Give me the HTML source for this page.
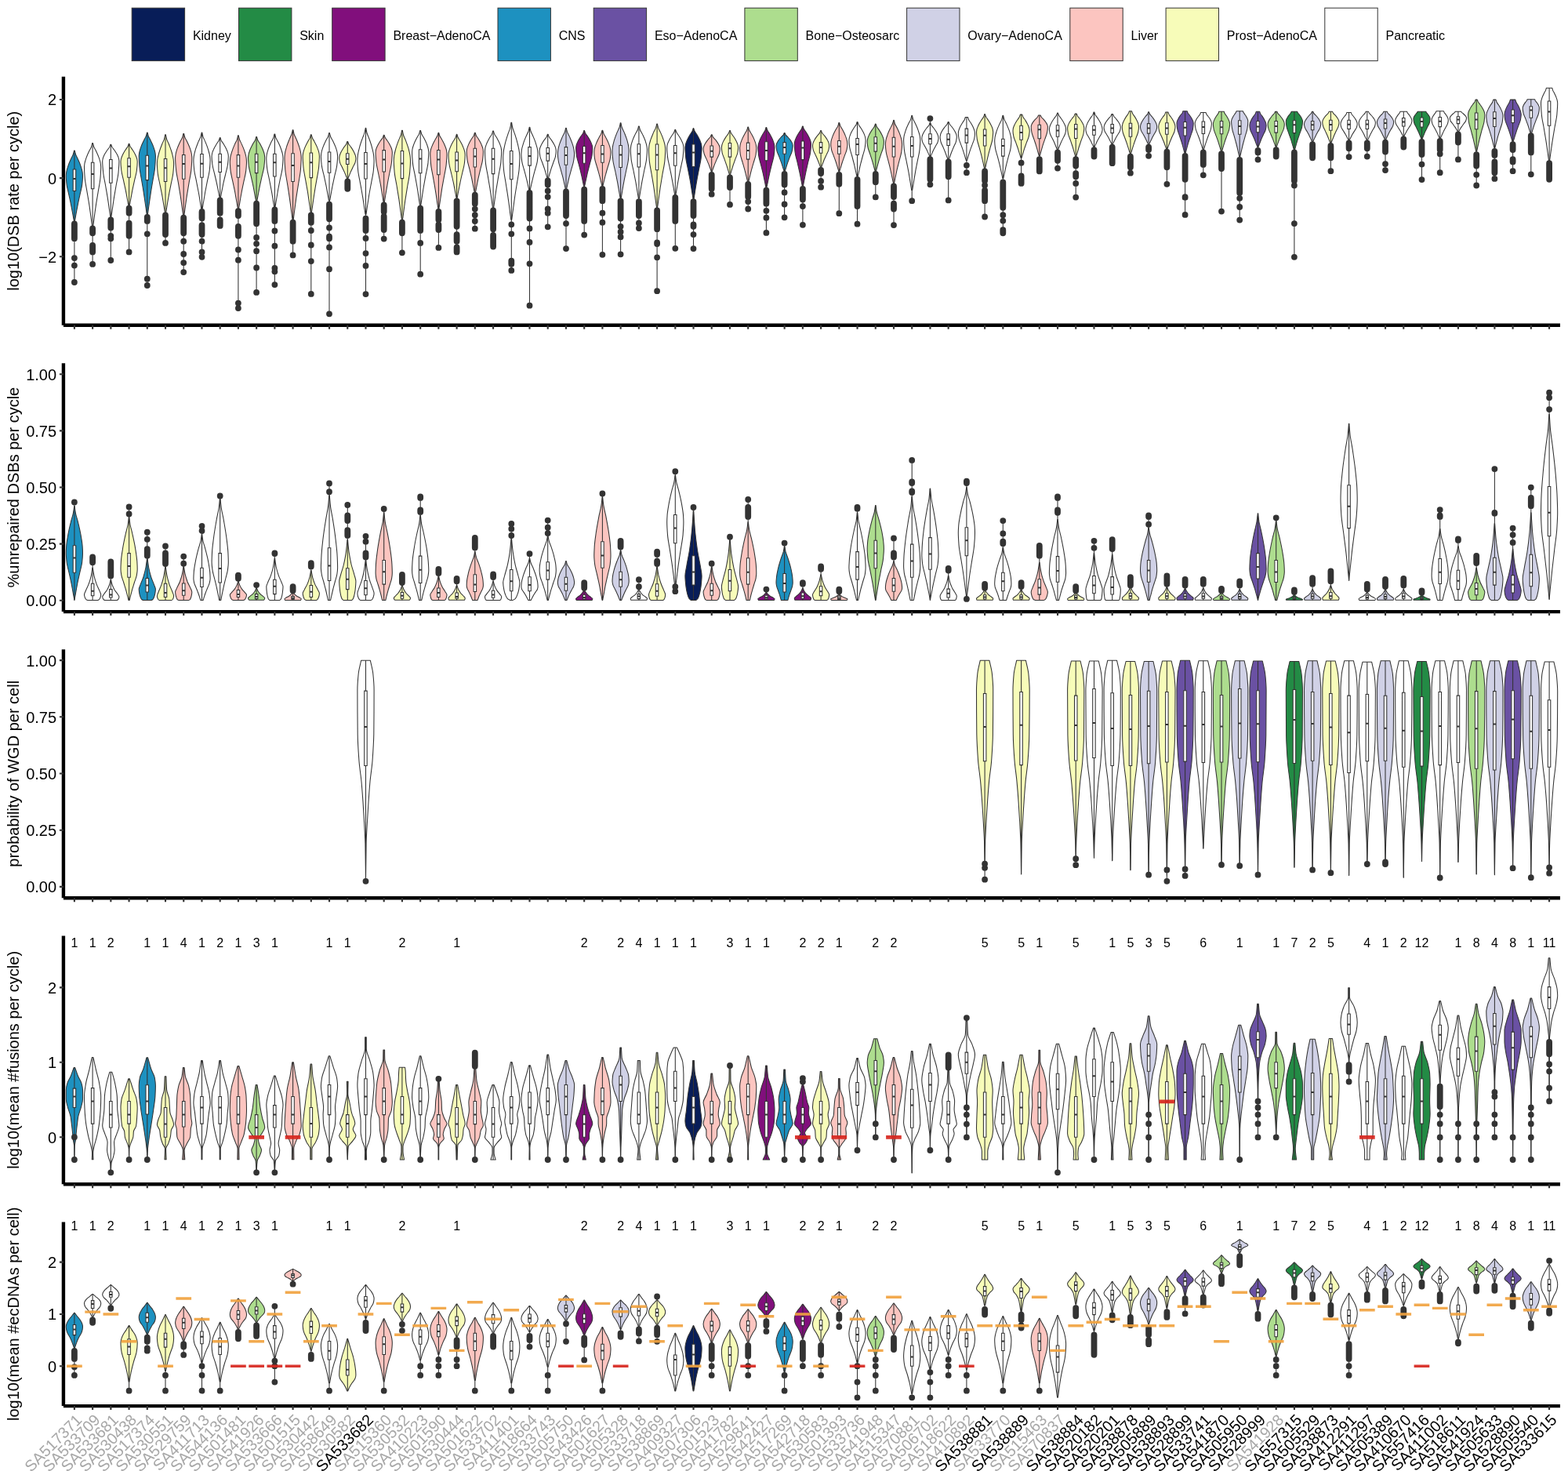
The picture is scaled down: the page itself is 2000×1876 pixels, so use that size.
<!DOCTYPE html>
<html lang="en"><head><meta charset="utf-8"><title>Violin plots</title>
<style>html,body{margin:0;padding:0;background:#fff}svg{display:block}</style></head>
<body>
<svg width="2000" height="1876" viewBox="0 0 2000 1876" font-family="'Liberation Sans', Arial, Helvetica, sans-serif">
<rect width="2000" height="1876" fill="#fff"/>
<g stroke="#333" stroke-width="1">
<rect x="168.2" y="10.2" width="67.4" height="67.4" fill="#081d58"/>
<rect x="304.5" y="10.2" width="67.4" height="67.4" fill="#238b45"/>
<rect x="423.7" y="10.2" width="67.4" height="67.4" fill="#810f7c"/>
<rect x="635" y="10.2" width="67.4" height="67.4" fill="#1d91c0"/>
<rect x="757.2" y="10.2" width="67.4" height="67.4" fill="#6a51a3"/>
<rect x="949.9" y="10.2" width="67.4" height="67.4" fill="#addd8e"/>
<rect x="1156.6" y="10.2" width="67.4" height="67.4" fill="#d0d1e6"/>
<rect x="1364.8" y="10.2" width="67.4" height="67.4" fill="#fcc5c0"/>
<rect x="1487.1" y="10.2" width="67.4" height="67.4" fill="#f7fcb9"/>
<rect x="1689.8" y="10.2" width="67.4" height="67.4" fill="#ffffff"/>
</g>
<g font-size="16.0" fill="#000">
<text x="245.9" y="50.6">Kidney</text>
<text x="382.2" y="50.6">Skin</text>
<text x="501.4" y="50.6">Breast−AdenoCA</text>
<text x="712.7" y="50.6">CNS</text>
<text x="834.9" y="50.6">Eso−AdenoCA</text>
<text x="1027.6" y="50.6">Bone−Osteosarc</text>
<text x="1234.3" y="50.6">Ovary−AdenoCA</text>
<text x="1442.5" y="50.6">Liver</text>
<text x="1564.8" y="50.6">Prost−AdenoCA</text>
<text x="1767.5" y="50.6">Pancreatic</text>
</g>
<g stroke="#333" stroke-width="1.05" stroke-linejoin="round">
<path fill="#1d91c0" d="M95.2 191.9C95.6 193.5 95.9 195.2 96.5 196.8C97.1 198.8 98.5 200.7 99.3 202.7C100.7 205.7 102.1 208.8 103 211.8C103.9 214.4 104.8 217 105.1 219.6C105.3 221.2 105.5 222.9 105.5 224.5C105.5 228.1 105.1 231.8 104.7 235.4C104.2 239.8 102.8 244.2 101.9 248.6C100.9 253 99.9 257.4 99.1 261.9C98.2 266.3 97.4 270.7 96.6 275.1C96.2 277.4 95.8 279.7 95.4 282L94.4 282C94 279.7 93.6 277.4 93.2 275.1C92.4 270.7 91.6 266.3 90.7 261.9C89.9 257.4 88.9 253 87.9 248.6C87 244.2 85.6 239.8 85.1 235.4C84.7 231.8 84.3 228.1 84.3 224.5C84.3 222.9 84.5 221.2 84.7 219.6C85 217 85.9 214.4 86.8 211.8C87.7 208.8 89.1 205.7 90.5 202.7C91.3 200.7 92.7 198.8 93.3 196.8C93.9 195.2 94.2 193.5 94.6 191.9Z"/>
<path fill="#ffffff" d="M118.4 182.5C118.9 184 119.1 185.6 119.7 187.1C120.3 189 121.7 190.8 122.6 192.7C123.9 195.5 125.3 198.4 126.3 201.3C127.1 203.8 128 206.3 128.3 208.7C128.5 210.3 128.7 211.8 128.7 213.4C128.7 218.1 128.3 222.9 127.9 227.7C127.4 233.5 126 239.3 125.1 245.1C124.2 250.8 123.1 256.6 122.3 262.4C121.4 268.2 120.6 274 119.9 279.8C119.5 282.8 119.1 285.8 118.7 288.8L117.6 288.8C117.2 285.8 116.8 282.8 116.4 279.8C115.6 274 114.8 268.2 114 262.4C113.1 256.6 112.1 250.8 111.1 245.1C110.2 239.3 108.8 233.5 108.3 227.7C107.9 222.9 107.5 218.1 107.5 213.4C107.5 211.8 107.7 210.3 107.9 208.7C108.3 206.3 109.2 203.8 110 201.3C111 198.4 112.3 195.5 113.7 192.7C114.6 190.8 115.9 189 116.6 187.1C117.1 185.6 117.4 184 117.8 182.5Z"/>
<path fill="#ffffff" d="M141.7 184.2C142.1 185.3 142.4 186.3 142.9 187.4C143.5 188.7 144.9 190 145.8 191.3C147.1 193.3 148.5 195.3 149.5 197.3C150.3 199 151.2 200.7 151.5 202.4C151.7 203.5 151.9 204.6 151.9 205.6C151.9 210.1 151.5 214.7 151.1 219.2C150.7 224.6 149.3 230.1 148.3 235.5C147.4 241 146.4 246.4 145.5 251.9C144.6 257.4 143.9 262.8 143.1 268.3C142.7 271.1 142.3 274 141.9 276.8L140.8 276.8C140.4 274 140 271.1 139.6 268.3C138.8 262.8 138.1 257.4 137.2 251.9C136.3 246.4 135.3 241 134.4 235.5C133.4 230.1 132 224.6 131.6 219.2C131.2 214.7 130.7 210.1 130.7 205.6C130.7 204.6 131 203.5 131.2 202.4C131.5 200.7 132.4 199 133.2 197.3C134.2 195.3 135.6 193.3 136.9 191.3C137.8 190 139.2 188.7 139.8 187.4C140.3 186.3 140.6 185.3 141 184.2Z"/>
<path fill="#f7fcb9" d="M164.9 183.3C165.3 184.5 165.6 185.7 166.1 186.8C166.8 188.2 168.1 189.6 169 191C170.4 193.1 171.7 195.3 172.7 197.5C173.5 199.3 174.4 201.2 174.8 203C175 204.2 175.2 205.3 175.2 206.5C175.2 210.1 174.8 213.7 174.4 217.2C173.9 221.6 172.5 225.9 171.5 230.3C170.6 234.6 169.6 238.9 168.7 243.3C167.9 247.6 167.1 252 166.3 256.3C165.9 258.6 165.5 260.8 165.1 263.1L164 263.1C163.6 260.8 163.2 258.6 162.8 256.3C162 252 161.3 247.6 160.4 243.3C159.5 238.9 158.5 234.6 157.6 230.3C156.7 225.9 155.3 221.6 154.8 217.2C154.4 213.7 154 210.1 154 206.5C154 205.3 154.2 204.2 154.4 203C154.7 201.2 155.6 199.3 156.4 197.5C157.4 195.3 158.8 193.1 160.1 191C161 189.6 162.4 188.2 163 186.8C163.6 185.7 163.8 184.5 164.3 183.3Z"/>
<path fill="#1d91c0" d="M188.1 169.1C188.5 170.6 188.8 172.2 189.3 173.7C190 175.5 191.4 177.3 192.2 179.2C193.6 182 195 184.9 195.9 187.7C196.8 190.2 197.7 192.6 198 195.1C198.2 196.6 198.4 198.1 198.4 199.6C198.4 204.4 198 209.1 197.6 213.8C197.1 219.5 195.7 225.2 194.8 231C193.8 236.7 192.8 242.4 192 248.1C191.1 253.9 190.3 259.6 189.5 265.3C189.1 268.3 188.7 271.3 188.3 274.2L187.3 274.2C186.9 271.3 186.5 268.3 186.1 265.3C185.3 259.6 184.5 253.9 183.6 248.1C182.8 242.4 181.8 236.7 180.8 231C179.9 225.2 178.5 219.5 178 213.8C177.6 209.1 177.2 204.4 177.2 199.6C177.2 198.1 177.4 196.6 177.6 195.1C177.9 192.6 178.8 190.2 179.7 187.7C180.6 184.9 182 182 183.4 179.2C184.2 177.3 185.6 175.5 186.2 173.7C186.8 172.2 187.1 170.6 187.5 169.1Z"/>
<path fill="#f7fcb9" d="M211.3 171.7C211.8 173.5 212 175.4 212.6 177.3C213.2 179.5 214.6 181.8 215.5 184C216.8 187.5 218.2 191 219.2 194.5C220 197.5 220.9 200.5 221.2 203.5C221.4 205.3 221.6 207.2 221.6 209.1C221.6 213 221.2 217 220.8 221C220.3 225.8 218.9 230.6 218 235.4C217.1 240.2 216 245 215.2 249.8C214.3 254.6 213.5 259.4 212.8 264.2C212.3 266.7 212 269.2 211.6 271.7L210.5 271.7C210.1 269.2 209.7 266.7 209.3 264.2C208.5 259.4 207.7 254.6 206.9 249.8C206 245 205 240.2 204 235.4C203.1 230.6 201.7 225.8 201.2 221C200.8 217 200.4 213 200.4 209.1C200.4 207.2 200.6 205.3 200.8 203.5C201.2 200.5 202.1 197.5 202.9 194.5C203.9 191 205.2 187.5 206.6 184C207.5 181.8 208.8 179.5 209.5 177.3C210 175.4 210.3 173.5 210.7 171.7Z"/>
<path fill="#fcc5c0" d="M234.6 170.5C235 172 235.3 173.6 235.8 175.1C236.4 177 237.8 178.8 238.7 180.7C240 183.5 241.4 186.4 242.4 189.3C243.2 191.8 244.1 194.2 244.4 196.7C244.6 198.3 244.8 199.8 244.8 201.3C244.8 206 244.4 210.7 244 215.4C243.6 221 242.2 226.7 241.2 232.3C240.3 238 239.3 243.6 238.4 249.3C237.5 254.9 236.8 260.6 236 266.3C235.6 269.2 235.2 272.2 234.8 275.1L233.7 275.1C233.3 272.2 232.9 269.2 232.5 266.3C231.7 260.6 231 254.9 230.1 249.3C229.2 243.6 228.2 238 227.3 232.3C226.3 226.7 224.9 221 224.5 215.4C224.1 210.7 223.6 206 223.6 201.3C223.6 199.8 223.9 198.3 224.1 196.7C224.4 194.2 225.3 191.8 226.1 189.3C227.1 186.4 228.5 183.5 229.8 180.7C230.7 178.8 232 177 232.7 175.1C233.2 173.6 233.5 172 233.9 170.5Z"/>
<path fill="#ffffff" d="M257.8 169.1C258.2 170.9 258.5 172.7 259 174.5C259.7 176.6 261 178.7 261.9 180.9C263.3 184.2 264.6 187.5 265.6 190.9C266.4 193.7 267.3 196.6 267.7 199.4C267.9 201.2 268.1 203 268.1 204.8C268.1 208.7 267.7 212.7 267.3 216.7C266.8 221.5 265.4 226.3 264.4 231.1C263.5 235.9 262.5 240.7 261.6 245.5C260.8 250.3 260 255.1 259.2 259.9C258.8 262.4 258.4 264.9 258 267.4L256.9 267.4C256.5 264.9 256.1 262.4 255.7 259.9C254.9 255.1 254.2 250.3 253.3 245.5C252.4 240.7 251.4 235.9 250.5 231.1C249.6 226.3 248.2 221.5 247.7 216.7C247.3 212.7 246.9 208.7 246.9 204.8C246.9 203 247.1 201.2 247.3 199.4C247.6 196.6 248.5 193.7 249.3 190.9C250.3 187.5 251.7 184.2 253 180.9C253.9 178.7 255.3 176.6 255.9 174.5C256.5 172.7 256.7 170.9 257.2 169.1Z"/>
<path fill="#ffffff" d="M281 175.6C281.4 176.8 281.7 178 282.2 179.2C282.9 180.7 284.2 182.1 285.1 183.5C286.5 185.8 287.9 188 288.8 190.3C289.7 192.2 290.6 194.1 290.9 196C291.1 197.2 291.3 198.4 291.3 199.6C291.3 203 290.9 206.4 290.5 209.7C290 213.8 288.6 217.9 287.7 222C286.7 226 285.7 230.1 284.8 234.2C284 238.3 283.2 242.3 282.4 246.4C282 248.6 281.6 250.7 281.2 252.8L280.2 252.8C279.8 250.7 279.4 248.6 279 246.4C278.2 242.3 277.4 238.3 276.5 234.2C275.7 230.1 274.7 226 273.7 222C272.8 217.9 271.4 213.8 270.9 209.7C270.5 206.4 270.1 203 270.1 199.6C270.1 198.4 270.3 197.2 270.5 196C270.8 194.1 271.7 192.2 272.6 190.3C273.5 188 274.9 185.8 276.3 183.5C277.1 182.1 278.5 180.7 279.1 179.2C279.7 178 280 176.8 280.4 175.6Z"/>
<path fill="#fcc5c0" d="M304.2 172.7C304.6 174.4 304.9 176.1 305.5 177.8C306.1 179.8 307.5 181.8 308.3 183.9C309.7 187 311.1 190.2 312.1 193.3C312.9 196 313.8 198.7 314.1 201.4C314.3 203.1 314.5 204.8 314.5 206.5C314.5 210.3 314.1 214.1 313.7 217.9C313.2 222.5 311.8 227.1 310.9 231.7C310 236.3 308.9 240.9 308.1 245.5C307.2 250.1 306.4 254.7 305.7 259.3C305.2 261.7 304.9 264.1 304.4 266.5L303.4 266.5C303 264.1 302.6 261.7 302.2 259.3C301.4 254.7 300.6 250.1 299.8 245.5C298.9 240.9 297.9 236.3 296.9 231.7C296 227.1 294.6 222.5 294.1 217.9C293.7 214.1 293.3 210.3 293.3 206.5C293.3 204.8 293.5 203.1 293.7 201.4C294 198.7 295 196 295.8 193.3C296.8 190.2 298.1 187 299.5 183.9C300.4 181.8 301.7 179.8 302.4 177.8C302.9 176.1 303.2 174.4 303.6 172.7Z"/>
<path fill="#addd8e" d="M327.5 174.4C327.9 175.8 328.2 177.1 328.7 178.5C329.3 180.1 330.7 181.7 331.6 183.3C332.9 185.8 334.3 188.3 335.3 190.8C336.1 193 337 195.2 337.3 197.3C337.5 198.7 337.7 200 337.7 201.3C337.7 204.9 337.3 208.4 336.9 211.9C336.5 216.2 335.1 220.5 334.1 224.8C333.2 229 332.2 233.3 331.3 237.6C330.4 241.9 329.7 246.1 328.9 250.4C328.5 252.6 328.1 254.9 327.7 257.1L326.6 257.1C326.2 254.9 325.8 252.6 325.4 250.4C324.6 246.1 323.9 241.9 323 237.6C322.1 233.3 321.1 229 320.2 224.8C319.2 220.5 317.8 216.2 317.3 211.9C317 208.4 316.5 204.9 316.5 201.3C316.5 200 316.8 198.7 317 197.3C317.3 195.2 318.2 193 319 190.8C320 188.3 321.4 185.8 322.7 183.3C323.6 181.7 324.9 180.1 325.6 178.5C326.1 177.1 326.4 175.8 326.8 174.4Z"/>
<path fill="#ffffff" d="M350.7 171C351.1 172.5 351.4 174.1 351.9 175.7C352.6 177.5 353.9 179.4 354.8 181.3C356.2 184.2 357.5 187.1 358.5 190C359.3 192.5 360.2 195 360.6 197.5C360.8 199.1 361 200.6 361 202.2C361 206.2 360.6 210.1 360.2 214.1C359.7 218.9 358.3 223.7 357.3 228.5C356.4 233.3 355.4 238.1 354.5 242.9C353.7 247.7 352.9 252.5 352.1 257.3C351.7 259.8 351.3 262.3 350.9 264.8L349.8 264.8C349.4 262.3 349 259.8 348.6 257.3C347.8 252.5 347.1 247.7 346.2 242.9C345.3 238.1 344.3 233.3 343.4 228.5C342.5 223.7 341 218.9 340.6 214.1C340.2 210.1 339.8 206.2 339.8 202.2C339.8 200.6 340 199.1 340.2 197.5C340.5 195 341.4 192.5 342.2 190C343.2 187.1 344.6 184.2 345.9 181.3C346.8 179.4 348.2 177.5 348.8 175.7C349.4 174.1 349.6 172.5 350 171Z"/>
<path fill="#fcc5c0" d="M373.9 165.7C374.3 167.5 374.6 169.2 375.1 171C375.8 173.2 377.1 175.3 378 177.4C379.4 180.8 380.8 184.1 381.7 187.4C382.5 190.3 383.5 193.1 383.8 196C384 197.8 384.2 199.6 384.2 201.3C384.2 206.4 383.8 211.4 383.4 216.5C382.9 222.6 381.5 228.7 380.6 234.8C379.6 241 378.6 247.1 377.7 253.2C376.9 259.3 376.1 265.4 375.3 271.5C374.9 274.7 374.5 277.9 374.1 281.1L373.1 281.1C372.7 277.9 372.3 274.7 371.9 271.5C371.1 265.4 370.3 259.3 369.4 253.2C368.6 247.1 367.6 241 366.6 234.8C365.7 228.7 364.3 222.6 363.8 216.5C363.4 211.4 363 206.4 363 201.3C363 199.6 363.2 197.8 363.4 196C363.7 193.1 364.6 190.3 365.5 187.4C366.4 184.1 367.8 180.8 369.2 177.4C370 175.3 371.4 173.2 372 171C372.6 169.2 372.9 167.5 373.3 165.7Z"/>
<path fill="#f7fcb9" d="M397.1 171.7C397.5 173.1 397.8 174.5 398.4 175.9C399 177.5 400.4 179.2 401.2 180.9C402.6 183.5 404 186.1 404.9 188.7C405.8 191 406.7 193.2 407 195.4C407.2 196.8 407.4 198.2 407.4 199.6C407.4 204.2 407 208.8 406.6 213.3C406.1 218.8 404.7 224.4 403.8 229.9C402.8 235.4 401.8 240.9 401 246.5C400.1 252 399.3 257.5 398.6 263C398.1 265.9 397.7 268.8 397.3 271.7L396.3 271.7C395.9 268.8 395.5 265.9 395.1 263C394.3 257.5 393.5 252 392.7 246.5C391.8 240.9 390.8 235.4 389.8 229.9C388.9 224.4 387.5 218.8 387 213.3C386.6 208.8 386.2 204.2 386.2 199.6C386.2 198.2 386.4 196.8 386.6 195.4C386.9 193.2 387.9 191 388.7 188.7C389.6 186.1 391 183.5 392.4 180.9C393.3 179.2 394.6 177.5 395.3 175.9C395.8 174.5 396.1 173.1 396.5 171.7Z"/>
<path fill="#ffffff" d="M420.4 169.6C420.8 171.1 421.1 172.6 421.6 174.1C422.2 175.9 423.6 177.7 424.5 179.5C425.8 182.3 427.2 185.1 428.2 187.9C429 190.3 429.9 192.7 430.2 195.1C430.4 196.6 430.6 198.1 430.6 199.6C430.6 203.2 430.2 206.8 429.8 210.4C429.4 214.7 428 219.1 427 223.4C426.1 227.7 425.1 232.1 424.2 236.4C423.3 240.8 422.6 245.1 421.8 249.4C421.4 251.7 421 254 420.6 256.2L419.5 256.2C419.1 254 418.7 251.7 418.3 249.4C417.5 245.1 416.8 240.8 415.9 236.4C415 232.1 414 227.7 413.1 223.4C412.1 219.1 410.7 214.7 410.2 210.4C409.9 206.8 409.4 203.2 409.4 199.6C409.4 198.1 409.7 196.6 409.9 195.1C410.2 192.7 411.1 190.3 411.9 187.9C412.9 185.1 414.2 182.3 415.6 179.5C416.5 177.7 417.8 175.9 418.5 174.1C419 172.6 419.3 171.1 419.7 169.6Z"/>
<path fill="#f7fcb9" d="M443.6 180.4C444 181.5 444.3 182.6 444.8 183.7C445.5 185 446.8 186.3 447.7 187.6C449.1 189.6 450.4 191.7 451.4 193.7C452.2 195.5 453.1 197.2 453.5 198.9C453.7 200 453.9 201.1 453.9 202.2C453.9 203.8 453.5 205.5 453.1 207.1C452.6 209.1 451.2 211 450.2 213C449.3 215 448.3 217 447.4 218.9C446.6 220.9 445.8 222.9 445 224.8C444.6 225.9 444.2 226.9 443.8 227.9L442.7 227.9C442.3 226.9 441.9 225.9 441.5 224.8C440.7 222.9 440 220.9 439.1 218.9C438.2 217 437.2 215 436.3 213C435.3 211 433.9 209.1 433.5 207.1C433.1 205.5 432.7 203.8 432.7 202.2C432.7 201.1 432.9 200 433.1 198.9C433.4 197.2 434.3 195.5 435.1 193.7C436.1 191.7 437.5 189.6 438.8 187.6C439.7 186.3 441.1 185 441.7 183.7C442.2 182.6 442.5 181.5 442.9 180.4Z"/>
<path fill="#ffffff" d="M466.8 163.3C467.2 165.3 467.5 167.4 468 169.5C468.7 172 470 174.5 470.9 177C472.3 180.8 473.7 184.7 474.6 188.6C475.4 191.9 476.4 195.2 476.7 198.6C476.9 200.6 477.1 202.7 477.1 204.8C477.1 209.1 476.7 213.5 476.3 217.8C475.8 223.1 474.4 228.3 473.5 233.6C472.5 238.9 471.5 244.1 470.6 249.4C469.8 254.6 469 259.9 468.2 265.2C467.8 267.9 467.4 270.6 467 273.4L466 273.4C465.6 270.6 465.2 267.9 464.7 265.2C464 259.9 463.2 254.6 462.3 249.4C461.5 244.1 460.5 238.9 459.5 233.6C458.6 228.3 457.2 223.1 456.7 217.8C456.3 213.5 455.9 209.1 455.9 204.8C455.9 202.7 456.1 200.6 456.3 198.6C456.6 195.2 457.5 191.9 458.4 188.6C459.3 184.7 460.7 180.8 462.1 177C462.9 174.5 464.3 172 464.9 169.5C465.5 167.4 465.8 165.3 466.2 163.3Z"/>
<path fill="#fcc5c0" d="M490 172.2C490.4 173.3 490.7 174.4 491.3 175.5C491.9 176.9 493.3 178.2 494.1 179.5C495.5 181.6 496.9 183.7 497.8 185.8C498.7 187.6 499.6 189.4 499.9 191.1C500.1 192.3 500.3 193.4 500.3 194.5C500.3 198.6 499.9 202.6 499.5 206.7C499 211.6 497.6 216.6 496.7 221.5C495.7 226.4 494.7 231.4 493.9 236.3C493 241.2 492.2 246.2 491.4 251.1C491 253.7 490.6 256.2 490.2 258.8L489.2 258.8C488.8 256.2 488.4 253.7 488 251.1C487.2 246.2 486.4 241.2 485.6 236.3C484.7 231.4 483.7 226.4 482.7 221.5C481.8 216.6 480.4 211.6 479.9 206.7C479.5 202.6 479.1 198.6 479.1 194.5C479.1 193.4 479.3 192.3 479.5 191.1C479.8 189.4 480.8 187.6 481.6 185.8C482.5 183.7 483.9 181.6 485.3 179.5C486.2 178.2 487.5 176.9 488.2 175.5C488.7 174.4 489 173.3 489.4 172.2Z"/>
<path fill="#f7fcb9" d="M513.3 166.2C513.7 168.1 513.9 170 514.5 172C515.1 174.3 516.5 176.6 517.4 178.9C518.7 182.5 520.1 186.1 521.1 189.7C521.9 192.8 522.8 195.9 523.1 199C523.3 200.9 523.5 202.8 523.5 204.8C523.5 209.6 523.1 214.3 522.7 219.1C522.3 224.9 520.9 230.7 519.9 236.5C519 242.3 518 248 517.1 253.8C516.2 259.6 515.5 265.4 514.7 271.2C514.3 274.2 513.9 277.2 513.5 280.2L512.4 280.2C512 277.2 511.6 274.2 511.2 271.2C510.4 265.4 509.6 259.6 508.8 253.8C507.9 248 506.9 242.3 506 236.5C505 230.7 503.6 224.9 503.1 219.1C502.7 214.3 502.3 209.6 502.3 204.8C502.3 202.8 502.5 200.9 502.7 199C503.1 195.9 504 192.8 504.8 189.7C505.8 186.1 507.1 182.5 508.5 178.9C509.4 176.6 510.7 174.3 511.4 172C511.9 170 512.2 168.1 512.6 166.2Z"/>
<path fill="#ffffff" d="M536.5 166.5C536.9 167.9 537.2 169.3 537.7 170.7C538.4 172.4 539.7 174.1 540.6 175.8C542 178.4 543.3 181 544.3 183.6C545.1 185.8 546 188.1 546.3 190.3C546.5 191.7 546.8 193.1 546.8 194.5C546.8 198.8 546.3 203.1 546 207.4C545.5 212.6 544.1 217.7 543.1 222.9C542.2 228.1 541.2 233.3 540.3 238.5C539.4 243.7 538.7 248.9 537.9 254.1C537.5 256.8 537.1 259.5 536.7 262.2L535.6 262.2C535.2 259.5 534.8 256.8 534.4 254.1C533.6 248.9 532.9 243.7 532 238.5C531.1 233.3 530.1 228.1 529.2 222.9C528.2 217.7 526.8 212.6 526.4 207.4C526 203.1 525.6 198.8 525.6 194.5C525.6 193.1 525.8 191.7 526 190.3C526.3 188.1 527.2 185.8 528 183.6C529 181 530.4 178.4 531.7 175.8C532.6 174.1 534 172.4 534.6 170.7C535.1 169.3 535.4 167.9 535.8 166.5Z"/>
<path fill="#fcc5c0" d="M559.7 169.3C560.1 170.6 560.4 172 560.9 173.3C561.6 174.9 562.9 176.5 563.8 178.2C565.2 180.7 566.6 183.2 567.5 185.7C568.3 187.9 569.3 190 569.6 192.2C569.8 193.5 570 194.9 570 196.2C570 200.7 569.6 205.1 569.2 209.6C568.7 215 567.3 220.3 566.4 225.7C565.4 231.1 564.4 236.5 563.5 241.9C562.7 247.3 561.9 252.7 561.1 258.1C560.7 260.9 560.3 263.7 559.9 266.5L558.9 266.5C558.5 263.7 558.1 260.9 557.6 258.1C556.9 252.7 556.1 247.3 555.2 241.9C554.4 236.5 553.3 231.1 552.4 225.7C551.5 220.3 550.1 215 549.6 209.6C549.2 205.1 548.8 200.7 548.8 196.2C548.8 194.9 549 193.5 549.2 192.2C549.5 190 550.4 187.9 551.3 185.7C552.2 183.2 553.6 180.7 555 178.2C555.8 176.5 557.2 174.9 557.8 173.3C558.4 172 558.7 170.6 559.1 169.3Z"/>
<path fill="#f7fcb9" d="M582.9 171.3C583.3 172.7 583.6 174 584.2 175.3C584.8 176.9 586.2 178.5 587 180.1C588.4 182.6 589.8 185.1 590.7 187.5C591.6 189.7 592.5 191.8 592.8 193.9C593 195.3 593.2 196.6 593.2 197.9C593.2 201.4 592.8 204.9 592.4 208.3C591.9 212.6 590.5 216.8 589.6 221C588.6 225.2 587.6 229.4 586.8 233.6C585.9 237.8 585.1 242 584.3 246.2C583.9 248.4 583.5 250.6 583.1 252.8L582.1 252.8C581.7 250.6 581.3 248.4 580.9 246.2C580.1 242 579.3 237.8 578.5 233.6C577.6 229.4 576.6 225.2 575.6 221C574.7 216.8 573.3 212.6 572.8 208.3C572.4 204.9 572 201.4 572 197.9C572 196.6 572.2 195.3 572.4 193.9C572.7 191.8 573.6 189.7 574.5 187.5C575.4 185.1 576.8 182.6 578.2 180.1C579.1 178.5 580.4 176.9 581.1 175.3C581.6 174 581.9 172.7 582.3 171.3Z"/>
<path fill="#fcc5c0" d="M606.2 169.3C606.6 170.5 606.8 171.7 607.4 172.9C608 174.4 609.4 175.8 610.3 177.3C611.6 179.6 613 181.9 614 184.1C614.8 186.1 615.7 188 616 190C616.2 191.2 616.4 192.4 616.4 193.6C616.4 196.9 616 200.3 615.6 203.6C615.2 207.6 613.7 211.6 612.8 215.6C611.9 219.6 610.9 223.6 610 227.6C609.1 231.6 608.4 235.7 607.6 239.7C607.2 241.8 606.8 243.9 606.4 245.9L605.3 245.9C604.9 243.9 604.5 241.8 604.1 239.7C603.3 235.7 602.5 231.6 601.7 227.6C600.8 223.6 599.8 219.6 598.9 215.6C597.9 211.6 596.5 207.6 596 203.6C595.6 200.3 595.2 196.9 595.2 193.6C595.2 192.4 595.4 191.2 595.6 190C596 188 596.9 186.1 597.7 184.1C598.7 181.9 600 179.6 601.4 177.3C602.3 175.8 603.6 174.4 604.3 172.9C604.8 171.7 605.1 170.5 605.5 169.3Z"/>
<path fill="#ffffff" d="M629.4 167C629.8 168.3 630.1 169.6 630.6 170.9C631.3 172.4 632.6 174 633.5 175.5C634.8 177.9 636.2 180.3 637.2 182.7C638 184.8 638.9 186.9 639.2 188.9C639.4 190.2 639.7 191.5 639.7 192.8C639.7 197.4 639.2 202 638.9 206.6C638.4 212.2 637 217.8 636 223.4C635.1 229 634.1 234.6 633.2 240.2C632.3 245.7 631.6 251.3 630.8 256.9C630.4 259.8 630 262.8 629.6 265.7L628.5 265.7C628.1 262.8 627.7 259.8 627.3 256.9C626.5 251.3 625.8 245.7 624.9 240.2C624 234.6 623 229 622.1 223.4C621.1 217.8 619.7 212.2 619.3 206.6C618.9 202 618.5 197.4 618.5 192.8C618.5 191.5 618.7 190.2 618.9 188.9C619.2 186.9 620.1 184.8 620.9 182.7C621.9 180.3 623.3 177.9 624.6 175.5C625.5 174 626.9 172.4 627.5 170.9C628 169.6 628.3 168.3 628.7 167Z"/>
<path fill="#ffffff" d="M652.6 156.2C653 158.5 653.3 160.7 653.8 163C654.5 165.7 655.8 168.4 656.7 171.1C658.1 175.3 659.4 179.5 660.4 183.8C661.2 187.4 662.1 191 662.5 194.6C662.7 196.8 662.9 199.1 662.9 201.3C662.9 206.3 662.5 211.3 662.1 216.3C661.6 222.4 660.2 228.4 659.3 234.5C658.3 240.5 657.3 246.6 656.4 252.6C655.6 258.7 654.8 264.7 654 270.8C653.6 273.9 653.2 277.1 652.8 280.2L651.8 280.2C651.3 277.1 651 273.9 650.5 270.8C649.8 264.7 649 258.7 648.1 252.6C647.3 246.6 646.2 240.5 645.3 234.5C644.4 228.4 643 222.4 642.5 216.3C642.1 211.3 641.7 206.3 641.7 201.3C641.7 199.1 641.9 196.8 642.1 194.6C642.4 191 643.3 187.4 644.1 183.8C645.1 179.5 646.5 175.3 647.9 171.1C648.7 168.4 650.1 165.7 650.7 163C651.3 160.7 651.6 158.5 652 156.2Z"/>
<path fill="#ffffff" d="M675.8 162.2C676.2 164 676.5 165.7 677.1 167.5C677.7 169.6 679.1 171.6 679.9 173.7C681.3 177 682.7 180.2 683.6 183.5C684.5 186.3 685.4 189 685.7 191.8C685.9 193.6 686.1 195.3 686.1 197.1C686.1 200 685.7 202.9 685.3 205.9C684.8 209.4 683.4 213 682.5 216.5C681.5 220.1 680.5 223.6 679.7 227.2C678.8 230.7 678 234.3 677.2 237.8C676.8 239.7 676.4 241.5 676 243.4L675 243.4C674.6 241.5 674.2 239.7 673.8 237.8C673 234.3 672.2 230.7 671.3 227.2C670.5 223.6 669.5 220.1 668.5 216.5C667.6 213 666.2 209.4 665.7 205.9C665.3 202.9 664.9 200 664.9 197.1C664.9 195.3 665.1 193.6 665.3 191.8C665.6 189 666.5 186.3 667.4 183.5C668.3 180.2 669.7 177 671.1 173.7C671.9 171.6 673.3 169.6 674 167.5C674.5 165.7 674.8 164 675.2 162.2Z"/>
<path fill="#ffffff" d="M699 171.3C699.5 172.4 699.7 173.5 700.3 174.5C700.9 175.8 702.3 177.1 703.2 178.4C704.5 180.4 705.9 182.4 706.9 184.4C707.7 186.1 708.6 187.8 708.9 189.6C709.1 190.6 709.3 191.7 709.3 192.8C709.3 195 708.9 197.2 708.5 199.5C708 202.1 706.6 204.8 705.7 207.5C704.8 210.2 703.8 212.9 702.9 215.6C702 218.3 701.3 221 700.5 223.7C700.1 225.1 699.7 226.5 699.3 227.9L698.2 227.9C697.8 226.5 697.4 225.1 697 223.7C696.2 221 695.4 218.3 694.6 215.6C693.7 212.9 692.7 210.2 691.8 207.5C690.8 204.8 689.4 202.1 688.9 199.5C688.5 197.2 688.1 195 688.1 192.8C688.1 191.7 688.3 190.6 688.5 189.6C688.9 187.8 689.8 186.1 690.6 184.4C691.6 182.4 692.9 180.4 694.3 178.4C695.2 177.1 696.5 175.8 697.2 174.5C697.7 173.5 698 172.4 698.4 171.3Z"/>
<path fill="#d0d1e6" d="M722.3 163.3C722.7 164.9 723 166.6 723.5 168.2C724.2 170.2 725.5 172.2 726.4 174.1C727.7 177.2 729.1 180.3 730.1 183.4C730.9 186 731.8 188.6 732.1 191.3C732.3 192.9 732.6 194.6 732.6 196.2C732.6 199.1 732.1 202 731.7 204.8C731.3 208.3 729.9 211.8 728.9 215.3C728 218.8 727 222.3 726.1 225.7C725.2 229.2 724.5 232.7 723.7 236.2C723.3 238 722.9 239.8 722.5 241.7L721.4 241.7C721 239.8 720.6 238 720.2 236.2C719.4 232.7 718.7 229.2 717.8 225.7C716.9 222.3 715.9 218.8 715 215.3C714 211.8 712.6 208.3 712.2 204.8C711.8 202 711.4 199.1 711.4 196.2C711.4 194.6 711.6 192.9 711.8 191.3C712.1 188.6 713 186 713.8 183.4C714.8 180.3 716.2 177.2 717.5 174.1C718.4 172.2 719.8 170.2 720.4 168.2C720.9 166.6 721.2 164.9 721.6 163.3Z"/>
<path fill="#810f7c" d="M745.5 166.5C745.9 167.7 746.2 168.8 746.7 169.9C747.4 171.3 748.7 172.7 749.6 174.1C751 176.2 752.3 178.3 753.3 180.4C754.1 182.3 755 184.1 755.4 185.9C755.6 187.1 755.8 188.2 755.8 189.3C755.8 192.4 755.4 195.4 755 198.5C754.5 202.1 753.1 205.8 752.2 209.5C751.2 213.2 750.2 216.9 749.3 220.6C748.5 224.2 747.7 227.9 746.9 231.6C746.5 233.5 746.1 235.4 745.7 237.4L744.6 237.4C744.2 235.4 743.8 233.5 743.4 231.6C742.7 227.9 741.9 224.2 741 220.6C740.2 216.9 739.1 213.2 738.2 209.5C737.3 205.8 735.9 202.1 735.4 198.5C735 195.4 734.6 192.4 734.6 189.3C734.6 188.2 734.8 187.1 735 185.9C735.3 184.1 736.2 182.3 737 180.4C738 178.3 739.4 176.2 740.7 174.1C741.6 172.7 743 171.3 743.6 169.9C744.2 168.8 744.4 167.7 744.9 166.5Z"/>
<path fill="#fcc5c0" d="M768.7 166.2C769.1 167.6 769.4 169 770 170.4C770.6 172.1 772 173.8 772.8 175.5C774.2 178.2 775.6 180.8 776.5 183.4C777.4 185.7 778.3 188 778.6 190.2C778.8 191.7 779 193.1 779 194.5C779 197.2 778.6 199.9 778.2 202.6C777.7 205.9 776.3 209.2 775.4 212.5C774.4 215.8 773.4 219.1 772.6 222.4C771.7 225.6 770.9 228.9 770.1 232.2C769.7 233.9 769.3 235.7 768.9 237.4L767.9 237.4C767.5 235.7 767.1 233.9 766.7 232.2C765.9 228.9 765.1 225.6 764.2 222.4C763.4 219.1 762.4 215.8 761.4 212.5C760.5 209.2 759.1 205.9 758.6 202.6C758.2 199.9 757.8 197.2 757.8 194.5C757.8 193.1 758 191.7 758.2 190.2C758.5 188 759.4 185.7 760.3 183.4C761.2 180.8 762.6 178.2 764 175.5C764.8 173.8 766.2 172.1 766.8 170.4C767.4 169 767.7 167.6 768.1 166.2Z"/>
<path fill="#d0d1e6" d="M791.9 156.7C792.4 158.6 792.6 160.4 793.2 162.2C793.8 164.3 795.2 166.5 796.1 168.6C797.4 172 798.8 175.4 799.8 178.7C800.6 181.6 801.5 184.5 801.8 187.4C802 189.2 802.2 191 802.2 192.8C802.2 196.6 801.8 200.4 801.4 204.2C800.9 208.8 799.5 213.4 798.6 218C797.7 222.6 796.6 227.2 795.8 231.8C794.9 236.4 794.2 241 793.4 245.6C793 248 792.6 250.4 792.2 252.8L791.1 252.8C790.7 250.4 790.3 248 789.9 245.6C789.1 241 788.3 236.4 787.5 231.8C786.6 227.2 785.6 222.6 784.7 218C783.7 213.4 782.3 208.8 781.8 204.2C781.4 200.4 781 196.6 781 192.8C781 191 781.2 189.2 781.4 187.4C781.8 184.5 782.7 181.6 783.5 178.7C784.5 175.4 785.8 172 787.2 168.6C788.1 166.5 789.4 164.3 790.1 162.2C790.6 160.4 790.9 158.6 791.3 156.7Z"/>
<path fill="#ffffff" d="M815.2 161C815.6 162.5 815.9 164 816.4 165.5C817 167.3 818.4 169.1 819.3 170.9C820.6 173.7 822 176.5 823 179.3C823.8 181.7 824.7 184.2 825 186.6C825.2 188.1 825.5 189.6 825.5 191.1C825.5 195 825 198.9 824.6 202.8C824.2 207.5 822.8 212.3 821.8 217C820.9 221.7 819.9 226.5 819 231.2C818.1 235.9 817.4 240.7 816.6 245.4C816.2 247.9 815.8 250.3 815.4 252.8L814.3 252.8C813.9 250.3 813.5 247.9 813.1 245.4C812.3 240.7 811.6 235.9 810.7 231.2C809.8 226.5 808.8 221.7 807.9 217C806.9 212.3 805.5 207.5 805.1 202.8C804.7 198.9 804.3 195 804.3 191.1C804.3 189.6 804.5 188.1 804.7 186.6C805 184.2 805.9 181.7 806.7 179.3C807.7 176.5 809.1 173.7 810.4 170.9C811.3 169.1 812.7 167.3 813.3 165.5C813.8 164 814.1 162.5 814.5 161Z"/>
<path fill="#f7fcb9" d="M838.4 158C838.8 159.6 839.1 161.3 839.6 162.9C840.3 164.9 841.6 166.9 842.5 168.9C843.9 172 845.2 175.1 846.2 178.1C847 180.8 847.9 183.4 848.3 186.1C848.5 187.7 848.7 189.4 848.7 191.1C848.7 195.7 848.3 200.4 847.9 205.1C847.4 210.7 846 216.4 845 222C844.1 227.7 843.1 233.3 842.2 239C841.4 244.7 840.6 250.3 839.8 256C839.4 258.9 839 261.9 838.6 264.8L837.5 264.8C837.1 261.9 836.7 258.9 836.3 256C835.5 250.3 834.8 244.7 833.9 239C833.1 233.3 832 227.7 831.1 222C830.2 216.4 828.8 210.7 828.3 205.1C827.9 200.4 827.5 195.7 827.5 191.1C827.5 189.4 827.7 187.7 827.9 186.1C828.2 183.4 829.1 180.8 829.9 178.1C830.9 175.1 832.3 172 833.6 168.9C834.5 166.9 835.9 164.9 836.5 162.9C837.1 161.3 837.3 159.6 837.8 158Z"/>
<path fill="#ffffff" d="M861.6 165.3C862 166.5 862.3 167.6 862.9 168.8C863.5 170.2 864.9 171.6 865.7 173C867.1 175.1 868.5 177.3 869.4 179.5C870.3 181.3 871.2 183.2 871.5 185C871.7 186.2 871.9 187.3 871.9 188.5C871.9 192.3 871.5 196.2 871.1 200.1C870.6 204.7 869.2 209.4 868.3 214.1C867.3 218.7 866.3 223.4 865.5 228.1C864.6 232.7 863.8 237.4 863 242.1C862.6 244.5 862.2 246.9 861.8 249.4L860.8 249.4C860.4 246.9 860 244.5 859.6 242.1C858.8 237.4 858 232.7 857.1 228.1C856.3 223.4 855.3 218.7 854.3 214.1C853.4 209.4 852 204.7 851.5 200.1C851.1 196.2 850.7 192.3 850.7 188.5C850.7 187.3 850.9 186.2 851.1 185C851.4 183.2 852.3 181.3 853.2 179.5C854.1 177.3 855.5 175.1 856.9 173C857.7 171.6 859.1 170.2 859.7 168.8C860.3 167.6 860.6 166.5 861 165.3Z"/>
<path fill="#081d58" d="M884.8 163.6C885.3 164.9 885.5 166.1 886.1 167.3C886.7 168.8 888.1 170.3 889 171.8C890.3 174.1 891.7 176.5 892.7 178.8C893.5 180.8 894.4 182.8 894.7 184.8C894.9 186 895.1 187.2 895.1 188.5C895.1 192.6 894.7 196.7 894.3 200.9C893.8 205.9 892.4 210.9 891.5 215.9C890.6 220.9 889.5 225.9 888.7 230.8C887.8 235.8 887 240.8 886.3 245.8C885.9 248.4 885.5 251.1 885.1 253.7L884 253.7C883.6 251.1 883.2 248.4 882.8 245.8C882 240.8 881.2 235.8 880.4 230.8C879.5 225.9 878.5 220.9 877.5 215.9C876.6 210.9 875.2 205.9 874.7 200.9C874.3 196.7 873.9 192.6 873.9 188.5C873.9 187.2 874.1 186 874.3 184.8C874.7 182.8 875.6 180.8 876.4 178.8C877.4 176.5 878.7 174.1 880.1 171.8C881 170.3 882.3 168.8 883 167.3C883.5 166.1 883.8 164.9 884.2 163.6Z"/>
<path fill="#fcc5c0" d="M908.1 171.7C908.5 172.6 908.8 173.5 909.3 174.5C909.9 175.6 911.3 176.7 912.2 177.8C913.5 179.5 914.9 181.2 915.9 183C916.7 184.5 917.6 185.9 917.9 187.4C918.1 188.3 918.3 189.3 918.3 190.2C918.3 192 917.9 193.8 917.5 195.6C917.1 197.7 915.7 199.9 914.7 202.1C913.8 204.3 912.8 206.4 911.9 208.6C911 210.8 910.3 212.9 909.5 215.1C909.1 216.2 908.7 217.4 908.3 218.5L907.2 218.5C906.8 217.4 906.4 216.2 906 215.1C905.2 212.9 904.5 210.8 903.6 208.6C902.7 206.4 901.7 204.3 900.8 202.1C899.8 199.9 898.4 197.7 898 195.6C897.6 193.8 897.1 192 897.1 190.2C897.1 189.3 897.4 188.3 897.6 187.4C897.9 185.9 898.8 184.5 899.6 183C900.6 181.2 902 179.5 903.3 177.8C904.2 176.7 905.5 175.6 906.2 174.5C906.7 173.5 907 172.6 907.4 171.7Z"/>
<path fill="#f7fcb9" d="M931.3 166.5C931.7 167.6 932 168.7 932.5 169.8C933.2 171.1 934.5 172.5 935.4 173.8C936.8 175.8 938.1 177.9 939.1 179.9C939.9 181.7 940.8 183.4 941.2 185.2C941.4 186.3 941.6 187.4 941.6 188.5C941.6 190.7 941.2 192.8 940.8 195C940.3 197.6 938.9 200.3 937.9 202.9C937 205.5 936 208.2 935.1 210.8C934.3 213.4 933.5 216 932.7 218.7C932.3 220 931.9 221.4 931.5 222.8L930.4 222.8C930 221.4 929.6 220 929.2 218.7C928.4 216 927.7 213.4 926.8 210.8C925.9 208.2 924.9 205.5 924 202.9C923.1 200.3 921.7 197.6 921.2 195C920.8 192.8 920.4 190.7 920.4 188.5C920.4 187.4 920.6 186.3 920.8 185.2C921.1 183.4 922 181.7 922.8 179.9C923.8 177.9 925.2 175.8 926.5 173.8C927.4 172.5 928.8 171.1 929.4 169.8C930 168.7 930.2 167.6 930.7 166.5Z"/>
<path fill="#fcc5c0" d="M954.5 161.9C954.9 163.3 955.2 164.6 955.7 166C956.4 167.7 957.8 169.3 958.6 171C960 173.5 961.4 176.1 962.3 178.6C963.2 180.8 964.1 183 964.4 185.2C964.6 186.6 964.8 188 964.8 189.3C964.8 192.1 964.4 194.8 964 197.5C963.5 200.8 962.1 204.1 961.2 207.3C960.2 210.6 959.2 213.9 958.4 217.2C957.5 220.5 956.7 223.8 955.9 227.1C955.5 228.8 955.1 230.5 954.7 232.2L953.7 232.2C953.3 230.5 952.9 228.8 952.5 227.1C951.7 223.8 950.9 220.5 950 217.2C949.2 213.9 948.2 210.6 947.2 207.3C946.3 204.1 944.9 200.8 944.4 197.5C944 194.8 943.6 192.1 943.6 189.3C943.6 188 943.8 186.6 944 185.2C944.3 183 945.2 180.8 946.1 178.6C947 176.1 948.4 173.5 949.8 171C950.6 169.3 952 167.7 952.6 166C953.2 164.6 953.5 163.3 953.9 161.9Z"/>
<path fill="#810f7c" d="M977.7 162.4C978.1 163.7 978.4 165 979 166.3C979.6 167.9 981 169.4 981.9 171C983.2 173.4 984.6 175.9 985.6 178.3C986.4 180.4 987.3 182.5 987.6 184.6C987.8 185.9 988 187.2 988 188.5C988 191.7 987.6 194.9 987.2 198.1C986.7 202 985.3 205.9 984.4 209.7C983.5 213.6 982.4 217.5 981.6 221.4C980.7 225.3 979.9 229.1 979.2 233C978.7 235 978.4 237.1 977.9 239.1L976.9 239.1C976.5 237.1 976.1 235 975.7 233C974.9 229.1 974.1 225.3 973.3 221.4C972.4 217.5 971.4 213.6 970.4 209.7C969.5 205.9 968.1 202 967.6 198.1C967.2 194.9 966.8 191.7 966.8 188.5C966.8 187.2 967 185.9 967.2 184.6C967.6 182.5 968.5 180.4 969.3 178.3C970.3 175.9 971.6 173.4 973 171C973.9 169.4 975.2 167.9 975.9 166.3C976.4 165 976.7 163.7 977.1 162.4Z"/>
<path fill="#1d91c0" d="M1001 169.6C1001.4 170.4 1001.7 171.2 1002.2 172.1C1002.8 173 1004.2 174 1005.1 175C1006.4 176.5 1007.8 178 1008.8 179.6C1009.6 180.9 1010.5 182.2 1010.8 183.5C1011 184.3 1011.2 185.1 1011.2 185.9C1011.2 188 1010.8 190 1010.4 192.1C1010 194.6 1008.6 197.1 1007.6 199.6C1006.7 202.1 1005.7 204.6 1004.8 207.1C1003.9 209.6 1003.2 212.1 1002.4 214.6C1002 215.9 1001.6 217.2 1001.2 218.5L1000.1 218.5C999.7 217.2 999.3 215.9 998.9 214.6C998.1 212.1 997.4 209.6 996.5 207.1C995.6 204.6 994.6 202.1 993.7 199.6C992.7 197.1 991.3 194.6 990.8 192.1C990.5 190 990 188 990 185.9C990 185.1 990.3 184.3 990.5 183.5C990.8 182.2 991.7 180.9 992.5 179.6C993.5 178 994.9 176.5 996.2 175C997.1 174 998.4 173 999.1 172.1C999.6 171.2 999.9 170.4 1000.3 169.6Z"/>
<path fill="#810f7c" d="M1024.2 161C1024.6 162.2 1024.9 163.4 1025.4 164.5C1026.1 165.9 1027.4 167.3 1028.3 168.7C1029.7 170.8 1031 173 1032 175.2C1032.8 177 1033.7 178.9 1034.1 180.7C1034.3 181.9 1034.5 183 1034.5 184.2C1034.5 187.6 1034.1 190.9 1033.7 194.3C1033.2 198.4 1031.8 202.4 1030.8 206.5C1029.9 210.6 1028.9 214.7 1028 218.8C1027.2 222.8 1026.4 226.9 1025.6 231C1025.2 233.1 1024.8 235.2 1024.4 237.4L1023.3 237.4C1022.9 235.2 1022.5 233.1 1022.1 231C1021.3 226.9 1020.6 222.8 1019.7 218.8C1018.8 214.7 1017.8 210.6 1016.9 206.5C1016 202.4 1014.5 198.4 1014.1 194.3C1013.7 190.9 1013.3 187.6 1013.3 184.2C1013.3 183 1013.5 181.9 1013.7 180.7C1014 178.9 1014.9 177 1015.7 175.2C1016.7 173 1018.1 170.8 1019.4 168.7C1020.3 167.3 1021.7 165.9 1022.3 164.5C1022.9 163.4 1023.1 162.2 1023.5 161Z"/>
<path fill="#f7fcb9" d="M1047.4 166.5C1047.8 167.5 1048.1 168.5 1048.6 169.4C1049.3 170.6 1050.6 171.8 1051.5 172.9C1052.9 174.7 1054.3 176.5 1055.2 178.3C1056.1 179.9 1057 181.5 1057.3 183C1057.5 184 1057.7 184.9 1057.7 185.9C1057.7 187.6 1057.3 189.4 1056.9 191.1C1056.4 193.2 1055 195.3 1054.1 197.4C1053.1 199.5 1052.1 201.6 1051.2 203.7C1050.4 205.9 1049.6 208 1048.8 210.1C1048.4 211.2 1048 212.3 1047.6 213.4L1046.6 213.4C1046.2 212.3 1045.8 211.2 1045.4 210.1C1044.6 208 1043.8 205.9 1042.9 203.7C1042.1 201.6 1041.1 199.5 1040.1 197.4C1039.2 195.3 1037.8 193.2 1037.3 191.1C1036.9 189.4 1036.5 187.6 1036.5 185.9C1036.5 184.9 1036.7 184 1036.9 183C1037.2 181.5 1038.1 179.9 1039 178.3C1039.9 176.5 1041.3 174.7 1042.7 172.9C1043.5 171.8 1044.9 170.6 1045.5 169.4C1046.1 168.5 1046.4 167.5 1046.8 166.5Z"/>
<path fill="#fcc5c0" d="M1070.6 156.4C1071 157.8 1071.3 159.2 1071.9 160.6C1072.5 162.2 1073.9 163.9 1074.7 165.6C1076.1 168.2 1077.5 170.8 1078.4 173.4C1079.3 175.6 1080.2 177.8 1080.5 180C1080.7 181.4 1080.9 182.8 1080.9 184.2C1080.9 186.4 1080.5 188.5 1080.1 190.7C1079.6 193.3 1078.2 196 1077.3 198.6C1076.4 201.2 1075.3 203.9 1074.5 206.5C1073.6 209.1 1072.8 211.8 1072.1 214.4C1071.6 215.8 1071.2 217.1 1070.8 218.5L1069.8 218.5C1069.4 217.1 1069 215.8 1068.6 214.4C1067.8 211.8 1067 209.1 1066.2 206.5C1065.3 203.9 1064.3 201.2 1063.3 198.6C1062.4 196 1061 193.3 1060.5 190.7C1060.1 188.5 1059.7 186.4 1059.7 184.2C1059.7 182.8 1059.9 181.4 1060.1 180C1060.4 177.8 1061.4 175.6 1062.2 173.4C1063.1 170.8 1064.5 168.2 1065.9 165.6C1066.8 163.9 1068.1 162.2 1068.8 160.6C1069.3 159.2 1069.6 157.8 1070 156.4Z"/>
<path fill="#ffffff" d="M1093.9 155.4C1094.3 156.6 1094.6 157.7 1095.1 158.9C1095.7 160.3 1097.1 161.8 1098 163.2C1099.3 165.4 1100.7 167.6 1101.7 169.8C1102.5 171.7 1103.4 173.6 1103.7 175.5C1103.9 176.7 1104.1 177.9 1104.1 179C1104.1 182 1103.7 184.9 1103.3 187.8C1102.9 191.4 1101.5 194.9 1100.5 198.5C1099.6 202 1098.6 205.6 1097.7 209.2C1096.8 212.7 1096.1 216.3 1095.3 219.8C1094.9 221.7 1094.5 223.5 1094.1 225.4L1093 225.4C1092.6 223.5 1092.2 221.7 1091.8 219.8C1091 216.3 1090.3 212.7 1089.4 209.2C1088.5 205.6 1087.5 202 1086.6 198.5C1085.6 194.9 1084.2 191.4 1083.7 187.8C1083.4 184.9 1082.9 182 1082.9 179C1082.9 177.9 1083.2 176.7 1083.4 175.5C1083.7 173.6 1084.6 171.7 1085.4 169.8C1086.4 167.6 1087.7 165.4 1089.1 163.2C1090 161.8 1091.3 160.3 1092 158.9C1092.5 157.7 1092.8 156.6 1093.2 155.4Z"/>
<path fill="#addd8e" d="M1117.1 158.1C1117.5 159.3 1117.8 160.4 1118.3 161.5C1119 162.9 1120.3 164.2 1121.2 165.6C1122.6 167.7 1123.9 169.8 1124.9 171.9C1125.7 173.7 1126.6 175.6 1127 177.4C1127.2 178.5 1127.4 179.6 1127.4 180.8C1127.4 183.2 1127 185.5 1126.6 187.9C1126.1 190.8 1124.7 193.7 1123.7 196.6C1122.8 199.5 1121.8 202.4 1120.9 205.3C1120.1 208.2 1119.3 211.1 1118.5 214C1118.1 215.5 1117.7 217 1117.3 218.5L1116.2 218.5C1115.8 217 1115.4 215.5 1115 214C1114.2 211.1 1113.5 208.2 1112.6 205.3C1111.7 202.4 1110.7 199.5 1109.8 196.6C1108.9 193.7 1107.4 190.8 1107 187.9C1106.6 185.5 1106.2 183.2 1106.2 180.8C1106.2 179.6 1106.4 178.5 1106.6 177.4C1106.9 175.6 1107.8 173.7 1108.6 171.9C1109.6 169.8 1111 167.7 1112.3 165.6C1113.2 164.2 1114.6 162.9 1115.2 161.5C1115.8 160.4 1116 159.3 1116.4 158.1Z"/>
<path fill="#fcc5c0" d="M1140.3 153.3C1140.7 154.9 1141 156.4 1141.5 158C1142.2 159.8 1143.5 161.7 1144.4 163.5C1145.8 166.4 1147.2 169.3 1148.1 172.2C1148.9 174.6 1149.9 177.1 1150.2 179.6C1150.4 181.1 1150.6 182.7 1150.6 184.2C1150.6 187.3 1150.2 190.5 1149.8 193.6C1149.3 197.5 1147.9 201.3 1147 205.1C1146 208.9 1145 212.7 1144.1 216.5C1143.3 220.3 1142.5 224.2 1141.7 228C1141.3 230 1140.9 231.9 1140.5 233.9L1139.5 233.9C1139.1 231.9 1138.7 230 1138.3 228C1137.5 224.2 1136.7 220.3 1135.8 216.5C1135 212.7 1134 208.9 1133 205.1C1132.1 201.3 1130.7 197.5 1130.2 193.6C1129.8 190.5 1129.4 187.3 1129.4 184.2C1129.4 182.7 1129.6 181.1 1129.8 179.6C1130.1 177.1 1131 174.6 1131.9 172.2C1132.8 169.3 1134.2 166.4 1135.6 163.5C1136.4 161.7 1137.8 159.8 1138.4 158C1139 156.4 1139.3 154.9 1139.7 153.3Z"/>
<path fill="#ffffff" d="M1163.5 147.3C1163.9 148.9 1164.2 150.5 1164.8 152.1C1165.4 154 1166.8 155.9 1167.6 157.8C1169 160.7 1170.4 163.7 1171.3 166.7C1172.2 169.2 1173.1 171.7 1173.4 174.3C1173.6 175.9 1173.8 177.5 1173.8 179C1173.8 183.1 1173.4 187.1 1173 191.1C1172.5 196 1171.1 200.8 1170.2 205.7C1169.2 210.6 1168.2 215.4 1167.4 220.3C1166.5 225.2 1165.7 230 1165 234.9C1164.5 237.4 1164.1 240 1163.7 242.5L1162.7 242.5C1162.3 240 1161.9 237.4 1161.5 234.9C1160.7 230 1159.9 225.2 1159.1 220.3C1158.2 215.4 1157.2 210.6 1156.2 205.7C1155.3 200.8 1153.9 196 1153.4 191.1C1153 187.1 1152.6 183.1 1152.6 179C1152.6 177.5 1152.8 175.9 1153 174.3C1153.3 171.7 1154.3 169.2 1155.1 166.7C1156 163.7 1157.4 160.7 1158.8 157.8C1159.7 155.9 1161 154 1161.7 152.1C1162.2 150.5 1162.5 148.9 1162.9 147.3Z"/>
<path fill="#ffffff" d="M1186.8 156.7C1187.2 157.7 1187.5 158.7 1188 159.7C1188.6 160.9 1190 162.1 1190.9 163.3C1192.2 165.1 1193.6 166.9 1194.6 168.8C1195.4 170.4 1196.3 171.9 1196.6 173.5C1196.8 174.5 1197 175.5 1197 176.5C1197 177.9 1196.6 179.4 1196.2 180.9C1195.8 182.7 1194.4 184.4 1193.4 186.2C1192.5 188 1191.5 189.8 1190.6 191.5C1189.7 193.3 1189 195.1 1188.2 196.9C1187.8 197.8 1187.4 198.7 1187 199.6L1185.9 199.6C1185.5 198.7 1185.1 197.8 1184.7 196.9C1183.9 195.1 1183.1 193.3 1182.3 191.5C1181.4 189.8 1180.4 188 1179.5 186.2C1178.5 184.4 1177.1 182.7 1176.6 180.9C1176.3 179.4 1175.8 177.9 1175.8 176.5C1175.8 175.5 1176 174.5 1176.2 173.5C1176.6 171.9 1177.5 170.4 1178.3 168.8C1179.3 166.9 1180.6 165.1 1182 163.3C1182.9 162.1 1184.2 160.9 1184.9 159.7C1185.4 158.7 1185.7 157.7 1186.1 156.7Z"/>
<path fill="#ffffff" d="M1210 155.4C1210.4 156.3 1210.7 157.3 1211.2 158.3C1211.9 159.4 1213.2 160.6 1214.1 161.8C1215.5 163.6 1216.8 165.4 1217.8 167.2C1218.6 168.8 1219.5 170.3 1219.9 171.9C1220.1 172.8 1220.3 173.8 1220.3 174.8C1220.3 176.6 1219.8 178.5 1219.5 180.3C1219 182.5 1217.6 184.8 1216.6 187C1215.7 189.2 1214.7 191.5 1213.8 193.7C1212.9 195.9 1212.2 198.2 1211.4 200.4C1211 201.6 1210.6 202.8 1210.2 203.9L1209.1 203.9C1208.7 202.8 1208.3 201.6 1207.9 200.4C1207.1 198.2 1206.4 195.9 1205.5 193.7C1204.6 191.5 1203.6 189.2 1202.7 187C1201.7 184.8 1200.3 182.5 1199.9 180.3C1199.5 178.5 1199.1 176.6 1199.1 174.8C1199.1 173.8 1199.3 172.8 1199.5 171.9C1199.8 170.3 1200.7 168.8 1201.5 167.2C1202.5 165.4 1203.9 163.6 1205.2 161.8C1206.1 160.6 1207.5 159.4 1208.1 158.3C1208.6 157.3 1208.9 156.3 1209.3 155.4Z"/>
<path fill="#ffffff" d="M1234.5 149.5C1234.8 150.6 1235.1 151.6 1235.6 152.7C1236.1 153.9 1237.3 155.2 1238.1 156.5C1239.3 158.4 1240.5 160.4 1241.3 162.3C1242 164 1242.8 165.7 1243.1 167.3C1243.3 168.4 1243.5 169.4 1243.5 170.5C1243.5 172.6 1243.1 174.8 1242.7 177C1242.2 179.6 1240.8 182.2 1239.9 184.9C1238.9 187.5 1237.9 190.1 1237 192.8C1236.2 195.4 1235.4 198 1234.6 200.7C1234.2 202 1233.8 203.4 1233.4 204.8L1232.4 204.8C1232 203.4 1231.6 202 1231.1 200.7C1230.4 198 1229.6 195.4 1228.7 192.8C1227.9 190.1 1226.9 187.5 1225.9 184.9C1225 182.2 1223.6 179.6 1223.1 177C1222.7 174.8 1222.3 172.6 1222.3 170.5C1222.3 169.4 1222.5 168.4 1222.6 167.3C1222.9 165.7 1223.7 164 1224.4 162.3C1225.3 160.4 1226.5 158.4 1227.7 156.5C1228.5 155.2 1229.6 153.9 1230.2 152.7C1230.7 151.6 1230.9 150.6 1231.3 149.5Z"/>
<path fill="#f7fcb9" d="M1256.4 145.6C1256.8 146.8 1257.1 147.9 1257.7 149.1C1258.3 150.5 1259.7 151.9 1260.5 153.2C1261.9 155.4 1263.3 157.6 1264.2 159.7C1265.1 161.6 1266 163.4 1266.3 165.3C1266.5 166.4 1266.7 167.6 1266.7 168.8C1266.7 171.7 1266.3 174.6 1265.9 177.6C1265.4 181.1 1264 184.7 1263.1 188.2C1262.1 191.8 1261.1 195.3 1260.3 198.9C1259.4 202.4 1258.6 206 1257.8 209.5C1257.4 211.4 1257 213.2 1256.6 215.1L1255.6 215.1C1255.2 213.2 1254.8 211.4 1254.4 209.5C1253.6 206 1252.8 202.4 1252 198.9C1251.1 195.3 1250.1 191.8 1249.1 188.2C1248.2 184.7 1246.8 181.1 1246.3 177.6C1245.9 174.6 1245.5 171.7 1245.5 168.8C1245.5 167.6 1245.7 166.4 1245.9 165.3C1246.2 163.4 1247.2 161.6 1248 159.7C1248.9 157.6 1250.3 155.4 1251.7 153.2C1252.6 151.9 1253.9 150.5 1254.6 149.1C1255.1 147.9 1255.4 146.8 1255.8 145.6Z"/>
<path fill="#ffffff" d="M1279.7 147.3C1280.1 148.9 1280.3 150.6 1280.9 152.2C1281.5 154.2 1282.9 156.1 1283.8 158.1C1285.1 161.1 1286.5 164.2 1287.5 167.2C1288.3 169.8 1289.2 172.4 1289.5 175C1289.7 176.6 1289.9 178.3 1289.9 179.9C1289.9 182.9 1289.5 185.9 1289.1 188.9C1288.7 192.5 1287.2 196.1 1286.3 199.7C1285.4 203.3 1284.4 206.9 1283.5 210.6C1282.6 214.2 1281.9 217.8 1281.1 221.4C1280.7 223.3 1280.3 225.2 1279.9 227.1L1278.8 227.1C1278.4 225.2 1278 223.3 1277.6 221.4C1276.8 217.8 1276 214.2 1275.2 210.6C1274.3 206.9 1273.3 203.3 1272.4 199.7C1271.4 196.1 1270 192.5 1269.5 188.9C1269.1 185.9 1268.7 182.9 1268.7 179.9C1268.7 178.3 1268.9 176.6 1269.1 175C1269.5 172.4 1270.4 169.8 1271.2 167.2C1272.2 164.2 1273.5 161.1 1274.9 158.1C1275.8 156.1 1277.1 154.2 1277.8 152.2C1278.3 150.6 1278.6 148.9 1279 147.3Z"/>
<path fill="#f7fcb9" d="M1303.8 146.1C1304.2 147.2 1304.5 148.2 1304.9 149.3C1305.5 150.5 1306.8 151.8 1307.6 153C1308.8 155 1310 156.9 1310.9 158.9C1311.7 160.6 1312.5 162.2 1312.8 163.9C1313 164.9 1313.2 166 1313.2 167C1313.2 169.2 1312.7 171.4 1312.4 173.6C1311.9 176.2 1310.5 178.8 1309.5 181.4C1308.6 184.1 1307.6 186.7 1306.7 189.3C1305.8 192 1305.1 194.6 1304.3 197.2C1303.9 198.6 1303.5 200 1303.1 201.3L1302 201.3C1301.6 200 1301.2 198.6 1300.8 197.2C1300 194.6 1299.3 192 1298.4 189.3C1297.5 186.7 1296.5 184.1 1295.6 181.4C1294.6 178.8 1293.2 176.2 1292.8 173.6C1292.4 171.4 1292 169.2 1292 167C1292 166 1292.2 164.9 1292.3 163.9C1292.6 162.2 1293.4 160.6 1294.2 158.9C1295.1 156.9 1296.3 155 1297.6 153C1298.3 151.8 1299.6 150.5 1300.2 149.3C1300.7 148.2 1300.9 147.2 1301.3 146.1Z"/>
<path fill="#fcc5c0" d="M1327.1 147C1327.4 147.7 1327.7 148.5 1328.2 149.2C1328.8 150.1 1330 151 1330.8 151.9C1332 153.3 1333.3 154.7 1334.1 156.1C1334.9 157.3 1335.7 158.5 1336 159.7C1336.2 160.4 1336.4 161.1 1336.4 161.9C1336.4 164.2 1336 166.6 1335.6 168.9C1335.1 171.7 1333.7 174.6 1332.8 177.4C1331.8 180.2 1330.8 183 1329.9 185.9C1329.1 188.7 1328.3 191.5 1327.5 194.3C1327.1 195.8 1326.7 197.3 1326.3 198.8L1325.3 198.8C1324.8 197.3 1324.5 195.8 1324 194.3C1323.3 191.5 1322.5 188.7 1321.6 185.9C1320.8 183 1319.7 180.2 1318.8 177.4C1317.9 174.6 1316.5 171.7 1316 168.9C1315.6 166.6 1315.2 164.2 1315.2 161.9C1315.2 161.1 1315.4 160.4 1315.6 159.7C1315.8 158.5 1316.7 157.3 1317.4 156.1C1318.3 154.7 1319.5 153.3 1320.8 151.9C1321.6 151 1322.8 150.1 1323.4 149.2C1323.9 148.5 1324.1 147.7 1324.5 147Z"/>
<path fill="#ffffff" d="M1349.3 143.9C1349.7 145 1350 146 1350.6 147.1C1351.2 148.4 1352.6 149.7 1353.4 151C1354.8 153 1356.2 155 1357.1 157C1358 158.7 1358.9 160.4 1359.2 162.1C1359.4 163.2 1359.6 164.3 1359.6 165.3C1359.6 167 1359.2 168.6 1358.8 170.2C1358.3 172.2 1356.9 174.2 1356 176.1C1355 178.1 1354 180.1 1353.2 182C1352.3 184 1351.5 186 1350.7 188C1350.3 189 1349.9 190 1349.5 191.1L1348.5 191.1C1348.1 190 1347.7 189 1347.3 188C1346.5 186 1345.7 184 1344.9 182C1344 180.1 1343 178.1 1342 176.1C1341.1 174.2 1339.7 172.2 1339.2 170.2C1338.8 168.6 1338.4 167 1338.4 165.3C1338.4 164.3 1338.6 163.2 1338.8 162.1C1339.1 160.4 1340 158.7 1340.9 157C1341.8 155 1343.2 153 1344.6 151C1345.5 149.7 1346.8 148.4 1347.5 147.1C1348 146 1348.3 145 1348.7 143.9Z"/>
<path fill="#f7fcb9" d="M1373.3 145.1C1373.7 146 1373.9 146.9 1374.4 147.9C1375 149 1376.3 150.1 1377.1 151.2C1378.4 152.9 1379.6 154.7 1380.5 156.4C1381.3 157.9 1382.2 159.3 1382.4 160.8C1382.6 161.8 1382.8 162.7 1382.8 163.6C1382.8 165.9 1382.4 168.2 1382 170.5C1381.5 173.2 1380.1 176 1379.2 178.7C1378.3 181.5 1377.3 184.3 1376.4 187C1375.5 189.8 1374.8 192.5 1374 195.3C1373.6 196.7 1373.2 198.2 1372.8 199.6L1371.7 199.6C1371.3 198.2 1370.9 196.7 1370.5 195.3C1369.7 192.5 1368.9 189.8 1368.1 187C1367.2 184.3 1366.2 181.5 1365.3 178.7C1364.3 176 1362.9 173.2 1362.4 170.5C1362 168.2 1361.6 165.9 1361.6 163.6C1361.6 162.7 1361.8 161.8 1362 160.8C1362.3 159.3 1363.2 157.9 1363.9 156.4C1364.8 154.7 1366.1 152.9 1367.4 151.2C1368.2 150.1 1369.4 149 1370 147.9C1370.5 146.9 1370.8 146 1371.2 145.1Z"/>
<path fill="#ffffff" d="M1395.8 143C1396.2 144.1 1396.5 145.3 1397 146.4C1397.7 147.7 1399 149 1399.9 150.4C1401.2 152.5 1402.6 154.5 1403.6 156.6C1404.4 158.4 1405.3 160.2 1405.6 162C1405.8 163.1 1406.1 164.2 1406.1 165.3C1406.1 166.7 1405.6 168.2 1405.2 169.6C1404.8 171.3 1403.4 173 1402.4 174.7C1401.5 176.4 1400.5 178.1 1399.6 179.8C1398.7 181.5 1398 183.2 1397.2 184.9C1396.8 185.8 1396.4 186.7 1396 187.6L1394.9 187.6C1394.5 186.7 1394.1 185.8 1393.7 184.9C1392.9 183.2 1392.2 181.5 1391.3 179.8C1390.4 178.1 1389.4 176.4 1388.5 174.7C1387.5 173 1386.1 171.3 1385.7 169.6C1385.3 168.2 1384.9 166.7 1384.9 165.3C1384.9 164.2 1385.1 163.1 1385.3 162C1385.6 160.2 1386.5 158.4 1387.3 156.6C1388.3 154.5 1389.7 152.5 1391 150.4C1391.9 149 1393.3 147.7 1393.9 146.4C1394.4 145.3 1394.7 144.1 1395.1 143Z"/>
<path fill="#ffffff" d="M1419.5 145.6C1419.9 146.5 1420.2 147.3 1420.7 148.2C1421.3 149.2 1422.6 150.2 1423.4 151.3C1424.7 152.9 1426 154.5 1426.9 156.1C1427.7 157.4 1428.6 158.8 1428.9 160.2C1429.1 161 1429.3 161.9 1429.3 162.8C1429.3 164.1 1428.9 165.5 1428.5 166.8C1428 168.5 1426.6 170.1 1425.7 171.8C1424.7 173.4 1423.7 175 1422.8 176.7C1422 178.3 1421.2 180 1420.4 181.6C1420 182.5 1419.6 183.3 1419.2 184.2L1418.1 184.2C1417.7 183.3 1417.4 182.5 1416.9 181.6C1416.2 180 1415.4 178.3 1414.5 176.7C1413.7 175 1412.6 173.4 1411.7 171.8C1410.8 170.1 1409.4 168.5 1408.9 166.8C1408.5 165.5 1408.1 164.1 1408.1 162.8C1408.1 161.9 1408.3 161 1408.5 160.2C1408.8 158.8 1409.6 157.4 1410.4 156.1C1411.3 154.5 1412.6 152.9 1413.9 151.3C1414.8 150.2 1416 149.2 1416.7 148.2C1417.2 147.3 1417.4 146.5 1417.8 145.6Z"/>
<path fill="#f7fcb9" d="M1443.5 141.8C1443.9 142.8 1444.1 143.8 1444.6 144.8C1445.1 146 1446.3 147.2 1447.1 148.4C1448.3 150.3 1449.5 152.2 1450.3 154.1C1451.1 155.7 1451.9 157.3 1452.1 158.9C1452.3 159.9 1452.5 160.9 1452.5 161.9C1452.5 164.1 1452.1 166.2 1451.7 168.4C1451.2 171 1449.8 173.7 1448.9 176.3C1447.9 178.9 1446.9 181.6 1446.1 184.2C1445.2 186.8 1444.4 189.5 1443.6 192.1C1443.2 193.5 1442.8 194.8 1442.4 196.2L1441.4 196.2C1441 194.8 1440.6 193.5 1440.2 192.1C1439.4 189.5 1438.6 186.8 1437.7 184.2C1436.9 181.6 1435.9 178.9 1434.9 176.3C1434 173.7 1432.6 171 1432.1 168.4C1431.7 166.2 1431.3 164.1 1431.3 161.9C1431.3 160.9 1431.5 159.9 1431.7 158.9C1431.9 157.3 1432.7 155.7 1433.5 154.1C1434.3 152.2 1435.5 150.3 1436.7 148.4C1437.5 147.2 1438.7 146 1439.2 144.8C1439.7 143.8 1440 142.8 1440.3 141.8Z"/>
<path fill="#d0d1e6" d="M1465.4 142.7C1465.9 143.6 1466.1 144.6 1466.7 145.6C1467.3 146.7 1468.7 147.9 1469.6 149C1470.9 150.8 1472.3 152.6 1473.3 154.4C1474.1 155.9 1475 157.5 1475.3 159C1475.5 160 1475.7 160.9 1475.7 161.9C1475.7 163.3 1475.3 164.7 1474.9 166.1C1474.4 167.8 1473 169.6 1472.1 171.3C1471.2 173 1470.2 174.7 1469.3 176.4C1468.4 178.1 1467.7 179.8 1466.9 181.5C1466.5 182.4 1466.1 183.3 1465.7 184.2L1464.6 184.2C1464.2 183.3 1463.8 182.4 1463.4 181.5C1462.6 179.8 1461.8 178.1 1461 176.4C1460.1 174.7 1459.1 173 1458.2 171.3C1457.2 169.6 1455.8 167.8 1455.3 166.1C1454.9 164.7 1454.5 163.3 1454.5 161.9C1454.5 160.9 1454.7 160 1454.9 159C1455.3 157.5 1456.2 155.9 1457 154.4C1458 152.6 1459.3 150.8 1460.7 149C1461.6 147.9 1462.9 146.7 1463.6 145.6C1464.1 144.6 1464.4 143.6 1464.8 142.7Z"/>
<path fill="#f7fcb9" d="M1489.9 143C1490.3 144 1490.6 144.9 1491 145.9C1491.6 147 1492.8 148.1 1493.5 149.3C1494.7 151 1495.9 152.8 1496.8 154.5C1497.5 156 1498.3 157.6 1498.6 159.1C1498.8 160 1499 161 1499 161.9C1499 163.7 1498.5 165.5 1498.1 167.3C1497.7 169.4 1496.3 171.6 1495.3 173.8C1494.4 176 1493.4 178.1 1492.5 180.3C1491.6 182.5 1490.9 184.6 1490.1 186.8C1489.7 187.9 1489.3 189.1 1488.9 190.2L1487.8 190.2C1487.4 189.1 1487 187.9 1486.6 186.8C1485.8 184.6 1485.1 182.5 1484.2 180.3C1483.3 178.1 1482.3 176 1481.4 173.8C1480.4 171.6 1479 169.4 1478.6 167.3C1478.2 165.5 1477.8 163.7 1477.8 161.9C1477.8 161 1477.9 160 1478.1 159.1C1478.4 157.6 1479.2 156 1479.9 154.5C1480.8 152.8 1482 151 1483.2 149.3C1483.9 148.1 1485.1 147 1485.7 145.9C1486.2 144.9 1486.4 144 1486.8 143Z"/>
<path fill="#6a51a3" d="M1514.2 141.8C1514.5 142.6 1514.8 143.4 1515.2 144.2C1515.7 145.1 1516.7 146.1 1517.4 147C1518.5 148.5 1519.5 150 1520.3 151.5C1520.9 152.7 1521.6 154 1521.9 155.2C1522 156 1522.2 156.8 1522.2 157.6C1522.2 160 1521.8 162.4 1521.4 164.8C1520.9 167.7 1519.5 170.6 1518.6 173.5C1517.6 176.3 1516.6 179.2 1515.7 182.1C1514.9 185 1514.1 187.9 1513.3 190.8C1512.9 192.3 1512.5 193.8 1512.1 195.3L1511 195.3C1510.6 193.8 1510.2 192.3 1509.8 190.8C1509.1 187.9 1508.3 185 1507.4 182.1C1506.6 179.2 1505.5 176.3 1504.6 173.5C1503.7 170.6 1502.3 167.7 1501.8 164.8C1501.4 162.4 1501 160 1501 157.6C1501 156.8 1501.1 156 1501.3 155.2C1501.5 154 1502.2 152.7 1502.9 151.5C1503.6 150 1504.7 148.5 1505.7 147C1506.4 146.1 1507.5 145.1 1508 144.2C1508.4 143.4 1508.6 142.6 1508.9 141.8Z"/>
<path fill="#ffffff" d="M1538 143.5C1538.3 144.2 1538.5 144.9 1538.9 145.7C1539.3 146.5 1540.3 147.3 1540.9 148.2C1541.9 149.5 1542.9 150.8 1543.6 152.1C1544.2 153.2 1544.9 154.4 1545.1 155.5C1545.2 156.2 1545.4 156.9 1545.4 157.6C1545.4 159.7 1545 161.8 1544.6 164C1544.1 166.5 1542.7 169.1 1541.8 171.7C1540.8 174.2 1539.8 176.8 1539 179.3C1538.1 181.9 1537.3 184.5 1536.5 187C1536.1 188.4 1535.7 189.7 1535.3 191.1L1534.3 191.1C1533.9 189.7 1533.5 188.4 1533.1 187C1532.3 184.5 1531.5 181.9 1530.6 179.3C1529.8 176.8 1528.8 174.2 1527.8 171.7C1526.9 169.1 1525.5 166.5 1525 164C1524.6 161.8 1524.2 159.7 1524.2 157.6C1524.2 156.9 1524.4 156.2 1524.5 155.5C1524.7 154.4 1525.4 153.2 1526 152.1C1526.7 150.8 1527.7 149.5 1528.7 148.2C1529.3 147.3 1530.3 146.5 1530.7 145.7C1531.1 144.9 1531.3 144.2 1531.6 143.5Z"/>
<path fill="#addd8e" d="M1561.2 142.2C1561.5 143 1561.7 143.8 1562.1 144.6C1562.6 145.6 1563.5 146.6 1564.2 147.5C1565.2 149.1 1566.1 150.6 1566.8 152.1C1567.4 153.4 1568.1 154.7 1568.3 156C1568.5 156.8 1568.6 157.7 1568.6 158.5C1568.6 160.6 1568.2 162.8 1567.8 165C1567.3 167.6 1565.9 170.2 1565 172.9C1564.1 175.5 1563 178.1 1562.2 180.8C1561.3 183.4 1560.5 186 1559.8 188.7C1559.4 190 1559 191.4 1558.6 192.8L1557.5 192.8C1557.1 191.4 1556.7 190 1556.3 188.7C1555.5 186 1554.7 183.4 1553.9 180.8C1553 178.1 1552 175.5 1551 172.9C1550.1 170.2 1548.7 167.6 1548.2 165C1547.8 162.8 1547.4 160.6 1547.4 158.5C1547.4 157.7 1547.6 156.8 1547.7 156C1548 154.7 1548.6 153.4 1549.2 152.1C1549.9 150.6 1550.9 149.1 1551.9 147.5C1552.5 146.6 1553.5 145.6 1554 144.6C1554.3 143.8 1554.5 143 1554.8 142.2Z"/>
<path fill="#d0d1e6" d="M1585.5 141.8C1585.7 142.5 1585.9 143.1 1586.3 143.8C1586.7 144.6 1587.5 145.4 1588 146.2C1588.9 147.4 1589.7 148.7 1590.3 149.9C1590.8 150.9 1591.4 152 1591.6 153.1C1591.7 153.7 1591.8 154.4 1591.8 155C1591.8 157.9 1591.4 160.7 1591 163.5C1590.6 166.9 1589.2 170.3 1588.2 173.8C1587.3 177.2 1586.3 180.6 1585.4 184C1584.5 187.4 1583.8 190.9 1583 194.3C1582.6 196.1 1582.2 197.8 1581.8 199.6L1580.7 199.6C1580.3 197.8 1579.9 196.1 1579.5 194.3C1578.7 190.9 1578 187.4 1577.1 184C1576.2 180.6 1575.2 177.2 1574.3 173.8C1573.3 170.3 1571.9 166.9 1571.5 163.5C1571.1 160.7 1570.6 157.9 1570.6 155C1570.6 154.4 1570.8 153.7 1570.9 153.1C1571.1 152 1571.7 150.9 1572.2 149.9C1572.8 148.7 1573.6 147.4 1574.5 146.2C1575 145.4 1575.8 144.6 1576.2 143.8C1576.6 143.1 1576.8 142.5 1577 141.8Z"/>
<path fill="#6a51a3" d="M1606.6 142.2C1606.9 143.1 1607.2 144 1607.6 144.9C1608.1 146 1609.3 147 1610 148.1C1611.1 149.8 1612.2 151.5 1613 153.2C1613.7 154.6 1614.5 156 1614.7 157.5C1614.9 158.4 1615.1 159.3 1615.1 160.2C1615.1 161.9 1614.7 163.7 1614.3 165.4C1613.8 167.5 1612.4 169.6 1611.4 171.7C1610.5 173.8 1609.5 175.9 1608.6 178C1607.8 180.1 1607 182.2 1606.2 184.3C1605.8 185.4 1605.4 186.5 1605 187.6L1603.9 187.6C1603.5 186.5 1603.1 185.4 1602.7 184.3C1601.9 182.2 1601.2 180.1 1600.3 178C1599.5 175.9 1598.4 173.8 1597.5 171.7C1596.6 169.6 1595.2 167.5 1594.7 165.4C1594.3 163.7 1593.9 161.9 1593.9 160.2C1593.9 159.3 1594 158.4 1594.2 157.5C1594.5 156 1595.2 154.6 1595.9 153.2C1596.7 151.5 1597.8 149.8 1599 148.1C1599.7 147 1600.8 146 1601.3 144.9C1601.8 144 1602 143.1 1602.4 142.2Z"/>
<path fill="#addd8e" d="M1628.8 142.2C1629.1 143 1629.4 143.8 1629.9 144.6C1630.5 145.6 1631.8 146.6 1632.6 147.5C1633.8 149.1 1635.1 150.6 1636 152.1C1636.8 153.4 1637.6 154.7 1637.9 156C1638.1 156.8 1638.3 157.7 1638.3 158.5C1638.3 160.3 1637.9 162.2 1637.5 164C1637 166.2 1635.6 168.5 1634.7 170.7C1633.7 172.9 1632.7 175.2 1631.9 177.4C1631 179.7 1630.2 181.9 1629.4 184.1C1629 185.3 1628.6 186.5 1628.2 187.6L1627.2 187.6C1626.8 186.5 1626.4 185.3 1626 184.1C1625.2 181.9 1624.4 179.7 1623.5 177.4C1622.7 175.2 1621.7 172.9 1620.7 170.7C1619.8 168.5 1618.4 166.2 1617.9 164C1617.5 162.2 1617.1 160.3 1617.1 158.5C1617.1 157.7 1617.3 156.8 1617.5 156C1617.8 154.7 1618.6 153.4 1619.4 152.1C1620.3 150.6 1621.6 149.1 1622.8 147.5C1623.6 146.6 1624.9 145.6 1625.5 144.6C1626 143.8 1626.3 143 1626.6 142.2Z"/>
<path fill="#238b45" d="M1654.6 142.2C1654.9 142.8 1655.1 143.5 1655.5 144.1C1655.9 144.9 1656.8 145.6 1657.4 146.4C1658.3 147.6 1659.2 148.8 1659.9 150C1660.4 151 1661 152.1 1661.2 153.1C1661.4 153.7 1661.5 154.4 1661.5 155C1661.5 157.3 1661.1 159.6 1660.7 161.9C1660.2 164.6 1658.8 167.4 1657.9 170.2C1657 172.9 1655.9 175.7 1655.1 178.4C1654.2 181.2 1653.4 184 1652.7 186.7C1652.2 188.2 1651.9 189.6 1651.5 191.1L1650.4 191.1C1650 189.6 1649.6 188.2 1649.2 186.7C1648.4 184 1647.6 181.2 1646.8 178.4C1645.9 175.7 1644.9 172.9 1643.9 170.2C1643 167.4 1641.6 164.6 1641.1 161.9C1640.7 159.6 1640.3 157.3 1640.3 155C1640.3 154.4 1640.5 153.7 1640.6 153.1C1640.8 152.1 1641.4 151 1642 150C1642.6 148.8 1643.5 147.6 1644.5 146.4C1645 145.6 1646 144.9 1646.4 144.1C1646.7 143.5 1646.9 142.8 1647.2 142.2Z"/>
<path fill="#d0d1e6" d="M1674.7 142.2C1675.1 143 1675.4 143.8 1675.9 144.6C1676.5 145.6 1677.8 146.6 1678.7 147.5C1680 149.1 1681.4 150.6 1682.3 152.1C1683.1 153.4 1684 154.7 1684.3 156C1684.5 156.8 1684.7 157.7 1684.7 158.5C1684.7 159.9 1684.3 161.3 1683.9 162.7C1683.5 164.4 1682.1 166.1 1681.1 167.8C1680.2 169.5 1679.2 171.2 1678.3 173C1677.4 174.7 1676.7 176.4 1675.9 178.1C1675.5 179 1675.1 179.9 1674.7 180.8L1673.6 180.8C1673.2 179.9 1672.8 179 1672.4 178.1C1671.6 176.4 1670.9 174.7 1670 173C1669.1 171.2 1668.1 169.5 1667.2 167.8C1666.2 166.1 1664.8 164.4 1664.4 162.7C1664 161.3 1663.5 159.9 1663.5 158.5C1663.5 157.7 1663.8 156.8 1663.9 156C1664.3 154.7 1665.2 153.4 1666 152.1C1666.9 150.6 1668.3 149.1 1669.6 147.5C1670.4 146.6 1671.8 145.6 1672.4 144.6C1672.9 143.8 1673.2 143 1673.6 142.2Z"/>
<path fill="#f7fcb9" d="M1699.5 142.2C1699.8 142.9 1700.1 143.5 1700.5 144.2C1701 145.1 1702.2 145.9 1702.9 146.7C1704 148 1705.1 149.3 1705.9 150.5C1706.6 151.6 1707.4 152.7 1707.6 153.8C1707.8 154.5 1708 155.2 1708 155.9C1708 157.6 1707.6 159.3 1707.2 160.9C1706.7 163 1705.3 165 1704.3 167.1C1703.4 169.1 1702.4 171.1 1701.5 173.2C1700.7 175.2 1699.9 177.2 1699.1 179.3C1698.7 180.4 1698.3 181.4 1697.9 182.5L1696.8 182.5C1696.4 181.4 1696 180.4 1695.6 179.3C1694.8 177.2 1694.1 175.2 1693.2 173.2C1692.3 171.1 1691.3 169.1 1690.4 167.1C1689.5 165 1688.1 163 1687.6 160.9C1687.2 159.3 1686.8 157.6 1686.8 155.9C1686.8 155.2 1686.9 154.5 1687.1 153.8C1687.4 152.7 1688.1 151.6 1688.8 150.5C1689.6 149.3 1690.7 148 1691.9 146.7C1692.6 145.9 1693.7 145.1 1694.2 144.2C1694.7 143.5 1694.9 142.9 1695.2 142.2Z"/>
<path fill="#ffffff" d="M1723.2 143.5C1723.6 144.3 1723.8 145 1724.2 145.8C1724.7 146.7 1725.7 147.6 1726.4 148.5C1727.5 149.9 1728.5 151.3 1729.3 152.6C1729.9 153.8 1730.6 155 1730.9 156.2C1731 157 1731.2 157.7 1731.2 158.5C1731.2 159.8 1730.8 161.1 1730.4 162.4C1729.9 164 1728.5 165.5 1727.6 167.1C1726.6 168.7 1725.6 170.3 1724.7 171.8C1723.9 173.4 1723.1 175 1722.3 176.6C1721.9 177.4 1721.5 178.2 1721.1 179L1720.1 179C1719.7 178.2 1719.3 177.4 1718.9 176.6C1718.1 175 1717.3 173.4 1716.4 171.8C1715.6 170.3 1714.6 168.7 1713.6 167.1C1712.7 165.5 1711.3 164 1710.8 162.4C1710.4 161.1 1710 159.8 1710 158.5C1710 157.7 1710.2 157 1710.3 156.2C1710.6 155 1711.3 153.8 1711.9 152.6C1712.6 151.3 1713.7 149.9 1714.8 148.5C1715.4 147.6 1716.5 146.7 1717 145.8C1717.4 145 1717.6 144.3 1717.9 143.5Z"/>
<path fill="#ffffff" d="M1745.4 142.2C1745.8 142.9 1746 143.6 1746.5 144.4C1747.1 145.2 1748.2 146.1 1749 147C1750.2 148.3 1751.4 149.7 1752.3 151.1C1753 152.2 1753.8 153.4 1754.1 154.6C1754.2 155.3 1754.4 156 1754.4 156.7C1754.4 158.2 1754 159.6 1753.6 161C1753.1 162.7 1751.7 164.4 1750.8 166.1C1749.9 167.8 1748.8 169.5 1748 171.2C1747.1 173 1746.3 174.7 1745.6 176.4C1745.1 177.3 1744.8 178.2 1744.3 179L1743.3 179C1742.9 178.2 1742.5 177.3 1742.1 176.4C1741.3 174.7 1740.5 173 1739.7 171.2C1738.8 169.5 1737.8 167.8 1736.8 166.1C1735.9 164.4 1734.5 162.7 1734 161C1733.6 159.6 1733.2 158.2 1733.2 156.7C1733.2 156 1733.4 155.3 1733.6 154.6C1733.9 153.4 1734.7 152.2 1735.4 151.1C1736.2 149.7 1737.4 148.3 1738.6 147C1739.4 146.1 1740.6 145.2 1741.1 144.4C1741.6 143.6 1741.9 142.9 1742.2 142.2Z"/>
<path fill="#d0d1e6" d="M1769.2 142.2C1769.5 142.9 1769.7 143.5 1770.2 144.2C1770.7 145.1 1771.8 145.9 1772.6 146.7C1773.7 148 1774.8 149.3 1775.6 150.5C1776.3 151.6 1777 152.7 1777.3 153.8C1777.5 154.5 1777.6 155.2 1777.6 155.9C1777.6 157.3 1777.2 158.7 1776.8 160.1C1776.4 161.8 1775 163.5 1774 165.3C1773.1 167 1772.1 168.7 1771.2 170.4C1770.3 172.1 1769.6 173.8 1768.8 175.5C1768.4 176.4 1768 177.3 1767.6 178.2L1766.5 178.2C1766.1 177.3 1765.7 176.4 1765.3 175.5C1764.5 173.8 1763.8 172.1 1762.9 170.4C1762 168.7 1761 167 1760.1 165.3C1759.1 163.5 1757.7 161.8 1757.2 160.1C1756.9 158.7 1756.4 157.3 1756.4 155.9C1756.4 155.2 1756.6 154.5 1756.8 153.8C1757 152.7 1757.8 151.6 1758.5 150.5C1759.3 149.3 1760.4 148 1761.5 146.7C1762.3 145.9 1763.4 145.1 1763.9 144.2C1764.3 143.5 1764.6 142.9 1764.9 142.2Z"/>
<path fill="#ffffff" d="M1794.5 142.2C1794.8 142.8 1794.9 143.4 1795.3 144C1795.7 144.7 1796.5 145.4 1797.1 146.1C1797.9 147.3 1798.7 148.4 1799.3 149.5C1799.9 150.5 1800.4 151.4 1800.6 152.4C1800.7 153 1800.9 153.6 1800.9 154.2C1800.9 155.4 1800.5 156.7 1800.1 157.9C1799.6 159.4 1798.2 160.9 1797.2 162.5C1796.3 164 1795.3 165.5 1794.4 167C1793.6 168.5 1792.8 170 1792 171.5C1791.6 172.3 1791.2 173.1 1790.8 173.9L1789.7 173.9C1789.3 173.1 1788.9 172.3 1788.5 171.5C1787.7 170 1787 168.5 1786.1 167C1785.2 165.5 1784.2 164 1783.3 162.5C1782.4 160.9 1780.9 159.4 1780.5 157.9C1780.1 156.7 1779.7 155.4 1779.7 154.2C1779.7 153.6 1779.8 153 1779.9 152.4C1780.1 151.4 1780.7 150.5 1781.2 149.5C1781.8 148.4 1782.6 147.3 1783.5 146.1C1784 145.4 1784.9 144.7 1785.3 144C1785.6 143.4 1785.8 142.8 1786 142.2Z"/>
<path fill="#238b45" d="M1818.8 142.2C1819 142.6 1819.1 143.1 1819.4 143.6C1819.8 144.2 1820.5 144.7 1820.9 145.3C1821.6 146.2 1822.3 147 1822.8 147.9C1823.2 148.7 1823.7 149.4 1823.9 150.2C1824 150.7 1824.1 151.1 1824.1 151.6C1824.1 153.2 1823.7 154.9 1823.3 156.5C1822.8 158.5 1821.4 160.4 1820.5 162.4C1819.5 164.4 1818.5 166.4 1817.6 168.3C1816.8 170.3 1816 172.3 1815.2 174.2C1814.8 175.3 1814.4 176.3 1814 177.3L1813 177.3C1812.6 176.3 1812.2 175.3 1811.8 174.2C1811 172.3 1810.2 170.3 1809.3 168.3C1808.5 166.4 1807.5 164.4 1806.5 162.4C1805.6 160.4 1804.2 158.5 1803.7 156.5C1803.3 154.9 1802.9 153.2 1802.9 151.6C1802.9 151.1 1803 150.7 1803.1 150.2C1803.3 149.4 1803.7 148.7 1804.2 147.9C1804.7 147 1805.4 146.2 1806.1 145.3C1806.5 144.7 1807.2 144.2 1807.6 143.6C1807.8 143.1 1808 142.6 1808.2 142.2Z"/>
<path fill="#ffffff" d="M1841.5 141.8C1841.7 142.4 1841.9 143 1842.2 143.6C1842.6 144.2 1843.3 144.9 1843.8 145.6C1844.6 146.7 1845.4 147.8 1845.9 148.8C1846.4 149.8 1846.9 150.7 1847.1 151.6C1847.2 152.2 1847.3 152.7 1847.3 153.3C1847.3 154.8 1846.9 156.3 1846.5 157.7C1846 159.5 1844.6 161.3 1843.7 163C1842.7 164.8 1841.7 166.6 1840.9 168.4C1840 170.1 1839.2 171.9 1838.5 173.7C1838 174.6 1837.6 175.5 1837.2 176.5L1836.2 176.5C1835.8 175.5 1835.4 174.6 1835 173.7C1834.2 171.9 1833.4 170.1 1832.6 168.4C1831.7 166.6 1830.7 164.8 1829.7 163C1828.8 161.3 1827.4 159.5 1826.9 157.7C1826.5 156.3 1826.1 154.8 1826.1 153.3C1826.1 152.7 1826.2 152.2 1826.3 151.6C1826.5 150.7 1827 149.8 1827.5 148.8C1828.1 147.8 1828.8 146.7 1829.6 145.6C1830.1 144.9 1830.9 144.2 1831.2 143.6C1831.6 143 1831.7 142.4 1831.9 141.8Z"/>
<path fill="#ffffff" d="M1863.6 142.2C1863.9 142.6 1864.1 143 1864.5 143.5C1864.9 144 1865.8 144.5 1866.4 145C1867.3 145.8 1868.2 146.6 1868.9 147.4C1869.4 148.1 1870 148.8 1870.3 149.5C1870.4 149.9 1870.5 150.3 1870.5 150.7C1870.5 151.8 1870.1 152.9 1869.7 154C1869.3 155.3 1867.9 156.6 1866.9 158C1866 159.3 1865 160.6 1864.1 161.9C1863.2 163.2 1862.5 164.5 1861.7 165.8C1861.3 166.5 1860.9 167.2 1860.5 167.9L1859.4 167.9C1859 167.2 1858.6 166.5 1858.2 165.8C1857.4 164.5 1856.7 163.2 1855.8 161.9C1854.9 160.6 1853.9 159.3 1853 158C1852 156.6 1850.6 155.3 1850.1 154C1849.8 152.9 1849.3 151.8 1849.3 150.7C1849.3 150.3 1849.5 149.9 1849.6 149.5C1849.8 148.8 1850.4 148.1 1851 147.4C1851.6 146.6 1852.6 145.8 1853.5 145C1854.1 144.5 1855 144 1855.4 143.5C1855.8 143 1856 142.6 1856.2 142.2Z"/>
<path fill="#addd8e" d="M1884.2 127.1C1884.6 128 1884.9 129 1885.4 130C1886 131.1 1887.2 132.3 1888 133.5C1889.3 135.3 1890.6 137.1 1891.5 138.9C1892.2 140.4 1893.1 142 1893.4 143.6C1893.6 144.5 1893.8 145.5 1893.8 146.5C1893.8 149.4 1893.4 152.3 1893 155.3C1892.5 158.8 1891.1 162.4 1890.1 165.9C1889.2 169.5 1888.2 173 1887.3 176.6C1886.5 180.1 1885.7 183.7 1884.9 187.2C1884.5 189.1 1884.1 190.9 1883.7 192.8L1882.6 192.8C1882.2 190.9 1881.8 189.1 1881.4 187.2C1880.6 183.7 1879.9 180.1 1879 176.6C1878.1 173 1877.1 169.5 1876.2 165.9C1875.2 162.4 1873.8 158.8 1873.4 155.3C1873 152.3 1872.6 149.4 1872.6 146.5C1872.6 145.5 1872.8 144.5 1872.9 143.6C1873.2 142 1874.1 140.4 1874.9 138.9C1875.7 137.1 1877 135.3 1878.3 133.5C1879.1 132.3 1880.4 131.1 1881 130C1881.5 129 1881.7 128 1882.1 127.1Z"/>
<path fill="#d0d1e6" d="M1908 127.1C1908.3 128.1 1908.6 129.2 1909.1 130.2C1909.6 131.5 1910.8 132.8 1911.6 134C1912.8 136 1914 138 1914.8 139.9C1915.6 141.6 1916.3 143.3 1916.6 145C1916.8 146.1 1917 147.1 1917 148.2C1917 150.7 1916.6 153.3 1916.2 155.8C1915.7 158.9 1914.3 162 1913.4 165.1C1912.4 168.2 1911.4 171.3 1910.5 174.4C1909.7 177.5 1908.9 180.6 1908.1 183.6C1907.7 185.3 1907.3 186.9 1906.9 188.5L1905.9 188.5C1905.5 186.9 1905.1 185.3 1904.6 183.6C1903.9 180.6 1903.1 177.5 1902.2 174.4C1901.4 171.3 1900.4 168.2 1899.4 165.1C1898.5 162 1897.1 158.9 1896.6 155.8C1896.2 153.3 1895.8 150.7 1895.8 148.2C1895.8 147.1 1896 146.1 1896.1 145C1896.4 143.3 1897.2 141.6 1898 139.9C1898.8 138 1900 136 1901.2 134C1902 132.8 1903.2 131.5 1903.7 130.2C1904.2 129.2 1904.4 128.1 1904.8 127.1Z"/>
<path fill="#6a51a3" d="M1932.8 127.1C1933.1 128 1933.3 129 1933.7 130C1934.1 131.1 1935.1 132.3 1935.8 133.5C1936.7 135.3 1937.7 137.1 1938.4 138.9C1939 140.4 1939.7 142 1939.9 143.6C1940.1 144.5 1940.2 145.5 1940.2 146.5C1940.2 148.6 1939.8 150.8 1939.4 153C1938.9 155.6 1937.5 158.2 1936.6 160.9C1935.6 163.5 1934.6 166.1 1933.8 168.8C1932.9 171.4 1932.1 174 1931.4 176.6C1930.9 178 1930.5 179.4 1930.1 180.8L1929.1 180.8C1928.7 179.4 1928.3 178 1927.9 176.6C1927.1 174 1926.3 171.4 1925.5 168.8C1924.6 166.1 1923.6 163.5 1922.6 160.9C1921.7 158.2 1920.3 155.6 1919.8 153C1919.4 150.8 1919 148.6 1919 146.5C1919 145.5 1919.2 144.5 1919.3 143.6C1919.5 142 1920.2 140.4 1920.8 138.9C1921.5 137.1 1922.5 135.3 1923.5 133.5C1924.1 132.3 1925.1 131.1 1925.5 130C1925.9 129 1926.1 128 1926.4 127.1Z"/>
<path fill="#d0d1e6" d="M1957.6 126.7C1957.8 127.3 1958 127.8 1958.3 128.4C1958.7 129.1 1959.4 129.7 1959.9 130.4C1960.7 131.5 1961.5 132.5 1962 133.5C1962.5 134.4 1963 135.3 1963.2 136.2C1963.3 136.8 1963.4 137.3 1963.4 137.9C1963.4 139.9 1963 142 1962.6 144.1C1962.2 146.6 1960.8 149.1 1959.8 151.6C1958.9 154.1 1957.9 156.6 1957 159.1C1956.1 161.6 1955.4 164.1 1954.6 166.6C1954.2 167.9 1953.8 169.2 1953.4 170.5L1952.3 170.5C1951.9 169.2 1951.5 167.9 1951.1 166.6C1950.3 164.1 1949.5 161.6 1948.7 159.1C1947.8 156.6 1946.8 154.1 1945.9 151.6C1944.9 149.1 1943.5 146.6 1943 144.1C1942.6 142 1942.2 139.9 1942.2 137.9C1942.2 137.3 1942.4 136.8 1942.5 136.2C1942.7 135.3 1943.2 134.4 1943.6 133.5C1944.2 132.5 1945 131.5 1945.7 130.4C1946.2 129.7 1947 129.1 1947.4 128.4C1947.7 127.8 1947.8 127.3 1948.1 126.7Z"/>
<path fill="#ffffff" d="M1979.8 112.2C1980 113.1 1980.2 114.1 1980.6 115.1C1981 116.3 1981.9 117.5 1982.5 118.7C1983.4 120.5 1984.4 122.3 1985 124.2C1985.6 125.8 1986.2 127.3 1986.4 128.9C1986.5 129.9 1986.7 130.9 1986.7 131.9C1986.7 136.5 1986.2 141.1 1985.9 145.7C1985.4 151.3 1984 156.9 1983 162.5C1982.1 168.1 1981.1 173.7 1980.2 179.3C1979.3 184.9 1978.6 190.4 1977.8 196C1977.4 198.9 1977 201.9 1976.6 204.8L1975.5 204.8C1975.1 201.9 1974.7 198.9 1974.3 196C1973.5 190.4 1972.8 184.9 1971.9 179.3C1971 173.7 1970 168.1 1969.1 162.5C1968.1 156.9 1966.7 151.3 1966.3 145.7C1965.9 141.1 1965.5 136.5 1965.5 131.9C1965.5 130.9 1965.6 129.9 1965.7 128.9C1966 127.3 1966.6 125.8 1967.1 124.2C1967.8 122.3 1968.7 120.5 1969.6 118.7C1970.2 117.5 1971.1 116.3 1971.5 115.1C1971.9 114.1 1972.1 113.1 1972.4 112.2Z"/>
<path fill="#1d91c0" d="M95.1 645.2C95.5 648.3 95.8 651.3 96.4 654.3C97 657.9 98.4 661.5 99.3 665.1C100.6 670.7 102 676.3 103 681.9C103.8 686.7 104.8 691.5 105.1 696.3C105.3 699.3 105.5 702.3 105.5 705.3C105.5 709.1 105.1 712.9 104.7 716.7C104.2 721.3 102.7 726 101.7 730.6C100.7 735.2 99.6 739.8 98.7 744.4C97.8 749 97 753.6 96.2 758.3C95.7 760.7 95.3 763.1 94.9 765.5C94.5 763.1 94.1 760.7 93.6 758.3C92.8 753.6 92 749 91.1 744.4C90.2 739.8 89.1 735.2 88.1 730.6C87.1 726 85.6 721.3 85.1 716.7C84.7 712.9 84.3 709.1 84.3 705.3C84.3 702.3 84.5 699.3 84.7 696.3C85 691.5 86 686.7 86.8 681.9C87.8 676.3 89.2 670.7 90.5 665.1C91.4 661.5 92.8 657.9 93.4 654.3C94 651.3 94.3 648.3 94.7 645.2Z"/>
<path fill="#ffffff" d="M118.3 724.2C118.9 727.6 119.3 731 120 734.4C120.7 737.9 121.8 741.3 123 744.7C124 747.6 125.7 750.5 126.9 753.3C127.5 755 128.7 756.7 128.7 758.5C128.7 759.5 128.4 760.6 128.1 761.6C127.9 762.3 127.5 763 127.1 763.7C126.8 764.2 126.5 764.6 125.9 765C125.6 765.2 125 765.3 124.5 765.5L111.8 765.5C111.3 765.3 110.6 765.2 110.4 765C109.7 764.6 109.5 764.2 109.2 763.7C108.7 763 108.4 762.3 108.2 761.6C107.9 760.6 107.5 759.5 107.5 758.5C107.5 756.7 108.7 755 109.4 753.3C110.5 750.5 112.2 747.6 113.2 744.7C114.5 741.3 115.5 737.9 116.3 734.4C117 731 117.4 727.6 117.9 724.2Z"/>
<path fill="#ffffff" d="M141.6 739.6C142.1 741.7 142.5 743.9 143.2 746C143.9 748.2 145 750.3 146.2 752.5C147.3 754.2 148.9 756 150.1 757.8C150.8 758.9 151.9 760 151.9 761C151.9 761.7 151.7 762.4 151.5 763C151.3 763.5 151 763.9 150.7 764.4C150.5 764.6 150.3 764.9 149.8 765.2C149.6 765.3 149.1 765.4 148.8 765.5L133.9 765.5C133.6 765.4 133.1 765.3 132.9 765.2C132.4 764.9 132.2 764.6 132 764.4C131.7 763.9 131.4 763.5 131.2 763C131 762.4 130.7 761.7 130.7 761C130.7 760 131.9 758.9 132.6 757.8C133.8 756 135.4 754.2 136.5 752.5C137.7 750.3 138.8 748.2 139.5 746C140.2 743.9 140.6 741.7 141.1 739.6Z"/>
<path fill="#f7fcb9" d="M164.8 659C165.2 662.3 165.5 665.7 166 669C166.7 673 168.1 677 168.9 681C170.3 687.3 171.7 693.5 172.7 699.8C173.5 705.1 174.4 710.5 174.8 715.8C175 719.2 175.2 722.5 175.2 725.9C175.2 728.4 174.8 730.9 174.4 733.4C173.9 736.4 172.5 739.5 171.5 742.5C170.6 745.5 169.6 748.6 168.7 751.6C167.9 754.7 167.1 757.7 166.3 760.7C165.9 762.3 165.5 763.9 165.1 765.5L164 765.5C163.6 763.9 163.2 762.3 162.8 760.7C162 757.7 161.3 754.7 160.4 751.6C159.5 748.6 158.5 745.5 157.6 742.5C156.7 739.5 155.3 736.4 154.8 733.4C154.4 730.9 154 728.4 154 725.9C154 722.5 154.2 719.2 154.4 715.8C154.7 710.5 155.6 705.1 156.5 699.8C157.4 693.5 158.8 687.3 160.2 681C161.1 677 162.5 673 163.1 669C163.7 665.7 163.9 662.3 164.4 659Z"/>
<path fill="#1d91c0" d="M188 712.1C188.6 716.1 189 720 189.7 724C190.4 727.9 191.5 731.9 192.7 735.8C193.7 739.1 195.4 742.4 196.5 745.7C197.2 747.7 198.4 749.6 198.4 751.6C198.4 753.7 198 755.8 197.6 757.8C197.3 759.2 196.9 760.6 196.3 762C196 762.8 195.6 763.7 194.9 764.5C194.5 764.8 193.7 765.2 193.1 765.5L182.5 765.5C181.9 765.2 181.1 764.8 180.7 764.5C179.9 763.7 179.6 762.8 179.3 762C178.7 760.6 178.3 759.2 178 757.8C177.6 755.8 177.2 753.7 177.2 751.6C177.2 749.6 178.4 747.7 179.1 745.7C180.2 742.4 181.9 739.1 182.9 735.8C184.1 731.9 185.2 727.9 185.9 724C186.6 720 187 716.1 187.6 712.1Z"/>
<path fill="#f7fcb9" d="M211.2 722.4C211.8 726.2 212.2 730 212.9 733.8C213.6 737.5 214.7 741.3 215.9 745.1C216.9 748.2 218.6 751.4 219.8 754.5C220.4 756.4 221.6 758.3 221.6 760.2C221.6 761 221.4 761.8 221.1 762.6C221 763.1 220.7 763.6 220.4 764.2C220.2 764.5 220 764.8 219.5 765.1C219.3 765.2 218.8 765.4 218.4 765.5L203.6 765.5C203.3 765.4 202.7 765.2 202.5 765.1C202.1 764.8 201.9 764.5 201.7 764.2C201.3 763.6 201.1 763.1 200.9 762.6C200.7 761.8 200.4 761 200.4 760.2C200.4 758.3 201.6 756.4 202.3 754.5C203.4 751.4 205.1 748.2 206.1 745.1C207.4 741.3 208.4 737.5 209.1 733.8C209.9 730 210.3 726.2 210.8 722.4Z"/>
<path fill="#fcc5c0" d="M234.5 722.4C235 725.7 235.4 729 236.1 732.2C236.8 735.5 237.9 738.7 239.1 742C240.2 744.7 241.8 747.4 243 750.1C243.7 751.8 244.8 753.4 244.8 755C244.8 756.6 244.5 758.2 244.2 759.7C244 760.8 243.6 761.8 243.2 762.9C242.9 763.5 242.6 764.1 242 764.8C241.8 765 241.1 765.2 240.6 765.5L227.9 765.5C227.4 765.2 226.7 765 226.5 764.8C225.8 764.1 225.6 763.5 225.3 762.9C224.8 761.8 224.5 760.8 224.3 759.7C224 758.2 223.6 756.6 223.6 755C223.6 753.4 224.8 751.8 225.5 750.1C226.7 747.4 228.3 744.7 229.4 742C230.6 738.7 231.7 735.5 232.4 732.2C233.1 729 233.5 725.7 234 722.4Z"/>
<path fill="#ffffff" d="M257.7 681.3C258.1 684.1 258.4 686.9 258.9 689.8C259.6 693.2 261 696.6 261.8 699.9C263.2 705.2 264.6 710.5 265.6 715.8C266.4 720.3 267.3 724.9 267.7 729.4C267.9 732.2 268.1 735 268.1 737.9C268.1 739.6 267.7 741.4 267.3 743.1C266.9 745.2 265.7 747.4 264.8 749.5C264 751.6 263.1 753.7 262.3 755.8C261.5 757.9 260.8 760.1 260.1 762.2C259.8 763.3 259.4 764.4 259.1 765.5L255.9 765.5C255.5 764.4 255.2 763.3 254.8 762.2C254.1 760.1 253.4 757.9 252.6 755.8C251.9 753.7 251 751.6 250.1 749.5C249.3 747.4 248 745.2 247.6 743.1C247.2 741.4 246.9 739.6 246.9 737.9C246.9 735 247.1 732.2 247.3 729.4C247.6 724.9 248.5 720.3 249.4 715.8C250.3 710.5 251.7 705.2 253.1 699.9C254 696.6 255.4 693.2 256 689.8C256.6 686.9 256.8 684.1 257.3 681.3Z"/>
<path fill="#ffffff" d="M280.9 635C281.3 639.1 281.6 643.2 282.2 647.3C282.8 652.2 284.2 657.2 285.1 662.1C286.4 669.8 287.8 677.5 288.8 685.2C289.6 691.8 290.6 698.4 290.9 704.9C291.1 709.1 291.3 713.2 291.3 717.3C291.3 720.3 290.9 723.4 290.5 726.4C290.1 730.1 288.7 733.8 287.9 737.5C287 741.2 286 744.9 285.2 748.6C284.4 752.3 283.6 756 282.9 759.7C282.5 761.6 282.1 763.6 281.8 765.5L279.6 765.5C279.3 763.6 278.9 761.6 278.5 759.7C277.7 756 277 752.3 276.2 748.6C275.4 744.9 274.4 741.2 273.5 737.5C272.6 733.8 271.3 730.1 270.9 726.4C270.5 723.4 270.1 720.3 270.1 717.3C270.1 713.2 270.3 709.1 270.5 704.9C270.8 698.4 271.8 691.8 272.6 685.2C273.6 677.5 275 669.8 276.3 662.1C277.2 657.2 278.6 652.2 279.2 647.3C279.8 643.2 280.1 639.1 280.5 635Z"/>
<path fill="#fcc5c0" d="M304.1 741.3C304.7 743 305.1 744.7 305.8 746.4C306.5 748.2 307.6 749.9 308.8 751.6C309.8 753 311.5 754.5 312.6 755.9C313.3 756.7 314.5 757.6 314.5 758.5C314.5 759.5 314.2 760.6 313.9 761.6C313.7 762.3 313.3 763 312.9 763.7C312.6 764.2 312.3 764.6 311.7 765C311.4 765.2 310.7 765.3 310.3 765.5L297.6 765.5C297.1 765.3 296.4 765.2 296.2 765C295.5 764.6 295.3 764.2 295 763.7C294.5 763 294.2 762.3 294 761.6C293.6 760.6 293.3 759.5 293.3 758.5C293.3 757.6 294.5 756.7 295.2 755.9C296.3 754.5 298 753 299 751.6C300.3 749.9 301.3 748.2 302 746.4C302.8 744.7 303.2 743 303.7 741.3Z"/>
<path fill="#addd8e" d="M327.4 749.9C327.9 751.2 328.3 752.5 329 753.7C329.7 755 330.8 756.3 332 757.6C333 758.7 334.7 759.7 335.9 760.8C336.6 761.5 337.7 762.1 337.7 762.7C337.7 763.2 337.6 763.6 337.4 764C337.3 764.3 337.1 764.5 336.9 764.8C336.8 765 336.5 765.1 336.3 765.3L318 765.3C317.8 765.1 317.5 765 317.4 764.8C317.1 764.5 317 764.3 316.9 764C316.7 763.6 316.5 763.2 316.5 762.7C316.5 762.1 317.7 761.5 318.4 760.8C319.5 759.7 321.2 758.7 322.3 757.6C323.5 756.3 324.6 755 325.3 753.7C326 752.5 326.4 751.2 326.9 749.9Z"/>
<path fill="#ffffff" d="M350.6 712.1C351.1 715.7 351.5 719.3 352.2 723C353 726.6 354 730.2 355.3 733.8C356.3 736.8 358 739.8 359.1 742.8C359.8 744.6 361 746.4 361 748.2C361 750.8 360.6 753.4 360.3 756C360.1 757.7 359.8 759.4 359.3 761.2C359 762.2 358.8 763.2 358.1 764.3C357.9 764.7 357.2 765.1 356.7 765.5L344 765.5C343.5 765.1 342.9 764.7 342.6 764.3C342 763.2 341.7 762.2 341.4 761.2C341 759.4 340.6 757.7 340.4 756C340.1 753.4 339.8 750.8 339.8 748.2C339.8 746.4 341 744.6 341.6 742.8C342.8 739.8 344.5 736.8 345.5 733.8C346.7 730.2 347.8 726.6 348.5 723C349.2 719.3 349.6 715.7 350.2 712.1Z"/>
<path fill="#fcc5c0" d="M373.8 755C374.4 755.9 374.8 756.7 375.5 757.6C376.2 758.5 377.3 759.3 378.5 760.2C379.5 760.9 381.2 761.6 382.3 762.3C383 762.7 384.2 763.2 384.2 763.6C384.2 763.9 384.1 764.2 384 764.5C384 764.6 383.9 764.8 383.8 765C383.7 765.1 383.6 765.2 383.5 765.4L363.7 765.4C363.6 765.2 363.5 765.1 363.4 765C363.3 764.8 363.2 764.6 363.2 764.5C363.1 764.2 363 763.9 363 763.6C363 763.2 364.2 762.7 364.9 762.3C366 761.6 367.7 760.9 368.7 760.2C369.9 759.3 371 758.5 371.7 757.6C372.4 756.7 372.8 755.9 373.4 755Z"/>
<path fill="#f7fcb9" d="M397 727.6C397.6 730.5 398 733.4 398.7 736.3C399.4 739.2 400.5 742.2 401.7 745.1C402.7 747.5 404.4 749.9 405.5 752.4C406.2 753.8 407.4 755.3 407.4 756.7C407.4 758.1 407.1 759.4 406.8 760.7C406.6 761.6 406.2 762.4 405.7 763.3C405.5 763.8 405.2 764.4 404.6 764.9C404.3 765.1 403.6 765.3 403.2 765.5L390.5 765.5C390 765.3 389.3 765.1 389.1 764.9C388.4 764.4 388.2 763.8 387.9 763.3C387.4 762.4 387.1 761.6 386.9 760.7C386.5 759.4 386.2 758.1 386.2 756.7C386.2 755.3 387.4 753.8 388.1 752.4C389.2 749.9 390.9 747.5 391.9 745.1C393.2 742.2 394.2 739.2 394.9 736.3C395.7 733.4 396 730.5 396.6 727.6Z"/>
<path fill="#ffffff" d="M420.3 631.5C420.7 636.2 421 640.8 421.5 645.4C422.1 651 423.5 656.5 424.4 662.1C425.8 670.7 427.2 679.4 428.1 688C429 695.4 429.9 702.8 430.2 710.3C430.4 714.9 430.6 719.5 430.6 724.2C430.6 726.8 430.3 729.4 429.9 732C429.5 735.2 428.2 738.3 427.4 741.5C426.6 744.7 425.6 747.9 424.9 751C424.1 754.2 423.4 757.4 422.7 760.5C422.3 762.2 422 763.8 421.6 765.5L418.4 765.5C418.1 763.8 417.7 762.2 417.4 760.5C416.7 757.4 416 754.2 415.2 751C414.4 747.9 413.5 744.7 412.7 741.5C411.8 738.3 410.6 735.2 410.2 732C409.8 729.4 409.4 726.8 409.4 724.2C409.4 719.5 409.7 714.9 409.9 710.3C410.2 702.8 411.1 695.4 411.9 688C412.9 679.4 414.3 670.7 415.7 662.1C416.6 656.5 417.9 651 418.6 645.4C419.1 640.8 419.4 636.2 419.8 631.5Z"/>
<path fill="#f7fcb9" d="M443.5 688.1C444 693.4 444.4 698.8 445.1 704.1C445.9 709.4 446.9 714.7 448.1 720C449.2 724.5 450.9 728.9 452 733.3C452.7 736 453.9 738.6 453.9 741.3C453.9 744.9 453.5 748.6 453.1 752.2C452.8 754.6 452.4 757 451.8 759.4C451.4 760.9 451.1 762.3 450.3 763.8C450 764.4 449.1 764.9 448.6 765.5L438 765.5C437.4 764.9 436.5 764.4 436.2 763.8C435.4 762.3 435.1 760.9 434.7 759.4C434.2 757 433.7 754.6 433.5 752.2C433.1 748.6 432.7 744.9 432.7 741.3C432.7 738.6 433.9 736 434.5 733.3C435.7 728.9 437.4 724.5 438.4 720C439.6 714.7 440.7 709.4 441.4 704.1C442.1 698.8 442.5 693.4 443.1 688.1Z"/>
<path fill="#ffffff" d="M466.7 713.9C467.3 718.1 467.6 722.4 468.4 726.7C469.1 731 470.2 735.3 471.4 739.6C472.4 743.2 474.1 746.7 475.2 750.3C475.9 752.5 477.1 754.6 477.1 756.7C477.1 758.1 476.8 759.4 476.4 760.7C476.2 761.6 475.9 762.4 475.4 763.3C475.1 763.8 474.9 764.4 474.3 764.9C474 765.1 473.3 765.3 472.8 765.5L460.1 765.5C459.7 765.3 459 765.1 458.7 764.9C458.1 764.4 457.8 763.8 457.6 763.3C457.1 762.4 456.7 761.6 456.5 760.7C456.2 759.4 455.9 758.1 455.9 756.7C455.9 754.6 457.1 752.5 457.8 750.3C458.9 746.7 460.6 743.2 461.6 739.6C462.8 735.3 463.9 731 464.6 726.7C465.3 722.4 465.7 718.1 466.3 713.9Z"/>
<path fill="#fcc5c0" d="M489.9 653.8C490.3 657.7 490.6 661.5 491.2 665.4C491.8 670 493.2 674.7 494.1 679.3C495.5 686.5 496.8 693.7 497.8 700.9C498.7 707.1 499.6 713.3 499.9 719.4C500.1 723.3 500.3 727.2 500.3 731C500.3 733.2 500 735.4 499.6 737.6C499.2 740.2 498.1 742.8 497.3 745.5C496.5 748.1 495.6 750.8 494.9 753.4C494.2 756.1 493.5 758.7 492.8 761.4C492.5 762.7 492.2 764.1 491.8 765.5L487.6 765.5C487.3 764.1 486.9 762.7 486.6 761.4C485.9 758.7 485.3 756.1 484.5 753.4C483.8 750.8 483 748.1 482.2 745.5C481.4 742.8 480.2 740.2 479.8 737.6C479.5 735.4 479.1 733.2 479.1 731C479.1 727.2 479.3 723.3 479.5 719.4C479.8 713.3 480.8 707.1 481.6 700.9C482.6 693.7 484 686.5 485.3 679.3C486.2 674.7 487.6 670 488.3 665.4C488.8 661.5 489.1 657.7 489.5 653.8Z"/>
<path fill="#f7fcb9" d="M513.1 746.4C513.7 748.1 514.1 749.7 514.8 751.3C515.5 753 516.6 754.6 517.8 756.2C518.8 757.6 520.5 758.9 521.7 760.3C522.3 761.1 523.5 761.9 523.5 762.7C523.5 763.2 523.4 763.6 523.2 764C523.1 764.3 522.9 764.5 522.7 764.8C522.6 765 522.3 765.1 522.1 765.3L503.8 765.3C503.6 765.1 503.3 765 503.2 764.8C502.9 764.5 502.8 764.3 502.7 764C502.5 763.6 502.3 763.2 502.3 762.7C502.3 761.9 503.5 761.1 504.2 760.3C505.3 758.9 507 757.6 508 756.2C509.3 754.6 510.3 753 511.1 751.3C511.8 749.7 512.2 748.1 512.7 746.4Z"/>
<path fill="#ffffff" d="M536.4 657.3C536.8 660.8 537.1 664.3 537.6 667.8C538.3 672 539.6 676.2 540.5 680.5C541.9 687 543.3 693.6 544.3 700.2C545.1 705.8 546 711.4 546.3 717C546.5 720.5 546.8 724.1 546.8 727.6C546.8 730 546.4 732.4 546 734.8C545.6 737.7 544.4 740.6 543.5 743.5C542.7 746.4 541.8 749.3 541 752.2C540.2 755.1 539.5 758 538.8 760.9C538.5 762.5 538.1 764 537.7 765.5L534.6 765.5C534.2 764 533.9 762.5 533.5 760.9C532.8 758 532.1 755.1 531.3 752.2C530.5 749.3 529.6 746.4 528.8 743.5C528 740.6 526.7 737.7 526.3 734.8C525.9 732.4 525.6 730 525.6 727.6C525.6 724.1 525.8 720.5 526 717C526.3 711.4 527.2 705.8 528.1 700.2C529 693.6 530.4 687 531.8 680.5C532.7 676.2 534 672 534.7 667.8C535.2 664.3 535.5 660.8 535.9 657.3Z"/>
<path fill="#fcc5c0" d="M559.6 734.4C560.2 736.8 560.5 739.2 561.3 741.6C562 744 563 746.4 564.3 748.9C565.3 750.9 567 752.9 568.1 754.9C568.8 756.1 570 757.3 570 758.5C570 759.5 569.7 760.6 569.5 761.6C569.3 762.3 569.1 763 568.7 763.7C568.5 764.2 568.3 764.6 567.9 765C567.7 765.2 567.2 765.3 566.8 765.5L552 765.5C551.6 765.3 551.1 765.2 550.9 765C550.4 764.6 550.2 764.2 550 763.7C549.7 763 549.4 762.3 549.3 761.6C549 760.6 548.8 759.5 548.8 758.5C548.8 757.3 550 756.1 550.7 754.9C551.8 752.9 553.5 750.9 554.5 748.9C555.7 746.4 556.8 744 557.5 741.6C558.2 739.2 558.6 736.8 559.2 734.4Z"/>
<path fill="#f7fcb9" d="M582.8 746.4C583.4 748.1 583.8 749.7 584.5 751.3C585.2 753 586.3 754.6 587.5 756.2C588.5 757.6 590.2 758.9 591.3 760.3C592 761.1 593.2 761.9 593.2 762.7C593.2 763.2 593.1 763.6 593 764C593 764.3 592.9 764.5 592.8 764.8C592.7 765 592.6 765.1 592.5 765.3L572.7 765.3C572.6 765.1 572.5 765 572.4 764.8C572.3 764.5 572.2 764.3 572.2 764C572.1 763.6 572 763.2 572 762.7C572 761.9 573.2 761.1 573.9 760.3C575 758.9 576.7 757.6 577.7 756.2C578.9 754.6 580 753 580.7 751.3C581.4 749.7 581.8 748.1 582.4 746.4Z"/>
<path fill="#fcc5c0" d="M606 703.6C606.5 705.7 606.7 707.9 607.3 710C607.9 712.6 609.3 715.1 610.2 717.7C611.6 721.7 613 725.7 613.9 729.7C614.8 733.2 615.7 736.6 616 740C616.2 742.2 616.4 744.3 616.4 746.4C616.4 747.7 616.1 748.9 615.8 750.1C615.5 751.5 614.5 753 613.8 754.4C613.1 755.9 612.3 757.4 611.7 758.8C611 760.3 610.5 761.7 609.9 763.2C609.6 764 609.3 764.7 609 765.5L602.7 765.5C602.4 764.7 602.1 764 601.8 763.2C601.2 761.7 600.6 760.3 600 758.8C599.3 757.4 598.6 755.9 597.9 754.4C597.2 753 596.2 751.5 595.8 750.1C595.5 748.9 595.2 747.7 595.2 746.4C595.2 744.3 595.4 742.2 595.6 740C596 736.6 596.9 733.2 597.7 729.7C598.7 725.7 600.1 721.7 601.5 717.7C602.3 715.1 603.7 712.6 604.4 710C604.9 707.9 605.2 705.7 605.6 703.6Z"/>
<path fill="#ffffff" d="M629.3 741.3C629.8 743.3 630.2 745.2 630.9 747.2C631.6 749.2 632.7 751.2 633.9 753.1C635 754.8 636.6 756.4 637.8 758.1C638.5 759.1 639.7 760 639.7 761C639.7 761.7 639.5 762.4 639.3 763C639.2 763.5 639.1 763.9 638.8 764.4C638.7 764.6 638.6 764.9 638.2 765.2C638.1 765.3 637.8 765.4 637.5 765.5L620.6 765.5C620.3 765.4 620 765.3 619.9 765.2C619.6 764.9 619.4 764.6 619.3 764.4C619.1 763.9 618.9 763.5 618.8 763C618.6 762.4 618.5 761.7 618.5 761C618.5 760 619.6 759.1 620.3 758.1C621.5 756.4 623.2 754.8 624.2 753.1C625.4 751.2 626.5 749.2 627.2 747.2C627.9 745.2 628.3 743.3 628.8 741.3Z"/>
<path fill="#ffffff" d="M652.5 686.4C653 692.1 653.4 697.7 654.2 703.4C654.9 709.1 655.9 714.7 657.2 720.4C658.2 725.1 659.9 729.8 661 734.5C661.7 737.4 662.9 740.2 662.9 743C662.9 746.4 662.2 749.8 661.5 753.1C661.1 755.4 660.3 757.6 659.3 759.9C658.8 761.2 658.2 762.6 656.9 763.9C656.3 764.4 654.9 765 653.9 765.5L650.7 765.5C649.7 765 648.2 764.4 647.7 763.9C646.4 762.6 645.8 761.2 645.2 759.9C644.2 757.6 643.5 755.4 643 753.1C642.4 749.8 641.7 746.4 641.7 743C641.7 740.2 642.9 737.4 643.6 734.5C644.7 729.8 646.4 725.1 647.4 720.4C648.6 714.7 649.7 709.1 650.4 703.4C651.1 697.7 651.5 692.1 652.1 686.4Z"/>
<path fill="#ffffff" d="M675.7 712.1C676.1 713.9 676.4 715.7 677 717.5C677.6 719.7 679 721.9 679.9 724C681.2 727.4 682.6 730.8 683.6 734.1C684.4 737 685.4 739.9 685.7 742.8C685.9 744.6 686.1 746.4 686.1 748.2C686.1 749.3 685.7 750.4 685.4 751.5C685 752.8 683.7 754.1 682.9 755.4C682 756.8 681.1 758.1 680.3 759.4C679.6 760.8 678.9 762.1 678.2 763.4C677.8 764.1 677.5 764.8 677.1 765.5L673.9 765.5C673.6 764.8 673.2 764.1 672.8 763.4C672.1 762.1 671.4 760.8 670.7 759.4C669.9 758.1 669 756.8 668.1 755.4C667.3 754.1 666.1 752.8 665.6 751.5C665.3 750.4 664.9 749.3 664.9 748.2C664.9 746.4 665.1 744.6 665.3 742.8C665.6 739.9 666.6 737 667.4 734.1C668.4 730.8 669.8 727.4 671.1 724C672 721.9 673.4 719.7 674 717.5C674.6 715.7 674.9 713.9 675.3 712.1Z"/>
<path fill="#ffffff" d="M698.9 683C699.4 685.2 699.6 687.4 700.2 689.7C700.8 692.3 702.2 695 703.1 697.7C704.5 701.9 705.9 706 706.8 710.2C707.7 713.8 708.6 717.3 708.9 720.9C709.1 723.1 709.3 725.4 709.3 727.6C709.3 730 708.9 732.4 708.5 734.8C708 737.7 706.6 740.6 705.7 743.5C704.8 746.4 703.8 749.3 702.9 752.2C702 755.1 701.3 758 700.5 760.9C700.1 762.5 699.7 764 699.3 765.5L698.2 765.5C697.8 764 697.4 762.5 697 760.9C696.2 758 695.4 755.1 694.6 752.2C693.7 749.3 692.7 746.4 691.8 743.5C690.8 740.6 689.4 737.7 688.9 734.8C688.5 732.4 688.1 730 688.1 727.6C688.1 725.4 688.3 723.1 688.5 720.9C688.9 717.3 689.8 713.8 690.6 710.2C691.6 706 693 701.9 694.4 697.7C695.2 695 696.6 692.3 697.3 689.7C697.8 687.4 698.1 685.2 698.5 683Z"/>
<path fill="#d0d1e6" d="M722.2 715.6C722.6 716.9 722.9 718.3 723.4 719.7C724.1 721.3 725.4 723 726.3 724.6C727.7 727.2 729.1 729.8 730.1 732.3C730.9 734.5 731.8 736.7 732.1 738.9C732.3 740.3 732.6 741.6 732.6 743C732.6 744.4 732.2 745.9 731.8 747.3C731.3 749 730 750.7 729.1 752.5C728.2 754.2 727.3 755.9 726.4 757.6C725.6 759.3 724.9 761.1 724.2 762.8C723.8 763.7 723.4 764.6 723 765.5L720.9 765.5C720.5 764.6 720.1 763.7 719.7 762.8C719 761.1 718.3 759.3 717.5 757.6C716.6 755.9 715.7 754.2 714.8 752.5C713.9 750.7 712.6 749 712.1 747.3C711.7 745.9 711.4 744.4 711.4 743C711.4 741.6 711.6 740.3 711.8 738.9C712.1 736.7 713 734.5 713.8 732.3C714.8 729.8 716.2 727.2 717.6 724.6C718.5 723 719.8 721.3 720.5 719.7C721 718.3 721.3 716.9 721.7 715.6Z"/>
<path fill="#810f7c" d="M745.4 751.6C745.9 752.8 746.3 754 747.1 755.2C747.8 756.4 748.8 757.6 750.1 758.8C751.1 759.8 752.8 760.8 753.9 761.8C754.6 762.4 755.8 763 755.8 763.6C755.8 763.9 755.7 764.2 755.6 764.5C755.6 764.6 755.5 764.8 755.4 765C755.3 765.1 755.2 765.2 755.1 765.4L735.3 765.4C735.2 765.2 735.1 765.1 735 765C734.9 764.8 734.8 764.6 734.7 764.5C734.7 764.2 734.6 763.9 734.6 763.6C734.6 763 735.8 762.4 736.4 761.8C737.6 760.8 739.3 759.8 740.3 758.8C741.5 757.6 742.6 756.4 743.3 755.2C744 754 744.4 752.8 745 751.6Z"/>
<path fill="#fcc5c0" d="M768.6 633.2C769 637 769.3 640.8 769.9 644.6C770.5 649.1 771.9 653.6 772.8 658.1C774.1 665.2 775.5 672.2 776.5 679.3C777.3 685.3 778.3 691.4 778.6 697.4C778.8 701.2 779 704.9 779 708.7C779 712.3 778.6 715.9 778.2 719.5C777.7 723.9 776.3 728.2 775.3 732.6C774.3 736.9 773.3 741.3 772.4 745.6C771.5 750 770.8 754.3 770 758.7C769.5 760.9 769.1 763.2 768.7 765.5L768.1 765.5C767.7 763.2 767.3 760.9 766.8 758.7C766 754.3 765.3 750 764.4 745.6C763.5 741.3 762.5 736.9 761.5 732.6C760.5 728.2 759.1 723.9 758.6 719.5C758.2 715.9 757.8 712.3 757.8 708.7C757.8 704.9 758 701.2 758.2 697.4C758.5 691.4 759.5 685.3 760.3 679.3C761.3 672.2 762.7 665.2 764 658.1C764.9 653.6 766.3 649.1 766.9 644.6C767.5 640.8 767.8 637 768.2 633.2Z"/>
<path fill="#d0d1e6" d="M791.8 701.9C792.3 703.8 792.5 705.8 793.1 707.8C793.7 710.1 795.1 712.5 796 714.9C797.4 718.6 798.8 722.2 799.7 725.9C800.6 729.1 801.5 732.2 801.8 735.4C802 737.4 802.2 739.3 802.2 741.3C802.2 742.8 801.8 744.4 801.5 745.9C801 747.8 799.7 749.6 798.8 751.5C797.9 753.3 796.9 755.2 796.1 757C795.3 758.9 794.6 760.7 793.8 762.6C793.4 763.6 793.1 764.5 792.7 765.5L790.6 765.5C790.2 764.5 789.8 763.6 789.4 762.6C788.7 760.7 788 758.9 787.1 757C786.3 755.2 785.4 753.3 784.5 751.5C783.6 749.6 782.2 747.8 781.8 745.9C781.4 744.4 781 742.8 781 741.3C781 739.3 781.2 737.4 781.4 735.4C781.8 732.2 782.7 729.1 783.5 725.9C784.5 722.2 785.9 718.6 787.3 714.9C788.1 712.5 789.5 710.1 790.2 707.8C790.7 705.8 791 703.8 791.4 701.9Z"/>
<path fill="#ffffff" d="M815.1 751.6C815.6 752.8 816 753.9 816.7 755.1C817.4 756.3 818.5 757.4 819.7 758.6C820.8 759.6 822.4 760.5 823.6 761.5C824.3 762.1 825.5 762.7 825.5 763.3C825.5 763.6 825.4 763.9 825.3 764.3C825.2 764.5 825.1 764.7 825 764.9C825 765.1 824.8 765.2 824.7 765.3L805 765.3C804.9 765.2 804.7 765.1 804.7 764.9C804.6 764.7 804.5 764.5 804.4 764.3C804.3 763.9 804.3 763.6 804.3 763.3C804.3 762.7 805.4 762.1 806.1 761.5C807.3 760.5 808.9 759.6 810 758.6C811.2 757.4 812.3 756.3 813 755.1C813.7 753.9 814.1 752.8 814.6 751.6Z"/>
<path fill="#f7fcb9" d="M838.3 722.4C838.8 726 839.2 729.6 839.9 733.2C840.7 736.8 841.7 740.4 843 744C844 747 845.7 750.1 846.8 753.1C847.5 754.9 848.7 756.7 848.7 758.5C848.7 759.5 848.4 760.6 848.2 761.6C848 762.3 847.8 763 847.4 763.7C847.2 764.2 847 764.6 846.5 765C846.4 765.2 845.8 765.3 845.5 765.5L830.7 765.5C830.3 765.3 829.8 765.2 829.6 765C829.1 764.6 828.9 764.2 828.7 763.7C828.4 763 828.1 762.3 828 761.6C827.7 760.6 827.5 759.5 827.5 758.5C827.5 756.7 828.7 754.9 829.3 753.1C830.5 750.1 832.2 747 833.2 744C834.4 740.4 835.5 736.8 836.2 733.2C836.9 729.6 837.3 726 837.9 722.4Z"/>
<path fill="#ffffff" d="M861.5 605.8C861.9 608.8 862.2 611.8 862.8 614.8C863.4 618.4 864.8 622 865.7 625.6C867 631.2 868.4 636.8 869.4 642.4C870.2 647.2 871.2 652 871.5 656.8C871.7 659.8 871.9 662.8 871.9 665.8C871.9 671.3 871.5 676.7 871.1 682.1C870.5 688.7 869.1 695.3 868.1 701.9C867.1 708.4 866 715 865.1 721.6C864.2 728.2 863.4 734.7 862.6 741.3C862.1 744.7 861.7 748.2 861.3 751.6C860.9 748.2 860.5 744.7 860 741.3C859.2 734.7 858.4 728.2 857.5 721.6C856.6 715 855.5 708.4 854.5 701.9C853.5 695.3 852 688.7 851.5 682.1C851.1 676.7 850.7 671.3 850.7 665.8C850.7 662.8 850.9 659.8 851.1 656.8C851.4 652 852.4 647.2 853.2 642.4C854.2 636.8 855.6 631.2 856.9 625.6C857.8 622 859.2 618.4 859.8 614.8C860.4 611.8 860.7 608.8 861.1 605.8Z"/>
<path fill="#081d58" d="M884.7 650.4C885.3 658.8 885.7 667.2 886.4 675.6C887.1 684 888.2 692.4 889.4 700.8C890.4 707.8 892.1 714.8 893.3 721.8C893.9 726 895.1 730.2 895.1 734.4C895.1 739.1 894.5 743.8 894 748.4C893.6 751.5 893 754.6 892.2 757.7C891.7 759.6 891.3 761.5 890.2 763.3C889.7 764 888.5 764.8 887.7 765.5L881.3 765.5C880.5 764.8 879.3 764 878.9 763.3C877.8 761.5 877.3 759.6 876.8 757.7C876 754.6 875.4 751.5 875 748.4C874.5 743.8 873.9 739.1 873.9 734.4C873.9 730.2 875.1 726 875.8 721.8C876.9 714.8 878.6 707.8 879.6 700.8C880.9 692.4 881.9 684 882.6 675.6C883.4 667.2 883.8 658.8 884.3 650.4Z"/>
<path fill="#fcc5c0" d="M908 722.4C908.5 725.7 908.9 729 909.6 732.2C910.3 735.5 911.4 738.7 912.6 742C913.7 744.7 915.3 747.4 916.5 750.1C917.2 751.8 918.3 753.4 918.3 755C918.3 756.6 918 758.2 917.7 759.7C917.5 760.8 917.1 761.8 916.7 762.9C916.4 763.5 916.1 764.1 915.5 764.8C915.3 765 914.6 765.2 914.1 765.5L901.4 765.5C900.9 765.2 900.2 765 900 764.8C899.3 764.1 899.1 763.5 898.8 762.9C898.4 761.8 898 760.8 897.8 759.7C897.5 758.2 897.1 756.6 897.1 755C897.1 753.4 898.3 751.8 899 750.1C900.2 747.4 901.8 744.7 902.9 742C904.1 738.7 905.2 735.5 905.9 732.2C906.6 729 907 725.7 907.5 722.4Z"/>
<path fill="#f7fcb9" d="M931.2 688.1C931.7 694.1 932.1 700.1 932.8 706.1C933.6 712.1 934.6 718.1 935.9 724.2C936.9 729.2 938.6 734.2 939.7 739.2C940.4 742.2 941.6 745.2 941.6 748.2C941.6 750.8 941.2 753.4 940.8 756C940.5 757.7 940.1 759.4 939.5 761.2C939.1 762.2 938.8 763.2 938 764.3C937.7 764.7 936.9 765.1 936.3 765.5L925.7 765.5C925.1 765.1 924.2 764.7 923.9 764.3C923.1 763.2 922.8 762.2 922.5 761.2C921.9 759.4 921.4 757.7 921.2 756C920.8 753.4 920.4 750.8 920.4 748.2C920.4 745.2 921.6 742.2 922.2 739.2C923.4 734.2 925.1 729.2 926.1 724.2C927.3 718.1 928.4 712.1 929.1 706.1C929.8 700.1 930.2 694.1 930.8 688.1Z"/>
<path fill="#fcc5c0" d="M954.4 665.8C954.8 669.1 955.1 672.3 955.7 675.6C956.3 679.5 957.7 683.4 958.6 687.3C959.9 693.4 961.3 699.5 962.3 705.6C963.1 710.8 964.1 716 964.4 721.2C964.6 724.5 964.8 727.8 964.8 731C964.8 733.2 964.4 735.4 964.1 737.6C963.7 740.2 962.5 742.8 961.7 745.5C961 748.1 960.1 750.8 959.4 753.4C958.6 756.1 958 758.7 957.3 761.4C957 762.7 956.7 764.1 956.3 765.5L952.1 765.5C951.7 764.1 951.4 762.7 951.1 761.4C950.4 758.7 949.8 756.1 949 753.4C948.3 750.8 947.4 748.1 946.6 745.5C945.9 742.8 944.7 740.2 944.3 737.6C943.9 735.4 943.6 733.2 943.6 731C943.6 727.8 943.8 724.5 944 721.2C944.3 716 945.3 710.8 946.1 705.6C947.1 699.5 948.5 693.4 949.8 687.3C950.7 683.4 952.1 679.5 952.7 675.6C953.3 672.3 953.6 669.1 954 665.8Z"/>
<path fill="#810f7c" d="M977.6 755C978.2 755.9 978.6 756.7 979.3 757.6C980 758.5 981.1 759.3 982.3 760.2C983.3 760.9 985 761.6 986.1 762.3C986.8 762.7 988 763.2 988 763.6C988 763.9 987.9 764.2 987.9 764.5C987.8 764.6 987.7 764.8 987.6 765C987.5 765.1 987.4 765.2 987.3 765.4L967.5 765.4C967.4 765.2 967.3 765.1 967.2 765C967.1 764.8 967 764.6 967 764.5C966.9 764.2 966.8 763.9 966.8 763.6C966.8 763.2 968 762.7 968.7 762.3C969.8 761.6 971.5 760.9 972.5 760.2C973.8 759.3 974.8 758.5 975.5 757.6C976.3 756.7 976.7 755.9 977.2 755Z"/>
<path fill="#1d91c0" d="M1000.9 696.7C1001.3 699 1001.6 701.3 1002.1 703.7C1002.8 706.4 1004.1 709.2 1005 712C1006.4 716.3 1007.8 720.6 1008.8 725C1009.6 728.7 1010.5 732.4 1010.8 736.1C1011 738.4 1011.2 740.7 1011.2 743C1011.2 744.4 1011 745.9 1010.7 747.3C1010.4 749 1009.5 750.7 1009 752.5C1008.4 754.2 1007.7 755.9 1007.2 757.6C1006.6 759.3 1006.1 761.1 1005.6 762.8C1005.4 763.7 1005.1 764.6 1004.9 765.5L996.4 765.5C996.1 764.6 995.9 763.7 995.6 762.8C995.1 761.1 994.7 759.3 994.1 757.6C993.6 755.9 992.9 754.2 992.3 752.5C991.7 750.7 990.9 749 990.6 747.3C990.3 745.9 990 744.4 990 743C990 740.7 990.3 738.4 990.5 736.1C990.8 732.4 991.7 728.7 992.5 725C993.5 720.6 994.9 716.3 996.3 712C997.2 709.2 998.5 706.4 999.2 703.7C999.7 701.3 1000 699 1000.4 696.7Z"/>
<path fill="#810f7c" d="M1024.1 749.9C1024.6 751.2 1025 752.5 1025.7 753.7C1026.5 755 1027.5 756.3 1028.8 757.6C1029.8 758.7 1031.5 759.7 1032.6 760.8C1033.3 761.5 1034.5 762.1 1034.5 762.7C1034.5 763.2 1034.4 763.6 1034.3 764C1034.3 764.3 1034.2 764.5 1034.1 764.8C1034 765 1033.9 765.1 1033.8 765.3L1014 765.3C1013.9 765.1 1013.8 765 1013.7 764.8C1013.6 764.5 1013.5 764.3 1013.4 764C1013.4 763.6 1013.3 763.2 1013.3 762.7C1013.3 762.1 1014.5 761.5 1015.1 760.8C1016.3 759.7 1018 758.7 1019 757.6C1020.2 756.3 1021.3 755 1022 753.7C1022.7 752.5 1023.1 751.2 1023.7 749.9Z"/>
<path fill="#f7fcb9" d="M1047.3 732.7C1047.9 735.3 1048.3 737.9 1049 740.4C1049.7 743 1050.8 745.6 1052 748.2C1053 750.3 1054.7 752.5 1055.8 754.6C1056.5 755.9 1057.7 757.2 1057.7 758.5C1057.7 759.5 1057.4 760.6 1057.2 761.6C1057.1 762.3 1056.8 763 1056.4 763.7C1056.2 764.2 1056 764.6 1055.6 765C1055.4 765.2 1054.9 765.3 1054.5 765.5L1039.7 765.5C1039.3 765.3 1038.8 765.2 1038.6 765C1038.1 764.6 1037.9 764.2 1037.7 763.7C1037.4 763 1037.1 762.3 1037 761.6C1036.7 760.6 1036.5 759.5 1036.5 758.5C1036.5 757.2 1037.7 755.9 1038.4 754.6C1039.5 752.5 1041.2 750.3 1042.2 748.2C1043.4 745.6 1044.5 743 1045.2 740.4C1045.9 737.9 1046.3 735.3 1046.9 732.7Z"/>
<path fill="#fcc5c0" d="M1070.5 757.6C1071.1 758.2 1071.5 758.9 1072.2 759.5C1072.9 760.1 1074 760.8 1075.2 761.4C1076.2 761.9 1077.9 762.5 1079 763C1079.7 763.3 1080.9 763.6 1080.9 763.9C1080.9 764.2 1080.8 764.4 1080.8 764.6C1080.7 764.8 1080.6 764.9 1080.5 765.1C1080.4 765.2 1080.1 765.4 1079.9 765.5L1060.8 765.5C1060.6 765.4 1060.2 765.2 1060.1 765.1C1060 764.9 1059.9 764.8 1059.9 764.6C1059.8 764.4 1059.7 764.2 1059.7 763.9C1059.7 763.6 1060.9 763.3 1061.6 763C1062.7 762.5 1064.4 761.9 1065.4 761.4C1066.7 760.8 1067.7 760.1 1068.4 759.5C1069.2 758.9 1069.6 758.2 1070.1 757.6Z"/>
<path fill="#ffffff" d="M1093.8 653.8C1094.2 657.3 1094.5 660.9 1095 664.4C1095.7 668.6 1097 672.8 1097.9 677C1099.3 683.6 1100.7 690.2 1101.6 696.7C1102.5 702.3 1103.4 708 1103.7 713.6C1103.9 717.1 1104.1 720.6 1104.1 724.2C1104.1 726.8 1103.7 729.4 1103.4 732C1102.9 735.2 1101.6 738.3 1100.7 741.5C1099.8 744.7 1098.9 747.9 1098 751C1097.2 754.2 1096.5 757.4 1095.7 760.5C1095.4 762.2 1095 763.8 1094.6 765.5L1092.5 765.5C1092.1 763.8 1091.7 762.2 1091.3 760.5C1090.6 757.4 1089.9 754.2 1089 751C1088.2 747.9 1087.3 744.7 1086.4 741.5C1085.5 738.3 1084.2 735.2 1083.7 732C1083.3 729.4 1082.9 726.8 1082.9 724.2C1082.9 720.6 1083.2 717.1 1083.4 713.6C1083.7 708 1084.6 702.3 1085.4 696.7C1086.4 690.2 1087.8 683.6 1089.2 677C1090.1 672.8 1091.4 668.6 1092.1 664.4C1092.6 660.9 1092.9 657.3 1093.3 653.8Z"/>
<path fill="#addd8e" d="M1117 644.4C1117.4 647.2 1117.7 650 1118.2 652.8C1118.9 656.1 1120.2 659.4 1121.1 662.8C1122.5 668 1123.9 673.2 1124.9 678.4C1125.7 682.9 1126.6 687.3 1126.9 691.8C1127.2 694.6 1127.4 697.3 1127.4 700.1C1127.4 704.3 1126.9 708.4 1126.5 712.6C1126 717.6 1124.6 722.6 1123.6 727.6C1122.7 732.6 1121.6 737.6 1120.7 742.6C1119.8 747.6 1119 752.6 1118.2 757.6C1117.8 760.3 1117.4 762.9 1117 765.5L1116.6 765.5C1116.1 762.9 1115.7 760.3 1115.3 757.6C1114.5 752.6 1113.7 747.6 1112.8 742.6C1111.9 737.6 1110.9 732.6 1109.9 727.6C1108.9 722.6 1107.5 717.6 1107 712.6C1106.6 708.4 1106.2 704.3 1106.2 700.1C1106.2 697.3 1106.4 694.6 1106.6 691.8C1106.9 687.3 1107.8 682.9 1108.7 678.4C1109.6 673.2 1111 668 1112.4 662.8C1113.3 659.4 1114.7 656.1 1115.3 652.8C1115.8 650 1116.1 647.2 1116.6 644.4Z"/>
<path fill="#fcc5c0" d="M1140.2 715.6C1140.6 717.3 1140.9 719 1141.4 720.7C1142.1 722.8 1143.5 724.8 1144.4 726.9C1145.7 730.1 1147.1 733.3 1148.1 736.5C1148.9 739.2 1149.9 742 1150.2 744.7C1150.4 746.4 1150.6 748.2 1150.6 749.9C1150.6 750.9 1150.3 751.9 1150 752.8C1149.6 754 1148.6 755.2 1147.9 756.4C1147.2 757.6 1146.5 758.8 1145.8 760C1145.2 761.2 1144.6 762.4 1144.1 763.6C1143.8 764.2 1143.5 764.9 1143.2 765.5L1136.8 765.5C1136.5 764.9 1136.2 764.2 1135.9 763.6C1135.3 762.4 1134.8 761.2 1134.1 760C1133.5 758.8 1132.8 757.6 1132.1 756.4C1131.4 755.2 1130.3 754 1130 752.8C1129.7 751.9 1129.4 750.9 1129.4 749.9C1129.4 748.2 1129.6 746.4 1129.8 744.7C1130.1 742 1131 739.2 1131.9 736.5C1132.9 733.3 1134.2 730.1 1135.6 726.9C1136.5 724.8 1137.9 722.8 1138.5 720.7C1139.1 719 1139.4 717.3 1139.8 715.6Z"/>
<path fill="#ffffff" d="M1163.4 633.2C1163.8 637.7 1164.1 642.2 1164.7 646.6C1165.3 652 1166.7 657.3 1167.6 662.7C1169 671 1170.3 679.3 1171.3 687.7C1172.2 694.8 1173.1 701.9 1173.4 709.1C1173.6 713.5 1173.8 718 1173.8 722.4C1173.8 725.2 1173.5 727.9 1173.1 730.6C1172.7 733.9 1171.6 737.2 1170.8 740.5C1170 743.8 1169.1 747.1 1168.4 750.4C1167.7 753.7 1167 757 1166.4 760.3C1166 762 1165.7 763.8 1165.3 765.5L1161.1 765.5C1160.8 763.8 1160.4 762 1160.1 760.3C1159.4 757 1158.8 753.7 1158 750.4C1157.3 747.1 1156.5 743.8 1155.7 740.5C1154.9 737.2 1153.7 733.9 1153.3 730.6C1153 727.9 1152.6 725.2 1152.6 722.4C1152.6 718 1152.8 713.5 1153 709.1C1153.4 701.9 1154.3 694.8 1155.1 687.7C1156.1 679.3 1157.5 671 1158.8 662.7C1159.7 657.3 1161.1 652 1161.8 646.6C1162.3 642.2 1162.6 637.7 1163 633.2Z"/>
<path fill="#ffffff" d="M1186.6 623C1187.1 627.2 1187.4 631.5 1187.9 635.8C1188.5 641 1189.9 646.1 1190.8 651.3C1192.2 659.3 1193.6 667.3 1194.5 675.3C1195.4 682.1 1196.3 689 1196.6 695.8C1196.8 700.1 1197 704.4 1197 708.7C1197 712.3 1196.6 715.9 1196.2 719.5C1195.7 723.9 1194.2 728.2 1193.2 732.6C1192.2 736.9 1191.2 741.3 1190.3 745.6C1189.3 750 1188.5 754.3 1187.7 758.7C1187.3 760.9 1186.9 763.2 1186.4 765.5C1186 763.2 1185.6 760.9 1185.2 758.7C1184.3 754.3 1183.5 750 1182.6 745.6C1181.7 741.3 1180.6 736.9 1179.7 732.6C1178.7 728.2 1177.2 723.9 1176.7 719.5C1176.3 715.9 1175.8 712.3 1175.8 708.7C1175.8 704.4 1176.1 700.1 1176.3 695.8C1176.6 689 1177.5 682.1 1178.3 675.3C1179.3 667.3 1180.7 659.3 1182.1 651.3C1183 646.1 1184.3 641 1185 635.8C1185.5 631.5 1185.8 627.2 1186.2 623Z"/>
<path fill="#ffffff" d="M1209.9 734.4C1210.4 737 1210.8 739.6 1211.5 742.2C1212.2 744.7 1213.3 747.3 1214.5 749.9C1215.6 752 1217.3 754.2 1218.4 756.3C1219.1 757.6 1220.3 758.9 1220.3 760.2C1220.3 761 1220.1 761.8 1219.9 762.6C1219.8 763.1 1219.7 763.6 1219.4 764.2C1219.3 764.5 1219.2 764.8 1218.8 765.1C1218.7 765.2 1218.4 765.4 1218.1 765.5L1201.2 765.5C1200.9 765.4 1200.6 765.2 1200.5 765.1C1200.2 764.8 1200 764.5 1199.9 764.2C1199.7 763.6 1199.5 763.1 1199.4 762.6C1199.2 761.8 1199.1 761 1199.1 760.2C1199.1 758.9 1200.2 757.6 1200.9 756.3C1202.1 754.2 1203.8 752 1204.8 749.9C1206 747.3 1207.1 744.7 1207.8 742.2C1208.5 739.6 1208.9 737 1209.4 734.4Z"/>
<path fill="#ffffff" d="M1233.1 621.2C1233.5 624.2 1233.8 627.1 1234.3 630C1235 633.5 1236.4 637 1237.3 640.5C1238.6 645.9 1240 651.4 1241 656.8C1241.8 661.5 1242.7 666.1 1243.1 670.8C1243.3 673.7 1243.5 676.6 1243.5 679.6C1243.5 684.9 1243.1 690.2 1242.6 695.5C1242.1 702 1240.7 708.4 1239.7 714.9C1238.7 721.3 1237.6 727.7 1236.7 734.2C1235.8 740.6 1235 747.1 1234.2 753.5C1233.7 756.9 1233.3 760.2 1232.9 763.6C1232.5 760.2 1232 756.9 1231.6 753.5C1230.8 747.1 1230 740.6 1229.1 734.2C1228.2 727.7 1227.1 721.3 1226.1 714.9C1225.1 708.4 1223.6 702 1223.1 695.5C1222.7 690.2 1222.3 684.9 1222.3 679.6C1222.3 676.6 1222.5 673.7 1222.7 670.8C1223 666.1 1223.9 661.5 1224.8 656.8C1225.8 651.4 1227.1 645.9 1228.5 640.5C1229.4 637 1230.8 633.5 1231.4 630C1232 627.1 1232.3 624.2 1232.7 621.2Z"/>
<path fill="#f7fcb9" d="M1256.3 751.6C1256.9 752.8 1257.3 753.9 1258 755.1C1258.7 756.3 1259.8 757.4 1261 758.6C1262 759.6 1263.7 760.5 1264.8 761.5C1265.5 762.1 1266.7 762.7 1266.7 763.3C1266.7 763.6 1266.6 763.9 1266.6 764.3C1266.5 764.5 1266.4 764.7 1266.3 764.9C1266.2 765.1 1266.1 765.2 1266 765.3L1246.2 765.3C1246.1 765.2 1246 765.1 1245.9 764.9C1245.8 764.7 1245.7 764.5 1245.7 764.3C1245.6 763.9 1245.5 763.6 1245.5 763.3C1245.5 762.7 1246.7 762.1 1247.4 761.5C1248.5 760.5 1250.2 759.6 1251.2 758.6C1252.4 757.4 1253.5 756.3 1254.2 755.1C1254.9 753.9 1255.3 752.8 1255.9 751.6Z"/>
<path fill="#ffffff" d="M1279.5 698.4C1280 700.7 1280.2 703.1 1280.8 705.4C1281.4 708.1 1282.8 710.9 1283.7 713.7C1285.1 718 1286.5 722.3 1287.4 726.7C1288.3 730.4 1289.2 734.1 1289.5 737.8C1289.7 740.1 1289.9 742.4 1289.9 744.7C1289.9 746 1289.7 747.4 1289.4 748.7C1289.1 750.3 1288.2 751.9 1287.6 753.5C1287.1 755 1286.4 756.6 1285.9 758.2C1285.3 759.8 1284.8 761.4 1284.3 763C1284.1 763.8 1283.8 764.7 1283.6 765.5L1275.1 765.5C1274.8 764.7 1274.6 763.8 1274.3 763C1273.8 761.4 1273.4 759.8 1272.8 758.2C1272.3 756.6 1271.6 755 1271 753.5C1270.4 751.9 1269.5 750.3 1269.2 748.7C1269 747.4 1268.7 746 1268.7 744.7C1268.7 742.4 1268.9 740.1 1269.1 737.8C1269.5 734.1 1270.4 730.4 1271.2 726.7C1272.2 722.3 1273.6 718 1275 713.7C1275.9 710.9 1277.2 708.1 1277.9 705.4C1278.4 703.1 1278.7 700.7 1279.1 698.4Z"/>
<path fill="#f7fcb9" d="M1302.8 751.6C1303.3 752.8 1303.7 753.9 1304.4 755.1C1305.1 756.3 1306.2 757.4 1307.4 758.6C1308.5 759.6 1310.2 760.5 1311.3 761.5C1312 762.1 1313.2 762.7 1313.2 763.3C1313.2 763.6 1313.1 763.9 1313 764.3C1312.9 764.5 1312.9 764.7 1312.7 764.9C1312.7 765.1 1312.5 765.2 1312.4 765.3L1292.7 765.3C1292.6 765.2 1292.4 765.1 1292.4 764.9C1292.3 764.7 1292.2 764.5 1292.1 764.3C1292 763.9 1292 763.6 1292 763.3C1292 762.7 1293.1 762.1 1293.8 761.5C1295 760.5 1296.7 759.6 1297.7 758.6C1298.9 757.4 1300 756.3 1300.7 755.1C1301.4 753.9 1301.8 752.8 1302.3 751.6Z"/>
<path fill="#fcc5c0" d="M1326 717.3C1326.5 721.1 1326.9 724.8 1327.7 728.6C1328.4 732.4 1329.4 736.2 1330.7 739.9C1331.7 743.1 1333.4 746.2 1334.5 749.4C1335.2 751.3 1336.4 753.1 1336.4 755C1336.4 756.6 1336 758.2 1335.6 759.7C1335.3 760.8 1334.9 761.8 1334.3 762.9C1334 763.5 1333.6 764.1 1332.8 764.8C1332.5 765 1331.7 765.2 1331.1 765.5L1320.5 765.5C1319.9 765.2 1319 765 1318.7 764.8C1317.9 764.1 1317.6 763.5 1317.3 762.9C1316.7 761.8 1316.2 760.8 1316 759.7C1315.6 758.2 1315.2 756.6 1315.2 755C1315.2 753.1 1316.4 751.3 1317.1 749.4C1318.2 746.2 1319.9 743.1 1320.9 739.9C1322.1 736.2 1323.2 732.4 1323.9 728.6C1324.6 724.8 1325 721.1 1325.6 717.3Z"/>
<path fill="#ffffff" d="M1349.2 662.4C1349.6 665.8 1349.9 669.3 1350.5 672.7C1351.1 676.8 1352.5 680.9 1353.4 685C1354.7 691.4 1356.1 697.9 1357.1 704.3C1357.9 709.7 1358.9 715.2 1359.2 720.7C1359.4 724.2 1359.6 727.6 1359.6 731C1359.6 733.2 1359.2 735.4 1358.9 737.6C1358.5 740.2 1357.2 742.8 1356.4 745.5C1355.5 748.1 1354.6 750.8 1353.8 753.4C1353.1 756.1 1352.4 758.7 1351.7 761.4C1351.3 762.7 1351 764.1 1350.6 765.5L1347.4 765.5C1347.1 764.1 1346.7 762.7 1346.3 761.4C1345.6 758.7 1344.9 756.1 1344.2 753.4C1343.4 750.8 1342.5 748.1 1341.7 745.5C1340.8 742.8 1339.6 740.2 1339.1 737.6C1338.8 735.4 1338.4 733.2 1338.4 731C1338.4 727.6 1338.6 724.2 1338.8 720.7C1339.1 715.2 1340.1 709.7 1340.9 704.3C1341.9 697.9 1343.3 691.4 1344.6 685C1345.5 680.9 1346.9 676.8 1347.5 672.7C1348.1 669.3 1348.4 665.8 1348.8 662.4Z"/>
<path fill="#f7fcb9" d="M1372.4 755C1373 755.9 1373.4 756.7 1374.1 757.6C1374.8 758.5 1375.9 759.3 1377.1 760.2C1378.1 760.9 1379.8 761.6 1381 762.3C1381.6 762.7 1382.8 763.2 1382.8 763.6C1382.8 763.9 1382.7 764.2 1382.7 764.5C1382.6 764.6 1382.5 764.8 1382.4 765C1382.3 765.1 1382.2 765.2 1382.1 765.4L1362.3 765.4C1362.2 765.2 1362.1 765.1 1362 765C1361.9 764.8 1361.8 764.6 1361.8 764.5C1361.7 764.2 1361.6 763.9 1361.6 763.6C1361.6 763.2 1362.8 762.7 1363.5 762.3C1364.6 761.6 1366.3 760.9 1367.3 760.2C1368.6 759.3 1369.6 758.5 1370.4 757.6C1371.1 756.7 1371.5 755.9 1372 755Z"/>
<path fill="#ffffff" d="M1395.7 705.3C1396.2 709.9 1396.6 714.5 1397.3 719.2C1398 723.8 1399.1 728.4 1400.3 733.1C1401.4 736.9 1403 740.8 1404.2 744.6C1404.9 747 1406.1 749.3 1406.1 751.6C1406.1 753.7 1405.9 755.8 1405.7 757.8C1405.6 759.2 1405.5 760.6 1405.2 762C1405.1 762.8 1405 763.7 1404.6 764.5C1404.5 764.8 1404.2 765.2 1403.9 765.5L1387 765.5C1386.7 765.2 1386.4 764.8 1386.3 764.5C1386 763.7 1385.8 762.8 1385.7 762C1385.5 760.6 1385.3 759.2 1385.2 757.8C1385 755.8 1384.9 753.7 1384.9 751.6C1384.9 749.3 1386 747 1386.7 744.6C1387.9 740.8 1389.5 736.9 1390.6 733.1C1391.8 728.4 1392.9 723.8 1393.6 719.2C1394.3 714.5 1394.7 709.9 1395.2 705.3Z"/>
<path fill="#ffffff" d="M1418.9 707C1419.4 711.5 1419.8 715.9 1420.6 720.4C1421.3 724.8 1422.3 729.3 1423.6 733.8C1424.6 737.5 1426.3 741.2 1427.4 744.9C1428.1 747.1 1429.3 749.4 1429.3 751.6C1429.3 753.7 1429.1 755.8 1429 757.8C1428.9 759.2 1428.7 760.6 1428.4 762C1428.3 762.8 1428.2 763.7 1427.9 764.5C1427.7 764.8 1427.4 765.2 1427.2 765.5L1410.2 765.5C1410 765.2 1409.6 764.8 1409.5 764.5C1409.2 763.7 1409 762.8 1408.9 762C1408.7 760.6 1408.5 759.2 1408.4 757.8C1408.2 755.8 1408.1 753.7 1408.1 751.6C1408.1 749.4 1409.3 747.1 1409.9 744.9C1411.1 741.2 1412.8 737.5 1413.8 733.8C1415 729.3 1416.1 724.8 1416.8 720.4C1417.5 715.9 1417.9 711.5 1418.5 707Z"/>
<path fill="#f7fcb9" d="M1442.1 748.2C1442.7 749.6 1443.1 751.1 1443.8 752.5C1444.5 754 1445.6 755.5 1446.8 756.9C1447.8 758.1 1449.5 759.3 1450.6 760.6C1451.3 761.3 1452.5 762 1452.5 762.7C1452.5 763.2 1452.4 763.6 1452.3 764C1452.3 764.3 1452.2 764.5 1452.1 764.8C1452 765 1451.9 765.1 1451.8 765.3L1432 765.3C1431.9 765.1 1431.8 765 1431.7 764.8C1431.6 764.5 1431.5 764.3 1431.5 764C1431.4 763.6 1431.3 763.2 1431.3 762.7C1431.3 762 1432.5 761.3 1433.2 760.6C1434.3 759.3 1436 758.1 1437 756.9C1438.2 755.5 1439.3 754 1440 752.5C1440.7 751.1 1441.1 749.6 1441.7 748.2Z"/>
<path fill="#d0d1e6" d="M1465.3 672.7C1465.8 675.4 1466 678.2 1466.6 680.9C1467.2 684.2 1468.6 687.5 1469.5 690.8C1470.9 695.9 1472.3 701.1 1473.2 706.2C1474.1 710.6 1475 715 1475.3 719.3C1475.5 722.1 1475.7 724.8 1475.7 727.6C1475.7 730 1475.3 732.4 1475 734.8C1474.5 737.7 1473.2 740.6 1472.3 743.5C1471.4 746.4 1470.4 749.3 1469.6 752.2C1468.8 755.1 1468.1 758 1467.3 760.9C1466.9 762.5 1466.6 764 1466.2 765.5L1464.1 765.5C1463.7 764 1463.3 762.5 1462.9 760.9C1462.2 758 1461.5 755.1 1460.6 752.2C1459.8 749.3 1458.9 746.4 1458 743.5C1457.1 740.6 1455.7 737.7 1455.3 734.8C1454.9 732.4 1454.5 730 1454.5 727.6C1454.5 724.8 1454.7 722.1 1454.9 719.3C1455.3 715 1456.2 710.6 1457 706.2C1458 701.1 1459.4 695.9 1460.8 690.8C1461.6 687.5 1463 684.2 1463.7 680.9C1464.2 678.2 1464.5 675.4 1464.9 672.7Z"/>
<path fill="#f7fcb9" d="M1488.6 748.2C1489.1 749.6 1489.5 751.1 1490.2 752.5C1490.9 754 1492 755.5 1493.2 756.9C1494.3 758.1 1495.9 759.3 1497.1 760.6C1497.8 761.3 1499 762 1499 762.7C1499 763.2 1498.9 763.6 1498.8 764C1498.7 764.3 1498.7 764.5 1498.5 764.8C1498.5 765 1498.3 765.1 1498.2 765.3L1478.5 765.3C1478.4 765.1 1478.2 765 1478.2 764.8C1478.1 764.5 1478 764.3 1477.9 764C1477.8 763.6 1477.8 763.2 1477.8 762.7C1477.8 762 1478.9 761.3 1479.6 760.6C1480.8 759.3 1482.4 758.1 1483.5 756.9C1484.7 755.5 1485.8 754 1486.5 752.5C1487.2 751.1 1487.6 749.6 1488.1 748.2Z"/>
<path fill="#6a51a3" d="M1511.8 749.9C1512.3 751.2 1512.7 752.5 1513.5 753.7C1514.2 755 1515.2 756.3 1516.5 757.6C1517.5 758.7 1519.2 759.7 1520.3 760.8C1521 761.5 1522.2 762.1 1522.2 762.7C1522.2 763.2 1522.1 763.6 1522 764C1522 764.3 1521.9 764.5 1521.8 764.8C1521.7 765 1521.6 765.1 1521.5 765.3L1501.7 765.3C1501.6 765.1 1501.5 765 1501.4 764.8C1501.3 764.5 1501.2 764.3 1501.1 764C1501.1 763.6 1501 763.2 1501 762.7C1501 762.1 1502.2 761.5 1502.8 760.8C1504 759.7 1505.7 758.7 1506.7 757.6C1507.9 756.3 1509 755 1509.7 753.7C1510.4 752.5 1510.8 751.2 1511.4 749.9Z"/>
<path fill="#ffffff" d="M1535 749.9C1535.6 751.2 1536 752.6 1536.7 753.9C1537.4 755.2 1538.5 756.6 1539.7 757.9C1540.7 759 1542.4 760.1 1543.5 761.3C1544.2 761.9 1545.4 762.6 1545.4 763.3C1545.4 763.6 1545.3 763.9 1545.2 764.3C1545.2 764.5 1545.1 764.7 1545 764.9C1544.9 765.1 1544.8 765.2 1544.7 765.3L1524.9 765.3C1524.8 765.2 1524.7 765.1 1524.6 764.9C1524.5 764.7 1524.4 764.5 1524.4 764.3C1524.3 763.9 1524.2 763.6 1524.2 763.3C1524.2 762.6 1525.4 761.9 1526.1 761.3C1527.2 760.1 1528.9 759 1529.9 757.9C1531.1 756.6 1532.2 755.2 1532.9 753.9C1533.6 752.6 1534 751.2 1534.6 749.9Z"/>
<path fill="#addd8e" d="M1558.2 755C1558.8 755.9 1559.2 756.8 1559.9 757.7C1560.6 758.6 1561.7 759.5 1562.9 760.4C1563.9 761.1 1565.6 761.9 1566.8 762.6C1567.4 763.1 1568.6 763.5 1568.6 763.9C1568.6 764.2 1568.5 764.4 1568.5 764.6C1568.4 764.8 1568.3 764.9 1568.2 765.1C1568.1 765.2 1567.8 765.4 1567.6 765.5L1548.5 765.5C1548.3 765.4 1547.9 765.2 1547.8 765.1C1547.7 764.9 1547.6 764.8 1547.6 764.6C1547.5 764.4 1547.4 764.2 1547.4 763.9C1547.4 763.5 1548.6 763.1 1549.3 762.6C1550.4 761.9 1552.1 761.1 1553.1 760.4C1554.4 759.5 1555.4 758.6 1556.2 757.7C1556.9 756.8 1557.3 755.9 1557.8 755Z"/>
<path fill="#d0d1e6" d="M1581.5 751.6C1582 752.8 1582.4 753.9 1583.1 755.1C1583.8 756.3 1584.9 757.4 1586.1 758.6C1587.2 759.6 1588.8 760.5 1590 761.5C1590.7 762.1 1591.8 762.7 1591.8 763.3C1591.8 763.6 1591.8 763.9 1591.7 764.3C1591.6 764.5 1591.5 764.7 1591.4 764.9C1591.4 765.1 1591.2 765.2 1591.1 765.3L1571.4 765.3C1571.3 765.2 1571.1 765.1 1571.1 764.9C1570.9 764.7 1570.9 764.5 1570.8 764.3C1570.7 763.9 1570.6 763.6 1570.6 763.3C1570.6 762.7 1571.8 762.1 1572.5 761.5C1573.7 760.5 1575.3 759.6 1576.4 758.6C1577.6 757.4 1578.7 756.3 1579.4 755.1C1580.1 753.9 1580.5 752.8 1581 751.6Z"/>
<path fill="#6a51a3" d="M1604.7 654.7C1605.1 658.2 1605.4 661.8 1605.9 665.4C1606.6 669.6 1608 673.9 1608.8 678.2C1610.2 684.8 1611.6 691.5 1612.6 698.1C1613.4 703.8 1614.3 709.5 1614.7 715.2C1614.9 718.7 1615.1 722.3 1615.1 725.9C1615.1 728.4 1614.6 730.9 1614.2 733.4C1613.7 736.4 1612.2 739.5 1611.3 742.5C1610.3 745.5 1609.2 748.6 1608.3 751.6C1607.4 754.7 1606.6 757.7 1605.7 760.7C1605.3 762.3 1604.9 763.9 1604.5 765.5C1604 763.9 1603.6 762.3 1603.2 760.7C1602.4 757.7 1601.6 754.7 1600.7 751.6C1599.7 748.6 1598.7 745.5 1597.7 742.5C1596.7 739.5 1595.2 736.4 1594.7 733.4C1594.3 730.9 1593.9 728.4 1593.9 725.9C1593.9 722.3 1594.1 718.7 1594.3 715.2C1594.6 709.5 1595.5 703.8 1596.4 698.1C1597.3 691.5 1598.7 684.8 1600.1 678.2C1601 673.9 1602.4 669.6 1603 665.4C1603.6 661.8 1603.8 658.2 1604.3 654.7Z"/>
<path fill="#addd8e" d="M1627.9 664.1C1628.3 667.4 1628.6 670.6 1629.2 673.9C1629.8 677.8 1631.2 681.7 1632.1 685.6C1633.4 691.7 1634.8 697.8 1635.8 703.9C1636.6 709.1 1637.6 714.3 1637.9 719.5C1638.1 722.8 1638.3 726 1638.3 729.3C1638.3 731.6 1637.9 733.9 1637.5 736.2C1637.1 738.9 1635.8 741.7 1634.9 744.5C1634 747.3 1633 750 1632.2 752.8C1631.4 755.6 1630.6 758.4 1629.9 761.1C1629.5 762.6 1629.1 764 1628.8 765.5L1626.6 765.5C1626.3 764 1625.9 762.6 1625.5 761.1C1624.7 758.4 1624 755.6 1623.2 752.8C1622.4 750 1621.4 747.3 1620.5 744.5C1619.6 741.7 1618.3 738.9 1617.9 736.2C1617.5 733.9 1617.1 731.6 1617.1 729.3C1617.1 726 1617.3 722.8 1617.5 719.5C1617.8 714.3 1618.8 709.1 1619.6 703.9C1620.6 697.8 1622 691.7 1623.3 685.6C1624.2 681.7 1625.6 677.8 1626.2 673.9C1626.8 670.6 1627.1 667.4 1627.5 664.1Z"/>
<path fill="#238b45" d="M1651.1 758.5C1651.7 759.1 1652.1 759.7 1652.8 760.3C1653.5 760.9 1654.6 761.5 1655.8 762.1C1656.8 762.6 1658.5 763.1 1659.7 763.6C1660.3 763.9 1661.5 764.2 1661.5 764.5C1661.5 764.6 1661.5 764.8 1661.4 764.9C1661.4 765 1661.3 765.1 1661.2 765.2L1640.7 765.2C1640.6 765.1 1640.5 765 1640.4 764.9C1640.4 764.8 1640.3 764.6 1640.3 764.5C1640.3 764.2 1641.5 763.9 1642.2 763.6C1643.3 763.1 1645 762.6 1646 762.1C1647.3 761.5 1648.3 760.9 1649 760.3C1649.8 759.7 1650.2 759.1 1650.7 758.5Z"/>
<path fill="#d0d1e6" d="M1674.4 751.6C1674.9 752.8 1675.3 753.9 1676 755.1C1676.7 756.3 1677.8 757.4 1679 758.6C1680.1 759.6 1681.7 760.5 1682.9 761.5C1683.6 762.1 1684.7 762.7 1684.7 763.3C1684.7 763.6 1684.7 763.9 1684.6 764.3C1684.5 764.5 1684.4 764.7 1684.3 764.9C1684.3 765.1 1684.1 765.2 1684 765.3L1664.3 765.3C1664.2 765.2 1664 765.1 1664 764.9C1663.8 764.7 1663.8 764.5 1663.7 764.3C1663.6 763.9 1663.5 763.6 1663.5 763.3C1663.5 762.7 1664.7 762.1 1665.4 761.5C1666.6 760.5 1668.2 759.6 1669.3 758.6C1670.5 757.4 1671.6 756.3 1672.3 755.1C1673 753.9 1673.4 752.8 1673.9 751.6Z"/>
<path fill="#f7fcb9" d="M1697.6 746.4C1698.1 748.1 1698.5 749.7 1699.2 751.3C1700 753 1701 754.6 1702.3 756.2C1703.3 757.6 1705 758.9 1706.1 760.3C1706.8 761.1 1708 761.9 1708 762.7C1708 763.2 1707.9 763.6 1707.8 764C1707.8 764.3 1707.7 764.5 1707.6 764.8C1707.5 765 1707.4 765.1 1707.3 765.3L1687.5 765.3C1687.4 765.1 1687.3 765 1687.2 764.8C1687.1 764.5 1687 764.3 1686.9 764C1686.9 763.6 1686.8 763.2 1686.8 762.7C1686.8 761.9 1688 761.1 1688.6 760.3C1689.8 758.9 1691.5 757.6 1692.5 756.2C1693.7 754.6 1694.8 753 1695.5 751.3C1696.2 749.7 1696.6 748.1 1697.2 746.4Z"/>
<path fill="#ffffff" d="M1720.8 540.3C1721.2 545.1 1721.5 549.9 1722.1 554.7C1722.7 560.5 1724.1 566.3 1725 572.1C1726.3 581.1 1727.7 590.1 1728.7 599.1C1729.5 606.8 1730.5 614.5 1730.8 622.2C1731 627 1731.2 631.9 1731.2 636.7C1731.2 643.2 1730.8 649.8 1730.3 656.4C1729.8 664.3 1728.4 672.3 1727.4 680.3C1726.4 688.2 1725.3 696.2 1724.4 704.1C1723.5 712.1 1722.7 720 1721.9 728C1721.4 732.1 1721 736.3 1720.6 740.4C1720.2 736.3 1719.8 732.1 1719.3 728C1718.5 720 1717.7 712.1 1716.8 704.1C1715.9 696.2 1714.8 688.2 1713.8 680.3C1712.8 672.3 1711.3 664.3 1710.8 656.4C1710.4 649.8 1710 643.2 1710 636.7C1710 631.9 1710.2 627 1710.4 622.2C1710.7 614.5 1711.7 606.8 1712.5 599.1C1713.5 590.1 1714.9 581.1 1716.2 572.1C1717.1 566.3 1718.5 560.5 1719.1 554.7C1719.7 549.9 1720 545.1 1720.4 540.3Z"/>
<path fill="#ffffff" d="M1744 755C1744.6 755.9 1745 756.7 1745.7 757.6C1746.4 758.5 1747.5 759.3 1748.7 760.2C1749.7 760.9 1751.4 761.6 1752.5 762.3C1753.2 762.7 1754.4 763.2 1754.4 763.6C1754.4 763.9 1754.3 764.2 1754.3 764.5C1754.2 764.6 1754.1 764.8 1754 765C1753.9 765.1 1753.8 765.2 1753.7 765.4L1733.9 765.4C1733.8 765.2 1733.7 765.1 1733.6 765C1733.5 764.8 1733.4 764.6 1733.4 764.5C1733.3 764.2 1733.2 763.9 1733.2 763.6C1733.2 763.2 1734.4 762.7 1735.1 762.3C1736.2 761.6 1737.9 760.9 1738.9 760.2C1740.2 759.3 1741.2 758.5 1741.9 757.6C1742.7 756.7 1743.1 755.9 1743.6 755Z"/>
<path fill="#d0d1e6" d="M1767.3 751.6C1767.8 752.8 1768.2 753.9 1768.9 755.1C1769.6 756.3 1770.7 757.4 1771.9 758.6C1772.9 759.6 1774.6 760.5 1775.8 761.5C1776.5 762.1 1777.6 762.7 1777.6 763.3C1777.6 763.6 1777.6 763.9 1777.5 764.3C1777.4 764.5 1777.3 764.7 1777.2 764.9C1777.2 765.1 1777 765.2 1776.9 765.3L1757.2 765.3C1757.1 765.2 1756.9 765.1 1756.9 764.9C1756.7 764.7 1756.7 764.5 1756.6 764.3C1756.5 763.9 1756.4 763.6 1756.4 763.3C1756.4 762.7 1757.6 762.1 1758.3 761.5C1759.4 760.5 1761.1 759.6 1762.2 758.6C1763.4 757.4 1764.5 756.3 1765.2 755.1C1765.9 753.9 1766.3 752.8 1766.8 751.6Z"/>
<path fill="#ffffff" d="M1790.5 751.6C1791 752.8 1791.4 753.9 1792.1 755.1C1792.9 756.3 1793.9 757.4 1795.2 758.6C1796.2 759.6 1797.9 760.5 1799 761.5C1799.7 762.1 1800.9 762.7 1800.9 763.3C1800.9 763.6 1800.8 763.9 1800.7 764.3C1800.7 764.5 1800.6 764.7 1800.5 764.9C1800.4 765.1 1800.3 765.2 1800.2 765.3L1780.4 765.3C1780.3 765.2 1780.2 765.1 1780.1 764.9C1780 764.7 1779.9 764.5 1779.8 764.3C1779.7 763.9 1779.7 763.6 1779.7 763.3C1779.7 762.7 1780.9 762.1 1781.5 761.5C1782.7 760.5 1784.4 759.6 1785.4 758.6C1786.6 757.4 1787.7 756.3 1788.4 755.1C1789.1 753.9 1789.5 752.8 1790.1 751.6Z"/>
<path fill="#238b45" d="M1813.7 758.5C1814.3 759.1 1814.7 759.7 1815.4 760.3C1816.1 760.9 1817.2 761.5 1818.4 762.1C1819.4 762.6 1821.1 763.1 1822.2 763.6C1822.9 763.9 1824.1 764.2 1824.1 764.5C1824.1 764.6 1824 764.8 1824 764.9C1823.9 765 1823.8 765.1 1823.8 765.2L1803.2 765.2C1803.2 765.1 1803.1 765 1803 764.9C1803 764.8 1802.9 764.6 1802.9 764.5C1802.9 764.2 1804.1 763.9 1804.8 763.6C1805.9 763.1 1807.6 762.6 1808.6 762.1C1809.8 761.5 1810.9 760.9 1811.6 760.3C1812.3 759.7 1812.7 759.1 1813.3 758.5Z"/>
<path fill="#ffffff" d="M1836.9 674.4C1837.3 677.4 1837.6 680.4 1838.2 683.4C1838.8 687 1840.2 690.6 1841.1 694.2C1842.5 699.8 1843.8 705.4 1844.8 711C1845.7 715.8 1846.6 720.6 1846.9 725.4C1847.1 728.4 1847.3 731.4 1847.3 734.4C1847.3 736.4 1847 738.4 1846.7 740.3C1846.4 742.7 1845.3 745.1 1844.6 747.5C1844 749.9 1843.2 752.2 1842.6 754.6C1841.9 757 1841.4 759.4 1840.8 761.8C1840.5 763 1840.2 764.2 1839.9 765.5L1833.5 765.5C1833.2 764.2 1832.9 763 1832.6 761.8C1832.1 759.4 1831.5 757 1830.9 754.6C1830.2 752.2 1829.5 749.9 1828.8 747.5C1828.1 745.1 1827.1 742.7 1826.7 740.3C1826.4 738.4 1826.1 736.4 1826.1 734.4C1826.1 731.4 1826.3 728.4 1826.5 725.4C1826.9 720.6 1827.8 715.8 1828.6 711C1829.6 705.4 1831 699.8 1832.3 694.2C1833.2 690.6 1834.6 687 1835.3 683.4C1835.8 680.4 1836.1 677.4 1836.5 674.4Z"/>
<path fill="#ffffff" d="M1860.2 696.7C1860.6 698.9 1860.9 701.2 1861.4 703.4C1862 706.1 1863.4 708.7 1864.3 711.4C1865.7 715.6 1867.1 719.7 1868 723.9C1868.9 727.5 1869.8 731 1870.1 734.6C1870.3 736.8 1870.5 739.1 1870.5 741.3C1870.5 742.8 1870.3 744.4 1870 745.9C1869.7 747.8 1868.8 749.6 1868.2 751.5C1867.7 753.3 1867 755.2 1866.5 757C1865.9 758.9 1865.4 760.7 1864.9 762.6C1864.7 763.6 1864.4 764.5 1864.2 765.5L1855.7 765.5C1855.4 764.5 1855.2 763.6 1854.9 762.6C1854.4 760.7 1854 758.9 1853.4 757C1852.9 755.2 1852.2 753.3 1851.6 751.5C1851 749.6 1850.1 747.8 1849.8 745.9C1849.6 744.4 1849.3 742.8 1849.3 741.3C1849.3 739.1 1849.6 736.8 1849.8 734.6C1850.1 731 1851 727.5 1851.8 723.9C1852.8 719.7 1854.2 715.6 1855.6 711.4C1856.5 708.7 1857.8 706.1 1858.5 703.4C1859 701.2 1859.3 698.9 1859.7 696.7Z"/>
<path fill="#addd8e" d="M1883.4 724.2C1883.9 727.2 1884.3 730.3 1885 733.4C1885.8 736.5 1886.8 739.6 1888.1 742.7C1889.1 745.2 1890.8 747.8 1891.9 750.4C1892.6 751.9 1893.8 753.5 1893.8 755C1893.8 756.6 1893.4 758.2 1893.1 759.7C1892.9 760.8 1892.6 761.8 1892.1 762.9C1891.8 763.5 1891.6 764.1 1890.9 764.8C1890.7 765 1890 765.2 1889.5 765.5L1876.8 765.5C1876.3 765.2 1875.6 765 1875.4 764.8C1874.8 764.1 1874.5 763.5 1874.2 762.9C1873.8 761.8 1873.4 760.8 1873.2 759.7C1872.9 758.2 1872.6 756.6 1872.6 755C1872.6 753.5 1873.8 751.9 1874.4 750.4C1875.6 747.8 1877.3 745.2 1878.3 742.7C1879.5 739.6 1880.6 736.5 1881.3 733.4C1882 730.3 1882.4 727.2 1883 724.2Z"/>
<path fill="#d0d1e6" d="M1906.6 667.5C1907.2 674.6 1907.5 681.6 1908.3 688.6C1909 695.7 1910.1 702.7 1911.3 709.7C1912.3 715.6 1914 721.5 1915.1 727.3C1915.8 730.8 1917 734.4 1917 737.9C1917 742 1916.5 746.2 1916 750.3C1915.7 753.1 1915.2 755.8 1914.5 758.6C1914.1 760.2 1913.7 761.9 1912.7 763.6C1912.4 764.2 1911.3 764.8 1910.6 765.5L1902.1 765.5C1901.4 764.8 1900.4 764.2 1900 763.6C1899.1 761.9 1898.7 760.2 1898.3 758.6C1897.6 755.8 1897.1 753.1 1896.7 750.3C1896.3 746.2 1895.8 742 1895.8 737.9C1895.8 734.4 1897 730.8 1897.7 727.3C1898.8 721.5 1900.5 715.6 1901.5 709.7C1902.7 702.7 1903.8 695.7 1904.5 688.6C1905.2 681.6 1905.6 674.6 1906.2 667.5Z"/>
<path fill="#6a51a3" d="M1929.8 700.1C1930.4 705.5 1930.8 710.8 1931.5 716.1C1932.2 721.4 1933.3 726.7 1934.5 732C1935.5 736.5 1937.2 740.9 1938.3 745.3C1939 748 1940.2 750.7 1940.2 753.3C1940.2 755.1 1939.8 757 1939.4 758.8C1939.2 760 1938.7 761.2 1938.1 762.4C1937.8 763.2 1937.5 763.9 1936.7 764.6C1936.4 764.9 1935.5 765.2 1934.9 765.5L1924.3 765.5C1923.7 765.2 1922.9 764.9 1922.6 764.6C1921.8 763.9 1921.4 763.2 1921.1 762.4C1920.5 761.2 1920.1 760 1919.8 758.8C1919.4 757 1919 755.1 1919 753.3C1919 750.7 1920.2 748 1920.9 745.3C1922 740.9 1923.7 736.5 1924.7 732C1925.9 726.7 1927 721.4 1927.7 716.1C1928.5 710.8 1928.8 705.5 1929.4 700.1Z"/>
<path fill="#d0d1e6" d="M1953 653.8C1953.6 662.2 1954 670.6 1954.7 679C1955.4 687.4 1956.5 695.8 1957.7 704.3C1958.7 711.3 1960.4 718.3 1961.6 725.3C1962.2 729.5 1963.4 733.7 1963.4 737.9C1963.4 742 1962.9 746.2 1962.5 750.3C1962.2 753.1 1961.6 755.8 1960.9 758.6C1960.5 760.2 1960.1 761.9 1959.2 763.6C1958.8 764.2 1957.8 764.8 1957.1 765.5L1948.6 765.5C1947.9 764.8 1946.9 764.2 1946.5 763.6C1945.5 761.9 1945.1 760.2 1944.7 758.6C1944 755.8 1943.5 753.1 1943.2 750.3C1942.7 746.2 1942.2 742 1942.2 737.9C1942.2 733.7 1943.4 729.5 1944.1 725.3C1945.2 718.3 1946.9 711.3 1947.9 704.3C1949.2 695.8 1950.2 687.4 1951 679C1951.7 670.6 1952.1 662.2 1952.6 653.8Z"/>
<path fill="#ffffff" d="M1976.3 528.6C1976.7 534.9 1977 541.1 1977.5 547.4C1978.2 554.9 1979.5 562.4 1980.4 569.9C1981.8 581.6 1983.2 593.3 1984.2 605C1985 615 1985.9 625 1986.2 635C1986.4 641.3 1986.7 647.6 1986.7 653.8C1986.7 660.8 1986.2 667.8 1985.8 674.8C1985.3 683.3 1983.8 691.8 1982.8 700.3C1981.9 708.8 1980.8 717.3 1979.9 725.7C1979 734.2 1978.2 742.7 1977.3 751.2C1976.9 755.6 1976.5 760 1976.1 764.5C1975.6 760 1975.2 755.6 1974.8 751.2C1974 742.7 1973.2 734.2 1972.2 725.7C1971.3 717.3 1970.3 708.8 1969.3 700.3C1968.3 691.8 1966.8 683.3 1966.3 674.8C1965.9 667.8 1965.5 660.8 1965.5 653.8C1965.5 647.6 1965.7 641.3 1965.9 635C1966.2 625 1967.1 615 1968 605C1968.9 593.3 1970.3 581.6 1971.7 569.9C1972.6 562.4 1973.9 554.9 1974.6 547.4C1975.1 541.1 1975.4 534.9 1975.8 528.6Z"/>
<path fill="#ffffff" d="M472.3 842.2C473.5 847.9 475.3 853.6 475.8 859.3C476.5 866.2 477.1 873 477.1 879.9C477.1 898.8 477 917.6 476.8 936.5C476.6 947.9 475.8 959.4 475 970.8C474.3 979.4 472.8 988.1 472 996.7C471.2 1005.5 470.6 1014.3 470 1023C469.4 1031.8 468.9 1040.6 468.4 1049.3C467.9 1058.1 467.3 1066.9 467.1 1075.7C466.8 1090.4 466.7 1105.2 466.5 1120C466.3 1105.2 466.2 1090.4 465.9 1075.7C465.6 1066.9 465.1 1058.1 464.6 1049.3C464.1 1040.6 463.6 1031.8 463 1023C462.4 1014.3 461.8 1005.5 461 996.7C460.2 988.1 458.6 979.4 458 970.8C457.2 959.4 456.3 947.9 456.2 936.5C456 917.6 455.9 898.8 455.9 879.9C455.9 873 456.5 866.2 457.2 859.3C457.7 853.6 459.5 847.9 460.7 842.2Z"/>
<path fill="#f7fcb9" d="M1261.9 842.2C1263.1 847.9 1264.9 853.6 1265.4 859.3C1266.1 866.2 1266.7 873 1266.7 879.9C1266.7 898.8 1266.6 917.6 1266.4 936.5C1266.3 947.9 1265.4 959.4 1264.6 970.8C1264 979.3 1262.4 987.9 1261.6 996.4C1260.8 1004.8 1260.2 1013.3 1259.6 1021.7C1259 1030.1 1258.5 1038.6 1258 1047C1257.5 1055.5 1257 1063.9 1256.7 1072.3C1256.5 1081.4 1256.3 1090.4 1256.1 1099.4C1255.9 1090.4 1255.8 1081.4 1255.5 1072.3C1255.2 1063.9 1254.7 1055.5 1254.2 1047C1253.7 1038.6 1253.2 1030.1 1252.6 1021.7C1252 1013.3 1251.4 1004.8 1250.6 996.4C1249.8 987.9 1248.3 979.3 1247.6 970.8C1246.8 959.4 1246 947.9 1245.8 936.5C1245.6 917.6 1245.5 898.8 1245.5 879.9C1245.5 873 1246.1 866.2 1246.8 859.3C1247.3 853.6 1249.1 847.9 1250.3 842.2Z"/>
<path fill="#f7fcb9" d="M1308.4 842.2C1309.6 847.9 1311.3 853.6 1311.9 859.3C1312.5 866.2 1313.2 873 1313.2 879.9C1313.2 898.8 1313 917.6 1312.8 936.5C1312.7 947.9 1311.9 959.4 1311 970.8C1310.4 979.4 1308.9 988 1308.1 996.6C1307.3 1005.3 1306.6 1014 1306.1 1022.7C1305.5 1031.4 1304.9 1040.1 1304.5 1048.8C1304 1057.4 1303.4 1066.1 1303.2 1074.8C1302.9 1088.2 1302.8 1101.5 1302.6 1114.9C1302.3 1101.5 1302.3 1088.2 1301.9 1074.8C1301.7 1066.1 1301.1 1057.4 1300.7 1048.8C1300.2 1040.1 1299.7 1031.4 1299.1 1022.7C1298.5 1014 1297.8 1005.3 1297 996.6C1296.3 988 1294.7 979.4 1294.1 970.8C1293.2 959.4 1292.4 947.9 1292.3 936.5C1292.1 917.6 1292 898.8 1292 879.9C1292 873 1292.6 866.2 1293.2 859.3C1293.8 853.6 1295.6 847.9 1296.7 842.2Z"/>
<path fill="#f7fcb9" d="M1378.1 843C1379.2 848.7 1381 854.4 1381.6 860.2C1382.2 867 1382.8 873.9 1382.8 880.7C1382.8 899.6 1382.7 918.5 1382.5 937.3C1382.4 948.8 1381.6 960.2 1380.7 971.7C1380.1 980.1 1378.6 988.6 1377.7 997.1C1376.9 1005.5 1376.3 1013.8 1375.7 1022.1C1375.1 1030.4 1374.6 1038.8 1374.1 1047.1C1373.7 1055.4 1373.2 1063.8 1372.9 1072.1C1372.6 1078.9 1372.4 1085.7 1372.2 1092.6C1372 1085.7 1371.9 1078.9 1371.6 1072.1C1371.3 1063.8 1370.8 1055.4 1370.3 1047.1C1369.9 1038.8 1369.3 1030.4 1368.7 1022.1C1368.1 1013.8 1367.5 1005.5 1366.7 997.1C1365.9 988.6 1364.4 980.1 1363.8 971.7C1362.9 960.2 1362.1 948.8 1361.9 937.3C1361.7 918.5 1361.6 899.6 1361.6 880.7C1361.6 873.9 1362.2 867 1362.9 860.2C1363.5 854.4 1365.2 848.7 1366.4 843Z"/>
<path fill="#ffffff" d="M1401.3 843C1402.5 848.7 1404.2 854.4 1404.8 860.2C1405.4 867 1406.1 873.9 1406.1 880.7C1406.1 899.6 1405.9 918.5 1405.7 937.3C1405.6 948.8 1404.8 960.2 1403.9 971.7C1403.3 980.2 1401.8 988.7 1401 997.2C1400.2 1005.5 1399.5 1013.9 1399 1022.2C1398.4 1030.6 1397.8 1038.9 1397.4 1047.3C1396.9 1055.6 1396.4 1064 1396.1 1072.4C1395.8 1079.7 1395.7 1087 1395.5 1094.3C1395.2 1087 1395.1 1079.7 1394.8 1072.4C1394.5 1064 1394 1055.6 1393.5 1047.3C1393.1 1038.9 1392.5 1030.6 1392 1022.2C1391.4 1013.9 1390.7 1005.5 1389.9 997.2C1389.1 988.7 1387.6 980.2 1387 971.7C1386.1 960.2 1385.3 948.8 1385.2 937.3C1385 918.5 1384.9 899.6 1384.9 880.7C1384.9 873.9 1385.5 867 1386.1 860.2C1386.7 854.4 1388.5 848.7 1389.6 843Z"/>
<path fill="#ffffff" d="M1424.5 842.2C1425.7 847.9 1427.5 853.6 1428 859.3C1428.7 866.2 1429.3 873 1429.3 879.9C1429.3 898.8 1429.2 917.6 1429 936.5C1428.8 947.9 1428 959.4 1427.2 970.8C1426.5 979.3 1425 987.8 1424.2 996.4C1423.4 1004.8 1422.8 1013.2 1422.2 1021.6C1421.6 1030 1421.1 1038.4 1420.6 1046.8C1420.1 1055.2 1419.6 1063.6 1419.3 1072.1C1419 1080.6 1418.9 1089.2 1418.7 1097.7C1418.5 1089.2 1418.3 1080.6 1418 1072.1C1417.8 1063.6 1417.2 1055.2 1416.8 1046.8C1416.3 1038.4 1415.8 1030 1415.2 1021.6C1414.6 1013.2 1414 1004.8 1413.2 996.4C1412.4 987.8 1410.8 979.3 1410.2 970.8C1409.4 959.4 1408.5 947.9 1408.4 936.5C1408.2 917.6 1408.1 898.8 1408.1 879.9C1408.1 873 1408.7 866.2 1409.4 859.3C1409.9 853.6 1411.7 847.9 1412.8 842.2Z"/>
<path fill="#f7fcb9" d="M1447.7 843.5C1448.9 849.2 1450.7 855 1451.2 860.7C1451.9 867.5 1452.5 874.4 1452.5 881.3C1452.5 900.1 1452.4 919 1452.2 937.9C1452.1 949.3 1451.2 960.7 1450.4 972.2C1449.8 980.8 1448.2 989.3 1447.4 997.9C1446.6 1006.5 1446 1015.1 1445.4 1023.7C1444.8 1032.3 1444.3 1040.9 1443.8 1049.6C1443.3 1058.2 1442.8 1066.8 1442.5 1075.4C1442.2 1086.8 1442.1 1098.3 1441.9 1109.7C1441.7 1098.3 1441.6 1086.8 1441.3 1075.4C1441 1066.8 1440.5 1058.2 1440 1049.6C1439.5 1040.9 1439 1032.3 1438.4 1023.7C1437.8 1015.1 1437.2 1006.5 1436.4 997.9C1435.6 989.3 1434.1 980.8 1433.4 972.2C1432.6 960.7 1431.7 949.3 1431.6 937.9C1431.4 919 1431.3 900.1 1431.3 881.3C1431.3 874.4 1431.9 867.5 1432.6 860.7C1433.1 855 1434.9 849.2 1436.1 843.5Z"/>
<path fill="#d0d1e6" d="M1471 843.5C1472.1 849.2 1473.9 855 1474.5 860.7C1475.1 867.5 1475.7 874.4 1475.7 881.3C1475.7 900.1 1475.6 919 1475.4 937.9C1475.3 949.3 1474.4 960.7 1473.6 972.2C1473 980.8 1471.4 989.4 1470.6 998C1469.8 1006.7 1469.2 1015.4 1468.6 1024.1C1468 1032.8 1467.5 1041.4 1467 1050.1C1466.6 1058.8 1466 1067.5 1465.8 1076.2C1465.4 1089.1 1465.3 1102 1465.1 1114.9C1464.9 1102 1464.8 1089.1 1464.5 1076.2C1464.3 1067.5 1463.7 1058.8 1463.2 1050.1C1462.7 1041.4 1462.2 1032.8 1461.6 1024.1C1461 1015.4 1460.4 1006.7 1459.6 998C1458.8 989.4 1457.3 980.8 1456.6 972.2C1455.8 960.7 1455 949.3 1454.8 937.9C1454.6 919 1454.5 900.1 1454.5 881.3C1454.5 874.4 1455.1 867.5 1455.8 860.7C1456.4 855 1458.1 849.2 1459.3 843.5Z"/>
<path fill="#f7fcb9" d="M1494.2 843C1495.3 848.7 1497.1 854.4 1497.7 860.2C1498.3 867 1499 873.9 1499 880.7C1499 899.6 1498.8 918.5 1498.6 937.3C1498.5 948.8 1497.7 960.2 1496.8 971.7C1496.2 980.3 1494.7 988.9 1493.9 997.5C1493.1 1006.2 1492.4 1015 1491.9 1023.7C1491.3 1032.4 1490.7 1041.1 1490.3 1049.8C1489.8 1058.5 1489.2 1067.2 1489 1076C1488.7 1089.5 1488.6 1103 1488.4 1116.6C1488.1 1103 1488 1089.5 1487.7 1076C1487.5 1067.2 1486.9 1058.5 1486.4 1049.8C1486 1041.1 1485.4 1032.4 1484.9 1023.7C1484.3 1015 1483.6 1006.2 1482.8 997.5C1482 988.9 1480.5 980.3 1479.9 971.7C1479 960.2 1478.2 948.8 1478.1 937.3C1477.9 918.5 1477.8 899.6 1477.8 880.7C1477.8 873.9 1478.4 867 1479 860.2C1479.6 854.4 1481.4 848.7 1482.5 843Z"/>
<path fill="#6a51a3" d="M1517.4 842.2C1518.6 847.9 1520.4 853.6 1520.9 859.3C1521.6 866.2 1522.2 873 1522.2 879.9C1522.2 898.8 1522.1 917.6 1521.9 936.5C1521.7 947.9 1520.9 959.4 1520.1 970.8C1519.4 979.4 1517.9 988 1517.1 996.6C1516.3 1005.3 1515.7 1013.9 1515.1 1022.6C1514.5 1031.2 1514 1039.9 1513.5 1048.6C1513 1057.2 1512.4 1065.9 1512.2 1074.5C1511.9 1087.4 1511.8 1100.3 1511.6 1113.2C1511.4 1100.3 1511.3 1087.4 1510.9 1074.5C1510.7 1065.9 1510.1 1057.2 1509.7 1048.6C1509.2 1039.9 1508.7 1031.2 1508.1 1022.6C1507.5 1013.9 1506.9 1005.3 1506.1 996.6C1505.3 988 1503.7 979.4 1503.1 970.8C1502.3 959.4 1501.4 947.9 1501.3 936.5C1501.1 917.6 1501 898.8 1501 879.9C1501 873 1501.6 866.2 1502.2 859.3C1502.8 853.6 1504.6 847.9 1505.7 842.2Z"/>
<path fill="#ffffff" d="M1540.6 842.7C1541.8 848.4 1543.6 854.1 1544.1 859.8C1544.8 866.7 1545.4 873.5 1545.4 880.4C1545.4 899.3 1545.3 918.1 1545.1 937C1545 948.4 1544.1 959.9 1543.3 971.3C1542.7 979.8 1541.1 988.2 1540.3 996.6C1539.5 1004.8 1538.9 1012.9 1538.3 1021.1C1537.7 1029.3 1537.2 1037.4 1536.7 1045.6C1536.2 1053.8 1535.9 1061.9 1535.4 1070.1C1535.2 1074.1 1535 1078.2 1534.8 1082.3C1534.6 1078.2 1534.4 1074.1 1534.2 1070.1C1533.7 1061.9 1533.4 1053.8 1532.9 1045.6C1532.4 1037.4 1531.9 1029.3 1531.3 1021.1C1530.7 1012.9 1530.1 1004.8 1529.3 996.6C1528.5 988.2 1526.9 979.8 1526.3 971.3C1525.5 959.9 1524.6 948.4 1524.5 937C1524.3 918.1 1524.2 899.3 1524.2 880.4C1524.2 873.5 1524.8 866.7 1525.5 859.8C1526 854.1 1527.8 848.4 1529 842.7Z"/>
<path fill="#addd8e" d="M1563.9 842.7C1565 848.4 1566.8 854.1 1567.4 859.8C1568 866.7 1568.6 873.5 1568.6 880.4C1568.6 899.3 1568.5 918.1 1568.3 937C1568.2 948.4 1567.3 959.9 1566.5 971.3C1565.9 979.9 1564.3 988.4 1563.5 996.9C1562.7 1005.4 1562.1 1013.9 1561.5 1022.3C1560.9 1030.8 1560.4 1039.3 1559.9 1047.7C1559.5 1056.2 1558.9 1064.7 1558.7 1073.1C1558.4 1082.5 1558.2 1091.8 1558 1101.2C1557.8 1091.8 1557.7 1082.5 1557.4 1073.1C1557.1 1064.7 1556.6 1056.2 1556.1 1047.7C1555.6 1039.3 1555.1 1030.8 1554.5 1022.3C1553.9 1013.9 1553.3 1005.4 1552.5 996.9C1551.7 988.4 1550.2 979.9 1549.5 971.3C1548.7 959.9 1547.9 948.4 1547.7 937C1547.5 918.1 1547.4 899.3 1547.4 880.4C1547.4 873.5 1548 866.7 1548.7 859.8C1549.2 854.1 1551 848.4 1552.2 842.7Z"/>
<path fill="#d0d1e6" d="M1587.1 842.7C1588.2 848.4 1590 854.1 1590.6 859.8C1591.2 866.7 1591.8 873.5 1591.8 880.4C1591.8 899.3 1591.7 918.1 1591.5 937C1591.4 948.4 1590.6 959.9 1589.7 971.3C1589.1 979.9 1587.6 988.4 1586.8 997C1586 1005.5 1585.3 1013.9 1584.7 1022.4C1584.2 1030.9 1583.6 1039.4 1583.2 1047.9C1582.7 1056.4 1582.1 1064.9 1581.9 1073.4C1581.6 1083.2 1581.5 1093 1581.2 1102.9C1581 1093 1580.9 1083.2 1580.6 1073.4C1580.4 1064.9 1579.8 1056.4 1579.3 1047.9C1578.9 1039.4 1578.3 1030.9 1577.8 1022.4C1577.2 1013.9 1576.5 1005.5 1575.7 997C1574.9 988.4 1573.4 979.9 1572.8 971.3C1571.9 959.9 1571.1 948.4 1571 937C1570.8 918.1 1570.6 899.3 1570.6 880.4C1570.6 873.5 1571.3 866.7 1571.9 859.8C1572.5 854.1 1574.3 848.4 1575.4 842.7Z"/>
<path fill="#6a51a3" d="M1610.3 843C1611.5 848.7 1613.2 854.4 1613.8 860.2C1614.5 867 1615.1 873.9 1615.1 880.7C1615.1 899.6 1615 918.5 1614.8 937.3C1614.6 948.8 1613.8 960.2 1613 971.7C1612.3 980.3 1610.8 988.9 1610 997.5C1609.2 1006.2 1608.6 1014.9 1608 1023.6C1607.4 1032.2 1606.9 1040.9 1606.4 1049.6C1605.9 1058.3 1605.3 1067 1605.1 1075.7C1604.8 1088.7 1604.7 1101.8 1604.5 1114.9C1604.3 1101.8 1604.2 1088.7 1603.8 1075.7C1603.6 1067 1603 1058.3 1602.6 1049.6C1602.1 1040.9 1601.6 1032.2 1601 1023.6C1600.4 1014.9 1599.8 1006.2 1599 997.5C1598.2 988.9 1596.6 980.3 1596 971.7C1595.2 960.2 1594.3 948.8 1594.2 937.3C1594 918.5 1593.9 899.6 1593.9 880.7C1593.9 873.9 1594.5 867 1595.1 860.2C1595.7 854.4 1597.5 848.7 1598.6 843Z"/>
<path fill="#238b45" d="M1656.8 843.5C1657.9 849.2 1659.7 855 1660.2 860.7C1660.9 867.5 1661.5 874.4 1661.5 881.3C1661.5 900.1 1661.4 919 1661.2 937.9C1661.1 949.3 1660.2 960.7 1659.4 972.2C1658.8 980.7 1657.2 989.3 1656.4 997.9C1655.6 1006.4 1655 1015 1654.4 1023.5C1653.8 1032.1 1653.3 1040.6 1652.8 1049.2C1652.4 1057.7 1651.8 1066.3 1651.6 1074.8C1651.3 1085.3 1651.1 1095.8 1650.9 1106.3C1650.7 1095.8 1650.6 1085.3 1650.3 1074.8C1650 1066.3 1649.5 1057.7 1649 1049.2C1648.5 1040.6 1648 1032.1 1647.4 1023.5C1646.8 1015 1646.2 1006.4 1645.4 997.9C1644.6 989.3 1643.1 980.7 1642.4 972.2C1641.6 960.7 1640.8 949.3 1640.6 937.9C1640.4 919 1640.3 900.1 1640.3 881.3C1640.3 874.4 1640.9 867.5 1641.6 860.7C1642.1 855 1643.9 849.2 1645.1 843.5Z"/>
<path fill="#d0d1e6" d="M1680 842.7C1681.1 848.4 1682.9 854.1 1683.5 859.8C1684.1 866.7 1684.7 873.5 1684.7 880.4C1684.7 899.3 1684.6 918.1 1684.4 937C1684.3 948.4 1683.5 959.9 1682.6 971.3C1682 979.9 1680.5 988.5 1679.7 997C1678.9 1005.6 1678.2 1014.2 1677.6 1022.8C1677.1 1031.3 1676.5 1039.9 1676.1 1048.5C1675.6 1057.1 1675 1065.7 1674.8 1074.2C1674.5 1085.5 1674.4 1096.8 1674.1 1108C1673.9 1096.8 1673.8 1085.5 1673.5 1074.2C1673.3 1065.7 1672.7 1057.1 1672.2 1048.5C1671.8 1039.9 1671.2 1031.3 1670.6 1022.8C1670.1 1014.2 1669.4 1005.6 1668.6 997C1667.8 988.5 1666.3 979.9 1665.7 971.3C1664.8 959.9 1664 948.4 1663.9 937C1663.7 918.1 1663.5 899.3 1663.5 880.4C1663.5 873.5 1664.2 866.7 1664.8 859.8C1665.4 854.1 1667.1 848.4 1668.3 842.7Z"/>
<path fill="#f7fcb9" d="M1703.2 843C1704.4 848.7 1706.1 854.4 1706.7 860.2C1707.4 867 1708 873.9 1708 880.7C1708 899.6 1707.9 918.5 1707.7 937.3C1707.5 948.8 1706.7 960.2 1705.8 971.7C1705.2 980.3 1703.7 988.8 1702.9 997.4C1702.1 1006.1 1701.5 1014.7 1700.9 1023.3C1700.3 1032 1699.7 1040.6 1699.3 1049.2C1698.8 1057.9 1698.2 1066.5 1698 1075.1C1697.7 1087.2 1697.6 1099.3 1697.4 1111.4C1697.2 1099.3 1697.1 1087.2 1696.7 1075.1C1696.5 1066.5 1695.9 1057.9 1695.5 1049.2C1695 1040.6 1694.5 1032 1693.9 1023.3C1693.3 1014.7 1692.7 1006.1 1691.9 997.4C1691.1 988.8 1689.5 980.3 1688.9 971.7C1688.1 960.2 1687.2 948.8 1687.1 937.3C1686.9 918.5 1686.8 899.6 1686.8 880.7C1686.8 873.9 1687.4 867 1688 860.2C1688.6 854.4 1690.4 848.7 1691.5 843Z"/>
<path fill="#ffffff" d="M1726.4 842.7C1727.6 848.4 1729.4 854.1 1729.9 859.8C1730.6 866.7 1731.2 873.5 1731.2 880.4C1731.2 899.3 1731.1 918.1 1730.9 937C1730.8 948.4 1729.9 959.9 1729.1 971.3C1728.4 979.9 1726.9 988.6 1726.1 997.2C1725.3 1005.9 1724.7 1014.6 1724.1 1023.3C1723.5 1032 1723 1040.8 1722.5 1049.5C1722 1058.2 1721.4 1066.9 1721.2 1075.6C1720.9 1089.3 1720.8 1102.9 1720.6 1116.6C1720.4 1102.9 1720.3 1089.3 1720 1075.6C1719.7 1066.9 1719.2 1058.2 1718.7 1049.5C1718.2 1040.8 1717.7 1032 1717.1 1023.3C1716.5 1014.6 1715.9 1005.9 1715.1 997.2C1714.3 988.6 1712.7 979.9 1712.1 971.3C1711.3 959.9 1710.4 948.4 1710.3 937C1710.1 918.1 1710 899.3 1710 880.4C1710 873.5 1710.6 866.7 1711.3 859.8C1711.8 854.1 1713.6 848.4 1714.8 842.7Z"/>
<path fill="#ffffff" d="M1749.6 844.2C1750.8 849.9 1752.6 855.6 1753.1 861.4C1753.8 868.2 1754.4 875.1 1754.4 881.9C1754.4 900.8 1754.3 919.7 1754.1 938.6C1754 950 1753.1 961.4 1752.3 972.9C1751.7 981.4 1750.1 989.9 1749.3 998.5C1748.5 1006.9 1747.9 1015.4 1747.3 1023.9C1746.7 1032.3 1746.2 1040.8 1745.7 1049.3C1745.3 1057.7 1744.7 1066.2 1744.5 1074.7C1744.2 1083.5 1744 1092.3 1743.8 1101.2C1743.6 1092.3 1743.5 1083.5 1743.2 1074.7C1742.9 1066.2 1742.4 1057.7 1741.9 1049.3C1741.4 1040.8 1740.9 1032.3 1740.3 1023.9C1739.7 1015.4 1739.1 1006.9 1738.3 998.5C1737.5 989.9 1736 981.4 1735.3 972.9C1734.5 961.4 1733.7 950 1733.5 938.6C1733.3 919.7 1733.2 900.8 1733.2 881.9C1733.2 875.1 1733.8 868.2 1734.5 861.4C1735 855.6 1736.8 849.9 1738 844.2Z"/>
<path fill="#d0d1e6" d="M1772.9 842.7C1774 848.4 1775.8 854.1 1776.4 859.8C1777 866.7 1777.6 873.5 1777.6 880.4C1777.6 899.3 1777.5 918.1 1777.3 937C1777.2 948.4 1776.4 959.9 1775.5 971.3C1774.9 979.8 1773.4 988.4 1772.6 996.9C1771.8 1005.3 1771.1 1013.8 1770.5 1022.2C1769.9 1030.7 1769.4 1039.1 1769 1047.5C1768.5 1056 1768 1064.4 1767.7 1072.8C1767.4 1081.7 1767.3 1090.6 1767 1099.4C1766.8 1090.6 1766.7 1081.7 1766.4 1072.8C1766.1 1064.4 1765.6 1056 1765.1 1047.5C1764.7 1039.1 1764.1 1030.7 1763.5 1022.2C1763 1013.8 1762.3 1005.3 1761.5 996.9C1760.7 988.4 1759.2 979.8 1758.6 971.3C1757.7 959.9 1756.9 948.4 1756.8 937C1756.6 918.1 1756.4 899.3 1756.4 880.4C1756.4 873.5 1757.1 866.7 1757.7 859.8C1758.3 854.1 1760 848.4 1761.2 842.7Z"/>
<path fill="#ffffff" d="M1796.1 842.7C1797.3 848.4 1799 854.1 1799.6 859.8C1800.3 866.7 1800.9 873.5 1800.9 880.4C1800.9 899.3 1800.8 918.1 1800.5 937C1800.4 948.4 1799.6 959.9 1798.7 971.3C1798.1 979.9 1796.6 988.6 1795.8 997.2C1795 1006 1794.4 1014.7 1793.8 1023.5C1793.2 1032.2 1792.6 1041 1792.2 1049.8C1791.7 1058.5 1791.1 1067.3 1790.9 1076C1790.6 1090.4 1790.5 1104.8 1790.3 1119.2C1790.1 1104.8 1790 1090.4 1789.6 1076C1789.4 1067.3 1788.8 1058.5 1788.4 1049.8C1787.9 1041 1787.4 1032.2 1786.8 1023.5C1786.2 1014.7 1785.6 1006 1784.8 997.2C1784 988.6 1782.4 979.9 1781.8 971.3C1780.9 959.9 1780.1 948.4 1780 937C1779.8 918.1 1779.7 899.3 1779.7 880.4C1779.7 873.5 1780.3 866.7 1780.9 859.8C1781.5 854.1 1783.3 848.4 1784.4 842.7Z"/>
<path fill="#238b45" d="M1819.3 843.5C1820.5 849.2 1822.3 855 1822.8 860.7C1823.5 867.5 1824.1 874.4 1824.1 881.3C1824.1 900.1 1824 919 1823.8 937.9C1823.6 949.3 1822.8 960.7 1822 972.2C1821.3 980.7 1819.8 989.2 1819 997.7C1818.2 1006.2 1817.6 1014.6 1817 1023C1816.4 1031.4 1815.9 1039.9 1815.4 1048.3C1814.9 1056.7 1814.4 1065.1 1814.1 1073.6C1813.8 1081.9 1813.7 1090.2 1813.5 1098.6C1813.3 1090.2 1813.1 1081.9 1812.9 1073.6C1812.6 1065.1 1812.1 1056.7 1811.6 1048.3C1811.1 1039.9 1810.6 1031.4 1810 1023C1809.4 1014.6 1808.8 1006.2 1808 997.7C1807.2 989.2 1805.6 980.7 1805 972.2C1804.2 960.7 1803.3 949.3 1803.2 937.9C1803 919 1802.9 900.1 1802.9 881.3C1802.9 874.4 1803.5 867.5 1804.2 860.7C1804.7 855 1806.5 849.2 1807.7 843.5Z"/>
<path fill="#ffffff" d="M1842.5 842.7C1843.7 848.4 1845.5 854.1 1846 859.8C1846.7 866.7 1847.3 873.5 1847.3 880.4C1847.3 899.3 1847.2 918.1 1847 937C1846.9 948.4 1846 959.9 1845.2 971.3C1844.6 979.9 1843 988.6 1842.2 997.2C1841.4 1005.9 1840.8 1014.7 1840.2 1023.4C1839.6 1032.2 1839.1 1040.9 1838.6 1049.7C1838.2 1058.4 1837.6 1067.1 1837.4 1075.9C1837 1090 1836.9 1104.2 1836.7 1118.3C1836.5 1104.2 1836.4 1090 1836.1 1075.9C1835.9 1067.1 1835.3 1058.4 1834.8 1049.7C1834.3 1040.9 1833.8 1032.2 1833.2 1023.4C1832.6 1014.7 1832 1005.9 1831.2 997.2C1830.4 988.6 1828.9 979.9 1828.2 971.3C1827.4 959.9 1826.6 948.4 1826.4 937C1826.2 918.1 1826.1 899.3 1826.1 880.4C1826.1 873.5 1826.7 866.7 1827.4 859.8C1827.9 854.1 1829.7 848.4 1830.9 842.7Z"/>
<path fill="#ffffff" d="M1865.8 842.7C1866.9 848.4 1868.7 854.1 1869.3 859.8C1869.9 866.7 1870.5 873.5 1870.5 880.4C1870.5 899.3 1870.4 918.1 1870.2 937C1870.1 948.4 1869.3 959.9 1868.4 971.3C1867.8 979.8 1866.3 988.4 1865.5 996.9C1864.7 1005.3 1864 1013.8 1863.4 1022.2C1862.8 1030.7 1862.3 1039.1 1861.8 1047.5C1861.4 1056 1860.8 1064.4 1860.6 1072.8C1860.3 1081.7 1860.2 1090.6 1859.9 1099.4C1859.7 1090.6 1859.6 1081.7 1859.3 1072.8C1859 1064.4 1858.5 1056 1858 1047.5C1857.6 1039.1 1857 1030.7 1856.4 1022.2C1855.8 1013.8 1855.2 1005.3 1854.4 996.9C1853.6 988.4 1852.1 979.8 1851.5 971.3C1850.6 959.9 1849.8 948.4 1849.7 937C1849.5 918.1 1849.3 899.3 1849.3 880.4C1849.3 873.5 1849.9 866.7 1850.6 859.8C1851.2 854.1 1852.9 848.4 1854.1 842.7Z"/>
<path fill="#addd8e" d="M1889 842.7C1890.2 848.4 1891.9 854.1 1892.5 859.8C1893.2 866.7 1893.8 873.5 1893.8 880.4C1893.8 899.3 1893.7 918.1 1893.4 937C1893.3 948.4 1892.5 959.9 1891.6 971.3C1891 979.9 1889.5 988.5 1888.7 997.2C1887.9 1005.8 1887.3 1014.5 1886.7 1023.2C1886.1 1031.9 1885.5 1040.6 1885.1 1049.3C1884.6 1058 1884 1066.6 1883.8 1075.3C1883.5 1088.5 1883.4 1101.7 1883.2 1114.9C1883 1101.7 1882.9 1088.5 1882.5 1075.3C1882.3 1066.6 1881.7 1058 1881.3 1049.3C1880.8 1040.6 1880.3 1031.9 1879.7 1023.2C1879.1 1014.5 1878.5 1005.8 1877.7 997.2C1876.9 988.5 1875.3 979.9 1874.7 971.3C1873.8 959.9 1873 948.4 1872.9 937C1872.7 918.1 1872.6 899.3 1872.6 880.4C1872.6 873.5 1873.2 866.7 1873.8 859.8C1874.4 854.1 1876.2 848.4 1877.3 842.7Z"/>
<path fill="#d0d1e6" d="M1912.2 842.7C1913.4 848.4 1915.2 854.1 1915.7 859.8C1916.4 866.7 1917 873.5 1917 880.4C1917 899.3 1916.9 918.1 1916.7 937C1916.5 948.4 1915.7 959.9 1914.9 971.3C1914.2 979.9 1912.7 988.5 1911.9 997.2C1911.1 1005.9 1910.5 1014.6 1909.9 1023.3C1909.3 1032 1908.8 1040.7 1908.3 1049.4C1907.8 1058.1 1907.2 1066.8 1907 1075.5C1906.7 1088.9 1906.6 1102.3 1906.4 1115.7C1906.2 1102.3 1906.1 1088.9 1905.8 1075.5C1905.5 1066.8 1905 1058.1 1904.5 1049.4C1904 1040.7 1903.5 1032 1902.9 1023.3C1902.3 1014.6 1901.7 1005.9 1900.9 997.2C1900.1 988.5 1898.5 979.9 1897.9 971.3C1897.1 959.9 1896.2 948.4 1896.1 937C1895.9 918.1 1895.8 899.3 1895.8 880.4C1895.8 873.5 1896.4 866.7 1897.1 859.8C1897.6 854.1 1899.4 848.4 1900.6 842.7Z"/>
<path fill="#6a51a3" d="M1935.4 842.7C1936.6 848.4 1938.4 854.1 1938.9 859.8C1939.6 866.7 1940.2 873.5 1940.2 880.4C1940.2 899.3 1940.1 918.1 1939.9 937C1939.8 948.4 1938.9 959.9 1938.1 971.3C1937.5 979.9 1935.9 988.4 1935.1 997C1934.3 1005.5 1933.7 1014 1933.1 1022.5C1932.5 1031.1 1932 1039.6 1931.5 1048.1C1931 1056.6 1930.5 1065.2 1930.2 1073.7C1929.9 1084 1929.8 1094.3 1929.6 1104.6C1929.4 1094.3 1929.3 1084 1929 1073.7C1928.7 1065.2 1928.2 1056.6 1927.7 1048.1C1927.2 1039.6 1926.7 1031.1 1926.1 1022.5C1925.5 1014 1924.9 1005.5 1924.1 997C1923.3 988.4 1921.8 979.9 1921.1 971.3C1920.3 959.9 1919.5 948.4 1919.3 937C1919.1 918.1 1919 899.3 1919 880.4C1919 873.5 1919.6 866.7 1920.3 859.8C1920.8 854.1 1922.6 848.4 1923.8 842.7Z"/>
<path fill="#d0d1e6" d="M1958.7 842.7C1959.8 848.4 1961.6 854.1 1962.2 859.8C1962.8 866.7 1963.4 873.5 1963.4 880.4C1963.4 899.3 1963.3 918.1 1963.1 937C1963 948.4 1962.2 959.9 1961.3 971.3C1960.7 979.9 1959.1 988.6 1958.3 997.2C1957.5 1005.9 1956.9 1014.6 1956.3 1023.3C1955.7 1032 1955.2 1040.8 1954.7 1049.5C1954.3 1058.2 1953.7 1066.9 1953.5 1075.6C1953.1 1089.3 1953 1102.9 1952.8 1116.6C1952.6 1102.9 1952.5 1089.3 1952.2 1075.6C1952 1066.9 1951.4 1058.2 1950.9 1049.5C1950.5 1040.8 1949.9 1032 1949.3 1023.3C1948.7 1014.6 1948.1 1005.9 1947.3 997.2C1946.5 988.6 1945 979.9 1944.4 971.3C1943.5 959.9 1942.7 948.4 1942.6 937C1942.3 918.1 1942.2 899.3 1942.2 880.4C1942.2 873.5 1942.8 866.7 1943.5 859.8C1944.1 854.1 1945.8 848.4 1947 842.7Z"/>
<path fill="#ffffff" d="M1981.9 843.9C1983.1 849.6 1984.8 855.3 1985.4 861C1986 867.9 1986.7 874.7 1986.7 881.6C1986.7 900.5 1986.5 919.3 1986.3 938.2C1986.2 949.6 1985.4 961.1 1984.5 972.5C1983.9 981.1 1982.4 989.6 1981.6 998.2C1980.8 1006.7 1980.2 1015.1 1979.6 1023.6C1979 1032.1 1978.4 1040.6 1978 1049.1C1977.5 1057.6 1977 1066.1 1976.7 1074.6C1976.4 1084 1976.3 1093.4 1976.1 1102.9C1975.8 1093.4 1975.7 1084 1975.4 1074.6C1975.2 1066.1 1974.6 1057.6 1974.2 1049.1C1973.7 1040.6 1973.2 1032.1 1972.6 1023.6C1972 1015.1 1971.3 1006.7 1970.5 998.2C1969.7 989.6 1968.2 981.1 1967.6 972.5C1966.7 961.1 1965.9 949.6 1965.8 938.2C1965.6 919.3 1965.5 900.5 1965.5 881.6C1965.5 874.7 1966.1 867.9 1966.7 861C1967.3 855.3 1969.1 849.6 1970.2 843.9Z"/>
<path fill="#1d91c0" d="M95.7 1361.6C97.1 1365.3 98.1 1369.1 99.7 1372.8C100.9 1375.6 103.1 1378.5 103.9 1381.3C104.7 1384.2 105.5 1387 105.5 1389.9C105.5 1393.9 105.5 1397.8 105.5 1401.8C105.5 1405.3 104.2 1408.7 103.4 1412.1C102.4 1416.1 100.4 1420.1 99.7 1424.1C99.2 1426.9 99 1429.8 98.6 1432.6C98.3 1435.5 97.8 1438.3 97.6 1441.2C97.1 1445.2 96.9 1449.1 96.5 1453.1C96.2 1456 95.3 1458.8 95.2 1461.7C95 1467.4 95 1473.1 94.9 1478.8C94.8 1473.1 94.8 1467.4 94.6 1461.7C94.5 1458.8 93.6 1456 93.3 1453.1C92.9 1449.1 92.7 1445.2 92.2 1441.2C92 1438.3 91.5 1435.5 91.2 1432.6C90.8 1429.8 90.6 1426.9 90.1 1424.1C89.4 1420.1 87.4 1416.1 86.4 1412.1C85.6 1408.7 84.3 1405.3 84.3 1401.8C84.3 1397.8 84.3 1393.9 84.3 1389.9C84.3 1387 85.1 1384.2 85.9 1381.3C86.7 1378.5 88.9 1375.6 90.1 1372.8C91.7 1369.1 92.7 1365.3 94.1 1361.6Z"/>
<path fill="#ffffff" d="M119 1348.5C120.1 1353.7 121.2 1359 122.4 1364.2C123.7 1369.9 125.7 1375.6 126.6 1381.3C127.5 1387 128.7 1392.7 128.7 1398.4C128.7 1404.1 128.5 1409.8 128.2 1415.5C127.9 1421.2 127.3 1426.9 126.6 1432.6C125.9 1438.3 124.7 1444 123.4 1449.7C122.4 1454.3 120.6 1458.8 119.7 1463.4C119.3 1465.7 118.7 1468 118.7 1470.2C118.7 1473.1 118.9 1475.9 119 1478.8L117.3 1478.8C117.4 1475.9 117.6 1473.1 117.6 1470.2C117.6 1468 117 1465.7 116.5 1463.4C115.7 1458.8 113.8 1454.3 112.8 1449.7C111.6 1444 110.4 1438.3 109.6 1432.6C108.9 1426.9 108.3 1421.2 108.1 1415.5C107.8 1409.8 107.5 1404.1 107.5 1398.4C107.5 1392.7 108.7 1387 109.6 1381.3C110.6 1375.6 112.6 1369.9 113.9 1364.2C115.1 1359 116.1 1353.7 117.3 1348.5Z"/>
<path fill="#ffffff" d="M142.9 1367.3C144.2 1372 145.7 1376.6 146.6 1381.3C147.8 1387 149 1392.7 149.3 1398.4C149.6 1404.1 149.5 1409.8 149.8 1415.5C150.1 1420.1 151 1424.6 151.4 1429.2C151.6 1431.5 151.9 1433.8 151.9 1436C151.9 1439.5 149.8 1442.9 148.8 1446.3C147.7 1449.7 145.6 1453.1 145.6 1456.6C145.6 1460 146.1 1463.4 146.1 1466.8C146.1 1469.7 145.2 1472.5 144.5 1475.4C143.9 1478.2 142.1 1481.1 141.9 1483.9C141.6 1487.9 141.5 1491.9 141.3 1495.9C141.2 1491.9 141.1 1487.9 140.8 1483.9C140.6 1481.1 138.8 1478.2 138.2 1475.4C137.5 1472.5 136.6 1469.7 136.6 1466.8C136.6 1463.4 137.1 1460 137.1 1456.6C137.1 1453.1 135 1449.7 133.9 1446.3C132.9 1442.9 130.7 1439.5 130.7 1436C130.7 1433.8 131.1 1431.5 131.3 1429.2C131.7 1424.6 132.6 1420.1 132.9 1415.5C133.2 1409.8 133.1 1404.1 133.4 1398.4C133.7 1392.7 134.9 1387 136 1381.3C137 1376.6 138.5 1372 139.8 1367.3Z"/>
<path fill="#f7fcb9" d="M165.4 1375.8C166.9 1380.5 168.3 1385.2 169.9 1389.9C171.2 1393.9 173.5 1397.8 174.1 1401.8C174.7 1405.3 175.2 1408.7 175.2 1412.1C175.2 1416.7 174.9 1421.2 174.6 1425.8C174.4 1429.2 174.2 1432.6 173.6 1436C173.2 1438.3 170.7 1440.6 170.4 1442.9C170.1 1445.2 170.2 1447.4 169.9 1449.7C169.5 1452.6 167.6 1455.4 166.7 1458.3C166 1460.6 165 1462.8 164.9 1465.1C164.7 1469.7 164.7 1474.2 164.6 1478.8C164.5 1474.2 164.5 1469.7 164.3 1465.1C164.1 1462.8 163.2 1460.6 162.5 1458.3C161.6 1455.4 159.6 1452.6 159.3 1449.7C159 1447.4 159 1445.2 158.7 1442.9C158.4 1440.6 156 1438.3 155.6 1436C155 1432.6 154.7 1429.2 154.5 1425.8C154.2 1421.2 154 1416.7 154 1412.1C154 1408.7 154.5 1405.3 155 1401.8C155.7 1397.8 157.9 1393.9 159.3 1389.9C160.8 1385.2 162.2 1380.5 163.7 1375.8Z"/>
<path fill="#1d91c0" d="M188.6 1348.8C190.1 1353.9 191.3 1359.1 193.1 1364.2C194.3 1367.6 196.8 1371 197.3 1374.5C197.9 1377.9 198.4 1381.3 198.4 1384.7C198.4 1389.3 198.1 1393.9 197.9 1398.4C197.5 1404.1 196.5 1409.8 195.7 1415.5C195 1421.2 194 1426.9 193.1 1432.6C192.2 1438.3 191.3 1444 190.4 1449.7C189.8 1454.3 189.1 1458.8 188.6 1463.4C188.4 1465.7 188.2 1468 188.1 1470.2C188 1473.1 187.9 1475.9 187.8 1478.8C187.7 1475.9 187.6 1473.1 187.5 1470.2C187.4 1468 187.2 1465.7 186.9 1463.4C186.5 1458.8 185.8 1454.3 185.1 1449.7C184.3 1444 183.4 1438.3 182.5 1432.6C181.6 1426.9 180.6 1421.2 179.8 1415.5C179.1 1409.8 178.1 1404.1 177.7 1398.4C177.5 1393.9 177.2 1389.3 177.2 1384.7C177.2 1381.3 177.7 1377.9 178.3 1374.5C178.8 1371 181.3 1367.6 182.5 1364.2C184.3 1359.1 185.5 1353.9 186.9 1348.8Z"/>
<path fill="#f7fcb9" d="M211.9 1372.8C212.1 1378.5 212.2 1384.2 212.6 1389.9C212.9 1393.9 215.4 1397.8 215.8 1401.8C216.1 1404.7 216.1 1407.5 216.3 1410.4C216.5 1413.2 216.5 1416.1 216.9 1418.9C217.2 1421.8 219.2 1424.6 220 1427.5C220.7 1429.8 221.6 1432 221.6 1434.3C221.6 1436.6 218.9 1438.9 218.4 1441.2C217.9 1444 217.9 1446.9 217.4 1449.7C216.9 1452.6 215.8 1455.4 214.7 1458.3C213.9 1460.6 211.6 1462.8 211.6 1465.1C211.6 1469.7 211.9 1474.2 212.1 1478.8L210 1478.8C210.1 1474.2 210.5 1469.7 210.5 1465.1C210.5 1462.8 208.2 1460.6 207.3 1458.3C206.2 1455.4 205.2 1452.6 204.7 1449.7C204.2 1446.9 204.2 1444 203.6 1441.2C203.1 1438.9 200.4 1436.6 200.4 1434.3C200.4 1432 201.4 1429.8 202 1427.5C202.8 1424.6 204.9 1421.8 205.2 1418.9C205.5 1416.1 205.5 1413.2 205.7 1410.4C205.9 1407.5 206 1404.7 206.3 1401.8C206.6 1397.8 209.1 1393.9 209.4 1389.9C209.9 1384.2 209.9 1378.5 210.2 1372.8Z"/>
<path fill="#fcc5c0" d="M235.1 1361.6C235.5 1365.3 235.7 1369.1 236.4 1372.8C237.1 1376.7 239.7 1380.7 240.6 1384.7C241.6 1389.3 242.5 1393.9 242.7 1398.4C243 1404.1 243 1409.8 243.3 1415.5C243.4 1418.9 243.5 1422.4 243.8 1425.8C244 1428.1 244.8 1430.3 244.8 1432.6C244.8 1434.9 243.5 1437.2 243.3 1439.5C243 1442.9 243.1 1446.3 242.7 1449.7C242.5 1452.6 239.7 1455.4 238.5 1458.3C237.2 1461.1 235.1 1464 235.1 1466.8C235.1 1470.8 235.6 1474.8 235.8 1478.8L232.7 1478.8C232.9 1474.8 233.4 1470.8 233.4 1466.8C233.4 1464 231.3 1461.1 230 1458.3C228.7 1455.4 226 1452.6 225.8 1449.7C225.4 1446.3 225.5 1442.9 225.2 1439.5C225 1437.2 223.6 1434.9 223.6 1432.6C223.6 1430.3 224.5 1428.1 224.7 1425.8C225 1422.4 225.1 1418.9 225.2 1415.5C225.5 1409.8 225.5 1404.1 225.8 1398.4C226 1393.9 226.9 1389.3 227.9 1384.7C228.8 1380.7 231.4 1376.7 232.1 1372.8C232.8 1369.1 233 1365.3 233.4 1361.6Z"/>
<path fill="#ffffff" d="M258.3 1352.6C259.1 1357.6 259.7 1362.6 260.6 1367.6C261.5 1372.2 262.8 1376.7 263.8 1381.3C264.9 1385.9 266.4 1390.4 267 1395C267.5 1399 268.1 1403 268.1 1407C268.1 1411 267 1414.9 266.5 1418.9C265.9 1423.5 265.4 1428.1 264.9 1432.6C264.4 1437.2 264 1441.7 263.3 1446.3C262.7 1449.7 261.6 1453.1 260.6 1456.6C259.8 1459.4 258 1462.3 258 1465.1C257.9 1469.7 257.9 1474.2 257.9 1478.8L257 1478.8C257 1474.2 257 1469.7 256.9 1465.1C256.9 1462.3 255.1 1459.4 254.3 1456.6C253.3 1453.1 252.2 1449.7 251.6 1446.3C250.9 1441.7 250.6 1437.2 250 1432.6C249.5 1428.1 249 1423.5 248.5 1418.9C248 1414.9 246.9 1411 246.9 1407C246.9 1403 247.4 1399 247.9 1395C248.5 1390.4 250 1385.9 251.1 1381.3C252.2 1376.7 253.4 1372.2 254.3 1367.6C255.2 1362.6 255.8 1357.6 256.6 1352.6Z"/>
<path fill="#ffffff" d="M281.5 1352.6C282.3 1357.6 282.9 1362.6 283.9 1367.6C284.8 1372.2 286.4 1376.7 287.6 1381.3C288.7 1385.9 290.4 1390.4 290.8 1395C291.1 1399 291.3 1403 291.3 1407C291.3 1411 290.6 1414.9 290.2 1418.9C289.9 1423.5 289.7 1428.1 289.2 1432.6C288.7 1437.2 287.5 1441.7 286.5 1446.3C285.8 1449.7 284.8 1453.1 283.9 1456.6C283.1 1459.4 281.2 1462.3 281.2 1465.1C281.2 1469.7 281.2 1474.2 281.2 1478.8L280.2 1478.8C280.2 1474.2 280.2 1469.7 280.2 1465.1C280.2 1462.3 278.3 1459.4 277.5 1456.6C276.5 1453.1 275.6 1449.7 274.9 1446.3C273.8 1441.7 272.7 1437.2 272.2 1432.6C271.7 1428.1 271.5 1423.5 271.2 1418.9C270.8 1414.9 270.1 1411 270.1 1407C270.1 1403 270.3 1399 270.6 1395C271 1390.4 272.7 1385.9 273.8 1381.3C274.9 1376.7 276.6 1372.2 277.5 1367.6C278.5 1362.6 279.1 1357.6 279.8 1352.6Z"/>
<path fill="#fcc5c0" d="M304.8 1359.4C306.1 1363.9 307.4 1368.3 308.7 1372.8C310 1377.3 311.6 1381.9 312.4 1386.4C313.1 1390.4 313.8 1394.4 314 1398.4C314.3 1404.1 314.5 1409.8 314.5 1415.5C314.5 1421.2 314 1426.9 313.5 1432.6C313 1437.2 312.3 1441.7 311.3 1446.3C310.6 1449.7 308.8 1453.1 307.6 1456.6C306.6 1459.4 304.8 1462.3 304.8 1465.1C304.8 1469.7 304.9 1474.2 305 1478.8L302.9 1478.8C302.9 1474.2 303.1 1469.7 303.1 1465.1C303.1 1462.3 301.2 1459.4 300.2 1456.6C299 1453.1 297.3 1449.7 296.5 1446.3C295.5 1441.7 294.8 1437.2 294.4 1432.6C293.9 1426.9 293.3 1421.2 293.3 1415.5C293.3 1409.8 293.6 1404.1 293.8 1398.4C294.1 1394.4 294.7 1390.4 295.4 1386.4C296.2 1381.9 297.9 1377.3 299.1 1372.8C300.4 1368.3 301.8 1363.9 303.1 1359.4Z"/>
<path fill="#addd8e" d="M328 1383.4C328.8 1388.4 329.7 1393.4 330.3 1398.4C330.9 1403 331.2 1407.5 331.9 1412.1C332.6 1416.7 333.5 1421.2 334.6 1425.8C335.5 1429.8 337.7 1433.8 337.7 1437.7C337.7 1440.6 335.1 1443.4 333.5 1446.3C332.2 1448.6 329.3 1450.9 329.3 1453.1C329.3 1455.4 330.2 1457.7 330.9 1460C331.5 1462.3 333.5 1464.5 333.5 1466.8C333.5 1469.1 332.2 1471.4 331.4 1473.7C330.5 1475.9 328.5 1478.2 328.2 1480.5C327.5 1485.6 327.5 1490.8 327.1 1495.9C326.8 1490.8 326.8 1485.6 326.1 1480.5C325.8 1478.2 323.8 1475.9 322.9 1473.7C322.1 1471.4 320.8 1469.1 320.8 1466.8C320.8 1464.5 322.8 1462.3 323.4 1460C324.1 1457.7 325 1455.4 325 1453.1C325 1450.9 322 1448.6 320.8 1446.3C319.2 1443.4 316.5 1440.6 316.5 1437.7C316.5 1433.8 318.8 1429.8 319.7 1425.8C320.7 1421.2 321.7 1416.7 322.4 1412.1C323 1407.5 323.4 1403 324 1398.4C324.6 1393.4 325.5 1388.4 326.3 1383.4Z"/>
<path fill="#ffffff" d="M351.2 1371.9C352.5 1376.2 353.8 1380.5 355.1 1384.7C356.5 1389.3 358.4 1393.9 359.4 1398.4C360.1 1401.8 361 1405.3 361 1408.7C361 1413.2 360.1 1417.8 359.9 1422.4C359.7 1426.9 359.7 1431.5 359.4 1436C359.1 1440.6 357.6 1445.2 356.7 1449.7C356.2 1452.6 355.1 1455.4 355.1 1458.3C355.1 1461.1 356.7 1464 356.7 1466.8C356.7 1469.1 356.2 1471.4 355.7 1473.7C355.1 1475.9 351.7 1478.2 351.4 1480.5C350.7 1485.6 350.7 1490.8 350.4 1495.9C350 1490.8 350 1485.6 349.3 1480.5C349 1478.2 345.6 1475.9 345.1 1473.7C344.5 1471.4 344 1469.1 344 1466.8C344 1464 345.6 1461.1 345.6 1458.3C345.6 1455.4 344.5 1452.6 344 1449.7C343.1 1445.2 341.7 1440.6 341.4 1436C341.1 1431.5 341.1 1426.9 340.8 1422.4C340.6 1417.8 339.8 1413.2 339.8 1408.7C339.8 1405.3 340.7 1401.8 341.4 1398.4C342.3 1393.9 344.2 1389.3 345.6 1384.7C346.9 1380.5 348.2 1376.2 349.5 1371.9Z"/>
<path fill="#fcc5c0" d="M374.4 1354.8C375.4 1360.8 376.2 1366.8 377.3 1372.8C378.3 1378.5 380.3 1384.2 381 1389.9C381.8 1395.6 382.2 1401.3 382.6 1407C383 1412.7 383.4 1418.4 383.7 1424.1C383.9 1428.1 384.2 1432 384.2 1436C384.2 1439.5 383.1 1442.9 382.1 1446.3C381.2 1449.1 378.9 1452 377.8 1454.9C376.5 1458.3 374.7 1461.7 374.7 1465.1C374.7 1469.7 374.8 1474.2 374.9 1478.8L372.3 1478.8C372.4 1474.2 372.5 1469.7 372.5 1465.1C372.5 1461.7 370.7 1458.3 369.4 1454.9C368.3 1452 366 1449.1 365.1 1446.3C364.1 1442.9 363 1439.5 363 1436C363 1432 363.3 1428.1 363.5 1424.1C363.8 1418.4 364.2 1412.7 364.6 1407C365 1401.3 365.4 1395.6 366.2 1389.9C366.9 1384.2 368.8 1378.5 369.9 1372.8C371 1366.8 371.8 1360.8 372.7 1354.8Z"/>
<path fill="#f7fcb9" d="M397.7 1357C398.1 1362.3 398.3 1367.5 398.9 1372.8C399.6 1378.5 401.3 1384.2 402.1 1389.9C403 1395.6 403.5 1401.3 404.2 1407C404.9 1412.7 405.8 1418.4 406.4 1424.1C406.8 1428.1 407.4 1432 407.4 1436C407.4 1439.5 406.9 1442.9 406.4 1446.3C405.8 1449.7 404.2 1453.1 402.6 1456.6C401.4 1459.4 397.9 1462.3 397.9 1465.1C397.9 1469.7 397.9 1474.2 397.9 1478.8L395.8 1478.8C395.8 1474.2 395.8 1469.7 395.8 1465.1C395.8 1462.3 392.2 1459.4 391 1456.6C389.5 1453.1 387.8 1449.7 387.3 1446.3C386.7 1442.9 386.2 1439.5 386.2 1436C386.2 1432 386.9 1428.1 387.3 1424.1C387.9 1418.4 388.7 1412.7 389.4 1407C390.1 1401.3 390.7 1395.6 391.5 1389.9C392.4 1384.2 394.1 1378.5 394.7 1372.8C395.3 1367.5 395.5 1362.3 396 1357Z"/>
<path fill="#ffffff" d="M420.9 1346.8C422.4 1351.6 423.8 1356.5 425.3 1361.3C426.7 1365.9 428.9 1370.4 429.6 1375C430.1 1378.4 430.6 1381.8 430.6 1385.3C430.6 1389.8 429.6 1394.4 429 1398.9C428.5 1403.5 427.5 1408.1 427.5 1412.6C427.5 1415.5 428 1418.3 428 1421.2C428 1425.2 427.8 1429.1 427.5 1433.1C427.1 1437.7 425.4 1442.3 424.3 1446.8C423.3 1450.8 421.8 1454.8 421.1 1458.8C420.8 1460.5 420.4 1462.2 420.4 1463.9C420.1 1468.9 420.1 1474 420 1479C419.9 1474 419.9 1468.9 419.7 1463.9C419.6 1462.2 419.3 1460.5 419 1458.8C418.3 1454.8 416.8 1450.8 415.8 1446.8C414.7 1442.3 413 1437.7 412.6 1433.1C412.3 1429.1 412.1 1425.2 412.1 1421.2C412.1 1418.3 412.6 1415.5 412.6 1412.6C412.6 1408.1 411.6 1403.5 411 1398.9C410.5 1394.4 409.4 1389.8 409.4 1385.3C409.4 1381.8 410 1378.4 410.5 1375C411.2 1370.4 413.3 1365.9 414.7 1361.3C416.2 1356.5 417.7 1351.6 419.2 1346.8Z"/>
<path fill="#f7fcb9" d="M444.1 1379.3C444 1384.7 443.8 1390.1 443.8 1395.5C443.8 1398.9 445.2 1402.4 445.9 1405.8C446.8 1410.3 447.4 1414.9 448.6 1419.5C449.4 1422.9 451.6 1426.3 452.3 1429.7C452.5 1430.9 452.8 1432 452.8 1433.1C452.8 1435.4 450.2 1437.7 450.2 1440C450.2 1442.8 453.9 1445.7 453.9 1448.5C453.9 1450.8 451.2 1453.1 449.6 1455.4C448.1 1457.7 444.6 1459.9 444.3 1462.2C443.6 1467.8 443.6 1473.4 443.3 1479C442.9 1473.4 442.9 1467.8 442.2 1462.2C441.9 1459.9 438.5 1457.7 436.9 1455.4C435.3 1453.1 432.7 1450.8 432.7 1448.5C432.7 1445.7 436.4 1442.8 436.4 1440C436.4 1437.7 433.7 1435.4 433.7 1433.1C433.7 1432 434 1430.9 434.3 1429.7C434.9 1426.3 437.1 1422.9 438 1419.5C439.1 1414.9 439.7 1410.3 440.6 1405.8C441.3 1402.4 442.7 1398.9 442.7 1395.5C442.7 1390.1 442.5 1384.7 442.4 1379.3Z"/>
<path fill="#ffffff" d="M467.3 1322.8C467.3 1327.7 467.3 1332.5 467.3 1337.4C467.3 1342.5 470.4 1347.6 471.8 1352.8C473.3 1358.5 475.4 1364.2 476 1369.9C476.6 1374.4 477.1 1379 477.1 1383.5C477.1 1388.7 476.4 1393.8 476 1398.9C475.6 1404.6 475 1410.3 474.4 1416C474 1420.6 472.8 1425.2 472.8 1429.7C472.8 1434.3 472.8 1438.8 472.8 1443.4C472.8 1447.4 471.7 1451.4 470.7 1455.4C470 1458.2 468.1 1461.1 467.8 1463.9C467.5 1465.6 467.3 1467.3 467.3 1469.1C467.3 1472.4 467.5 1475.7 467.5 1479L465.4 1479C465.5 1475.7 465.6 1472.4 465.6 1469.1C465.6 1467.3 465.4 1465.6 465.2 1463.9C464.9 1461.1 462.9 1458.2 462.2 1455.4C461.3 1451.4 460.1 1447.4 460.1 1443.4C460.1 1438.8 460.1 1434.3 460.1 1429.7C460.1 1425.2 459 1420.6 458.5 1416C457.9 1410.3 457.4 1404.6 456.9 1398.9C456.5 1393.8 455.9 1388.7 455.9 1383.5C455.9 1379 456.4 1374.4 456.9 1369.9C457.6 1364.2 459.7 1358.5 461.2 1352.8C462.6 1347.6 465.6 1342.5 465.6 1337.4C465.6 1332.5 465.6 1327.7 465.6 1322.8Z"/>
<path fill="#fcc5c0" d="M490.6 1339.1C490.6 1343.1 490.6 1347.1 490.8 1351C490.9 1355.6 493.8 1360.2 495 1364.7C496.5 1370.4 498.1 1376.1 498.7 1381.8C499.2 1386.4 499.5 1391 499.8 1395.5C500 1398.9 500.3 1402.4 500.3 1405.8C500.3 1409.2 499.8 1412.6 499.3 1416C498.7 1419.5 495.8 1422.9 495.5 1426.3C495.2 1430.9 495.3 1435.4 495 1440C494.8 1443.4 494.1 1446.8 493.4 1450.2C492.7 1453.7 490.8 1457.1 490.6 1460.5C490 1466.7 490 1472.8 489.7 1479C489.4 1472.8 489.4 1466.7 488.9 1460.5C488.6 1457.1 486.7 1453.7 486 1450.2C485.3 1446.8 484.6 1443.4 484.4 1440C484.1 1435.4 484.2 1430.9 483.9 1426.3C483.6 1422.9 480.7 1419.5 480.2 1416C479.6 1412.6 479.1 1409.2 479.1 1405.8C479.1 1402.4 479.4 1398.9 479.6 1395.5C479.9 1391 480.2 1386.4 480.7 1381.8C481.3 1376.1 482.9 1370.4 484.4 1364.7C485.6 1360.2 488.5 1355.6 488.7 1351C488.8 1347.1 488.8 1343.1 488.9 1339.1Z"/>
<path fill="#f7fcb9" d="M516.6 1361.3C516.8 1363 517.1 1364.7 517.2 1366.4C517.4 1370.4 517.4 1374.4 517.7 1378.4C518 1383 519 1387.5 519.8 1392.1C520.6 1396.7 522 1401.2 522.5 1405.8C523 1410.3 523.5 1414.9 523.5 1419.5C523.5 1424 523.3 1428.6 523 1433.1C522.8 1436.6 521.4 1440 520.4 1443.4C519.3 1446.8 517.8 1450.2 516.6 1453.7C515.7 1456.5 514 1459.4 514 1462.2C514 1464.5 514 1466.8 514 1469.1C514 1472.4 515.1 1475.7 515.6 1479L510.3 1479C510.8 1475.7 511.9 1472.4 511.9 1469.1C511.9 1466.8 511.9 1464.5 511.9 1462.2C511.9 1459.4 510.2 1456.5 509.2 1453.7C508.1 1450.2 506.5 1446.8 505.5 1443.4C504.5 1440 503.1 1436.6 502.9 1433.1C502.5 1428.6 502.3 1424 502.3 1419.5C502.3 1414.9 502.9 1410.3 503.4 1405.8C503.9 1401.2 505.3 1396.7 506 1392.1C506.8 1387.5 507.9 1383 508.2 1378.4C508.4 1374.4 508.4 1370.4 508.7 1366.4C508.8 1364.7 509 1363 509.2 1361.3Z"/>
<path fill="#ffffff" d="M537 1346.8C538.1 1351.6 539.2 1356.5 540.4 1361.3C541.5 1365.9 543.2 1370.4 544.1 1375C545 1379.6 545.9 1384.1 546.2 1388.7C546.5 1392.1 546.8 1395.5 546.8 1398.9C546.8 1403.5 545.8 1408.1 545.2 1412.6C544.5 1417.2 542.8 1421.7 542.5 1426.3C542.2 1430.3 542.3 1434.3 542 1438.3C541.7 1442.3 540.7 1446.3 539.9 1450.2C539.1 1453.7 537.6 1457.1 537.2 1460.5C536.6 1466.7 536.5 1472.8 536.2 1479C535.8 1472.8 535.7 1466.7 535.1 1460.5C534.8 1457.1 533.2 1453.7 532.4 1450.2C531.6 1446.3 530.6 1442.3 530.3 1438.3C530 1434.3 530.1 1430.3 529.8 1426.3C529.5 1421.7 527.8 1417.2 527.1 1412.6C526.5 1408.1 525.6 1403.5 525.6 1398.9C525.6 1395.5 525.8 1392.1 526.1 1388.7C526.4 1384.1 527.3 1379.6 528.2 1375C529.1 1370.4 530.8 1365.9 531.9 1361.3C533.1 1356.5 534.2 1351.6 535.3 1346.8Z"/>
<path fill="#fcc5c0" d="M560.2 1378.4C560.5 1382.4 560.6 1386.4 561 1390.4C561.4 1394.9 562.8 1399.5 563.1 1404.1C563.4 1408.1 563.3 1412 563.6 1416C563.9 1419.5 565.5 1422.9 566.8 1426.3C567.7 1428.6 570 1430.9 570 1433.1C570 1435.4 567.5 1437.7 566.8 1440C566.1 1442.3 565.2 1444.5 565.2 1446.8C565.2 1448.5 566.3 1450.2 566.3 1452C566.3 1454.2 561.8 1456.5 561 1458.8C560.3 1460.5 559.7 1462.2 559.7 1463.9C559.7 1468.9 559.7 1474 559.7 1479L559.1 1479C559.1 1474 559.1 1468.9 559.1 1463.9C559.1 1462.2 558.4 1460.5 557.8 1458.8C557 1456.5 552.5 1454.2 552.5 1452C552.5 1450.2 553.6 1448.5 553.6 1446.8C553.6 1444.5 552.7 1442.3 552 1440C551.3 1437.7 548.8 1435.4 548.8 1433.1C548.8 1430.9 551.1 1428.6 552 1426.3C553.3 1422.9 554.9 1419.5 555.1 1416C555.5 1412 555.4 1408.1 555.7 1404.1C556 1399.5 557.4 1394.9 557.8 1390.4C558.1 1386.4 558.3 1382.4 558.5 1378.4Z"/>
<path fill="#f7fcb9" d="M583.7 1383.5C584.4 1387.5 585.1 1391.5 585.8 1395.5C586.6 1400.1 587.6 1404.6 588.4 1409.2C589.2 1413.2 589.8 1417.2 590.6 1421.2C591.3 1425.2 593.2 1429.1 593.2 1433.1C593.2 1435.4 591.4 1437.7 591.1 1440C590.8 1442.3 590.8 1444.5 590.6 1446.8C590.3 1449.1 589.8 1451.4 589 1453.7C588.2 1455.9 584.1 1458.2 583.9 1460.5C583.3 1466.7 583.4 1472.8 583.1 1479L582.1 1479C581.8 1472.8 581.9 1466.7 581.3 1460.5C581.1 1458.2 577.1 1455.9 576.2 1453.7C575.4 1451.4 574.9 1449.1 574.7 1446.8C574.4 1444.5 574.4 1442.3 574.1 1440C573.8 1437.7 572 1435.4 572 1433.1C572 1429.1 573.9 1425.2 574.7 1421.2C575.4 1417.2 576 1413.2 576.8 1409.2C577.6 1404.6 578.6 1400.1 579.4 1395.5C580.2 1391.5 580.8 1387.5 581.5 1383.5Z"/>
<path fill="#fcc5c0" d="M606.7 1361.3C607.1 1367 607.3 1372.7 608 1378.4C608.5 1383 610.2 1387.5 611.1 1392.1C612.1 1396.7 613.8 1401.2 613.8 1405.8C613.8 1409.2 613.3 1412.6 613.3 1416C613.3 1419.5 614.3 1422.9 614.8 1426.3C615.3 1429.1 616.4 1432 616.4 1434.9C616.4 1437.1 613.9 1439.4 613.3 1441.7C612.5 1444.5 612.4 1447.4 611.7 1450.2C610.9 1453.1 609 1455.9 608 1458.8C607.3 1460.5 606.2 1462.2 606.2 1463.9C605.9 1468.9 605.9 1474 605.8 1479C605.7 1474 605.7 1468.9 605.5 1463.9C605.4 1462.2 604.4 1460.5 603.7 1458.8C602.6 1455.9 600.7 1453.1 600 1450.2C599.3 1447.4 599.2 1444.5 598.4 1441.7C597.8 1439.4 595.2 1437.1 595.2 1434.9C595.2 1432 596.3 1429.1 596.8 1426.3C597.4 1422.9 598.4 1419.5 598.4 1416C598.4 1412.6 597.9 1409.2 597.9 1405.8C597.9 1401.2 599.6 1396.7 600.5 1392.1C601.5 1387.5 603.2 1383 603.7 1378.4C604.4 1372.7 604.6 1367 605 1361.3Z"/>
<path fill="#ffffff" d="M630.1 1383.5C631.5 1387.5 633.2 1391.5 634.4 1395.5C635.4 1398.9 637 1402.4 637 1405.8C637 1409.2 636.5 1412.6 636.5 1416C636.5 1419.5 637.4 1422.9 638.1 1426.3C638.5 1428.6 639.7 1430.9 639.7 1433.1C639.7 1435.4 638.1 1437.7 638.1 1440C638.1 1441.7 638.4 1443.4 638.6 1445.1C638.8 1446.8 639.7 1448.5 639.7 1450.2C639.7 1452.5 635.9 1454.8 634.4 1457.1C632.8 1459.4 630.1 1461.6 630.1 1463.9C630.1 1466.2 630.1 1468.5 630.1 1470.8C630.1 1473.5 631.5 1476.2 632.2 1479L625.9 1479C626.6 1476.2 628 1473.5 628 1470.8C628 1468.5 628 1466.2 628 1463.9C628 1461.6 625.3 1459.4 623.8 1457.1C622.2 1454.8 618.5 1452.5 618.5 1450.2C618.5 1448.5 619.3 1446.8 619.5 1445.1C619.8 1443.4 620 1441.7 620 1440C620 1437.7 618.5 1435.4 618.5 1433.1C618.5 1430.9 619.6 1428.6 620 1426.3C620.7 1422.9 621.6 1419.5 621.6 1416C621.6 1412.6 621.1 1409.2 621.1 1405.8C621.1 1402.4 622.7 1398.9 623.8 1395.5C624.9 1391.5 626.6 1387.5 628 1383.5Z"/>
<path fill="#ffffff" d="M653.1 1354.5C654.3 1359.6 655.3 1364.7 656.5 1369.9C657.8 1375.6 659.8 1381.3 660.8 1387C661.7 1392.1 662.9 1397.2 662.9 1402.4C662.9 1405.8 662.3 1409.2 661.8 1412.6C661.4 1415.5 659.7 1418.3 659.7 1421.2C659.7 1424 660.8 1426.9 660.8 1429.7C660.8 1432 660.1 1434.3 659.7 1436.6C659.1 1440 658.5 1443.4 657.6 1446.8C656.7 1450.2 654.7 1453.7 653.9 1457.1C653.3 1459.4 652.6 1461.6 652.6 1463.9C652.6 1468.9 652.6 1474 652.6 1479L652 1479C652 1474 652 1468.9 652 1463.9C652 1461.6 651.2 1459.4 650.7 1457.1C649.9 1453.7 647.9 1450.2 647 1446.8C646.1 1443.4 645.5 1440 644.9 1436.6C644.5 1434.3 643.8 1432 643.8 1429.7C643.8 1426.9 644.9 1424 644.9 1421.2C644.9 1418.3 643.2 1415.5 642.7 1412.6C642.2 1409.2 641.7 1405.8 641.7 1402.4C641.7 1397.2 642.9 1392.1 643.8 1387C644.8 1381.3 646.7 1375.6 648 1369.9C649.2 1364.7 650.3 1359.6 651.4 1354.5Z"/>
<path fill="#ffffff" d="M676.4 1358.7C677.8 1364.2 679.3 1369.6 680.8 1375C682 1379.6 683.8 1384.1 684.5 1388.7C685.3 1393.2 686.1 1397.8 686.1 1402.4C686.1 1406.9 685.2 1411.5 684.5 1416C684 1419.5 682.7 1422.9 682.4 1426.3C682.1 1429.7 682.1 1433.1 681.9 1436.6C681.6 1440 681 1443.4 680.3 1446.8C679.5 1450.2 677.4 1453.7 676.8 1457.1C676.3 1459.4 675.8 1461.6 675.8 1463.9C675.8 1468.9 676 1474 676 1479L675 1479C675 1474 675.2 1468.9 675.2 1463.9C675.2 1461.6 674.7 1459.4 674.2 1457.1C673.6 1453.7 671.5 1450.2 670.7 1446.8C670 1443.4 669.4 1440 669.1 1436.6C668.9 1433.1 668.9 1429.7 668.6 1426.3C668.3 1422.9 667 1419.5 666.5 1416C665.8 1411.5 664.9 1406.9 664.9 1402.4C664.9 1397.8 665.8 1393.2 666.5 1388.7C667.2 1384.1 669 1379.6 670.2 1375C671.7 1369.6 673.2 1364.2 674.7 1358.7Z"/>
<path fill="#ffffff" d="M699.6 1345.1C700.4 1350.5 701 1355.9 701.9 1361.3C702.9 1367 704.5 1372.7 705.6 1378.4C706.6 1383 707.7 1387.5 708.3 1392.1C708.7 1395.5 709.3 1398.9 709.3 1402.4C709.3 1406.9 707.9 1411.5 707.2 1416C706.5 1420.6 705.8 1425.2 705.1 1429.7C704.4 1434.3 703.8 1438.8 703 1443.4C702.2 1447.4 700.6 1451.4 700 1455.4C699.6 1458.2 699.2 1461.1 699 1463.9C698.9 1468.9 698.8 1474 698.7 1479C698.6 1474 698.6 1468.9 698.4 1463.9C698.3 1461.1 697.9 1458.2 697.5 1455.4C696.9 1451.4 695.3 1447.4 694.5 1443.4C693.6 1438.8 693.1 1434.3 692.4 1429.7C691.7 1425.2 691 1420.6 690.2 1416C689.5 1411.5 688.1 1406.9 688.1 1402.4C688.1 1398.9 688.7 1395.5 689.2 1392.1C689.8 1387.5 690.9 1383 691.8 1378.4C693 1372.7 694.6 1367 695.5 1361.3C696.5 1355.9 697.1 1350.5 697.9 1345.1Z"/>
<path fill="#d0d1e6" d="M722.8 1352.4C723.9 1356.5 724.8 1360.6 726.2 1364.7C727.3 1368.1 729.4 1371.6 730.4 1375C731.3 1377.8 732.6 1380.7 732.6 1383.5C732.6 1387.5 732.3 1391.5 732 1395.5C731.7 1400.1 731 1404.6 730.4 1409.2C729.9 1413.8 729.4 1418.3 728.8 1422.9C728.3 1427.4 727.9 1432 727.3 1436.6C726.6 1441.1 726 1445.7 725.1 1450.2C724.5 1453.7 722.8 1457.1 722.6 1460.5C722.2 1466.7 722.2 1472.8 722 1479C721.7 1472.8 721.7 1466.7 721.3 1460.5C721.1 1457.1 719.4 1453.7 718.8 1450.2C717.9 1445.7 717.3 1441.1 716.7 1436.6C716 1432 715.6 1427.4 715.1 1422.9C714.5 1418.3 714 1413.8 713.5 1409.2C712.9 1404.6 712.2 1400.1 711.9 1395.5C711.6 1391.5 711.4 1387.5 711.4 1383.5C711.4 1380.7 712.6 1377.8 713.5 1375C714.5 1371.6 716.6 1368.1 717.7 1364.7C719.1 1360.6 720 1356.5 721.1 1352.4Z"/>
<path fill="#810f7c" d="M746 1383.5C746.3 1388.7 746.4 1393.8 746.8 1398.9C747.1 1403.5 748.3 1408.1 749.4 1412.6C750.2 1416 751.5 1419.5 752.6 1422.9C753.7 1426.3 755.8 1429.7 755.8 1433.1C755.8 1435.4 753.8 1437.7 753.1 1440C752.5 1442.3 751.5 1444.5 751.5 1446.8C751.5 1448.5 751.5 1450.2 751.5 1452C751.5 1454.2 748.2 1456.5 747.3 1458.8C746.6 1460.5 745.7 1462.2 745.7 1463.9C745.7 1466.2 745.7 1468.5 745.7 1470.8C745.7 1473.5 746.8 1476.2 747.3 1479L743.1 1479C743.6 1476.2 744.6 1473.5 744.6 1470.8C744.6 1468.5 744.6 1466.2 744.6 1463.9C744.6 1462.2 743.8 1460.5 743.1 1458.8C742.1 1456.5 738.8 1454.2 738.8 1452C738.8 1450.2 738.8 1448.5 738.8 1446.8C738.8 1444.5 737.9 1442.3 737.2 1440C736.6 1437.7 734.6 1435.4 734.6 1433.1C734.6 1429.7 736.7 1426.3 737.8 1422.9C738.8 1419.5 740.1 1416 740.9 1412.6C742 1408.1 743.2 1403.5 743.6 1398.9C744 1393.8 744.1 1388.7 744.3 1383.5Z"/>
<path fill="#fcc5c0" d="M769.2 1348.5C770.2 1352.8 771.1 1357 772.1 1361.3C773.5 1367 776 1372.7 776.9 1378.4C777.6 1383 778.2 1387.5 778.5 1392.1C778.7 1396.7 779 1401.2 779 1405.8C779 1409.2 777.7 1412.6 776.9 1416C776 1419.5 773.7 1422.9 773.7 1426.3C773.7 1428.6 773.7 1430.9 773.7 1433.1C773.7 1436.6 772.3 1440 771.6 1443.4C770.9 1446.8 770.1 1450.2 769.7 1453.7C769.2 1457.1 768.8 1460.5 768.7 1463.9C768.5 1468.9 768.5 1474 768.4 1479C768.3 1474 768.3 1468.9 768.1 1463.9C768 1460.5 767.6 1457.1 767.1 1453.7C766.7 1450.2 765.9 1446.8 765.2 1443.4C764.6 1440 763.1 1436.6 763.1 1433.1C763.1 1430.9 763.1 1428.6 763.1 1426.3C763.1 1422.9 760.8 1419.5 759.9 1416C759.1 1412.6 757.8 1409.2 757.8 1405.8C757.8 1401.2 758.1 1396.7 758.3 1392.1C758.6 1387.5 759.2 1383 759.9 1378.4C760.8 1372.7 763.3 1367 764.7 1361.3C765.7 1357 766.6 1352.8 767.6 1348.5Z"/>
<path fill="#d0d1e6" d="M792.5 1336C792.7 1340.4 792.8 1344.9 793.2 1349.3C793.6 1353.3 796.5 1357.3 798 1361.3C799.3 1364.7 801.3 1368.1 801.7 1371.6C802 1374.4 802.2 1377.3 802.2 1380.1C802.2 1383.5 801 1387 800.1 1390.4C799.1 1394.4 796.7 1398.4 795.9 1402.4C794.9 1406.9 794 1411.5 793.7 1416C793.5 1420.6 793.4 1425.2 793.2 1429.7C793 1435.4 792.9 1441.1 792.7 1446.8C792.5 1452.5 792.1 1458.2 791.9 1463.9C791.8 1468.9 791.7 1474 791.6 1479C791.5 1474 791.4 1468.9 791.3 1463.9C791.1 1458.2 790.8 1452.5 790.6 1446.8C790.4 1441.1 790.2 1435.4 790 1429.7C789.9 1425.2 789.8 1420.6 789.5 1416C789.2 1411.5 788.4 1406.9 787.4 1402.4C786.5 1398.4 784.2 1394.4 783.1 1390.4C782.3 1387 781 1383.5 781 1380.1C781 1377.3 781.3 1374.4 781.6 1371.6C781.9 1368.1 784 1364.7 785.3 1361.3C786.8 1357.3 789.6 1353.3 790 1349.3C790.5 1344.9 790.5 1340.4 790.8 1336Z"/>
<path fill="#ffffff" d="M816.4 1352.4C816.6 1357.1 816.7 1361.8 817 1366.4C817.2 1370.4 819.3 1374.4 820.2 1378.4C821.2 1383 822.3 1387.5 822.8 1392.1C823.3 1396.7 823.5 1401.2 823.9 1405.8C824.2 1410.3 824.6 1414.9 824.9 1419.5C825.1 1422.9 825.5 1426.3 825.5 1429.7C825.5 1433.1 824.6 1436.6 823.9 1440C823.1 1443.4 821.4 1446.8 820.2 1450.2C819.1 1453.1 817.7 1455.9 817 1458.8C816.4 1461.1 815.7 1463.4 815.7 1465.6C815.7 1470.1 816.5 1474.5 817 1479L812.7 1479C813.2 1474.5 814 1470.1 814 1465.6C814 1463.4 813.3 1461.1 812.7 1458.8C812 1455.9 810.6 1453.1 809.6 1450.2C808.3 1446.8 806.6 1443.4 805.8 1440C805.1 1436.6 804.3 1433.1 804.3 1429.7C804.3 1426.3 804.6 1422.9 804.8 1419.5C805.1 1414.9 805.5 1410.3 805.8 1405.8C806.2 1401.2 806.4 1396.7 806.9 1392.1C807.4 1387.5 808.5 1383 809.6 1378.4C810.4 1374.4 812.5 1370.4 812.7 1366.4C813 1361.8 813.1 1357.1 813.3 1352.4Z"/>
<path fill="#f7fcb9" d="M838.9 1342.2C839.3 1346.8 839.5 1351.5 840.2 1356.2C840.8 1360.7 843.2 1365.3 844.4 1369.9C845.6 1374.4 847.1 1379 847.6 1383.5C848.2 1388.7 848.7 1393.8 848.7 1398.9C848.7 1404.6 848.4 1410.3 848.1 1416C847.9 1420.6 847.2 1425.2 846.6 1429.7C845.9 1434.3 844.9 1438.8 843.9 1443.4C843 1447.4 841.7 1451.4 840.7 1455.4C840 1458.2 838.6 1461.1 838.6 1463.9C838.6 1468.9 839.3 1474 839.7 1479L836.5 1479C836.8 1474 837.5 1468.9 837.5 1463.9C837.5 1461.1 836.2 1458.2 835.4 1455.4C834.4 1451.4 833.1 1447.4 832.2 1443.4C831.2 1438.8 830.3 1434.3 829.6 1429.7C828.9 1425.2 828.2 1420.6 828 1416C827.7 1410.3 827.5 1404.6 827.5 1398.9C827.5 1393.8 828 1388.7 828.5 1383.5C829 1379 830.5 1374.4 831.7 1369.9C832.9 1365.3 835.3 1360.7 836 1356.2C836.6 1351.5 836.8 1346.8 837.2 1342.2Z"/>
<path fill="#ffffff" d="M863.4 1336C864.7 1338.7 866 1341.5 867.1 1344.2C868.5 1347.6 870.4 1351 870.8 1354.5C871.5 1359.6 871.9 1364.7 871.9 1369.9C871.9 1375.6 871.9 1381.3 871.9 1387C871.9 1392.1 871.7 1397.2 871.4 1402.4C871.1 1406.9 869.8 1411.5 868.7 1416C867.9 1419.5 866.1 1422.9 865.5 1426.3C864.8 1430.9 864.5 1435.4 863.9 1440C863.5 1444 862.9 1448 862.6 1452C862.2 1455.9 861.8 1459.9 861.6 1463.9C861.4 1468.9 861.4 1474 861.3 1479C861.2 1474 861.2 1468.9 861 1463.9C860.8 1459.9 860.4 1455.9 860 1452C859.7 1448 859.1 1444 858.6 1440C858.1 1435.4 857.8 1430.9 857.1 1426.3C856.5 1422.9 854.7 1419.5 853.9 1416C852.8 1411.5 851.5 1406.9 851.2 1402.4C850.9 1397.2 850.7 1392.1 850.7 1387C850.7 1381.3 850.7 1375.6 850.7 1369.9C850.7 1364.7 851.1 1359.6 851.8 1354.5C852.2 1351 854.1 1347.6 855.5 1344.2C856.6 1341.5 857.9 1338.7 859.2 1336Z"/>
<path fill="#081d58" d="M885.4 1352.4C885.6 1357.1 885.7 1361.8 886.1 1366.4C886.5 1371.6 888.4 1376.7 889.3 1381.8C890.3 1387.5 891.3 1393.2 891.9 1398.9C892.6 1404.6 892.9 1410.3 893.5 1416C894 1420.6 895.1 1425.2 895.1 1429.7C895.1 1432 894.6 1434.3 894.1 1436.6C893.4 1439.4 889.9 1442.3 888.8 1445.1C887.4 1448.5 886.3 1452 885.8 1455.4C885.3 1458.2 884.8 1461.1 884.8 1463.9C884.8 1468.9 885 1474 885.1 1479L884 1479C884.1 1474 884.2 1468.9 884.2 1463.9C884.2 1461.1 883.7 1458.2 883.3 1455.4C882.7 1452 881.6 1448.5 880.3 1445.1C879.1 1442.3 875.7 1439.4 875 1436.6C874.4 1434.3 873.9 1432 873.9 1429.7C873.9 1425.2 875 1420.6 875.5 1416C876.1 1410.3 876.4 1404.6 877.1 1398.9C877.8 1393.2 878.7 1387.5 879.8 1381.8C880.7 1376.7 882.5 1371.6 882.9 1366.4C883.3 1361.8 883.4 1357.1 883.7 1352.4Z"/>
<path fill="#fcc5c0" d="M908.6 1369C909 1373.3 909.2 1377.6 909.9 1381.8C910.5 1386.4 912.5 1391 914.1 1395.5C915.3 1398.9 918.3 1402.4 918.3 1405.8C918.3 1408.6 917.1 1411.5 916.8 1414.3C916.5 1416.6 916.2 1418.9 916.2 1421.2C916.2 1425.2 918.3 1429.1 918.3 1433.1C918.3 1436 914.6 1438.8 914.6 1441.7C914.6 1444 914.6 1446.3 914.6 1448.5C914.6 1451.4 910.9 1454.2 909.9 1457.1C909.1 1459.4 908.2 1461.6 908.1 1463.9C907.8 1468.9 907.9 1474 907.7 1479C907.6 1474 907.6 1468.9 907.4 1463.9C907.3 1461.6 906.4 1459.4 905.6 1457.1C904.6 1454.2 900.9 1451.4 900.9 1448.5C900.9 1446.3 900.9 1444 900.9 1441.7C900.9 1438.8 897.1 1436 897.1 1433.1C897.1 1429.1 899.3 1425.2 899.3 1421.2C899.3 1418.9 899 1416.6 898.7 1414.3C898.4 1411.5 897.1 1408.6 897.1 1405.8C897.1 1402.4 900.2 1398.9 901.4 1395.5C903 1391 904.9 1386.4 905.6 1381.8C906.3 1377.6 906.5 1373.3 906.9 1369Z"/>
<path fill="#f7fcb9" d="M931.8 1361.3C931.9 1367 931.9 1372.7 932 1378.4C932.1 1382.4 934.8 1386.4 935.7 1390.4C936.6 1394.4 937.9 1398.4 937.9 1402.4C937.9 1405.8 937.3 1409.2 937.3 1412.6C937.3 1416 938.7 1419.5 939.5 1422.9C940.2 1426.3 941.6 1429.7 941.6 1433.1C941.6 1436 938.3 1438.8 937.3 1441.7C936.4 1444.5 936 1447.4 935.2 1450.2C934.4 1453.1 933.2 1455.9 932.6 1458.8C932 1461.1 931.3 1463.4 931.3 1465.6C931.3 1470.1 932.8 1474.5 933.6 1479L928.3 1479C929.1 1474.5 930.7 1470.1 930.7 1465.6C930.7 1463.4 929.9 1461.1 929.4 1458.8C928.7 1455.9 927.5 1453.1 926.7 1450.2C925.9 1447.4 925.6 1444.5 924.6 1441.7C923.7 1438.8 920.4 1436 920.4 1433.1C920.4 1429.7 921.8 1426.3 922.5 1422.9C923.2 1419.5 924.6 1416 924.6 1412.6C924.6 1409.2 924.1 1405.8 924.1 1402.4C924.1 1398.4 925.3 1394.4 926.2 1390.4C927.1 1386.4 929.8 1382.4 929.9 1378.4C930.1 1372.7 930.1 1367 930.1 1361.3Z"/>
<path fill="#fcc5c0" d="M955 1346.8C956.2 1351.6 957.1 1356.5 958.4 1361.3C959.7 1365.9 962.2 1370.4 963.2 1375C963.9 1378.4 964.8 1381.8 964.8 1385.3C964.8 1389.8 964.5 1394.4 964.3 1398.9C964 1403.5 963.3 1408.1 962.7 1412.6C962 1417.2 960.9 1421.7 960 1426.3C959.1 1430.9 958.1 1435.4 957.4 1440C956.6 1444.5 956 1449.1 955.5 1453.7C955.1 1457.1 954.5 1460.5 954.5 1463.9C954.5 1468.9 954.7 1474 954.7 1479L953.7 1479C953.7 1474 953.9 1468.9 953.9 1463.9C953.9 1460.5 953.3 1457.1 952.9 1453.7C952.4 1449.1 951.8 1444.5 951 1440C950.3 1435.4 949.2 1430.9 948.4 1426.3C947.5 1421.7 946.4 1417.2 945.7 1412.6C945.1 1408.1 944.4 1403.5 944.1 1398.9C943.9 1394.4 943.6 1389.8 943.6 1385.3C943.6 1381.8 944.5 1378.4 945.2 1375C946.1 1370.4 948.7 1365.9 950 1361.3C951.3 1356.5 952.2 1351.6 953.3 1346.8Z"/>
<path fill="#810f7c" d="M978.3 1359.1C978.7 1363.8 978.9 1368.5 979.5 1373.3C980.2 1377.8 982.6 1382.4 983.8 1387C985.1 1392.1 986.4 1397.2 987 1402.4C987.5 1406.9 988 1411.5 988 1416C988 1420.6 987.8 1425.2 987.5 1429.7C987.2 1434.3 986 1438.8 984.8 1443.4C983.8 1447.4 981.8 1451.4 980.6 1455.4C979.8 1458.2 978.5 1461.1 978.5 1463.9C978.5 1466.2 978.5 1468.5 978.5 1470.8C978.5 1473.5 980.6 1476.2 981.7 1479L973.2 1479C974.2 1476.2 976.4 1473.5 976.4 1470.8C976.4 1468.5 976.4 1466.2 976.4 1463.9C976.4 1461.1 975.1 1458.2 974.2 1455.4C973.1 1451.4 971 1447.4 970 1443.4C968.9 1438.8 967.6 1434.3 967.3 1429.7C967.1 1425.2 966.8 1420.6 966.8 1416C966.8 1411.5 967.4 1406.9 967.9 1402.4C968.5 1397.2 969.8 1392.1 971.1 1387C972.2 1382.4 974.7 1377.8 975.3 1373.3C976 1368.5 976.1 1363.8 976.6 1359.1Z"/>
<path fill="#1d91c0" d="M1001.5 1363.9C1001.7 1368.7 1001.8 1373.6 1002.2 1378.4C1002.6 1382.4 1005 1386.4 1005.9 1390.4C1006.8 1394.4 1008.1 1398.4 1008.1 1402.4C1008.1 1405.8 1007.5 1409.2 1007.5 1412.6C1007.5 1416 1008.5 1419.5 1009.1 1422.9C1009.7 1426.3 1011.2 1429.7 1011.2 1433.1C1011.2 1436 1007.6 1438.8 1006.5 1441.7C1005.3 1444.5 1004.7 1447.4 1003.8 1450.2C1003 1453.1 1001.7 1455.9 1001.5 1458.8C1000.9 1465.5 1000.9 1472.2 1000.6 1479C1000.4 1472.2 1000.3 1465.5 999.8 1458.8C999.6 1455.9 998.3 1453.1 997.5 1450.2C996.6 1447.4 995.9 1444.5 994.8 1441.7C993.7 1438.8 990 1436 990 1433.1C990 1429.7 991.6 1426.3 992.2 1422.9C992.8 1419.5 993.8 1416 993.8 1412.6C993.8 1409.2 993.2 1405.8 993.2 1402.4C993.2 1398.4 994.4 1394.4 995.3 1390.4C996.2 1386.4 998.7 1382.4 999.1 1378.4C999.5 1373.6 999.5 1368.7 999.8 1363.9Z"/>
<path fill="#810f7c" d="M1024.7 1383.5C1025.7 1387.5 1026.7 1391.5 1027.6 1395.5C1028.3 1398.9 1028.8 1402.4 1029.7 1405.8C1030.3 1408.1 1031.8 1410.3 1031.8 1412.6C1031.8 1414.9 1031.3 1417.2 1031.3 1419.5C1031.3 1422.3 1032.8 1425.2 1033.4 1428C1033.8 1429.7 1034.5 1431.4 1034.5 1433.1C1034.5 1435.4 1030.6 1437.7 1029.2 1440C1028.1 1441.7 1026.5 1443.4 1026.5 1445.1C1026.5 1447.4 1030.2 1449.7 1030.2 1452C1030.2 1453.7 1029 1455.4 1028.1 1457.1C1027.2 1458.8 1024.5 1460.5 1024.4 1462.2C1024 1467.8 1024 1473.4 1023.9 1479C1023.7 1473.4 1023.7 1467.8 1023.3 1462.2C1023.2 1460.5 1020.5 1458.8 1019.6 1457.1C1018.7 1455.4 1017.5 1453.7 1017.5 1452C1017.5 1449.7 1021.2 1447.4 1021.2 1445.1C1021.2 1443.4 1019.6 1441.7 1018.6 1440C1017.2 1437.7 1013.3 1435.4 1013.3 1433.1C1013.3 1431.4 1013.9 1429.7 1014.3 1428C1015 1425.2 1016.4 1422.3 1016.4 1419.5C1016.4 1417.2 1015.9 1414.9 1015.9 1412.6C1015.9 1410.3 1017.5 1408.1 1018 1405.8C1018.9 1402.4 1019.4 1398.9 1020.2 1395.5C1021 1391.5 1022.1 1387.5 1023 1383.5Z"/>
<path fill="#f7fcb9" d="M1047.9 1366.4C1048.4 1370.4 1048.6 1374.4 1049.2 1378.4C1049.9 1383 1052.1 1387.5 1053.5 1392.1C1054.8 1396.7 1056.6 1401.2 1057.2 1405.8C1057.4 1408.1 1057.7 1410.3 1057.7 1412.6C1057.7 1415.5 1056.1 1418.3 1056.1 1421.2C1056.1 1425.2 1057.7 1429.1 1057.7 1433.1C1057.7 1436 1054.8 1438.8 1054.5 1441.7C1054.2 1444.5 1054.3 1447.4 1054 1450.2C1053.7 1453.1 1051.1 1455.9 1049.7 1458.8C1048.9 1460.5 1047.5 1462.2 1047.4 1463.9C1047.2 1468.9 1047.2 1474 1047.1 1479C1047 1474 1047 1468.9 1046.8 1463.9C1046.7 1462.2 1045.3 1460.5 1044.4 1458.8C1043.1 1455.9 1040.5 1453.1 1040.2 1450.2C1039.9 1447.4 1040 1444.5 1039.7 1441.7C1039.4 1438.8 1036.5 1436 1036.5 1433.1C1036.5 1429.1 1038.1 1425.2 1038.1 1421.2C1038.1 1418.3 1036.5 1415.5 1036.5 1412.6C1036.5 1410.3 1036.8 1408.1 1037 1405.8C1037.5 1401.2 1039.4 1396.7 1040.7 1392.1C1042.1 1387.5 1044.3 1383 1045 1378.4C1045.6 1374.4 1045.8 1370.4 1046.2 1366.4Z"/>
<path fill="#fcc5c0" d="M1071.2 1375.6C1071.2 1379.6 1071.2 1383.6 1071.4 1387.6C1071.5 1392.2 1074.9 1396.7 1075.6 1401.3C1076.1 1404.7 1076.4 1408.1 1076.7 1411.6C1076.9 1415 1076.9 1418.4 1077.2 1421.8C1077.5 1425.2 1080.9 1428.7 1080.9 1432.1C1080.9 1434.4 1078.8 1436.6 1078.8 1438.9C1078.8 1441.2 1079.3 1443.5 1079.3 1445.8C1079.3 1448 1078.8 1450.3 1078.3 1452.6C1077.7 1454.9 1074.8 1457.2 1073.5 1459.4C1072.5 1461.2 1070.8 1462.9 1070.8 1464.6C1070.8 1466.9 1070.8 1469.1 1070.8 1471.4C1070.8 1473.9 1071.9 1476.4 1072.4 1478.9L1068.2 1478.9C1068.7 1476.4 1069.8 1473.9 1069.8 1471.4C1069.8 1469.1 1069.8 1466.9 1069.8 1464.6C1069.8 1462.9 1068.1 1461.2 1067.1 1459.4C1065.8 1457.2 1062.9 1454.9 1062.4 1452.6C1061.8 1450.3 1061.3 1448 1061.3 1445.8C1061.3 1443.5 1061.8 1441.2 1061.8 1438.9C1061.8 1436.6 1059.7 1434.4 1059.7 1432.1C1059.7 1428.7 1063.1 1425.2 1063.4 1421.8C1063.7 1418.4 1063.7 1415 1064 1411.6C1064.2 1408.1 1064.5 1404.7 1065 1401.3C1065.7 1396.7 1069.1 1392.2 1069.3 1387.6C1069.4 1383.6 1069.4 1379.6 1069.5 1375.6Z"/>
<path fill="#ffffff" d="M1094.4 1349.5C1095.3 1353.6 1096 1357.8 1097.3 1362C1098.5 1366 1101.6 1369.9 1102.6 1373.9C1103.3 1377.4 1104.1 1380.8 1104.1 1384.2C1104.1 1388.2 1103.5 1392.2 1103.1 1396.2C1102.7 1400.2 1102.1 1404.1 1101.5 1408.1C1100.8 1412.7 1099.7 1417.3 1098.8 1421.8C1098 1426.4 1097 1430.9 1096.2 1435.5C1095.5 1439.5 1094.3 1443.5 1094.1 1447.5C1093.7 1453.7 1093.7 1460 1093.5 1466.3C1093.4 1460 1093.3 1453.7 1093 1447.5C1092.8 1443.5 1091.6 1439.5 1090.9 1435.5C1090 1430.9 1089.1 1426.4 1088.2 1421.8C1087.4 1417.3 1086.3 1412.7 1085.6 1408.1C1085 1404.1 1084.4 1400.2 1084 1396.2C1083.6 1392.2 1082.9 1388.2 1082.9 1384.2C1082.9 1380.8 1083.8 1377.4 1084.5 1373.9C1085.4 1369.9 1088.6 1366 1089.8 1362C1091.1 1357.8 1091.7 1353.6 1092.7 1349.5Z"/>
<path fill="#addd8e" d="M1118.9 1324.7C1119.9 1328.6 1120.8 1332.4 1122.1 1336.3C1123.2 1339.7 1125.7 1343.1 1126.3 1346.6C1126.8 1349.4 1127.4 1352.3 1127.4 1355.1C1127.4 1359.1 1126.4 1363.1 1125.8 1367.1C1125.1 1371.7 1124 1376.2 1123.1 1380.8C1122.2 1385.3 1121.3 1389.9 1120.5 1394.5C1119.7 1399 1118.9 1403.6 1118.4 1408.1C1117.8 1412.7 1117.2 1417.3 1117.1 1421.8C1116.9 1431.3 1116.9 1440.7 1116.8 1450.2C1116.7 1440.7 1116.7 1431.3 1116.4 1421.8C1116.3 1417.3 1115.7 1412.7 1115.2 1408.1C1114.6 1403.6 1113.8 1399 1113.1 1394.5C1112.3 1389.9 1111.3 1385.3 1110.4 1380.8C1109.5 1376.2 1108.5 1371.7 1107.8 1367.1C1107.1 1363.1 1106.2 1359.1 1106.2 1355.1C1106.2 1352.3 1106.7 1349.4 1107.2 1346.6C1107.9 1343.1 1110.3 1339.7 1111.5 1336.3C1112.7 1332.4 1113.6 1328.6 1114.6 1324.7Z"/>
<path fill="#fcc5c0" d="M1140.8 1348.6C1142 1353.1 1142.9 1357.5 1144.2 1362C1145.4 1366 1147.6 1369.9 1148.5 1373.9C1149.5 1378.5 1150.6 1383.1 1150.6 1387.6C1150.6 1392.2 1149.7 1396.7 1149 1401.3C1148.3 1405.9 1147 1410.4 1146.3 1415C1145.7 1419.5 1145.3 1424.1 1144.8 1428.7C1144.2 1433.2 1143.7 1437.8 1143.2 1442.3C1142.6 1446.9 1141.8 1451.5 1141.3 1456C1140.9 1458.9 1140.4 1461.7 1140.3 1464.6C1140.1 1469.4 1140.1 1474.2 1140 1478.9C1139.9 1474.2 1139.9 1469.4 1139.7 1464.6C1139.6 1461.7 1139.1 1458.9 1138.7 1456C1138.2 1451.5 1137.4 1446.9 1136.8 1442.3C1136.2 1437.8 1135.7 1433.2 1135.2 1428.7C1134.7 1424.1 1134.3 1419.5 1133.6 1415C1133 1410.4 1131.6 1405.9 1131 1401.3C1130.3 1396.7 1129.4 1392.2 1129.4 1387.6C1129.4 1383.1 1130.5 1378.5 1131.5 1373.9C1132.4 1369.9 1134.6 1366 1135.7 1362C1137.1 1357.5 1138 1353.1 1139.1 1348.6Z"/>
<path fill="#ffffff" d="M1164.1 1340.6C1164.5 1344.9 1164.8 1349.1 1165.3 1353.4C1166.1 1359.1 1167.7 1364.8 1168.5 1370.5C1169.4 1376.2 1170 1381.9 1170.6 1387.6C1171.2 1393.3 1171.8 1399 1172.2 1404.7C1172.6 1410.4 1173 1416.1 1173.3 1421.8C1173.5 1425.2 1173.8 1428.7 1173.8 1432.1C1173.8 1435.5 1172.7 1438.9 1171.7 1442.3C1170.7 1445.8 1168.2 1449.2 1166.9 1452.6C1165.8 1455.5 1164.3 1458.3 1164.1 1461.2C1163.7 1465.1 1163.6 1469.1 1163.5 1473.1C1163.4 1480.8 1163.3 1488.4 1163.2 1496C1163.1 1488.4 1163.1 1480.8 1162.9 1473.1C1162.8 1469.1 1162.7 1465.1 1162.4 1461.2C1162.1 1458.3 1160.6 1455.5 1159.5 1452.6C1158.2 1449.2 1155.7 1445.8 1154.7 1442.3C1153.8 1438.9 1152.6 1435.5 1152.6 1432.1C1152.6 1428.7 1153 1425.2 1153.1 1421.8C1153.5 1416.1 1153.8 1410.4 1154.2 1404.7C1154.6 1399 1155.2 1393.3 1155.8 1387.6C1156.4 1381.9 1157.1 1376.2 1157.9 1370.5C1158.8 1364.8 1160.4 1359.1 1161.1 1353.4C1161.6 1349.1 1161.9 1344.9 1162.4 1340.6Z"/>
<path fill="#ffffff" d="M1187.3 1331.2C1188.2 1335.7 1189.1 1340.3 1190.1 1344.9C1191.5 1350.6 1193.9 1356.3 1194.9 1362C1195.9 1367.1 1197 1372.2 1197 1377.4C1197 1381.9 1196.1 1386.5 1195.4 1391C1194.8 1395.6 1193.6 1400.2 1192.8 1404.7C1191.8 1410.4 1190.9 1416.1 1190.1 1421.8C1189.4 1427.5 1188.7 1433.2 1188 1438.9C1187.6 1442.3 1186.9 1445.8 1186.8 1449.2C1186.6 1454.9 1186.5 1460.6 1186.4 1466.3C1186.3 1460.6 1186.3 1454.9 1186.1 1449.2C1186 1445.8 1185.3 1442.3 1184.8 1438.9C1184.1 1433.2 1183.5 1427.5 1182.7 1421.8C1181.9 1416.1 1181.1 1410.4 1180.1 1404.7C1179.3 1400.2 1178.1 1395.6 1177.4 1391C1176.8 1386.5 1175.8 1381.9 1175.8 1377.4C1175.8 1372.2 1177 1367.1 1178 1362C1179 1356.3 1181.4 1350.6 1182.7 1344.9C1183.8 1340.3 1184.6 1335.7 1185.6 1331.2Z"/>
<path fill="#ffffff" d="M1210.5 1365.4C1210.8 1370.5 1210.8 1375.6 1211.3 1380.8C1211.6 1384.2 1214.1 1387.6 1215 1391C1216.1 1395.6 1217.6 1400.2 1217.6 1404.7C1217.6 1408.1 1217.1 1411.6 1217.1 1415C1217.1 1418.4 1218.1 1421.8 1218.7 1425.2C1219.2 1428.1 1220.3 1430.9 1220.3 1433.8C1220.3 1436.1 1216 1438.4 1216 1440.6C1216 1442.3 1217.1 1444.1 1217.1 1445.8C1217.1 1448 1215.8 1450.3 1215 1452.6C1213.9 1455.5 1211.7 1458.3 1210.9 1461.2C1210.5 1462.9 1210.1 1464.6 1210 1466.3C1209.8 1470.5 1209.8 1474.7 1209.7 1478.9C1209.6 1474.7 1209.6 1470.5 1209.3 1466.3C1209.3 1464.6 1208.8 1462.9 1208.4 1461.2C1207.7 1458.3 1205.4 1455.5 1204.4 1452.6C1203.5 1450.3 1202.2 1448 1202.2 1445.8C1202.2 1444.1 1203.3 1442.3 1203.3 1440.6C1203.3 1438.4 1199.1 1436.1 1199.1 1433.8C1199.1 1430.9 1200.2 1428.1 1200.7 1425.2C1201.2 1421.8 1202.2 1418.4 1202.2 1415C1202.2 1411.6 1201.7 1408.1 1201.7 1404.7C1201.7 1400.2 1203.2 1395.6 1204.4 1391C1205.2 1387.6 1207.8 1384.2 1208.1 1380.8C1208.5 1375.6 1208.6 1370.5 1208.8 1365.4Z"/>
<path fill="#ffffff" d="M1233.7 1302.1C1234 1307.8 1234 1313.5 1234.5 1319.2C1234.8 1323.8 1238.8 1328.3 1240.3 1332.9C1241.6 1336.9 1243.5 1340.9 1243.5 1344.9C1243.5 1348.9 1242.2 1352.8 1241.4 1356.8C1240.5 1361.4 1239.1 1366 1238.2 1370.5C1237.2 1375.1 1236.3 1379.6 1235.5 1384.2C1234.8 1388.8 1233.5 1393.3 1233.4 1397.9C1233 1415.3 1233.1 1432.8 1232.9 1450.2C1232.7 1432.8 1232.8 1415.3 1232.4 1397.9C1232.3 1393.3 1231 1388.8 1230.2 1384.2C1229.5 1379.6 1228.5 1375.1 1227.6 1370.5C1226.6 1366 1225.3 1361.4 1224.4 1356.8C1223.6 1352.8 1222.3 1348.9 1222.3 1344.9C1222.3 1340.9 1224.2 1336.9 1225.5 1332.9C1227 1328.3 1230.9 1323.8 1231.3 1319.2C1231.8 1313.5 1231.8 1307.8 1232 1302.1Z"/>
<path fill="#f7fcb9" d="M1257.7 1345.2C1258.6 1350.8 1259.2 1356.4 1260.4 1362C1261.4 1367.1 1263.8 1372.2 1264.6 1377.4C1265.3 1381.9 1266.2 1386.5 1266.2 1391C1266.2 1395.6 1265.7 1400.2 1265.7 1404.7C1265.7 1410.4 1266 1416.1 1266.2 1421.8C1266.4 1427.5 1266.7 1433.2 1266.7 1438.9C1266.7 1442.3 1266.2 1445.8 1265.7 1449.2C1265.1 1452.6 1262.9 1456 1261.9 1459.4C1261.1 1462.3 1259.8 1465.1 1259.8 1468C1259.8 1471.6 1259.8 1475.3 1259.8 1478.9L1252.4 1478.9C1252.4 1475.3 1252.4 1471.6 1252.4 1468C1252.4 1465.1 1251.1 1462.3 1250.3 1459.4C1249.3 1456 1247.1 1452.6 1246.6 1449.2C1246 1445.8 1245.5 1442.3 1245.5 1438.9C1245.5 1433.2 1245.9 1427.5 1246 1421.8C1246.2 1416.1 1246.6 1410.4 1246.6 1404.7C1246.6 1400.2 1246 1395.6 1246 1391C1246 1386.5 1246.9 1381.9 1247.6 1377.4C1248.5 1372.2 1250.8 1367.1 1251.9 1362C1253 1356.4 1253.6 1350.8 1254.5 1345.2Z"/>
<path fill="#ffffff" d="M1280.2 1354.3C1280.6 1359.7 1280.9 1365.1 1281.5 1370.5C1282 1376.2 1283.2 1381.9 1284.1 1387.6C1285 1393.3 1286 1399 1286.8 1404.7C1287.5 1410.4 1288.2 1416.1 1288.9 1421.8C1289.3 1425.2 1289.9 1428.7 1289.9 1432.1C1289.9 1434.9 1288.7 1437.8 1287.8 1440.6C1287 1443.5 1285.8 1446.3 1284.6 1449.2C1283.5 1452 1281.7 1454.9 1280.9 1457.7C1280.3 1460 1279.7 1462.3 1279.7 1464.6C1279.7 1469.4 1279.8 1474.2 1279.9 1478.9L1278.8 1478.9C1278.9 1474.2 1279 1469.4 1279 1464.6C1279 1462.3 1278.3 1460 1277.7 1457.7C1277 1454.9 1275.2 1452 1274 1449.2C1272.9 1446.3 1271.7 1443.5 1270.9 1440.6C1270 1437.8 1268.7 1434.9 1268.7 1432.1C1268.7 1428.7 1269.4 1425.2 1269.8 1421.8C1270.4 1416.1 1271.1 1410.4 1271.9 1404.7C1272.7 1399 1273.7 1393.3 1274.6 1387.6C1275.4 1381.9 1276.6 1376.2 1277.2 1370.5C1277.8 1365.1 1278.1 1359.7 1278.5 1354.3Z"/>
<path fill="#f7fcb9" d="M1304.1 1345.2C1305.2 1350.8 1306.1 1356.4 1307.3 1362C1308.4 1367.1 1310.1 1372.2 1311 1377.4C1311.9 1381.9 1313.2 1386.5 1313.2 1391C1313.2 1395.6 1312.1 1400.2 1312.1 1404.7C1312.1 1409.3 1312.6 1413.8 1312.6 1418.4C1312.6 1423 1312 1427.5 1311.6 1432.1C1311.1 1436.6 1310.7 1441.2 1310 1445.8C1309.4 1449.2 1308.1 1452.6 1307.3 1456C1306.7 1458.9 1305.7 1461.7 1305.7 1464.6C1305.7 1469.4 1306.4 1474.2 1306.8 1478.9L1298.3 1478.9C1298.7 1474.2 1299.4 1469.4 1299.4 1464.6C1299.4 1461.7 1298.4 1458.9 1297.8 1456C1297.1 1452.6 1295.7 1449.2 1295.1 1445.8C1294.4 1441.2 1294 1436.6 1293.5 1432.1C1293.1 1427.5 1292.5 1423 1292.5 1418.4C1292.5 1413.8 1293 1409.3 1293 1404.7C1293 1400.2 1292 1395.6 1292 1391C1292 1386.5 1293.2 1381.9 1294.1 1377.4C1295 1372.2 1296.7 1367.1 1297.8 1362C1299 1356.4 1299.9 1350.8 1301 1345.2Z"/>
<path fill="#fcc5c0" d="M1326.6 1339.2C1326.7 1343.9 1326.7 1348.7 1326.8 1353.4C1327 1358 1329.9 1362.5 1331.1 1367.1C1332.3 1371.7 1333.7 1376.2 1334.3 1380.8C1334.8 1385.3 1335.3 1389.9 1335.3 1394.5C1335.3 1399 1334.8 1403.6 1334.8 1408.1C1334.8 1412.7 1335.6 1417.3 1335.9 1421.8C1336.1 1425.2 1336.4 1428.7 1336.4 1432.1C1336.4 1435.5 1334.4 1438.9 1333.2 1442.3C1332 1445.8 1330 1449.2 1329 1452.6C1328 1456 1326.6 1459.4 1326.6 1462.9C1326.6 1468.2 1327.1 1473.6 1327.4 1478.9L1324.2 1478.9C1324.4 1473.6 1324.9 1468.2 1324.9 1462.9C1324.9 1459.4 1323.6 1456 1322.6 1452.6C1321.6 1449.2 1319.6 1445.8 1318.4 1442.3C1317.2 1438.9 1315.2 1435.5 1315.2 1432.1C1315.2 1428.7 1315.5 1425.2 1315.7 1421.8C1316 1417.3 1316.8 1412.7 1316.8 1408.1C1316.8 1403.6 1316.2 1399 1316.2 1394.5C1316.2 1389.9 1316.8 1385.3 1317.3 1380.8C1317.8 1376.2 1319.3 1371.7 1320.5 1367.1C1321.7 1362.5 1324.6 1358 1324.7 1353.4C1324.9 1348.7 1324.9 1343.9 1324.9 1339.2Z"/>
<path fill="#ffffff" d="M1350.6 1331.2C1351.8 1335.7 1353.1 1340.3 1354.3 1344.9C1355.8 1350.6 1357.9 1356.3 1358.5 1362C1359.1 1367.1 1359.6 1372.2 1359.6 1377.4C1359.6 1381.9 1359 1386.5 1358.5 1391C1358.1 1395.6 1357.5 1400.2 1357 1404.7C1356.3 1410.4 1355.6 1416.1 1354.8 1421.8C1354.1 1427.5 1353 1433.2 1352.2 1438.9C1351.4 1444.6 1350.4 1450.3 1350.1 1456C1349.7 1461.7 1349.4 1467.4 1349.3 1473.1C1349.2 1480.8 1349.1 1488.4 1349 1496C1348.9 1488.4 1348.9 1480.8 1348.7 1473.1C1348.6 1467.4 1348.3 1461.7 1347.9 1456C1347.6 1450.3 1346.6 1444.6 1345.8 1438.9C1345 1433.2 1344 1427.5 1343.2 1421.8C1342.4 1416.1 1341.7 1410.4 1341.1 1404.7C1340.5 1400.2 1339.9 1395.6 1339.5 1391C1339 1386.5 1338.4 1381.9 1338.4 1377.4C1338.4 1372.2 1338.9 1367.1 1339.5 1362C1340.1 1356.3 1342.2 1350.6 1343.7 1344.9C1344.9 1340.3 1346.2 1335.7 1347.4 1331.2Z"/>
<path fill="#f7fcb9" d="M1373.3 1346.9C1373.8 1351.9 1374.3 1356.9 1374.9 1362C1375.6 1367.7 1376.7 1373.4 1377.5 1379.1C1378.3 1384.8 1379 1390.5 1379.7 1396.2C1380.3 1401.9 1380.8 1407.6 1381.2 1413.3C1381.7 1419 1382 1424.7 1382.3 1430.4C1382.5 1435.5 1382.8 1440.6 1382.8 1445.8C1382.8 1449.2 1381 1452.6 1379.7 1456C1378.6 1458.9 1375.8 1461.7 1375.4 1464.6C1375.1 1466.9 1374.9 1469.1 1374.9 1471.4C1374.9 1473.9 1375.2 1476.4 1375.4 1478.9L1369.1 1478.9C1369.2 1476.4 1369.6 1473.9 1369.6 1471.4C1369.6 1469.1 1369.3 1466.9 1369.1 1464.6C1368.7 1461.7 1365.9 1458.9 1364.8 1456C1363.5 1452.6 1361.6 1449.2 1361.6 1445.8C1361.6 1440.6 1361.9 1435.5 1362.2 1430.4C1362.4 1424.7 1362.8 1419 1363.2 1413.3C1363.6 1407.6 1364.2 1401.9 1364.8 1396.2C1365.4 1390.5 1366.1 1384.8 1366.9 1379.1C1367.7 1373.4 1368.9 1367.7 1369.6 1362C1370.2 1356.9 1370.6 1351.9 1371.2 1346.9Z"/>
<path fill="#ffffff" d="M1396.3 1311C1397.8 1315.6 1399.4 1320.2 1400.8 1324.7C1402.1 1329.3 1403.7 1333.9 1404.5 1338.4C1405.2 1343 1406.1 1347.5 1406.1 1352.1C1406.1 1356.7 1406.1 1361.2 1406.1 1365.8C1406.1 1370.3 1405.1 1374.9 1404.5 1379.5C1403.8 1384 1402.6 1388.6 1401.8 1393.1C1401 1397.7 1400.1 1402.3 1399.7 1406.8C1399.2 1412.5 1399.1 1418.2 1398.6 1423.9C1398.2 1429.6 1397.5 1435.3 1397 1441C1396.7 1445.6 1396.1 1450.1 1396 1454.7C1395.7 1462.8 1395.6 1470.9 1395.5 1479C1395.3 1470.9 1395.2 1462.8 1394.9 1454.7C1394.8 1450.1 1394.2 1445.6 1393.9 1441C1393.4 1435.3 1392.7 1429.6 1392.3 1423.9C1391.9 1418.2 1391.7 1412.5 1391.2 1406.8C1390.8 1402.3 1389.9 1397.7 1389.1 1393.1C1388.3 1388.6 1387.1 1384 1386.4 1379.5C1385.8 1374.9 1384.9 1370.3 1384.9 1365.8C1384.9 1361.2 1384.9 1356.7 1384.9 1352.1C1384.9 1347.5 1385.7 1343 1386.4 1338.4C1387.2 1333.9 1388.8 1329.3 1390.2 1324.7C1391.5 1320.2 1393.1 1315.6 1394.6 1311Z"/>
<path fill="#ffffff" d="M1420.3 1316.5C1421.7 1321 1423.5 1325.4 1424.5 1329.9C1425.9 1335.6 1427 1341.3 1427.7 1347C1428.4 1352.7 1429.3 1358.4 1429.3 1364.1C1429.3 1369.8 1429 1375.5 1428.7 1381.2C1428.5 1386.9 1427.4 1392.6 1426.6 1398.3C1425.8 1404 1424.6 1409.7 1424 1415.4C1423.3 1421.1 1422.9 1426.8 1422.4 1432.5C1421.9 1438.2 1421.3 1443.9 1420.8 1449.6C1420.4 1454.1 1419.5 1458.7 1419.5 1463.3C1419.5 1468.5 1419.8 1473.8 1420 1479L1417.4 1479C1417.5 1473.8 1417.8 1468.5 1417.8 1463.3C1417.8 1458.7 1417 1454.1 1416.6 1449.6C1416 1443.9 1415.5 1438.2 1415 1432.5C1414.4 1426.8 1414 1421.1 1413.4 1415.4C1412.7 1409.7 1411.5 1404 1410.7 1398.3C1409.9 1392.6 1408.9 1386.9 1408.6 1381.2C1408.3 1375.5 1408.1 1369.8 1408.1 1364.1C1408.1 1358.4 1409 1352.7 1409.7 1347C1410.4 1341.3 1411.5 1335.6 1412.8 1329.9C1413.9 1325.4 1415.7 1321 1417.1 1316.5Z"/>
<path fill="#f7fcb9" d="M1442.8 1330.7C1443.2 1336.1 1443.4 1341.5 1444 1347C1444.6 1352.7 1446.1 1358.4 1447.2 1364.1C1448.3 1369.8 1450.1 1375.5 1450.9 1381.2C1451.6 1385.7 1452.5 1390.3 1452.5 1394.9C1452.5 1398.8 1451.8 1402.8 1451.4 1406.8C1451 1411.4 1450.1 1415.9 1449.9 1420.5C1449.6 1425.1 1449.6 1429.6 1449.3 1434.2C1449 1438.7 1448 1443.3 1447.2 1447.9C1446.5 1451.9 1445.2 1455.9 1444.6 1459.8C1444.1 1462.7 1443.5 1465.5 1443.5 1468.4C1443.5 1471.9 1443.8 1475.5 1444 1479L1439.8 1479C1440 1475.5 1440.3 1471.9 1440.3 1468.4C1440.3 1465.5 1439.7 1462.7 1439.3 1459.8C1438.6 1455.9 1437.3 1451.9 1436.6 1447.9C1435.8 1443.3 1434.8 1438.7 1434.5 1434.2C1434.2 1429.6 1434.2 1425.1 1434 1420.5C1433.7 1415.9 1432.8 1411.4 1432.4 1406.8C1432 1402.8 1431.3 1398.8 1431.3 1394.9C1431.3 1390.3 1432.2 1385.7 1432.9 1381.2C1433.7 1375.5 1435.5 1369.8 1436.6 1364.1C1437.7 1358.4 1439.2 1352.7 1439.8 1347C1440.4 1341.5 1440.6 1336.1 1441.1 1330.7Z"/>
<path fill="#d0d1e6" d="M1466 1295.7C1466.6 1300.2 1466.9 1304.8 1467.8 1309.3C1468.6 1313.3 1471.2 1317.3 1472.5 1321.3C1473.7 1324.7 1475.7 1328.1 1475.7 1331.6C1475.7 1335.6 1475.5 1339.6 1475.2 1343.5C1474.9 1347.5 1474.3 1351.5 1473.6 1355.5C1472.8 1360.1 1471.3 1364.6 1470.4 1369.2C1469.6 1373.8 1469 1378.3 1468.3 1382.9C1467.6 1387.4 1466.9 1392 1466.4 1396.6C1466 1400 1465.5 1403.4 1465.4 1406.8C1465.2 1430.9 1465.2 1454.9 1465.1 1479C1465 1454.9 1465.1 1430.9 1464.8 1406.8C1464.8 1403.4 1464.2 1400 1463.9 1396.6C1463.4 1392 1462.6 1387.4 1461.9 1382.9C1461.3 1378.3 1460.7 1373.8 1459.8 1369.2C1459 1364.6 1457.4 1360.1 1456.6 1355.5C1456 1351.5 1455.3 1347.5 1455.1 1343.5C1454.8 1339.6 1454.5 1335.6 1454.5 1331.6C1454.5 1328.1 1456.5 1324.7 1457.7 1321.3C1459.1 1317.3 1461.7 1313.3 1462.5 1309.3C1463.4 1304.8 1463.7 1300.2 1464.3 1295.7Z"/>
<path fill="#f7fcb9" d="M1489.2 1332.8C1490.2 1337.5 1491.1 1342.2 1492.1 1347C1493.3 1352.7 1494.7 1358.4 1495.8 1364.1C1496.8 1369.8 1498.1 1375.5 1498.4 1381.2C1498.7 1385.7 1499 1390.3 1499 1394.9C1499 1400 1498.4 1405.1 1497.9 1410.2C1497.5 1414.8 1496.5 1419.4 1495.8 1423.9C1495.1 1428.5 1494.4 1433 1493.7 1437.6C1492.9 1442.2 1492.2 1446.7 1491.5 1451.3C1491 1455.3 1489.9 1459.3 1489.9 1463.3C1489.9 1468.5 1490.3 1473.8 1490.5 1479L1486.2 1479C1486.4 1473.8 1486.8 1468.5 1486.8 1463.3C1486.8 1459.3 1485.7 1455.3 1485.2 1451.3C1484.5 1446.7 1483.8 1442.2 1483.1 1437.6C1482.3 1433 1481.6 1428.5 1480.9 1423.9C1480.2 1419.4 1479.3 1414.8 1478.8 1410.2C1478.3 1405.1 1477.8 1400 1477.8 1394.9C1477.8 1390.3 1478 1385.7 1478.3 1381.2C1478.6 1375.5 1479.9 1369.8 1480.9 1364.1C1482 1358.4 1483.5 1352.7 1484.6 1347C1485.6 1342.2 1486.6 1337.5 1487.5 1332.8Z"/>
<path fill="#6a51a3" d="M1512.4 1327.3C1513.6 1332.1 1514.5 1337 1515.8 1341.8C1517.1 1346.4 1519.6 1351 1520.6 1355.5C1521.3 1358.9 1522.2 1362.4 1522.2 1365.8C1522.2 1370.9 1522.2 1376 1522.2 1381.2C1522.2 1386.9 1521.9 1392.6 1521.6 1398.3C1521.4 1404 1520.7 1409.7 1520.1 1415.4C1519.5 1421.1 1518.6 1426.8 1517.9 1432.5C1517.2 1438.2 1516.7 1443.9 1515.8 1449.6C1515.1 1454.1 1513.2 1458.7 1513.2 1463.3C1513.2 1468.5 1513.2 1473.8 1513.2 1479L1510 1479C1510 1473.8 1510 1468.5 1510 1463.3C1510 1458.7 1508 1454.1 1507.3 1449.6C1506.5 1443.9 1505.9 1438.2 1505.2 1432.5C1504.5 1426.8 1503.7 1421.1 1503.1 1415.4C1502.5 1409.7 1501.8 1404 1501.5 1398.3C1501.2 1392.6 1501 1386.9 1501 1381.2C1501 1376 1501 1370.9 1501 1365.8C1501 1362.4 1501.8 1358.9 1502.6 1355.5C1503.5 1351 1506.1 1346.4 1507.3 1341.8C1508.7 1337 1509.6 1332.1 1510.7 1327.3Z"/>
<path fill="#ffffff" d="M1536.9 1331.2C1538 1334.8 1539.1 1338.3 1540.1 1341.8C1541.4 1346.4 1543.2 1351 1543.8 1355.5C1544.6 1361.2 1545.4 1366.9 1545.4 1372.6C1545.4 1378.3 1545.4 1384 1545.4 1389.7C1545.4 1395.4 1544.8 1401.1 1544.3 1406.8C1543.9 1412.5 1543.4 1418.2 1542.8 1423.9C1542.1 1429.6 1541 1435.3 1540.1 1441C1539.2 1446.7 1537.9 1452.4 1537.5 1458.1C1537.2 1461.6 1536.9 1465 1536.9 1468.4C1536.9 1471.9 1537.3 1475.5 1537.5 1479L1532.2 1479C1532.3 1475.5 1532.7 1471.9 1532.7 1468.4C1532.7 1465 1532.4 1461.6 1532.2 1458.1C1531.7 1452.4 1530.4 1446.7 1529.5 1441C1528.6 1435.3 1527.5 1429.6 1526.9 1423.9C1526.2 1418.2 1525.7 1412.5 1525.3 1406.8C1524.8 1401.1 1524.2 1395.4 1524.2 1389.7C1524.2 1384 1524.2 1378.3 1524.2 1372.6C1524.2 1366.9 1525 1361.2 1525.8 1355.5C1526.4 1351 1528.2 1346.4 1529.5 1341.8C1530.5 1338.3 1531.6 1334.8 1532.7 1331.2Z"/>
<path fill="#addd8e" d="M1559.6 1343.5C1560.5 1347.5 1561.3 1351.5 1562.3 1355.5C1563.6 1361.2 1565.6 1366.9 1566.5 1372.6C1567.4 1378.3 1568.6 1384 1568.6 1389.7C1568.6 1395.4 1568.4 1401.1 1568.1 1406.8C1567.8 1412.5 1567.2 1418.2 1566.5 1423.9C1565.8 1429.6 1564.4 1435.3 1563.3 1441C1562.5 1445.6 1561.2 1450.1 1560.7 1454.7C1560.2 1458.7 1559.6 1462.7 1559.6 1466.7C1559.6 1470.8 1560 1474.9 1560.1 1479L1555.9 1479C1556.1 1474.9 1556.4 1470.8 1556.4 1466.7C1556.4 1462.7 1555.9 1458.7 1555.4 1454.7C1554.8 1450.1 1553.6 1445.6 1552.7 1441C1551.6 1435.3 1550.3 1429.6 1549.5 1423.9C1548.8 1418.2 1548.2 1412.5 1548 1406.8C1547.7 1401.1 1547.4 1395.4 1547.4 1389.7C1547.4 1384 1548.6 1378.3 1549.5 1372.6C1550.5 1366.9 1552.5 1361.2 1553.8 1355.5C1554.7 1351.5 1555.6 1347.5 1556.4 1343.5Z"/>
<path fill="#d0d1e6" d="M1582.8 1307.3C1584.1 1312 1585.3 1316.6 1586.5 1321.3C1587.8 1325.9 1589.5 1330.4 1590.3 1335C1591 1339 1591.8 1343 1591.8 1347C1591.8 1351.5 1591.6 1356.1 1591.3 1360.6C1591 1365.8 1589.9 1370.9 1589.2 1376C1588.4 1381.7 1587.3 1387.4 1586.5 1393.1C1585.8 1398.8 1585.1 1404.5 1584.4 1410.2C1583.8 1415.9 1583 1421.6 1582.5 1427.3C1582.1 1431.9 1581.6 1436.5 1581.6 1441C1581.4 1453.7 1581.4 1466.3 1581.2 1479C1581.1 1466.3 1581.1 1453.7 1580.9 1441C1580.9 1436.5 1580.4 1431.9 1580 1427.3C1579.5 1421.6 1578.7 1415.9 1578.1 1410.2C1577.4 1404.5 1576.7 1398.8 1575.9 1393.1C1575.2 1387.4 1574.1 1381.7 1573.3 1376C1572.6 1370.9 1571.5 1365.8 1571.2 1360.6C1570.9 1356.1 1570.6 1351.5 1570.6 1347C1570.6 1343 1571.5 1339 1572.2 1335C1573 1330.4 1574.7 1325.9 1575.9 1321.3C1577.2 1316.6 1578.4 1312 1579.7 1307.3Z"/>
<path fill="#6a51a3" d="M1605.3 1280.3C1605.7 1284.8 1605.9 1289.4 1606.6 1293.9C1607.1 1297.4 1609.5 1300.8 1610.8 1304.2C1612.2 1307.6 1614.1 1311 1614.5 1314.5C1614.8 1316.7 1615.1 1319 1615.1 1321.3C1615.1 1324.7 1614.2 1328.1 1613.5 1331.6C1612.7 1335 1610.8 1338.4 1609.8 1341.8C1608.5 1346.4 1607.1 1351 1606.6 1355.5C1605.9 1361.2 1605.6 1366.9 1605.3 1372.6C1605.1 1378.3 1604.9 1384 1604.8 1389.7C1604.6 1409.9 1604.6 1430.1 1604.5 1450.3C1604.4 1430.1 1604.4 1409.9 1604.2 1389.7C1604.1 1384 1603.9 1378.3 1603.6 1372.6C1603.4 1366.9 1603 1361.2 1602.4 1355.5C1601.8 1351 1600.5 1346.4 1599.2 1341.8C1598.2 1338.4 1596.2 1335 1595.5 1331.6C1594.7 1328.1 1593.9 1324.7 1593.9 1321.3C1593.9 1319 1594.1 1316.7 1594.4 1314.5C1594.8 1311 1596.8 1307.6 1598.1 1304.2C1599.4 1300.8 1601.8 1297.4 1602.4 1293.9C1603.1 1289.4 1603.2 1284.8 1603.6 1280.3Z"/>
<path fill="#addd8e" d="M1628.5 1316.2C1628.6 1320.7 1628.6 1325.3 1628.8 1329.9C1628.9 1333.9 1632.6 1337.8 1634.1 1341.8C1635.3 1345.3 1636.7 1348.7 1637.2 1352.1C1637.8 1355.5 1638.3 1358.9 1638.3 1362.4C1638.3 1366.9 1637.4 1371.5 1636.7 1376C1636 1380.6 1634.9 1385.2 1634.1 1389.7C1633 1395.4 1631.7 1401.1 1630.9 1406.8C1630.1 1412.5 1629.4 1418.2 1629 1423.9C1628.5 1429.6 1628.3 1435.3 1628 1441C1627.9 1444.1 1627.8 1447.2 1627.7 1450.3C1627.6 1447.2 1627.5 1444.1 1627.4 1441C1627.1 1435.3 1626.8 1429.6 1626.4 1423.9C1626 1418.2 1625.3 1412.5 1624.5 1406.8C1623.7 1401.1 1622.4 1395.4 1621.3 1389.7C1620.5 1385.2 1619.3 1380.6 1618.7 1376C1618 1371.5 1617.1 1366.9 1617.1 1362.4C1617.1 1358.9 1617.6 1355.5 1618.2 1352.1C1618.7 1348.7 1620.1 1345.3 1621.3 1341.8C1622.8 1337.8 1626.5 1333.9 1626.6 1329.9C1626.8 1325.3 1626.8 1320.7 1626.8 1316.2Z"/>
<path fill="#238b45" d="M1651.8 1330.2C1652.2 1334.6 1652.4 1339.1 1653 1343.5C1653.6 1347.5 1655.2 1351.5 1656.2 1355.5C1657.4 1360.1 1659.2 1364.6 1659.9 1369.2C1660.7 1373.8 1661.5 1378.3 1661.5 1382.9C1661.5 1387.4 1661.5 1392 1661.5 1396.6C1661.5 1401.1 1660.6 1405.7 1659.9 1410.2C1659.3 1414.8 1658.1 1419.4 1657.3 1423.9C1656.5 1428.5 1655.8 1433 1655.2 1437.6C1654.6 1442.2 1654.1 1446.7 1653.6 1451.3C1653.1 1455.9 1652.2 1460.4 1652.2 1465C1652.2 1469.6 1653.1 1474.3 1653.6 1479L1648.3 1479C1648.7 1474.3 1649.6 1469.6 1649.6 1465C1649.6 1460.4 1648.8 1455.9 1648.3 1451.3C1647.8 1446.7 1647.3 1442.2 1646.7 1437.6C1646.1 1433 1645.3 1428.5 1644.6 1423.9C1643.8 1419.4 1642.6 1414.8 1641.9 1410.2C1641.2 1405.7 1640.3 1401.1 1640.3 1396.6C1640.3 1392 1640.3 1387.4 1640.3 1382.9C1640.3 1378.3 1641.2 1373.8 1641.9 1369.2C1642.7 1364.6 1644.4 1360.1 1645.6 1355.5C1646.7 1351.5 1648.2 1347.5 1648.8 1343.5C1649.4 1339.1 1649.6 1334.6 1650.1 1330.2Z"/>
<path fill="#d0d1e6" d="M1677.3 1325.3C1678.2 1329.6 1679.2 1333.9 1680 1338.1C1681 1343.8 1682 1349.5 1682.6 1355.2C1683.3 1360.9 1684 1366.6 1684.2 1372.3C1684.5 1378 1684.7 1383.7 1684.7 1389.4C1684.7 1395.1 1684.5 1400.9 1684.2 1406.6C1684 1412.3 1683.7 1418 1683.2 1423.7C1682.7 1429.4 1681.5 1435.1 1680.5 1440.8C1679.7 1445.3 1678.8 1449.9 1677.9 1454.4C1677.2 1457.9 1675.7 1461.3 1675.7 1464.7C1675.7 1469.4 1675.7 1474.2 1675.7 1478.9L1672.6 1478.9C1672.6 1474.2 1672.6 1469.4 1672.6 1464.7C1672.6 1461.3 1671.1 1457.9 1670.4 1454.4C1669.5 1449.9 1668.6 1445.3 1667.8 1440.8C1666.8 1435.1 1665.6 1429.4 1665.1 1423.7C1664.6 1418 1664.3 1412.3 1664.1 1406.6C1663.8 1400.9 1663.5 1395.1 1663.5 1389.4C1663.5 1383.7 1663.8 1378 1664.1 1372.3C1664.3 1366.6 1665 1360.9 1665.7 1355.2C1666.3 1349.5 1667.3 1343.8 1668.3 1338.1C1669.1 1333.9 1670.1 1329.6 1671 1325.3Z"/>
<path fill="#f7fcb9" d="M1699.5 1324.5C1700.2 1329 1700.8 1333.6 1701.6 1338.1C1702.6 1343.8 1703.8 1349.5 1704.8 1355.2C1705.8 1360.9 1707.1 1366.6 1707.4 1372.3C1707.7 1376.9 1708 1381.5 1708 1386C1708 1391.7 1707.7 1397.4 1707.4 1403.1C1707.2 1408.8 1706.7 1414.5 1706.4 1420.2C1706 1425.9 1705.9 1431.6 1705.3 1437.3C1704.9 1441.9 1703.7 1446.5 1702.7 1451C1701.8 1455 1700.1 1459 1699.5 1463C1699.1 1465.8 1698.6 1468.7 1698.6 1471.5C1698.6 1474 1699.2 1476.4 1699.5 1478.9L1695.2 1478.9C1695.5 1476.4 1696.1 1474 1696.1 1471.5C1696.1 1468.7 1695.7 1465.8 1695.2 1463C1694.7 1459 1693 1455 1692.1 1451C1691 1446.5 1689.9 1441.9 1689.4 1437.3C1688.9 1431.6 1688.7 1425.9 1688.4 1420.2C1688 1414.5 1687.5 1408.8 1687.3 1403.1C1687.1 1397.4 1686.8 1391.7 1686.8 1386C1686.8 1381.5 1687 1376.9 1687.3 1372.3C1687.6 1366.6 1689 1360.9 1689.9 1355.2C1690.9 1349.5 1692.2 1343.8 1693.1 1338.1C1693.9 1333.6 1694.5 1329 1695.2 1324.5Z"/>
<path fill="#ffffff" d="M1721.4 1259.8C1721.4 1263.7 1721.4 1267.6 1721.4 1271.4C1721.4 1275.4 1725.5 1279.4 1727 1283.4C1728.2 1286.8 1729.6 1290.3 1730.1 1293.7C1730.7 1297.1 1731.2 1300.5 1731.2 1303.9C1731.2 1307.4 1730.7 1310.8 1730.1 1314.2C1729.6 1317.6 1727.9 1321 1727 1324.5C1726 1327.9 1725.2 1331.3 1724.3 1334.7C1723.5 1338.1 1722.5 1341.6 1721.9 1345C1721.5 1347.3 1721 1349.5 1720.9 1351.8C1720.7 1360.9 1720.7 1370.1 1720.6 1379.2C1720.5 1370.1 1720.5 1360.9 1720.3 1351.8C1720.2 1349.5 1719.7 1347.3 1719.3 1345C1718.7 1341.6 1717.7 1338.1 1716.9 1334.7C1716 1331.3 1715.2 1327.9 1714.2 1324.5C1713.3 1321 1711.6 1317.6 1711.1 1314.2C1710.5 1310.8 1710 1307.4 1710 1303.9C1710 1300.5 1710.5 1297.1 1711.1 1293.7C1711.6 1290.3 1713 1286.8 1714.2 1283.4C1715.7 1279.4 1719.7 1275.4 1719.7 1271.4C1719.7 1267.6 1719.7 1263.7 1719.7 1259.8Z"/>
<path fill="#ffffff" d="M1745.4 1330.4C1746.3 1334.7 1747.1 1339 1748.1 1343.3C1749.3 1349 1751.4 1354.7 1752.3 1360.4C1753.2 1366.1 1754.4 1371.8 1754.4 1377.5C1754.4 1383.2 1753.8 1388.9 1753.4 1394.6C1752.9 1400.3 1752 1406 1751.8 1411.7C1751.5 1417.4 1751.2 1423.1 1751.2 1428.8C1751.2 1434.5 1751.2 1440.2 1751.2 1445.9C1751.2 1449.9 1749.3 1453.9 1748.6 1457.9C1748 1461.3 1747 1464.7 1747 1468.1C1747 1471.7 1747 1475.3 1747 1478.9L1740.6 1478.9C1740.6 1475.3 1740.6 1471.7 1740.6 1468.1C1740.6 1464.7 1739.7 1461.3 1739 1457.9C1738.3 1453.9 1736.4 1449.9 1736.4 1445.9C1736.4 1440.2 1736.4 1434.5 1736.4 1428.8C1736.4 1423.1 1736.1 1417.4 1735.9 1411.7C1735.6 1406 1734.7 1400.3 1734.3 1394.6C1733.9 1388.9 1733.2 1383.2 1733.2 1377.5C1733.2 1371.8 1734.4 1366.1 1735.3 1360.4C1736.3 1354.7 1738.3 1349 1739.6 1343.3C1740.5 1339 1741.3 1334.7 1742.2 1330.4Z"/>
<path fill="#d0d1e6" d="M1768.1 1321.4C1768.8 1325.8 1769.5 1330.3 1770.2 1334.7C1771.2 1340.4 1772.4 1346.1 1773.4 1351.8C1774.4 1357.5 1775.5 1363.2 1776.1 1368.9C1776.6 1374.6 1776.8 1380.3 1777.1 1386C1777.3 1390.6 1777.6 1395.1 1777.6 1399.7C1777.6 1405.4 1777.1 1411.1 1776.6 1416.8C1776.1 1422.5 1775.2 1428.2 1774.5 1433.9C1773.7 1439.6 1772.8 1445.3 1771.8 1451C1771 1455.6 1769.6 1460.1 1769.2 1464.7C1768.9 1467 1768.6 1469.3 1768.6 1471.5C1768.6 1474 1769 1476.4 1769.2 1478.9L1764.9 1478.9C1765.1 1476.4 1765.5 1474 1765.5 1471.5C1765.5 1469.3 1765.2 1467 1764.9 1464.7C1764.4 1460.1 1763.1 1455.6 1762.3 1451C1761.3 1445.3 1760.4 1439.6 1759.6 1433.9C1758.8 1428.2 1758 1422.5 1757.5 1416.8C1757 1411.1 1756.4 1405.4 1756.4 1399.7C1756.4 1395.1 1756.8 1390.6 1757 1386C1757.2 1380.3 1757.5 1374.6 1758 1368.9C1758.5 1363.2 1759.7 1357.5 1760.7 1351.8C1761.6 1346.1 1762.9 1340.4 1763.9 1334.7C1764.6 1330.3 1765.3 1325.8 1766 1321.4Z"/>
<path fill="#ffffff" d="M1792.4 1334.2C1793.4 1338.9 1794.5 1343.7 1795.6 1348.4C1796.8 1354.1 1798.5 1359.8 1799.3 1365.5C1800 1371.2 1800.9 1376.9 1800.9 1382.6C1800.9 1388.3 1800.6 1394 1800.3 1399.7C1800.1 1405.4 1799.3 1411.1 1798.7 1416.8C1798.2 1422.5 1797.7 1428.2 1797.2 1433.9C1796.6 1439.6 1796.3 1445.3 1795.6 1451C1795.1 1455 1794 1459 1793.4 1463C1793 1465.8 1792.4 1468.7 1792.4 1471.5C1792.4 1474 1792.7 1476.4 1792.9 1478.9L1787.6 1478.9C1787.8 1476.4 1788.1 1474 1788.1 1471.5C1788.1 1468.7 1787.5 1465.8 1787.1 1463C1786.5 1459 1785.5 1455 1785 1451C1784.3 1445.3 1783.9 1439.6 1783.4 1433.9C1782.8 1428.2 1782.3 1422.5 1781.8 1416.8C1781.3 1411.1 1780.5 1405.4 1780.2 1399.7C1779.9 1394 1779.7 1388.3 1779.7 1382.6C1779.7 1376.9 1780.5 1371.2 1781.3 1365.5C1782 1359.8 1783.7 1354.1 1785 1348.4C1786 1343.7 1787.1 1338.9 1788.1 1334.2Z"/>
<path fill="#238b45" d="M1814.6 1328.2C1815.1 1332.7 1815.4 1337.1 1816.1 1341.6C1816.9 1346.1 1819.8 1350.7 1820.9 1355.2C1822 1359.8 1823.3 1364.4 1823.6 1368.9C1823.9 1373.5 1824.1 1378 1824.1 1382.6C1824.1 1389.4 1823.6 1396.3 1823.6 1403.1C1823.6 1408.8 1824.1 1414.5 1824.1 1420.2C1824.1 1425.9 1823.2 1431.6 1822.5 1437.3C1821.9 1441.9 1820.8 1446.5 1819.9 1451C1819 1455 1817.6 1459 1817.2 1463C1816.9 1465.8 1816.7 1468.7 1816.7 1471.5C1816.7 1474 1816.7 1476.4 1816.7 1478.9L1810.3 1478.9C1810.3 1476.4 1810.3 1474 1810.3 1471.5C1810.3 1468.7 1810 1465.8 1809.8 1463C1809.4 1459 1808 1455 1807.1 1451C1806.2 1446.5 1805.1 1441.9 1804.5 1437.3C1803.8 1431.6 1802.9 1425.9 1802.9 1420.2C1802.9 1414.5 1803.4 1408.8 1803.4 1403.1C1803.4 1396.3 1802.9 1389.4 1802.9 1382.6C1802.9 1378 1803.1 1373.5 1803.4 1368.9C1803.7 1364.4 1804.9 1359.8 1806.1 1355.2C1807.2 1350.7 1810 1346.1 1810.8 1341.6C1811.6 1337.1 1811.9 1332.7 1812.4 1328.2Z"/>
<path fill="#ffffff" d="M1837.6 1276.6C1838.5 1280.6 1839.2 1284.6 1840.4 1288.5C1841.6 1292.5 1844.1 1296.5 1845.2 1300.5C1846.1 1303.9 1847.3 1307.4 1847.3 1310.8C1847.3 1314.2 1846.7 1317.6 1846.3 1321C1845.6 1325.6 1844.1 1330.2 1843.1 1334.7C1842 1339.3 1840.6 1343.8 1839.9 1348.4C1839.2 1353 1838.7 1357.5 1838.3 1362.1C1837.9 1367.2 1837.5 1372.3 1837.2 1377.5C1837.1 1380.3 1836.9 1383.2 1836.9 1386C1836.8 1417 1836.8 1447.9 1836.7 1478.9C1836.6 1447.9 1836.7 1417 1836.5 1386C1836.5 1383.2 1836.3 1380.3 1836.2 1377.5C1835.9 1372.3 1835.6 1367.2 1835.1 1362.1C1834.7 1357.5 1834.2 1353 1833.5 1348.4C1832.8 1343.8 1831.4 1339.3 1830.4 1334.7C1829.3 1330.2 1827.8 1325.6 1827.2 1321C1826.7 1317.6 1826.1 1314.2 1826.1 1310.8C1826.1 1307.4 1827.3 1303.9 1828.2 1300.5C1829.3 1296.5 1831.8 1292.5 1833 1288.5C1834.2 1284.6 1834.9 1280.6 1835.9 1276.6Z"/>
<path fill="#ffffff" d="M1860.8 1294.9C1861.6 1299.6 1862.2 1304.3 1863.1 1309.1C1864.1 1314.2 1865.6 1319.3 1866.8 1324.5C1867.9 1329 1869.6 1333.6 1870 1338.1C1870.3 1341 1870.5 1343.8 1870.5 1346.7C1870.5 1350.7 1869.2 1354.7 1868.4 1358.7C1867.5 1363.2 1866.2 1367.8 1865.2 1372.3C1864.3 1376.9 1863.2 1381.5 1862.6 1386C1861.9 1391.7 1861.3 1397.4 1861 1403.1C1860.7 1408.8 1860.3 1414.5 1860.3 1420.2C1860 1439.8 1860 1459.3 1859.9 1478.9C1859.8 1459.3 1859.8 1439.8 1859.6 1420.2C1859.6 1414.5 1859.2 1408.8 1858.9 1403.1C1858.5 1397.4 1858 1391.7 1857.3 1386C1856.7 1381.5 1855.6 1376.9 1854.6 1372.3C1853.7 1367.8 1852.4 1363.2 1851.5 1358.7C1850.7 1354.7 1849.3 1350.7 1849.3 1346.7C1849.3 1343.8 1849.6 1341 1849.9 1338.1C1850.3 1333.6 1852 1329 1853 1324.5C1854.3 1319.3 1855.8 1314.2 1856.8 1309.1C1857.7 1304.3 1858.3 1299.6 1859.1 1294.9Z"/>
<path fill="#addd8e" d="M1884 1280.3C1884.6 1284.2 1885 1288.1 1885.8 1292C1886.7 1296.5 1888.9 1301.1 1890.1 1305.6C1891.1 1309.6 1892.1 1313.6 1892.7 1317.6C1893.2 1321 1893.8 1324.5 1893.8 1327.9C1893.8 1332.4 1893.2 1337 1892.7 1341.6C1892.2 1346.1 1890.5 1350.7 1889.5 1355.2C1888.6 1359.8 1887.5 1364.4 1886.9 1368.9C1886.1 1374.6 1885.5 1380.3 1885.3 1386C1885 1391.7 1884.9 1397.4 1884.8 1403.1C1884.6 1408.8 1884.4 1414.5 1884.2 1420.2C1884 1425.9 1883.8 1431.6 1883.7 1437.3C1883.4 1451.2 1883.3 1465 1883.2 1478.9C1883 1465 1882.9 1451.2 1882.6 1437.3C1882.5 1431.6 1882.3 1425.9 1882.1 1420.2C1881.9 1414.5 1881.8 1408.8 1881.6 1403.1C1881.4 1397.4 1881.3 1391.7 1881 1386C1880.8 1380.3 1880.2 1374.6 1879.5 1368.9C1878.9 1364.4 1877.8 1359.8 1876.8 1355.2C1875.8 1350.7 1874.2 1346.1 1873.6 1341.6C1873.1 1337 1872.6 1332.4 1872.6 1327.9C1872.6 1324.5 1873.1 1321 1873.6 1317.6C1874.2 1313.6 1875.2 1309.6 1876.3 1305.6C1877.4 1301.1 1879.6 1296.5 1880.5 1292C1881.3 1288.1 1881.7 1284.2 1882.3 1280.3Z"/>
<path fill="#d0d1e6" d="M1907.2 1258.6C1908.2 1262.3 1908.9 1266 1910.1 1269.7C1911.2 1273.1 1913.9 1276.6 1914.9 1280C1915.8 1283.4 1917 1286.8 1917 1290.3C1917 1293.7 1916.7 1297.1 1916.5 1300.5C1916.1 1305.1 1914.7 1309.6 1913.8 1314.2C1912.9 1318.8 1911.9 1323.3 1911.2 1327.9C1910.3 1333.6 1909.6 1339.3 1909 1345C1908.4 1350.7 1907.8 1356.4 1907.4 1362.1C1907.1 1367.8 1906.8 1373.5 1906.7 1379.2C1906.5 1402.8 1906.5 1426.5 1906.4 1450.2C1906.3 1426.5 1906.3 1402.8 1906.1 1379.2C1906 1373.5 1905.7 1367.8 1905.3 1362.1C1905 1356.4 1904.3 1350.7 1903.7 1345C1903.1 1339.3 1902.5 1333.6 1901.6 1327.9C1900.9 1323.3 1899.9 1318.8 1899 1314.2C1898.1 1309.6 1896.7 1305.1 1896.3 1300.5C1896 1297.1 1895.8 1293.7 1895.8 1290.3C1895.8 1286.8 1896.9 1283.4 1897.9 1280C1898.9 1276.6 1901.5 1273.1 1902.7 1269.7C1903.9 1266 1904.6 1262.3 1905.5 1258.6Z"/>
<path fill="#6a51a3" d="M1930.5 1274.9C1931.4 1279.4 1932.2 1284 1933.3 1288.5C1934.5 1293.1 1936.4 1297.7 1937.6 1302.2C1938.6 1306.2 1940.2 1310.2 1940.2 1314.2C1940.2 1318.8 1940.2 1323.3 1940.2 1327.9C1940.2 1332.4 1939.3 1337 1938.6 1341.6C1938 1346.1 1936.8 1350.7 1936 1355.2C1935.2 1359.8 1934.5 1364.4 1933.9 1368.9C1933.1 1374.6 1932.2 1380.3 1931.7 1386C1931.3 1391.7 1930.9 1397.4 1930.7 1403.1C1930.4 1411.7 1930.3 1420.2 1930.1 1428.8C1929.9 1445.5 1929.8 1462.2 1929.6 1478.9C1929.4 1462.2 1929.3 1445.5 1929.1 1428.8C1929 1420.2 1928.8 1411.7 1928.6 1403.1C1928.4 1397.4 1928 1391.7 1927.5 1386C1927 1380.3 1926.2 1374.6 1925.4 1368.9C1924.7 1364.4 1924 1359.8 1923.3 1355.2C1922.5 1350.7 1921.3 1346.1 1920.6 1341.6C1919.9 1337 1919 1332.4 1919 1327.9C1919 1323.3 1919 1318.8 1919 1314.2C1919 1310.2 1920.6 1306.2 1921.7 1302.2C1922.8 1297.7 1924.8 1293.1 1925.9 1288.5C1927 1284 1927.8 1279.4 1928.8 1274.9Z"/>
<path fill="#d0d1e6" d="M1953.7 1273.1C1954.8 1277.7 1955.8 1282.3 1957.1 1286.8C1958.4 1291.4 1960.9 1296 1961.8 1300.5C1962.6 1303.9 1963.4 1307.4 1963.4 1310.8C1963.4 1314.2 1962.8 1317.6 1962.4 1321C1961.8 1325.6 1960.6 1330.2 1959.7 1334.7C1958.8 1339.3 1957.9 1343.8 1957.1 1348.4C1956.3 1353 1955.4 1357.5 1955 1362.1C1954.4 1367.8 1953.9 1373.5 1953.7 1379.2C1953.4 1387.2 1953.2 1395.1 1953.2 1403.1C1953 1428.4 1952.9 1453.6 1952.8 1478.9C1952.7 1453.6 1952.7 1428.4 1952.5 1403.1C1952.5 1395.1 1952.3 1387.2 1952 1379.2C1951.8 1373.5 1951.3 1367.8 1950.7 1362.1C1950.3 1357.5 1949.4 1353 1948.6 1348.4C1947.8 1343.8 1946.8 1339.3 1945.9 1334.7C1945.1 1330.2 1943.9 1325.6 1943.3 1321C1942.8 1317.6 1942.2 1314.2 1942.2 1310.8C1942.2 1307.4 1943.1 1303.9 1943.8 1300.5C1944.8 1296 1947.3 1291.4 1948.6 1286.8C1949.9 1282.3 1950.9 1277.7 1952 1273.1Z"/>
<path fill="#ffffff" d="M1976.9 1221.8C1977.3 1226.4 1977.5 1231 1978.2 1235.5C1978.8 1240.1 1981.6 1244.6 1983 1249.2C1984.1 1253.2 1985.7 1257.2 1986.1 1261.2C1986.4 1264 1986.7 1266.9 1986.7 1269.7C1986.7 1273.1 1985.8 1276.6 1985.1 1280C1984.3 1284 1982.4 1288 1981.4 1292C1980.3 1296 1979.3 1299.9 1978.7 1303.9C1978 1308.5 1977.6 1313.1 1977.1 1317.6C1976.8 1320.5 1976.4 1323.3 1976.4 1326.2C1976.1 1352.4 1976.2 1378.6 1976.1 1404.8C1976 1378.6 1976 1352.4 1975.7 1326.2C1975.7 1323.3 1975.3 1320.5 1975 1317.6C1974.6 1313.1 1974.1 1308.5 1973.4 1303.9C1972.8 1299.9 1971.8 1296 1970.8 1292C1969.7 1288 1967.9 1284 1967.1 1280C1966.3 1276.6 1965.5 1273.1 1965.5 1269.7C1965.5 1266.9 1965.7 1264 1966 1261.2C1966.4 1257.2 1968 1253.2 1969.2 1249.2C1970.5 1244.6 1973.3 1240.1 1973.9 1235.5C1974.6 1231 1974.8 1226.4 1975.2 1221.8Z"/>
<path fill="#1d91c0" d="M95.2 1674.3C96.3 1675.8 97.4 1677.3 98.5 1678.7C99.6 1680.2 101.1 1681.6 102 1683C102.9 1684.4 103.8 1685.8 104.4 1687.2C104.8 1688.2 105.1 1689.2 105.3 1690.2C105.4 1690.8 105.5 1691.4 105.5 1692C105.5 1693 105.3 1694.1 105.2 1695.2C105 1696.4 104.7 1697.6 104.3 1698.8C103.5 1701.1 101.7 1703.4 100.6 1705.6C99.5 1707.9 98.4 1710.2 97.6 1712.5C96.7 1714.8 96.1 1717 95.3 1719.3L94.5 1719.3C93.7 1717 93.1 1714.8 92.2 1712.5C91.4 1710.2 90.3 1707.9 89.2 1705.6C88.1 1703.4 86.3 1701.1 85.5 1698.8C85.1 1697.6 84.8 1696.4 84.6 1695.2C84.5 1694.1 84.3 1693 84.3 1692C84.3 1691.4 84.4 1690.8 84.5 1690.2C84.7 1689.2 85 1688.2 85.4 1687.2C86 1685.8 86.9 1684.4 87.8 1683C88.7 1681.6 90.2 1680.2 91.3 1678.7C92.4 1677.3 93.5 1675.8 94.6 1674.3Z"/>
<path fill="#ffffff" d="M118.4 1650.4C119.5 1651.4 120.6 1652.3 121.7 1653.3C122.8 1654.2 124.3 1655.2 125.2 1656.1C126.2 1657 127 1658 127.6 1658.9C128 1659.5 128.4 1660.2 128.5 1660.9C128.6 1661.2 128.7 1661.6 128.7 1662C128.7 1662.7 128.6 1663.5 128.4 1664.2C128.3 1665 127.9 1665.7 127.5 1666.5C126.7 1668 124.9 1669.5 123.8 1671C122.7 1672.5 121.6 1674 120.8 1675.5C119.9 1677 119.3 1678.5 118.5 1680L117.7 1680C117 1678.5 116.3 1677 115.5 1675.5C114.6 1674 113.5 1672.5 112.4 1671C111.3 1669.5 109.5 1668 108.7 1666.5C108.3 1665.7 108 1665 107.8 1664.2C107.7 1663.5 107.5 1662.7 107.5 1662C107.5 1661.6 107.6 1661.2 107.7 1660.9C107.9 1660.2 108.3 1659.5 108.7 1658.9C109.2 1658 110.1 1657 111 1656.1C112 1655.2 113.4 1654.2 114.5 1653.3C115.7 1652.3 116.7 1651.4 117.8 1650.4Z"/>
<path fill="#ffffff" d="M141.7 1638.6C142.8 1639.6 143.8 1640.6 145 1641.7C146.1 1642.7 147.5 1643.6 148.5 1644.6C149.4 1645.6 150.3 1646.6 150.8 1647.6C151.2 1648.3 151.6 1649 151.7 1649.7C151.8 1650.1 151.9 1650.5 151.9 1650.9C151.9 1651.5 151.8 1652 151.6 1652.5C151.5 1653.1 151.1 1653.7 150.7 1654.3C150 1655.5 148.2 1656.6 147.1 1657.7C146 1658.9 144.9 1660 144 1661.2C143.2 1662.3 142.5 1663.4 141.8 1664.6L140.9 1664.6C140.2 1663.4 139.5 1662.3 138.7 1661.2C137.8 1660 136.7 1658.9 135.6 1657.7C134.5 1656.6 132.7 1655.5 132 1654.3C131.6 1653.7 131.2 1653.1 131.1 1652.5C130.9 1652 130.7 1651.5 130.7 1650.9C130.7 1650.5 130.9 1650.1 131 1649.7C131.1 1649 131.5 1648.3 131.9 1647.6C132.4 1646.6 133.3 1645.6 134.2 1644.6C135.2 1643.6 136.6 1642.7 137.7 1641.7C138.9 1640.6 139.9 1639.6 141 1638.6Z"/>
<path fill="#f7fcb9" d="M164.9 1690.6C166 1692.4 167 1694.2 168.2 1696.1C169.3 1697.8 170.7 1699.6 171.7 1701.3C172.6 1703.1 173.5 1704.8 174 1706.6C174.4 1707.8 174.8 1709 175 1710.3C175.1 1711 175.2 1711.7 175.2 1712.5C175.2 1714.5 175 1716.4 174.9 1718.4C174.7 1720.6 174.3 1722.7 174 1724.9C173.2 1729 171.4 1733.1 170.3 1737.3C169.2 1741.4 168.1 1745.5 167.2 1749.7C166.4 1753.8 165.7 1757.9 165 1762.1L164.1 1762.1C163.4 1757.9 162.8 1753.8 161.9 1749.7C161 1745.5 160 1741.4 158.9 1737.3C157.7 1733.1 156 1729 155.2 1724.9C154.8 1722.7 154.4 1720.6 154.3 1718.4C154.1 1716.4 154 1714.5 154 1712.5C154 1711.7 154.1 1711 154.2 1710.3C154.3 1709 154.7 1707.8 155.1 1706.6C155.7 1704.8 156.5 1703.1 157.5 1701.3C158.4 1699.6 159.9 1697.8 161 1696.1C162.1 1694.2 163.2 1692.4 164.3 1690.6Z"/>
<path fill="#1d91c0" d="M188.1 1661.2C189.2 1662.7 190.3 1664.3 191.4 1665.9C192.5 1667.4 194 1668.9 194.9 1670.4C195.8 1671.9 196.7 1673.4 197.3 1674.9C197.7 1676 198 1677 198.2 1678.1C198.3 1678.7 198.4 1679.4 198.4 1680C198.4 1680.9 198.2 1681.8 198.1 1682.6C197.9 1683.6 197.6 1684.6 197.2 1685.5C196.4 1687.4 194.6 1689.2 193.5 1691.1C192.4 1693 191.3 1694.8 190.5 1696.7C189.6 1698.5 189 1700.4 188.2 1702.2L187.4 1702.2C186.6 1700.4 186 1698.5 185.1 1696.7C184.3 1694.8 183.2 1693 182.1 1691.1C181 1689.2 179.2 1687.4 178.4 1685.5C178 1684.6 177.7 1683.6 177.5 1682.6C177.4 1681.8 177.2 1680.9 177.2 1680C177.2 1679.4 177.3 1678.7 177.4 1678.1C177.6 1677 177.9 1676 178.3 1674.9C178.9 1673.4 179.8 1671.9 180.7 1670.4C181.6 1668.9 183.1 1667.4 184.2 1665.9C185.3 1664.3 186.4 1662.7 187.5 1661.2Z"/>
<path fill="#f7fcb9" d="M211.3 1676.6C212.4 1679 213.5 1681.4 214.6 1683.8C215.7 1686.2 217.2 1688.5 218.1 1690.8C219.1 1693.1 219.9 1695.5 220.5 1697.8C220.9 1699.4 221.3 1701.1 221.4 1702.7C221.5 1703.7 221.6 1704.7 221.6 1705.6C221.6 1707.3 221.5 1709.1 221.3 1710.8C221.2 1712.6 220.8 1714.5 220.4 1716.3C219.6 1719.9 217.8 1723.5 216.7 1727C215.6 1730.6 214.5 1734.1 213.7 1737.7C212.8 1741.3 212.2 1744.8 211.4 1748.4L210.6 1748.4C209.9 1744.8 209.2 1741.3 208.4 1737.7C207.5 1734.1 206.4 1730.6 205.3 1727C204.2 1723.5 202.4 1719.9 201.6 1716.3C201.2 1714.5 200.9 1712.6 200.7 1710.8C200.6 1709.1 200.4 1707.3 200.4 1705.6C200.4 1704.7 200.5 1703.7 200.6 1702.7C200.8 1701.1 201.2 1699.4 201.6 1697.8C202.1 1695.5 203 1693.1 203.9 1690.8C204.9 1688.5 206.3 1686.2 207.4 1683.8C208.6 1681.4 209.6 1679 210.7 1676.6Z"/>
<path fill="#fcc5c0" d="M234.6 1666.3C235.7 1668 236.7 1669.7 237.9 1671.4C239 1673.1 240.4 1674.7 241.3 1676.4C242.3 1678 243.2 1679.6 243.7 1681.3C244.1 1682.4 244.5 1683.6 244.6 1684.8C244.7 1685.5 244.8 1686.1 244.8 1686.8C244.8 1687.8 244.7 1688.7 244.5 1689.7C244.4 1690.7 244 1691.8 243.6 1692.8C242.9 1694.8 241.1 1696.8 240 1698.8C238.9 1700.8 237.8 1702.8 236.9 1704.8C236 1706.8 235.4 1708.8 234.7 1710.8L233.8 1710.8C233.1 1708.8 232.4 1706.8 231.6 1704.8C230.7 1702.8 229.6 1700.8 228.5 1698.8C227.4 1696.8 225.6 1694.8 224.9 1692.8C224.5 1691.8 224.1 1690.7 224 1689.7C223.8 1688.7 223.6 1687.8 223.6 1686.8C223.6 1686.1 223.8 1685.5 223.9 1684.8C224 1683.6 224.4 1682.4 224.8 1681.3C225.3 1679.6 226.2 1678 227.1 1676.4C228.1 1674.7 229.5 1673.1 230.6 1671.4C231.8 1669.7 232.8 1668 233.9 1666.3Z"/>
<path fill="#ffffff" d="M257.8 1680.8C258.9 1682.9 259.9 1685 261.1 1687C262.2 1689 263.6 1691 264.6 1693C265.5 1695 266.4 1697 266.9 1698.9C267.3 1700.3 267.7 1701.8 267.9 1703.2C268 1704 268.1 1704.8 268.1 1705.6C268.1 1706.9 267.9 1708.2 267.8 1709.5C267.6 1710.9 267.2 1712.4 266.8 1713.8C266.1 1716.5 264.3 1719.2 263.2 1721.9C262.1 1724.6 261 1727.3 260.1 1730C259.3 1732.7 258.6 1735.4 257.9 1738.1L257 1738.1C256.3 1735.4 255.7 1732.7 254.8 1730C253.9 1727.3 252.9 1724.6 251.8 1721.9C250.6 1719.2 248.9 1716.5 248.1 1713.8C247.7 1712.4 247.3 1710.9 247.2 1709.5C247 1708.2 246.9 1706.9 246.9 1705.6C246.9 1704.8 247 1704 247.1 1703.2C247.2 1701.8 247.6 1700.3 248 1698.9C248.6 1697 249.4 1695 250.4 1693C251.3 1691 252.8 1689 253.9 1687C255 1685 256.1 1682.9 257.2 1680.8Z"/>
<path fill="#ffffff" d="M281 1686.3C282.1 1688.8 283.1 1691.2 284.3 1693.7C285.4 1696.1 286.9 1698.4 287.8 1700.8C288.7 1703.2 289.6 1705.5 290.2 1707.9C290.6 1709.6 290.9 1711.3 291.1 1712.9C291.2 1713.9 291.3 1714.9 291.3 1715.9C291.3 1717.7 291.1 1719.6 291 1721.4C290.8 1723.4 290.5 1725.4 290.1 1727.4C289.3 1731.3 287.5 1735.1 286.4 1739C285.3 1742.8 284.2 1746.7 283.4 1750.5C282.5 1754.4 281.9 1758.2 281.1 1762.1L280.3 1762.1C279.5 1758.2 278.9 1754.4 278 1750.5C277.2 1746.7 276.1 1742.8 275 1739C273.9 1735.1 272.1 1731.3 271.3 1727.4C270.9 1725.4 270.6 1723.4 270.4 1721.4C270.3 1719.6 270.1 1717.7 270.1 1715.9C270.1 1714.9 270.2 1713.9 270.3 1712.9C270.5 1711.3 270.8 1709.6 271.2 1707.9C271.8 1705.5 272.6 1703.2 273.6 1700.8C274.5 1698.4 276 1696.1 277.1 1693.7C278.2 1691.2 279.3 1688.8 280.4 1686.3Z"/>
<path fill="#fcc5c0" d="M304.2 1656C305.3 1657.7 306.4 1659.5 307.5 1661.2C308.6 1662.8 310.1 1664.5 311 1666.1C312 1667.7 312.8 1669.4 313.4 1671C313.8 1672.2 314.1 1673.3 314.3 1674.5C314.4 1675.2 314.5 1675.9 314.5 1676.6C314.5 1677.3 314.4 1678.1 314.2 1678.8C314.1 1679.6 313.7 1680.4 313.3 1681.3C312.5 1682.8 310.7 1684.4 309.6 1686C308.5 1687.5 307.4 1689.1 306.6 1690.7C305.7 1692.2 305.1 1693.8 304.3 1695.4L303.5 1695.4C302.7 1693.8 302.1 1692.2 301.3 1690.7C300.4 1689.1 299.3 1687.5 298.2 1686C297.1 1684.4 295.3 1682.8 294.5 1681.3C294.1 1680.4 293.8 1679.6 293.6 1678.8C293.5 1678.1 293.3 1677.3 293.3 1676.6C293.3 1675.9 293.4 1675.2 293.5 1674.5C293.7 1673.3 294.1 1672.2 294.4 1671C295 1669.4 295.9 1667.7 296.8 1666.1C297.8 1664.5 299.2 1662.8 300.3 1661.2C301.5 1659.5 302.5 1657.7 303.6 1656Z"/>
<path fill="#addd8e" d="M327.5 1654.3C328.6 1655.8 329.6 1657.2 330.8 1658.6C331.9 1660 333.3 1661.3 334.2 1662.7C335.2 1664.1 336.1 1665.4 336.6 1666.8C337 1667.8 337.4 1668.8 337.5 1669.7C337.6 1670.3 337.7 1670.9 337.7 1671.4C337.7 1672 337.6 1672.7 337.4 1673.3C337.3 1673.9 336.9 1674.6 336.5 1675.3C335.8 1676.6 334 1677.8 332.9 1679.1C331.7 1680.4 330.7 1681.7 329.8 1683C328.9 1684.3 328.3 1685.5 327.6 1686.8L326.7 1686.8C326 1685.5 325.3 1684.3 324.5 1683C323.6 1681.7 322.5 1680.4 321.4 1679.1C320.3 1677.8 318.5 1676.6 317.8 1675.3C317.4 1674.6 317 1673.9 316.8 1673.3C316.7 1672.7 316.5 1672 316.5 1671.4C316.5 1670.9 316.7 1670.3 316.7 1669.7C316.9 1668.8 317.3 1667.8 317.7 1666.8C318.2 1665.4 319.1 1664.1 320 1662.7C321 1661.3 322.4 1660 323.5 1658.6C324.7 1657.2 325.7 1655.8 326.8 1654.3Z"/>
<path fill="#ffffff" d="M350.7 1676.6C351.8 1678.3 352.8 1680 354 1681.7C355.1 1683.3 356.5 1685 357.5 1686.6C358.4 1688.3 359.3 1689.9 359.8 1691.5C360.2 1692.7 360.6 1693.9 360.8 1695C360.9 1695.7 361 1696.4 361 1697.1C361 1698.5 360.8 1700 360.7 1701.4C360.5 1703 360.1 1704.5 359.7 1706.1C359 1709.1 357.2 1712 356.1 1715C355 1718 353.9 1721 353 1724C352.2 1727 351.5 1730 350.8 1733L349.9 1733C349.2 1730 348.6 1727 347.7 1724C346.8 1721 345.8 1718 344.7 1715C343.5 1712 341.8 1709.1 341 1706.1C340.6 1704.5 340.2 1703 340.1 1701.4C339.9 1700 339.8 1698.5 339.8 1697.1C339.8 1696.4 339.9 1695.7 340 1695C340.1 1693.9 340.5 1692.7 340.9 1691.5C341.4 1689.9 342.3 1688.3 343.3 1686.6C344.2 1685 345.7 1683.3 346.8 1681.7C347.9 1680 349 1678.3 350 1676.6Z"/>
<path fill="#fcc5c0" d="M373.9 1618.4C375 1619.1 376 1619.7 377.2 1620.3C378.3 1621 379.8 1621.6 380.7 1622.2C381.6 1622.8 382.5 1623.4 383.1 1624C383.5 1624.5 383.8 1624.9 384 1625.3C384.1 1625.6 384.2 1625.9 384.2 1626.1C384.2 1626.4 384 1626.7 383.9 1627C383.7 1627.4 383.4 1627.7 383 1628C382.2 1628.7 380.4 1629.3 379.3 1630C378.2 1630.6 377.1 1631.2 376.3 1631.9C375.4 1632.5 374.8 1633.2 374 1633.8L373.2 1633.8C372.4 1633.2 371.8 1632.5 370.9 1631.9C370.1 1631.2 369 1630.6 367.9 1630C366.8 1629.3 365 1628.7 364.2 1628C363.8 1627.7 363.5 1627.4 363.3 1627C363.1 1626.7 363 1626.4 363 1626.1C363 1625.9 363.1 1625.6 363.2 1625.3C363.4 1624.9 363.7 1624.5 364.1 1624C364.7 1623.4 365.5 1622.8 366.5 1622.2C367.4 1621.6 368.9 1621 370 1620.3C371.1 1619.7 372.2 1619.1 373.3 1618.4Z"/>
<path fill="#f7fcb9" d="M397.1 1668.5C398.2 1670.3 399.3 1672.1 400.4 1674C401.5 1675.7 403 1677.4 403.9 1679.2C404.9 1680.9 405.7 1682.6 406.3 1684.4C406.7 1685.6 407 1686.8 407.2 1688.1C407.3 1688.8 407.4 1689.5 407.4 1690.2C407.4 1691.5 407.3 1692.8 407.1 1694.1C406.9 1695.6 406.6 1697 406.2 1698.4C405.4 1701.1 403.6 1703.8 402.5 1706.5C401.4 1709.2 400.3 1711.9 399.5 1714.6C398.6 1717.3 398 1720 397.2 1722.7L396.4 1722.7C395.6 1720 395 1717.3 394.2 1714.6C393.3 1711.9 392.2 1709.2 391.1 1706.5C390 1703.8 388.2 1701.1 387.4 1698.4C387 1697 386.7 1695.6 386.5 1694.1C386.4 1692.8 386.2 1691.5 386.2 1690.2C386.2 1689.5 386.3 1688.8 386.4 1688.1C386.6 1686.8 387 1685.6 387.3 1684.4C387.9 1682.6 388.8 1680.9 389.7 1679.2C390.7 1677.4 392.1 1675.7 393.2 1674C394.4 1672.1 395.4 1670.3 396.5 1668.5Z"/>
<path fill="#ffffff" d="M420.4 1688.5C421.5 1690.8 422.5 1693.1 423.6 1695.4C424.8 1697.6 426.2 1699.8 427.1 1701.9C428.1 1704.1 429 1706.3 429.5 1708.5C429.9 1710.1 430.3 1711.6 430.4 1713.2C430.5 1714.1 430.6 1715 430.6 1715.9C430.6 1717.8 430.5 1719.7 430.3 1721.6C430.2 1723.7 429.8 1725.8 429.4 1727.9C428.7 1731.9 426.9 1735.9 425.8 1739.8C424.6 1743.8 423.6 1747.8 422.7 1751.8C421.8 1755.8 421.2 1759.8 420.5 1763.8L419.6 1763.8C418.9 1759.8 418.2 1755.8 417.4 1751.8C416.5 1747.8 415.4 1743.8 414.3 1739.8C413.2 1735.9 411.4 1731.9 410.7 1727.9C410.3 1725.8 409.9 1723.7 409.7 1721.6C409.6 1719.7 409.4 1717.8 409.4 1715.9C409.4 1715 409.5 1714.1 409.6 1713.2C409.8 1711.6 410.2 1710.1 410.6 1708.5C411.1 1706.3 412 1704.1 412.9 1701.9C413.9 1699.8 415.3 1697.6 416.4 1695.4C417.6 1693.1 418.6 1690.8 419.7 1688.5Z"/>
<path fill="#f7fcb9" d="M443.6 1707.3C444.7 1711.2 445.7 1715 446.9 1718.9C448 1722.6 449.4 1726.3 450.4 1730C451.3 1733.7 452.2 1737.4 452.7 1741.1C453.1 1743.7 453.5 1746.3 453.7 1748.9C453.8 1750.4 453.9 1752 453.9 1753.5C453.9 1754.3 453.7 1755.2 453.6 1756C453.4 1756.9 453 1757.8 452.6 1758.7C451.9 1760.4 450.1 1762.1 449 1763.8C447.9 1765.5 446.8 1767.2 445.9 1768.9C445.1 1770.6 444.4 1772.3 443.7 1774L442.8 1774C442.1 1772.3 441.5 1770.6 440.6 1768.9C439.7 1767.2 438.7 1765.5 437.5 1763.8C436.4 1762.1 434.6 1760.4 433.9 1758.7C433.5 1757.8 433.1 1756.9 433 1756C432.8 1755.2 432.7 1754.3 432.7 1753.5C432.7 1752 432.8 1750.4 432.9 1748.9C433 1746.3 433.4 1743.7 433.8 1741.1C434.3 1737.4 435.2 1733.7 436.2 1730C437.1 1726.3 438.5 1722.6 439.7 1718.9C440.8 1715 441.8 1711.2 442.9 1707.3Z"/>
<path fill="#ffffff" d="M466.8 1638.6C467.9 1640 468.9 1641.5 470.1 1643C471.2 1644.3 472.7 1645.7 473.6 1647.1C474.5 1648.5 475.4 1649.9 476 1651.3C476.3 1652.3 476.7 1653.3 476.9 1654.3C477 1654.9 477.1 1655.5 477.1 1656C477.1 1657.1 476.9 1658.1 476.8 1659.1C476.6 1660.2 476.3 1661.3 475.9 1662.5C475.1 1664.6 473.3 1666.7 472.2 1668.9C471.1 1671 470 1673.1 469.1 1675.3C468.3 1677.4 467.7 1679.6 466.9 1681.7L466.1 1681.7C465.3 1679.6 464.7 1677.4 463.8 1675.3C463 1673.1 461.9 1671 460.8 1668.9C459.7 1666.7 457.9 1664.6 457.1 1662.5C456.7 1661.3 456.4 1660.2 456.2 1659.1C456 1658.1 455.9 1657.1 455.9 1656C455.9 1655.5 456 1654.9 456.1 1654.3C456.3 1653.3 456.6 1652.3 457 1651.3C457.6 1649.9 458.4 1648.5 459.4 1647.1C460.3 1645.7 461.8 1644.3 462.9 1643C464 1641.5 465.1 1640 466.2 1638.6Z"/>
<path fill="#fcc5c0" d="M490 1681.7C491.1 1684.3 492.2 1686.8 493.3 1689.4C494.4 1691.9 495.9 1694.3 496.8 1696.8C497.8 1699.2 498.6 1701.7 499.2 1704.2C499.6 1705.9 499.9 1707.7 500.1 1709.4C500.2 1710.4 500.3 1711.5 500.3 1712.5C500.3 1714.5 500.2 1716.4 500 1718.4C499.8 1720.6 499.5 1722.7 499.1 1724.9C498.3 1729 496.5 1733.1 495.4 1737.3C494.3 1741.4 493.2 1745.5 492.4 1749.7C491.5 1753.8 490.9 1757.9 490.1 1762.1L489.3 1762.1C488.5 1757.9 487.9 1753.8 487 1749.7C486.2 1745.5 485.1 1741.4 484 1737.3C482.9 1733.1 481.1 1729 480.3 1724.9C479.9 1722.7 479.6 1720.6 479.4 1718.4C479.3 1716.4 479.1 1714.5 479.1 1712.5C479.1 1711.5 479.2 1710.4 479.3 1709.4C479.5 1707.7 479.9 1705.9 480.2 1704.2C480.8 1701.7 481.7 1699.2 482.6 1696.8C483.5 1694.3 485 1691.9 486.1 1689.4C487.3 1686.8 488.3 1684.3 489.4 1681.7Z"/>
<path fill="#f7fcb9" d="M513.3 1649.2C514.4 1650.6 515.4 1652 516.5 1653.5C517.7 1654.8 519.1 1656.2 520 1657.6C521 1658.9 521.9 1660.3 522.4 1661.7C522.8 1662.7 523.2 1663.6 523.3 1664.6C523.4 1665.2 523.5 1665.7 523.5 1666.3C523.5 1667.1 523.4 1667.8 523.2 1668.6C523.1 1669.4 522.7 1670.2 522.3 1671C521.5 1672.6 519.8 1674.1 518.7 1675.7C517.5 1677.3 516.5 1678.8 515.6 1680.4C514.7 1682 514.1 1683.5 513.4 1685.1L512.5 1685.1C511.8 1683.5 511.1 1682 510.3 1680.4C509.4 1678.8 508.3 1677.3 507.2 1675.7C506.1 1674.1 504.3 1672.6 503.6 1671C503.2 1670.2 502.8 1669.4 502.6 1668.6C502.5 1667.8 502.3 1667.1 502.3 1666.3C502.3 1665.7 502.4 1665.2 502.5 1664.6C502.7 1663.6 503.1 1662.7 503.5 1661.7C504 1660.3 504.9 1658.9 505.8 1657.6C506.8 1656.2 508.2 1654.8 509.3 1653.5C510.5 1652 511.5 1650.6 512.6 1649.2Z"/>
<path fill="#ffffff" d="M536.5 1674.3C537.6 1676.7 538.6 1679 539.8 1681.3C540.9 1683.5 542.3 1685.8 543.3 1688C544.2 1690.2 545.1 1692.5 545.6 1694.7C546 1696.3 546.4 1697.8 546.6 1699.4C546.6 1700.4 546.8 1701.3 546.8 1702.2C546.8 1703.5 546.6 1704.8 546.5 1706.1C546.3 1707.5 545.9 1708.9 545.5 1710.3C544.8 1713 543 1715.8 541.9 1718.5C540.8 1721.2 539.7 1723.9 538.8 1726.6C538 1729.3 537.3 1732 536.6 1734.7L535.7 1734.7C535 1732 534.4 1729.3 533.5 1726.6C532.6 1723.9 531.6 1721.2 530.4 1718.5C529.3 1715.8 527.5 1713 526.8 1710.3C526.4 1708.9 526 1707.5 525.9 1706.1C525.7 1704.8 525.6 1703.5 525.6 1702.2C525.6 1701.3 525.7 1700.4 525.8 1699.4C525.9 1697.8 526.3 1696.3 526.7 1694.7C527.2 1692.5 528.1 1690.2 529.1 1688C530 1685.8 531.4 1683.5 532.6 1681.3C533.7 1679 534.7 1676.7 535.8 1674.3Z"/>
<path fill="#fcc5c0" d="M559.7 1672.6C560.8 1674.5 561.8 1676.4 563 1678.3C564.1 1680.1 565.5 1682 566.5 1683.8C567.4 1685.6 568.3 1687.4 568.9 1689.2C569.2 1690.5 569.6 1691.8 569.8 1693.1C569.9 1693.9 570 1694.6 570 1695.4C570 1696.7 569.8 1698 569.7 1699.3C569.5 1700.7 569.2 1702.1 568.8 1703.5C568 1706.2 566.2 1708.9 565.1 1711.6C564 1714.3 562.9 1717 562 1719.7C561.2 1722.5 560.6 1725.2 559.8 1727.9L559 1727.9C558.2 1725.2 557.6 1722.5 556.7 1719.7C555.9 1717 554.8 1714.3 553.7 1711.6C552.6 1708.9 550.8 1706.2 550 1703.5C549.6 1702.1 549.3 1700.7 549.1 1699.3C548.9 1698 548.8 1696.7 548.8 1695.4C548.8 1694.6 548.9 1693.9 549 1693.1C549.2 1691.8 549.5 1690.5 549.9 1689.2C550.5 1687.4 551.3 1685.6 552.3 1683.8C553.2 1682 554.7 1680.1 555.8 1678.3C556.9 1676.4 558 1674.5 559.1 1672.6Z"/>
<path fill="#f7fcb9" d="M582.9 1662.9C584 1664.6 585.1 1666.3 586.2 1668C587.3 1669.7 588.8 1671.3 589.7 1672.9C590.7 1674.6 591.5 1676.2 592.1 1677.9C592.5 1679 592.8 1680.2 593 1681.3C593.1 1682 593.2 1682.7 593.2 1683.4C593.2 1684.3 593.1 1685.2 592.9 1686.1C592.7 1687 592.4 1688 592 1689C591.2 1690.8 589.4 1692.7 588.3 1694.5C587.2 1696.4 586.1 1698.2 585.3 1700.1C584.4 1701.9 583.8 1703.8 583 1705.6L582.2 1705.6C581.4 1703.8 580.8 1701.9 579.9 1700.1C579.1 1698.2 578 1696.4 576.9 1694.5C575.8 1692.7 574 1690.8 573.2 1689C572.8 1688 572.5 1687 572.3 1686.1C572.2 1685.2 572 1684.3 572 1683.4C572 1682.7 572.1 1682 572.2 1681.3C572.4 1680.2 572.7 1679 573.1 1677.9C573.7 1676.2 574.6 1674.6 575.5 1672.9C576.4 1671.3 577.9 1669.7 579 1668C580.2 1666.3 581.2 1664.6 582.3 1662.9Z"/>
<path fill="#fcc5c0" d="M606.2 1680.3C607.2 1682.4 608.3 1684.5 609.4 1686.7C610.5 1688.7 612 1690.7 612.9 1692.7C613.9 1694.8 614.7 1696.8 615.3 1698.8C615.7 1700.2 616.1 1701.7 616.2 1703.1C616.3 1703.9 616.4 1704.8 616.4 1705.6C616.4 1707.8 616.3 1710 616.1 1712.2C616 1714.6 615.6 1716.9 615.2 1719.3C614.4 1723.9 612.7 1728.4 611.5 1733C610.4 1737.6 609.4 1742.1 608.5 1746.7C607.6 1751.2 607 1755.8 606.3 1760.4L605.4 1760.4C604.7 1755.8 604 1751.2 603.2 1746.7C602.3 1742.1 601.2 1737.6 600.1 1733C599 1728.4 597.2 1723.9 596.5 1719.3C596.1 1716.9 595.7 1714.6 595.5 1712.2C595.4 1710 595.2 1707.8 595.2 1705.6C595.2 1704.8 595.3 1703.9 595.4 1703.1C595.6 1701.7 596 1700.2 596.4 1698.8C596.9 1696.8 597.8 1694.8 598.7 1692.7C599.7 1690.7 601.1 1688.7 602.2 1686.7C603.4 1684.5 604.4 1682.4 605.5 1680.3Z"/>
<path fill="#ffffff" d="M629.4 1661.2C630.5 1662.9 631.5 1664.6 632.7 1666.3C633.8 1667.9 635.2 1669.6 636.2 1671.2C637.1 1672.9 638 1674.5 638.5 1676.2C638.9 1677.3 639.3 1678.5 639.5 1679.6C639.5 1680.3 639.7 1681 639.7 1681.7C639.7 1682.4 639.5 1683.2 639.4 1683.9C639.2 1684.8 638.8 1685.6 638.4 1686.4C637.7 1688 635.9 1689.5 634.8 1691.1C633.7 1692.7 632.6 1694.2 631.7 1695.8C630.9 1697.4 630.2 1698.9 629.5 1700.5L628.6 1700.5C627.9 1698.9 627.3 1697.4 626.4 1695.8C625.5 1694.2 624.5 1692.7 623.3 1691.1C622.2 1689.5 620.4 1688 619.7 1686.4C619.3 1685.6 618.9 1684.8 618.8 1683.9C618.6 1683.2 618.5 1682.4 618.5 1681.7C618.5 1681 618.6 1680.3 618.7 1679.6C618.8 1678.5 619.2 1677.3 619.6 1676.2C620.1 1674.5 621 1672.9 622 1671.2C622.9 1669.6 624.3 1667.9 625.4 1666.3C626.6 1664.6 627.6 1662.9 628.7 1661.2Z"/>
<path fill="#ffffff" d="M652.6 1680.3C653.7 1683.4 654.7 1686.5 655.9 1689.6C657 1692.6 658.4 1695.6 659.4 1698.6C660.3 1701.6 661.2 1704.6 661.7 1707.5C662.1 1709.7 662.5 1711.8 662.7 1713.9C662.8 1715.1 662.9 1716.4 662.9 1717.6C662.9 1719.5 662.7 1721.3 662.6 1723.1C662.4 1725.1 662.1 1727.2 661.7 1729.2C660.9 1733 659.1 1736.8 658 1740.7C656.9 1744.5 655.8 1748.4 654.9 1752.2C654.1 1756.1 653.5 1759.9 652.7 1763.8L651.9 1763.8C651.1 1759.9 650.5 1756.1 649.6 1752.2C648.8 1748.4 647.7 1744.5 646.6 1740.7C645.5 1736.8 643.7 1733 642.9 1729.2C642.5 1727.2 642.1 1725.1 642 1723.1C641.8 1721.3 641.7 1719.5 641.7 1717.6C641.7 1716.4 641.8 1715.1 641.9 1713.9C642 1711.8 642.4 1709.7 642.8 1707.5C643.4 1704.6 644.2 1701.6 645.2 1698.6C646.1 1695.6 647.6 1692.6 648.7 1689.6C649.8 1686.5 650.9 1683.4 652 1680.3Z"/>
<path fill="#ffffff" d="M675.8 1665.4C676.9 1666.8 678 1668.2 679.1 1669.5C680.2 1670.8 681.7 1672.1 682.6 1673.4C683.5 1674.7 684.4 1676 685 1677.3C685.4 1678.2 685.7 1679.1 685.9 1680.1C686 1680.6 686.1 1681.1 686.1 1681.7C686.1 1682.4 685.9 1683.1 685.8 1683.7C685.6 1684.5 685.3 1685.2 684.9 1686C684.1 1687.4 682.3 1688.8 681.2 1690.2C680.1 1691.7 679 1693.1 678.2 1694.5C677.3 1695.9 676.7 1697.4 675.9 1698.8L675.1 1698.8C674.3 1697.4 673.7 1695.9 672.8 1694.5C672 1693.1 670.9 1691.7 669.8 1690.2C668.7 1688.8 666.9 1687.4 666.1 1686C665.7 1685.2 665.4 1684.5 665.2 1683.7C665.1 1683.1 664.9 1682.4 664.9 1681.7C664.9 1681.1 665 1680.6 665.1 1680.1C665.3 1679.1 665.6 1678.2 666 1677.3C666.6 1676 667.5 1674.7 668.4 1673.4C669.3 1672.1 670.8 1670.8 671.9 1669.5C673 1668.2 674.1 1666.8 675.2 1665.4Z"/>
<path fill="#ffffff" d="M699 1682.5C700.1 1684.6 701.2 1686.7 702.3 1688.7C703.4 1690.7 704.9 1692.7 705.8 1694.7C706.8 1696.7 707.6 1698.7 708.2 1700.6C708.6 1702.1 709 1703.5 709.1 1704.9C709.2 1705.7 709.3 1706.5 709.3 1707.3C709.3 1708.8 709.2 1710.2 709 1711.7C708.9 1713.2 708.5 1714.8 708.1 1716.3C707.3 1719.3 705.6 1722.3 704.4 1725.3C703.3 1728.3 702.3 1731.3 701.4 1734.3C700.5 1737.3 699.9 1740.3 699.2 1743.3L698.3 1743.3C697.6 1740.3 696.9 1737.3 696.1 1734.3C695.2 1731.3 694.1 1728.3 693 1725.3C691.9 1722.3 690.1 1719.3 689.4 1716.3C689 1714.8 688.6 1713.2 688.4 1711.7C688.3 1710.2 688.1 1708.8 688.1 1707.3C688.1 1706.5 688.2 1705.7 688.3 1704.9C688.5 1703.5 688.9 1702.1 689.3 1700.6C689.8 1698.7 690.7 1696.7 691.6 1694.7C692.6 1692.7 694 1690.7 695.1 1688.7C696.3 1686.7 697.3 1684.6 698.4 1682.5Z"/>
<path fill="#d0d1e6" d="M722.3 1652.1C723.4 1653.4 724.4 1654.8 725.6 1656.1C726.7 1657.4 728.1 1658.6 729.1 1659.9C730 1661.2 730.9 1662.4 731.4 1663.7C731.8 1664.6 732.2 1665.5 732.3 1666.4C732.4 1666.9 732.6 1667.5 732.6 1668C732.6 1668.7 732.4 1669.4 732.2 1670.1C732.1 1670.8 731.7 1671.5 731.3 1672.3C730.6 1673.7 728.8 1675.1 727.7 1676.6C726.6 1678 725.5 1679.4 724.6 1680.8C723.8 1682.3 723.1 1683.7 722.4 1685.1L721.5 1685.1C720.8 1683.7 720.2 1682.3 719.3 1680.8C718.4 1679.4 717.3 1678 716.2 1676.6C715.1 1675.1 713.3 1673.7 712.6 1672.3C712.2 1671.5 711.8 1670.8 711.7 1670.1C711.5 1669.4 711.4 1668.7 711.4 1668C711.4 1667.5 711.5 1666.9 711.6 1666.4C711.7 1665.5 712.1 1664.6 712.5 1663.7C713 1662.4 713.9 1661.2 714.8 1659.9C715.8 1658.6 717.2 1657.4 718.3 1656.1C719.5 1654.8 720.5 1653.4 721.6 1652.1Z"/>
<path fill="#810f7c" d="M745.5 1658.1C746.6 1660 747.6 1661.9 748.8 1663.8C749.9 1665.6 751.3 1667.4 752.3 1669.2C753.2 1671.1 754.1 1672.9 754.6 1674.7C755 1676 755.4 1677.3 755.6 1678.6C755.7 1679.3 755.8 1680.1 755.8 1680.8C755.8 1681.7 755.6 1682.6 755.5 1683.5C755.3 1684.5 755 1685.4 754.6 1686.4C753.8 1688.2 752 1690.1 750.9 1692C749.8 1693.8 748.7 1695.7 747.8 1697.5C747 1699.4 746.3 1701.2 745.6 1703.1L744.8 1703.1C744 1701.2 743.4 1699.4 742.5 1697.5C741.7 1695.7 740.6 1693.8 739.5 1692C738.4 1690.1 736.6 1688.2 735.8 1686.4C735.4 1685.4 735 1684.5 734.9 1683.5C734.7 1682.6 734.6 1681.7 734.6 1680.8C734.6 1680.1 734.7 1679.3 734.8 1678.6C734.9 1677.3 735.3 1676 735.7 1674.7C736.3 1672.9 737.1 1671.1 738.1 1669.2C739 1667.4 740.5 1665.6 741.6 1663.8C742.7 1661.9 743.8 1660 744.9 1658.1Z"/>
<path fill="#fcc5c0" d="M768.7 1692.5C769.8 1694.8 770.9 1697.1 772 1699.4C773.1 1701.6 774.6 1703.8 775.5 1706C776.4 1708.3 777.3 1710.5 777.9 1712.7C778.3 1714.3 778.6 1715.8 778.8 1717.4C778.9 1718.3 779 1719.2 779 1720.2C779 1721.9 778.8 1723.7 778.7 1725.4C778.5 1727.3 778.2 1729.2 777.8 1731.1C777 1734.7 775.2 1738.3 774.1 1742C773 1745.6 771.9 1749.2 771.1 1752.9C770.2 1756.5 769.6 1760.2 768.8 1763.8L768 1763.8C767.2 1760.2 766.6 1756.5 765.7 1752.9C764.9 1749.2 763.8 1745.6 762.7 1742C761.6 1738.3 759.8 1734.7 759 1731.1C758.6 1729.2 758.3 1727.3 758.1 1725.4C758 1723.7 757.8 1721.9 757.8 1720.2C757.8 1719.2 757.9 1718.3 758 1717.4C758.2 1715.8 758.5 1714.3 758.9 1712.7C759.5 1710.5 760.4 1708.3 761.3 1706C762.2 1703.8 763.7 1701.6 764.8 1699.4C765.9 1697.1 767 1694.8 768.1 1692.5Z"/>
<path fill="#d0d1e6" d="M791.9 1658.1C793 1659.3 794.1 1660.5 795.2 1661.6C796.3 1662.8 797.8 1663.9 798.7 1665C799.7 1666.2 800.5 1667.3 801.1 1668.5C801.5 1669.3 801.9 1670.1 802 1670.9C802.1 1671.3 802.2 1671.8 802.2 1672.3C802.2 1673.2 802.1 1674.1 801.9 1675.1C801.8 1676.1 801.4 1677.1 801 1678.1C800.2 1680 798.5 1681.9 797.3 1683.8C796.2 1685.8 795.1 1687.7 794.3 1689.6C793.4 1691.5 792.8 1693.4 792 1695.4L791.2 1695.4C790.5 1693.4 789.8 1691.5 789 1689.6C788.1 1687.7 787 1685.8 785.9 1683.8C784.8 1681.9 783 1680 782.2 1678.1C781.8 1677.1 781.5 1676.1 781.3 1675.1C781.2 1674.1 781 1673.2 781 1672.3C781 1671.8 781.1 1671.3 781.2 1670.9C781.4 1670.1 781.8 1669.3 782.2 1668.5C782.7 1667.3 783.6 1666.2 784.5 1665C785.5 1663.9 786.9 1662.8 788 1661.6C789.2 1660.5 790.2 1659.3 791.3 1658.1Z"/>
<path fill="#ffffff" d="M815.2 1650.4C816.3 1652 817.3 1653.6 818.5 1655.2C819.6 1656.8 821 1658.3 822 1659.9C822.9 1661.4 823.8 1663 824.3 1664.5C824.7 1665.6 825.1 1666.7 825.2 1667.8C825.3 1668.4 825.5 1669.1 825.5 1669.7C825.5 1670.6 825.3 1671.5 825.1 1672.4C825 1673.4 824.6 1674.3 824.2 1675.3C823.5 1677.1 821.7 1679 820.6 1680.8C819.5 1682.7 818.4 1684.5 817.5 1686.4C816.7 1688.2 816 1690.1 815.3 1692L814.4 1692C813.7 1690.1 813 1688.2 812.2 1686.4C811.3 1684.5 810.2 1682.7 809.1 1680.8C808 1679 806.2 1677.1 805.5 1675.3C805.1 1674.3 804.7 1673.4 804.6 1672.4C804.4 1671.5 804.3 1670.6 804.3 1669.7C804.3 1669.1 804.4 1668.4 804.5 1667.8C804.6 1666.7 805 1665.6 805.4 1664.5C805.9 1663 806.8 1661.4 807.7 1659.9C808.7 1658.3 810.1 1656.8 811.2 1655.2C812.4 1653.6 813.4 1652 814.5 1650.4Z"/>
<path fill="#f7fcb9" d="M838.4 1657.7C839.5 1659 840.5 1660.3 841.7 1661.6C842.8 1662.8 844.2 1664.1 845.2 1665.3C846.1 1666.5 847 1667.8 847.5 1669C847.9 1669.9 848.3 1670.7 848.5 1671.6C848.6 1672.1 848.7 1672.6 848.7 1673.1C848.7 1673.8 848.5 1674.5 848.4 1675.2C848.2 1675.9 847.9 1676.7 847.5 1677.4C846.7 1678.8 844.9 1680.3 843.8 1681.7C842.7 1683.1 841.6 1684.5 840.7 1686C839.9 1687.4 839.2 1688.8 838.5 1690.2L837.7 1690.2C836.9 1688.8 836.3 1687.4 835.4 1686C834.6 1684.5 833.5 1683.1 832.4 1681.7C831.2 1680.3 829.5 1678.8 828.7 1677.4C828.3 1676.7 827.9 1675.9 827.8 1675.2C827.6 1674.5 827.5 1673.8 827.5 1673.1C827.5 1672.6 827.6 1672.1 827.7 1671.6C827.8 1670.7 828.2 1669.9 828.6 1669C829.2 1667.8 830 1666.5 831 1665.3C831.9 1664.1 833.4 1662.8 834.5 1661.6C835.6 1660.3 836.7 1659 837.8 1657.7Z"/>
<path fill="#ffffff" d="M861.6 1700.2C862.7 1703 863.8 1705.9 864.9 1708.8C866 1711.6 867.5 1714.3 868.4 1717.1C869.3 1719.9 870.2 1722.6 870.8 1725.4C871.2 1727.3 871.5 1729.3 871.7 1731.3C871.8 1732.4 871.9 1733.6 871.9 1734.7C871.9 1736.3 871.7 1737.9 871.6 1739.4C871.4 1741.1 871.1 1742.8 870.7 1744.5C869.9 1747.8 868.1 1751.1 867 1754.4C865.9 1757.7 864.8 1760.9 864 1764.2C863.1 1767.5 862.5 1770.8 861.7 1774L860.9 1774C860.1 1770.8 859.5 1767.5 858.6 1764.2C857.8 1760.9 856.7 1757.7 855.6 1754.4C854.5 1751.1 852.7 1747.8 851.9 1744.5C851.5 1742.8 851.2 1741.1 851 1739.4C850.9 1737.9 850.7 1736.3 850.7 1734.7C850.7 1733.6 850.8 1732.4 850.9 1731.3C851.1 1729.3 851.4 1727.3 851.8 1725.4C852.4 1722.6 853.3 1719.9 854.2 1717.1C855.1 1714.3 856.6 1711.6 857.7 1708.8C858.8 1705.9 859.9 1703 861 1700.2Z"/>
<path fill="#081d58" d="M884.8 1690.6C885.9 1693 887 1695.4 888.1 1697.8C889.2 1700.1 890.7 1702.4 891.6 1704.7C892.6 1707 893.4 1709.3 894 1711.6C894.4 1713.2 894.8 1714.8 894.9 1716.4C895 1717.4 895.1 1718.4 895.1 1719.3C895.1 1721.5 895 1723.7 894.8 1725.9C894.7 1728.3 894.3 1730.6 893.9 1733C893.1 1737.6 891.3 1742.1 890.2 1746.7C889.1 1751.2 888 1755.8 887.2 1760.4C886.3 1764.9 885.7 1769.5 884.9 1774L884.1 1774C883.4 1769.5 882.7 1764.9 881.9 1760.4C881 1755.8 879.9 1751.2 878.8 1746.7C877.7 1742.1 875.9 1737.6 875.1 1733C874.7 1730.6 874.4 1728.3 874.2 1725.9C874.1 1723.7 873.9 1721.5 873.9 1719.3C873.9 1718.4 874 1717.4 874.1 1716.4C874.3 1714.8 874.7 1713.2 875.1 1711.6C875.6 1709.3 876.5 1707 877.4 1704.7C878.4 1702.4 879.8 1700.1 880.9 1697.8C882.1 1695.4 883.1 1693 884.2 1690.6Z"/>
<path fill="#fcc5c0" d="M908.1 1669.2C909.2 1670.8 910.2 1672.4 911.4 1674C912.5 1675.6 913.9 1677.1 914.9 1678.7C915.8 1680.2 916.7 1681.8 917.2 1683.3C917.6 1684.4 918 1685.5 918.1 1686.6C918.2 1687.2 918.3 1687.9 918.3 1688.5C918.3 1689.5 918.2 1690.4 918 1691.4C917.9 1692.4 917.5 1693.5 917.1 1694.5C916.4 1696.5 914.6 1698.5 913.5 1700.5C912.4 1702.5 911.3 1704.5 910.4 1706.5C909.5 1708.5 908.9 1710.5 908.2 1712.5L907.3 1712.5C906.6 1710.5 905.9 1708.5 905.1 1706.5C904.2 1704.5 903.1 1702.5 902 1700.5C900.9 1698.5 899.1 1696.5 898.4 1694.5C898 1693.5 897.6 1692.4 897.5 1691.4C897.3 1690.4 897.1 1689.5 897.1 1688.5C897.1 1687.9 897.3 1687.2 897.4 1686.6C897.5 1685.5 897.9 1684.4 898.3 1683.3C898.8 1681.8 899.7 1680.2 900.6 1678.7C901.6 1677.1 903 1675.6 904.1 1674C905.3 1672.4 906.3 1670.8 907.4 1669.2Z"/>
<path fill="#f7fcb9" d="M931.3 1695.9C932.4 1698.1 933.4 1700.4 934.6 1702.6C935.7 1704.7 937.1 1706.9 938.1 1709C939 1711.2 939.9 1713.3 940.4 1715.5C940.8 1717 941.2 1718.5 941.4 1720.1C941.5 1720.9 941.6 1721.8 941.6 1722.7C941.6 1724.8 941.4 1726.8 941.3 1728.9C941.1 1731.1 940.7 1733.3 940.4 1735.6C939.6 1739.8 937.8 1744.1 936.7 1748.4C935.6 1752.7 934.5 1756.9 933.6 1761.2C932.8 1765.5 932.1 1769.8 931.4 1774L930.5 1774C929.8 1769.8 929.2 1765.5 928.3 1761.2C927.4 1756.9 926.4 1752.7 925.3 1748.4C924.1 1744.1 922.4 1739.8 921.6 1735.6C921.2 1733.3 920.8 1731.1 920.7 1728.9C920.5 1726.8 920.4 1724.8 920.4 1722.7C920.4 1721.8 920.5 1720.9 920.6 1720.1C920.7 1718.5 921.1 1717 921.5 1715.5C922.1 1713.3 922.9 1711.2 923.9 1709C924.8 1706.9 926.3 1704.7 927.4 1702.6C928.5 1700.4 929.6 1698.1 930.7 1695.9Z"/>
<path fill="#fcc5c0" d="M954.5 1669.7C955.6 1671.3 956.7 1672.9 957.8 1674.4C958.9 1675.9 960.4 1677.4 961.3 1678.9C962.2 1680.4 963.1 1681.9 963.7 1683.5C964.1 1684.5 964.4 1685.6 964.6 1686.7C964.7 1687.3 964.8 1687.9 964.8 1688.5C964.8 1689.5 964.6 1690.4 964.5 1691.4C964.3 1692.4 964 1693.5 963.6 1694.5C962.8 1696.5 961 1698.5 959.9 1700.5C958.8 1702.5 957.7 1704.5 956.9 1706.5C956 1708.5 955.4 1710.5 954.6 1712.5L953.8 1712.5C953 1710.5 952.4 1708.5 951.5 1706.5C950.7 1704.5 949.6 1702.5 948.5 1700.5C947.4 1698.5 945.6 1696.5 944.8 1694.5C944.4 1693.5 944.1 1692.4 943.9 1691.4C943.8 1690.4 943.6 1689.5 943.6 1688.5C943.6 1687.9 943.7 1687.3 943.8 1686.7C944 1685.6 944.3 1684.5 944.7 1683.5C945.3 1681.9 946.2 1680.4 947.1 1678.9C948 1677.4 949.5 1675.9 950.6 1674.4C951.7 1672.9 952.8 1671.3 953.9 1669.7Z"/>
<path fill="#810f7c" d="M977.7 1647.5C978.8 1648.9 979.9 1650.3 981 1651.8C982.1 1653.1 983.6 1654.5 984.5 1655.9C985.5 1657.2 986.3 1658.6 986.9 1660C987.3 1660.9 987.7 1661.9 987.8 1662.9C987.9 1663.4 988 1664 988 1664.6C988 1665.2 987.9 1665.8 987.7 1666.4C987.6 1667.1 987.2 1667.8 986.8 1668.4C986 1669.7 984.2 1671 983.1 1672.3C982 1673.6 980.9 1674.9 980.1 1676.1C979.2 1677.4 978.6 1678.7 977.8 1680L977 1680C976.2 1678.7 975.6 1677.4 974.8 1676.1C973.9 1674.9 972.8 1673.6 971.7 1672.3C970.6 1671 968.8 1669.7 968 1668.4C967.6 1667.8 967.3 1667.1 967.1 1666.4C967 1665.8 966.8 1665.2 966.8 1664.6C966.8 1664 966.9 1663.4 967 1662.9C967.2 1661.9 967.6 1660.9 968 1660C968.5 1658.6 969.4 1657.2 970.3 1655.9C971.3 1654.5 972.7 1653.1 973.8 1651.8C975 1650.3 976 1648.9 977.1 1647.5Z"/>
<path fill="#1d91c0" d="M1001 1686.3C1002.1 1688.3 1003.1 1690.4 1004.3 1692.4C1005.4 1694.4 1006.8 1696.3 1007.7 1698.3C1008.7 1700.2 1009.6 1702.2 1010.1 1704.2C1010.5 1705.5 1010.9 1706.9 1011 1708.3C1011.1 1709.1 1011.2 1710 1011.2 1710.8C1011.2 1712.3 1011.1 1713.9 1010.9 1715.5C1010.8 1717.2 1010.4 1718.9 1010 1720.6C1009.3 1723.9 1007.5 1727.2 1006.4 1730.4C1005.2 1733.7 1004.2 1737 1003.3 1740.3C1002.4 1743.5 1001.8 1746.8 1001.1 1750.1L1000.2 1750.1C999.5 1746.8 998.8 1743.5 998 1740.3C997.1 1737 996 1733.7 994.9 1730.4C993.8 1727.2 992 1723.9 991.3 1720.6C990.9 1718.9 990.5 1717.2 990.3 1715.5C990.2 1713.9 990 1712.3 990 1710.8C990 1710 990.2 1709.1 990.2 1708.3C990.4 1706.9 990.8 1705.5 991.2 1704.2C991.7 1702.2 992.6 1700.2 993.5 1698.3C994.5 1696.3 995.9 1694.4 997 1692.4C998.2 1690.4 999.2 1688.3 1000.3 1686.3Z"/>
<path fill="#810f7c" d="M1024.2 1663.2C1025.3 1664.8 1026.3 1666.3 1027.5 1667.8C1028.6 1669.3 1030 1670.8 1031 1672.3C1031.9 1673.7 1032.8 1675.2 1033.3 1676.7C1033.7 1677.8 1034.1 1678.8 1034.3 1679.8C1034.4 1680.5 1034.5 1681.1 1034.5 1681.7C1034.5 1682.7 1034.3 1683.7 1034.2 1684.8C1034 1685.9 1033.6 1687 1033.2 1688.1C1032.5 1690.2 1030.7 1692.4 1029.6 1694.5C1028.5 1696.7 1027.4 1698.8 1026.5 1700.9C1025.7 1703.1 1025 1705.2 1024.3 1707.3L1023.4 1707.3C1022.7 1705.2 1022.1 1703.1 1021.2 1700.9C1020.3 1698.8 1019.3 1696.7 1018.2 1694.5C1017 1692.4 1015.3 1690.2 1014.5 1688.1C1014.1 1687 1013.7 1685.9 1013.6 1684.8C1013.4 1683.7 1013.3 1682.7 1013.3 1681.7C1013.3 1681.1 1013.4 1680.5 1013.5 1679.8C1013.6 1678.8 1014 1677.8 1014.4 1676.7C1015 1675.2 1015.8 1673.7 1016.8 1672.3C1017.7 1670.8 1019.2 1669.3 1020.3 1667.8C1021.4 1666.3 1022.5 1664.8 1023.5 1663.2Z"/>
<path fill="#f7fcb9" d="M1047.4 1667.2C1048.5 1668.9 1049.5 1670.7 1050.7 1672.5C1051.8 1674.2 1053.3 1675.9 1054.2 1677.6C1055.1 1679.3 1056 1681.1 1056.6 1682.8C1057 1684 1057.3 1685.2 1057.5 1686.4C1057.6 1687.1 1057.7 1687.8 1057.7 1688.5C1057.7 1689.5 1057.5 1690.4 1057.4 1691.4C1057.2 1692.4 1056.9 1693.5 1056.5 1694.5C1055.7 1696.5 1053.9 1698.5 1052.8 1700.5C1051.7 1702.5 1050.6 1704.5 1049.8 1706.5C1048.9 1708.5 1048.3 1710.5 1047.5 1712.5L1046.7 1712.5C1045.9 1710.5 1045.3 1708.5 1044.4 1706.5C1043.6 1704.5 1042.5 1702.5 1041.4 1700.5C1040.3 1698.5 1038.5 1696.5 1037.7 1694.5C1037.3 1693.5 1037 1692.4 1036.8 1691.4C1036.6 1690.4 1036.5 1689.5 1036.5 1688.5C1036.5 1687.8 1036.6 1687.1 1036.7 1686.4C1036.9 1685.2 1037.2 1684 1037.6 1682.8C1038.2 1681.1 1039 1679.3 1040 1677.6C1040.9 1675.9 1042.4 1674.2 1043.5 1672.5C1044.6 1670.7 1045.7 1668.9 1046.8 1667.2Z"/>
<path fill="#fcc5c0" d="M1070.6 1647.5C1071.7 1648.5 1072.8 1649.5 1073.9 1650.5C1075 1651.4 1076.5 1652.4 1077.4 1653.4C1078.4 1654.3 1079.2 1655.3 1079.8 1656.2C1080.2 1656.9 1080.5 1657.6 1080.7 1658.3C1080.8 1658.7 1080.9 1659.1 1080.9 1659.5C1080.9 1659.9 1080.8 1660.4 1080.6 1660.9C1080.5 1661.4 1080.1 1661.9 1079.7 1662.5C1078.9 1663.4 1077.1 1664.4 1076 1665.4C1074.9 1666.4 1073.8 1667.4 1073 1668.4C1072.1 1669.4 1071.5 1670.4 1070.7 1671.4L1069.9 1671.4C1069.1 1670.4 1068.5 1669.4 1067.7 1668.4C1066.8 1667.4 1065.7 1666.4 1064.6 1665.4C1063.5 1664.4 1061.7 1663.4 1060.9 1662.5C1060.5 1661.9 1060.2 1661.4 1060 1660.9C1059.9 1660.4 1059.7 1659.9 1059.7 1659.5C1059.7 1659.1 1059.8 1658.7 1059.9 1658.3C1060.1 1657.6 1060.5 1656.9 1060.8 1656.2C1061.4 1655.3 1062.3 1654.3 1063.2 1653.4C1064.2 1652.4 1065.6 1651.4 1066.7 1650.5C1067.9 1649.5 1068.9 1648.5 1070 1647.5Z"/>
<path fill="#ffffff" d="M1093.9 1670.6C1095 1673.1 1096 1675.6 1097.1 1678.1C1098.3 1680.5 1099.7 1682.8 1100.6 1685.2C1101.6 1687.6 1102.5 1690 1103 1692.4C1103.4 1694.1 1103.8 1695.8 1103.9 1697.5C1104 1698.5 1104.1 1699.5 1104.1 1700.5C1104.1 1702 1104 1703.5 1103.8 1705C1103.7 1706.7 1103.3 1708.3 1102.9 1709.9C1102.2 1713 1100.4 1716.2 1099.3 1719.3C1098.1 1722.5 1097.1 1725.6 1096.2 1728.7C1095.3 1731.9 1094.7 1735 1094 1738.1L1093.1 1738.1C1092.4 1735 1091.7 1731.9 1090.9 1728.7C1090 1725.6 1088.9 1722.5 1087.8 1719.3C1086.7 1716.2 1084.9 1713 1084.2 1709.9C1083.8 1708.3 1083.4 1706.7 1083.2 1705C1083.1 1703.5 1082.9 1702 1082.9 1700.5C1082.9 1699.5 1083.1 1698.5 1083.1 1697.5C1083.3 1695.8 1083.7 1694.1 1084.1 1692.4C1084.6 1690 1085.5 1687.6 1086.4 1685.2C1087.4 1682.8 1088.8 1680.5 1089.9 1678.1C1091.1 1675.6 1092.1 1673.1 1093.2 1670.6Z"/>
<path fill="#addd8e" d="M1117.1 1678.6C1118.2 1680.3 1119.2 1682 1120.4 1683.7C1121.5 1685.3 1122.9 1686.9 1123.9 1688.5C1124.8 1690.1 1125.7 1691.7 1126.2 1693.3C1126.6 1694.5 1127 1695.6 1127.2 1696.8C1127.3 1697.4 1127.4 1698.1 1127.4 1698.8C1127.4 1700 1127.2 1701.3 1127.1 1702.5C1126.9 1703.8 1126.5 1705.2 1126.1 1706.5C1125.4 1709.1 1123.6 1711.6 1122.5 1714.2C1121.4 1716.8 1120.3 1719.3 1119.4 1721.9C1118.6 1724.4 1117.9 1727 1117.2 1729.6L1116.3 1729.6C1115.6 1727 1115 1724.4 1114.1 1721.9C1113.2 1719.3 1112.2 1716.8 1111 1714.2C1109.9 1711.6 1108.2 1709.1 1107.4 1706.5C1107 1705.2 1106.6 1703.8 1106.5 1702.5C1106.3 1701.3 1106.2 1700 1106.2 1698.8C1106.2 1698.1 1106.3 1697.4 1106.4 1696.8C1106.5 1695.6 1106.9 1694.5 1107.3 1693.3C1107.8 1691.7 1108.7 1690.1 1109.7 1688.5C1110.6 1686.9 1112 1685.3 1113.2 1683.7C1114.3 1682 1115.4 1680.3 1116.4 1678.6Z"/>
<path fill="#fcc5c0" d="M1140.3 1662C1141.4 1663.6 1142.4 1665.2 1143.6 1666.7C1144.7 1668.2 1146.2 1669.7 1147.1 1671.2C1148 1672.7 1148.9 1674.3 1149.5 1675.8C1149.8 1676.8 1150.2 1677.9 1150.4 1679C1150.5 1679.6 1150.6 1680.2 1150.6 1680.8C1150.6 1681.7 1150.4 1682.5 1150.3 1683.4C1150.1 1684.3 1149.8 1685.3 1149.4 1686.2C1148.6 1688 1146.8 1689.7 1145.7 1691.5C1144.6 1693.3 1143.5 1695.1 1142.7 1696.9C1141.8 1698.7 1141.2 1700.4 1140.4 1702.2L1139.6 1702.2C1138.8 1700.4 1138.2 1698.7 1137.3 1696.9C1136.5 1695.1 1135.4 1693.3 1134.3 1691.5C1133.2 1689.7 1131.4 1688 1130.6 1686.2C1130.2 1685.3 1129.9 1684.3 1129.7 1683.4C1129.5 1682.5 1129.4 1681.7 1129.4 1680.8C1129.4 1680.2 1129.5 1679.6 1129.6 1679C1129.8 1677.9 1130.1 1676.8 1130.5 1675.8C1131.1 1674.3 1131.9 1672.7 1132.9 1671.2C1133.8 1669.7 1135.3 1668.2 1136.4 1666.7C1137.5 1665.2 1138.6 1663.6 1139.7 1662Z"/>
<path fill="#ffffff" d="M1163.5 1684.3C1164.6 1688 1165.7 1691.8 1166.8 1695.6C1167.9 1699.2 1169.4 1702.8 1170.3 1706.5C1171.3 1710.1 1172.1 1713.7 1172.7 1717.3C1173.1 1719.9 1173.4 1722.5 1173.6 1725C1173.7 1726.6 1173.8 1728.1 1173.8 1729.6C1173.8 1731.5 1173.7 1733.4 1173.5 1735.3C1173.3 1737.4 1173 1739.5 1172.6 1741.6C1171.8 1745.5 1170 1749.5 1168.9 1753.5C1167.8 1757.5 1166.7 1761.5 1165.9 1765.5C1165 1769.5 1164.4 1773.5 1163.6 1777.5L1162.8 1777.5C1162 1773.5 1161.4 1769.5 1160.6 1765.5C1159.7 1761.5 1158.6 1757.5 1157.5 1753.5C1156.4 1749.5 1154.6 1745.5 1153.8 1741.6C1153.4 1739.5 1153.1 1737.4 1152.9 1735.3C1152.8 1733.4 1152.6 1731.5 1152.6 1729.6C1152.6 1728.1 1152.7 1726.6 1152.8 1725C1153 1722.5 1153.4 1719.9 1153.7 1717.3C1154.3 1713.7 1155.2 1710.1 1156.1 1706.5C1157 1702.8 1158.5 1699.2 1159.6 1695.6C1160.8 1691.8 1161.8 1688 1162.9 1684.3Z"/>
<path fill="#ffffff" d="M1186.8 1679.5C1187.9 1682.1 1188.9 1684.7 1190 1687.3C1191.2 1689.8 1192.6 1692.3 1193.5 1694.8C1194.5 1697.3 1195.4 1699.8 1195.9 1702.3C1196.3 1704.1 1196.7 1705.9 1196.8 1707.6C1196.9 1708.7 1197 1709.7 1197 1710.8C1197 1712.2 1196.9 1713.6 1196.7 1715.1C1196.6 1716.6 1196.2 1718.2 1195.8 1719.7C1195.1 1722.7 1193.3 1725.7 1192.2 1728.7C1191 1731.7 1190 1734.7 1189.1 1737.7C1188.2 1740.7 1187.6 1743.7 1186.9 1746.7L1186 1746.7C1185.3 1743.7 1184.6 1740.7 1183.8 1737.7C1182.9 1734.7 1181.8 1731.7 1180.7 1728.7C1179.6 1725.7 1177.8 1722.7 1177.1 1719.7C1176.7 1718.2 1176.3 1716.6 1176.1 1715.1C1176 1713.6 1175.8 1712.2 1175.8 1710.8C1175.8 1709.7 1175.9 1708.7 1176 1707.6C1176.2 1705.9 1176.6 1704.1 1177 1702.3C1177.5 1699.8 1178.4 1697.3 1179.3 1694.8C1180.3 1692.3 1181.7 1689.8 1182.8 1687.3C1184 1684.7 1185 1682.1 1186.1 1679.5Z"/>
<path fill="#ffffff" d="M1210 1670.6C1211.1 1672.8 1212.1 1675 1213.3 1677.2C1214.4 1679.3 1215.8 1681.4 1216.8 1683.6C1217.7 1685.7 1218.6 1687.8 1219.1 1689.9C1219.5 1691.4 1219.9 1692.9 1220.1 1694.4C1220.2 1695.3 1220.3 1696.2 1220.3 1697.1C1220.3 1698.3 1220.1 1699.5 1220 1700.8C1219.8 1702.1 1219.4 1703.4 1219 1704.8C1218.3 1707.3 1216.5 1709.9 1215.4 1712.5C1214.3 1715 1213.2 1717.6 1212.3 1720.2C1211.5 1722.7 1210.8 1725.3 1210.1 1727.9L1209.2 1727.9C1208.5 1725.3 1207.9 1722.7 1207 1720.2C1206.1 1717.6 1205.1 1715 1203.9 1712.5C1202.8 1709.9 1201 1707.3 1200.3 1704.8C1199.9 1703.4 1199.5 1702.1 1199.4 1700.8C1199.2 1699.5 1199.1 1698.3 1199.1 1697.1C1199.1 1696.2 1199.2 1695.3 1199.3 1694.4C1199.4 1692.9 1199.8 1691.4 1200.2 1689.9C1200.7 1687.8 1201.6 1685.7 1202.6 1683.6C1203.5 1681.4 1204.9 1679.3 1206.1 1677.2C1207.2 1675 1208.2 1672.8 1209.3 1670.6Z"/>
<path fill="#ffffff" d="M1233.2 1675.7C1234.3 1678.3 1235.3 1681 1236.5 1683.6C1237.6 1686.1 1239 1688.7 1240 1691.2C1240.9 1693.7 1241.8 1696.3 1242.4 1698.8C1242.7 1700.6 1243.1 1702.4 1243.3 1704.2C1243.4 1705.2 1243.5 1706.3 1243.5 1707.3C1243.5 1708.9 1243.3 1710.5 1243.2 1712.1C1243 1713.8 1242.7 1715.5 1242.3 1717.2C1241.5 1720.5 1239.7 1723.7 1238.6 1727C1237.5 1730.3 1236.4 1733.6 1235.5 1736.8C1234.7 1740.1 1234.1 1743.4 1233.3 1746.7L1232.5 1746.7C1231.7 1743.4 1231.1 1740.1 1230.2 1736.8C1229.4 1733.6 1228.3 1730.3 1227.2 1727C1226.1 1723.7 1224.3 1720.5 1223.5 1717.2C1223.1 1715.5 1222.8 1713.8 1222.6 1712.1C1222.4 1710.5 1222.3 1708.9 1222.3 1707.3C1222.3 1706.3 1222.4 1705.2 1222.5 1704.2C1222.7 1702.4 1223 1700.6 1223.4 1698.8C1224 1696.3 1224.8 1693.7 1225.8 1691.2C1226.7 1688.7 1228.2 1686.1 1229.3 1683.6C1230.4 1681 1231.5 1678.3 1232.6 1675.7Z"/>
<path fill="#f7fcb9" d="M1256.4 1625.3C1257.4 1627 1258.2 1628.8 1259.2 1630.6C1260.2 1632.4 1261.6 1634.2 1262.8 1636C1263.8 1637.5 1265.3 1639 1265.9 1640.5C1266.3 1641.4 1266.7 1642.3 1266.7 1643.2C1266.7 1643.9 1266.3 1644.6 1265.9 1645.3C1265.3 1646.4 1263.4 1647.5 1262.5 1648.6C1261.2 1650 1259.9 1651.4 1259.4 1652.8C1258.7 1654.6 1258.4 1656.4 1257.9 1658.2C1257.5 1660.3 1257.1 1662.5 1256.6 1664.6L1255.6 1664.6C1255.1 1662.5 1254.8 1660.3 1254.3 1658.2C1253.9 1656.4 1253.6 1654.6 1252.9 1652.8C1252.3 1651.4 1251 1650 1249.7 1648.6C1248.8 1647.5 1246.9 1646.4 1246.3 1645.3C1245.9 1644.6 1245.5 1643.9 1245.5 1643.2C1245.5 1642.3 1246 1641.4 1246.3 1640.5C1246.9 1639 1248.4 1637.5 1249.4 1636C1250.6 1634.2 1252 1632.4 1253 1630.6C1254.1 1628.8 1254.9 1627 1255.8 1625.3Z"/>
<path fill="#ffffff" d="M1279.7 1678.6C1280.7 1681.1 1281.8 1683.7 1282.9 1686.2C1284 1688.7 1285.5 1691.1 1286.4 1693.5C1287.4 1696 1288.3 1698.4 1288.8 1700.8C1289.2 1702.6 1289.6 1704.3 1289.7 1706C1289.8 1707 1289.9 1708 1289.9 1709.1C1289.9 1711.2 1289.8 1713.4 1289.6 1715.6C1289.5 1718 1289.1 1720.4 1288.7 1722.7C1287.9 1727.3 1286.2 1731.9 1285 1736.4C1283.9 1741 1282.9 1745.5 1282 1750.1C1281.1 1754.7 1280.5 1759.2 1279.8 1763.8L1278.9 1763.8C1278.2 1759.2 1277.5 1754.7 1276.7 1750.1C1275.8 1745.5 1274.7 1741 1273.6 1736.4C1272.5 1731.9 1270.7 1727.3 1270 1722.7C1269.6 1720.4 1269.2 1718 1269 1715.6C1268.9 1713.4 1268.7 1711.2 1268.7 1709.1C1268.7 1708 1268.8 1707 1268.9 1706C1269.1 1704.3 1269.5 1702.6 1269.9 1700.8C1270.4 1698.4 1271.3 1696 1272.2 1693.5C1273.2 1691.1 1274.6 1688.7 1275.7 1686.2C1276.9 1683.7 1277.9 1681.1 1279 1678.6Z"/>
<path fill="#f7fcb9" d="M1302.9 1630.4C1303.8 1631.8 1304.6 1633.1 1305.7 1634.5C1306.7 1635.9 1308 1637.2 1309.3 1638.6C1310.3 1639.7 1311.7 1640.9 1312.3 1642C1312.7 1642.7 1313.2 1643.4 1313.2 1644.1C1313.2 1645 1312.7 1646 1312.4 1647C1311.8 1648.4 1309.9 1649.9 1308.9 1651.3C1307.7 1653.3 1306.4 1655.2 1305.8 1657.1C1305.1 1659.6 1304.8 1662 1304.4 1664.4C1303.9 1667.3 1303.5 1670.2 1303.1 1673.1L1302 1673.1C1301.6 1670.2 1301.2 1667.3 1300.7 1664.4C1300.3 1662 1300 1659.6 1299.3 1657.1C1298.7 1655.2 1297.4 1653.3 1296.2 1651.3C1295.3 1649.9 1293.3 1648.4 1292.8 1647C1292.4 1646 1292 1645 1292 1644.1C1292 1643.4 1292.4 1642.7 1292.8 1642C1293.4 1640.9 1294.9 1639.7 1295.9 1638.6C1297.1 1637.2 1298.4 1635.9 1299.5 1634.5C1300.5 1633.1 1301.3 1631.8 1302.2 1630.4Z"/>
<path fill="#fcc5c0" d="M1326.1 1681.3C1327.2 1683.5 1328.2 1685.7 1329.4 1687.8C1330.5 1689.9 1331.9 1692 1332.9 1694.1C1333.8 1696.2 1334.7 1698.2 1335.3 1700.3C1335.6 1701.8 1336 1703.3 1336.2 1704.7C1336.3 1705.6 1336.4 1706.5 1336.4 1707.3C1336.4 1709.6 1336.2 1711.9 1336.1 1714.1C1335.9 1716.6 1335.6 1719 1335.2 1721.5C1334.4 1726.2 1332.6 1730.9 1331.5 1735.6C1330.4 1740.3 1329.3 1745 1328.4 1749.7C1327.6 1754.4 1327 1759.1 1326.2 1763.8L1325.4 1763.8C1324.6 1759.1 1324 1754.4 1323.1 1749.7C1322.3 1745 1321.2 1740.3 1320.1 1735.6C1319 1730.9 1317.2 1726.2 1316.4 1721.5C1316 1719 1315.6 1716.6 1315.5 1714.1C1315.3 1711.9 1315.2 1709.6 1315.2 1707.3C1315.2 1706.5 1315.3 1705.6 1315.4 1704.7C1315.6 1703.3 1315.9 1701.8 1316.3 1700.3C1316.9 1698.2 1317.7 1696.2 1318.7 1694.1C1319.6 1692 1321.1 1689.9 1322.2 1687.8C1323.3 1685.7 1324.4 1683.5 1325.5 1681.3Z"/>
<path fill="#ffffff" d="M1349.3 1677.4C1350.4 1680.5 1351.5 1683.5 1352.6 1686.6C1353.7 1689.6 1355.2 1692.5 1356.1 1695.4C1357.1 1698.4 1357.9 1701.3 1358.5 1704.3C1358.9 1706.3 1359.2 1708.4 1359.4 1710.5C1359.5 1711.7 1359.6 1713 1359.6 1714.2C1359.6 1716.9 1359.5 1719.6 1359.3 1722.4C1359.1 1725.3 1358.8 1728.3 1358.4 1731.2C1357.6 1736.9 1355.8 1742.5 1354.7 1748.2C1353.6 1753.9 1352.5 1759.6 1351.7 1765.2C1350.8 1770.9 1350.2 1776.6 1349.4 1782.3L1348.6 1782.3C1347.8 1776.6 1347.2 1770.9 1346.3 1765.2C1345.5 1759.6 1344.4 1753.9 1343.3 1748.2C1342.2 1742.5 1340.4 1736.9 1339.6 1731.2C1339.2 1728.3 1338.9 1725.3 1338.7 1722.4C1338.6 1719.6 1338.4 1716.9 1338.4 1714.2C1338.4 1713 1338.5 1711.7 1338.6 1710.5C1338.8 1708.4 1339.1 1706.3 1339.5 1704.3C1340.1 1701.3 1341 1698.4 1341.9 1695.4C1342.8 1692.5 1344.3 1689.6 1345.4 1686.6C1346.6 1683.5 1347.6 1680.5 1348.7 1677.4Z"/>
<path fill="#f7fcb9" d="M1372.5 1622.7C1373.5 1624.1 1374.3 1625.6 1375.3 1627C1376.4 1628.5 1377.7 1630 1378.9 1631.4C1379.9 1632.6 1381.4 1633.8 1382 1635C1382.4 1635.8 1382.8 1636.5 1382.8 1637.2C1382.8 1638.1 1382.4 1638.9 1382 1639.8C1381.4 1641.1 1379.5 1642.4 1378.6 1643.6C1377.4 1645.3 1376 1647.1 1375.5 1648.8C1374.8 1650.9 1374.5 1653 1374.1 1655.2C1373.6 1657.7 1373.2 1660.3 1372.8 1662.9L1371.7 1662.9C1371.3 1660.3 1370.9 1657.7 1370.4 1655.2C1370 1653 1369.7 1650.9 1369 1648.8C1368.4 1647.1 1367.1 1645.3 1365.9 1643.6C1364.9 1642.4 1363 1641.1 1362.4 1639.8C1362.1 1638.9 1361.6 1638.1 1361.6 1637.2C1361.6 1636.5 1362.1 1635.8 1362.5 1635C1363.1 1633.8 1364.5 1632.6 1365.5 1631.4C1366.8 1630 1368.1 1628.5 1369.1 1627C1370.2 1625.6 1371 1624.1 1371.9 1622.7Z"/>
<path fill="#ffffff" d="M1395.8 1644.1C1396.9 1645.9 1397.9 1647.8 1399.1 1649.6C1400.2 1651.4 1401.6 1653.2 1402.6 1655C1403.5 1656.7 1404.4 1658.5 1404.9 1660.3C1405.3 1661.6 1405.7 1662.8 1405.8 1664.1C1405.9 1664.8 1406.1 1665.6 1406.1 1666.3C1406.1 1667.5 1405.9 1668.8 1405.7 1670C1405.6 1671.3 1405.2 1672.7 1404.8 1674C1404.1 1676.6 1402.3 1679.1 1401.2 1681.7C1400.1 1684.3 1399 1686.8 1398.1 1689.4C1397.3 1692 1396.6 1694.5 1395.9 1697.1L1395 1697.1C1394.3 1694.5 1393.7 1692 1392.8 1689.4C1391.9 1686.8 1390.8 1684.3 1389.7 1681.7C1388.6 1679.1 1386.8 1676.6 1386.1 1674C1385.7 1672.7 1385.3 1671.3 1385.2 1670C1385 1668.8 1384.9 1667.5 1384.9 1666.3C1384.9 1665.6 1385 1664.8 1385.1 1664.1C1385.2 1662.8 1385.6 1661.6 1386 1660.3C1386.5 1658.5 1387.4 1656.7 1388.4 1655C1389.3 1653.2 1390.7 1651.4 1391.8 1649.6C1393 1647.8 1394 1645.9 1395.1 1644.1Z"/>
<path fill="#ffffff" d="M1419 1634.3C1419.9 1635.8 1420.7 1637.3 1421.8 1638.8C1422.8 1640.3 1424.2 1641.8 1425.4 1643.2C1426.4 1644.5 1427.8 1645.7 1428.5 1647C1428.8 1647.7 1429.3 1648.5 1429.3 1649.2C1429.3 1650 1428.9 1650.8 1428.5 1651.6C1427.9 1652.8 1426 1654 1425 1655.2C1423.8 1656.8 1422.5 1658.4 1421.9 1660C1421.2 1662 1420.9 1664 1420.5 1666C1420 1668.4 1419.6 1670.7 1419.2 1673.1L1418.1 1673.1C1417.7 1670.7 1417.3 1668.4 1416.8 1666C1416.4 1664 1416.1 1662 1415.4 1660C1414.9 1658.4 1413.6 1656.8 1412.3 1655.2C1411.4 1654 1409.5 1652.8 1408.9 1651.6C1408.5 1650.8 1408.1 1650 1408.1 1649.2C1408.1 1648.5 1408.5 1647.7 1408.9 1647C1409.5 1645.7 1411 1644.5 1412 1643.2C1413.2 1641.8 1414.5 1640.3 1415.6 1638.8C1416.6 1637.3 1417.4 1635.8 1418.4 1634.3Z"/>
<path fill="#f7fcb9" d="M1442.2 1627C1443.1 1629 1444 1631.1 1445 1633.1C1446 1635.2 1447.4 1637.2 1448.6 1639.3C1449.6 1641 1451.1 1642.7 1451.7 1644.4C1452 1645.4 1452.5 1646.5 1452.5 1647.5C1452.5 1648.5 1452.1 1649.4 1451.7 1650.4C1451.1 1651.8 1449.2 1653.3 1448.3 1654.8C1447 1656.7 1445.7 1658.6 1445.2 1660.6C1444.4 1663 1444.2 1665.4 1443.7 1667.8C1443.2 1670.7 1442.9 1673.7 1442.4 1676.6L1441.4 1676.6C1440.9 1673.7 1440.6 1670.7 1440.1 1667.8C1439.7 1665.4 1439.4 1663 1438.7 1660.6C1438.1 1658.6 1436.8 1656.7 1435.5 1654.8C1434.6 1653.3 1432.7 1651.8 1432.1 1650.4C1431.7 1649.4 1431.3 1648.5 1431.3 1647.5C1431.3 1646.5 1431.8 1645.4 1432.1 1644.4C1432.7 1642.7 1434.2 1641 1435.2 1639.3C1436.4 1637.2 1437.8 1635.2 1438.8 1633.1C1439.9 1631.1 1440.7 1629 1441.6 1627Z"/>
<path fill="#d0d1e6" d="M1465.4 1642.4C1466.5 1643.9 1467.6 1645.5 1468.7 1647.1C1469.8 1648.6 1471.3 1650.1 1472.2 1651.6C1473.2 1653.1 1474 1654.6 1474.6 1656.1C1475 1657.2 1475.4 1658.2 1475.5 1659.3C1475.6 1659.9 1475.7 1660.5 1475.7 1661.2C1475.7 1662.3 1475.6 1663.4 1475.4 1664.5C1475.3 1665.6 1474.9 1666.8 1474.5 1668C1473.7 1670.3 1472 1672.6 1470.8 1674.9C1469.7 1677.1 1468.7 1679.4 1467.8 1681.7C1466.9 1684 1466.3 1686.3 1465.6 1688.5L1464.7 1688.5C1464 1686.3 1463.3 1684 1462.5 1681.7C1461.6 1679.4 1460.5 1677.1 1459.4 1674.9C1458.3 1672.6 1456.5 1670.3 1455.7 1668C1455.4 1666.8 1455 1665.6 1454.8 1664.5C1454.7 1663.4 1454.5 1662.3 1454.5 1661.2C1454.5 1660.5 1454.6 1659.9 1454.7 1659.3C1454.9 1658.2 1455.3 1657.2 1455.7 1656.1C1456.2 1654.6 1457.1 1653.1 1458 1651.6C1459 1650.1 1460.4 1648.6 1461.5 1647.1C1462.7 1645.5 1463.7 1643.9 1464.8 1642.4Z"/>
<path fill="#f7fcb9" d="M1488.7 1627.5C1489.6 1629.1 1490.4 1630.8 1491.4 1632.5C1492.5 1634.1 1493.8 1635.8 1495 1637.4C1496.1 1638.8 1497.5 1640.2 1498.1 1641.6C1498.5 1642.4 1499 1643.2 1499 1644.1C1499 1644.9 1498.5 1645.7 1498.1 1646.5C1497.6 1647.7 1495.7 1648.9 1494.7 1650.1C1493.5 1651.6 1492.2 1653.2 1491.6 1654.8C1490.9 1656.8 1490.6 1658.8 1490.2 1660.8C1489.7 1663.2 1489.3 1665.6 1488.9 1668L1487.8 1668C1487.4 1665.6 1487 1663.2 1486.5 1660.8C1486.1 1658.8 1485.8 1656.8 1485.1 1654.8C1484.5 1653.2 1483.2 1651.6 1482 1650.1C1481 1648.9 1479.1 1647.7 1478.6 1646.5C1478.2 1645.7 1477.8 1644.9 1477.8 1644.1C1477.8 1643.2 1478.2 1642.4 1478.6 1641.6C1479.2 1640.2 1480.6 1638.8 1481.7 1637.4C1482.9 1635.8 1484.2 1634.1 1485.3 1632.5C1486.3 1630.8 1487.1 1629.1 1488 1627.5Z"/>
<path fill="#6a51a3" d="M1511.9 1619.3C1512.8 1620.5 1513.6 1621.8 1514.7 1623.1C1515.7 1624.4 1517.1 1625.7 1518.3 1627C1519.3 1628 1520.7 1629.1 1521.4 1630.2C1521.7 1630.8 1522.2 1631.5 1522.2 1632.1C1522.2 1632.8 1521.8 1633.5 1521.4 1634.1C1520.8 1635.2 1518.9 1636.2 1517.9 1637.2C1516.7 1638.6 1515.4 1640 1514.8 1641.3C1514.1 1643 1513.8 1644.7 1513.4 1646.5C1512.9 1648.5 1512.5 1650.6 1512.1 1652.6L1511 1652.6C1510.6 1650.6 1510.2 1648.5 1509.7 1646.5C1509.3 1644.7 1509 1643 1508.3 1641.3C1507.8 1640 1506.5 1638.6 1505.2 1637.2C1504.3 1636.2 1502.4 1635.2 1501.8 1634.1C1501.4 1633.5 1501 1632.8 1501 1632.1C1501 1631.5 1501.4 1630.8 1501.8 1630.2C1502.4 1629.1 1503.9 1628 1504.9 1627C1506.1 1625.7 1507.4 1624.4 1508.5 1623.1C1509.5 1621.8 1510.3 1620.5 1511.3 1619.3Z"/>
<path fill="#ffffff" d="M1535.1 1620.1C1536 1621.4 1536.8 1622.7 1537.9 1624C1538.9 1625.3 1540.3 1626.5 1541.5 1627.8C1542.5 1628.9 1544 1630 1544.6 1631C1544.9 1631.7 1545.4 1632.3 1545.4 1632.9C1545.4 1633.5 1545 1634.1 1544.6 1634.7C1544 1635.6 1542.1 1636.5 1541.2 1637.4C1539.9 1638.6 1538.6 1639.8 1538 1641C1537.3 1642.5 1537.1 1644 1536.6 1645.5C1536.1 1647.3 1535.8 1649.1 1535.3 1650.9L1534.3 1650.9C1533.8 1649.1 1533.5 1647.3 1533 1645.5C1532.5 1644 1532.3 1642.5 1531.6 1641C1531 1639.8 1529.7 1638.6 1528.4 1637.4C1527.5 1636.5 1525.6 1635.6 1525 1634.7C1524.6 1634.1 1524.2 1633.5 1524.2 1632.9C1524.2 1632.3 1524.7 1631.7 1525 1631C1525.6 1630 1527.1 1628.9 1528.1 1627.8C1529.3 1626.5 1530.7 1625.3 1531.7 1624C1532.8 1622.7 1533.6 1621.4 1534.5 1620.1Z"/>
<path fill="#addd8e" d="M1558.3 1600.8C1559.3 1601.9 1560.1 1603 1561.1 1604C1562.2 1605.1 1563.5 1606.2 1564.7 1607.3C1565.7 1608.2 1567.2 1609.1 1567.8 1610C1568.2 1610.5 1568.6 1611 1568.6 1611.6C1568.6 1612 1568.2 1612.4 1567.8 1612.8C1567.2 1613.4 1565.3 1614 1564.4 1614.6C1563.1 1615.4 1561.8 1616.2 1561.3 1617C1560.6 1618 1560.3 1619 1559.9 1620C1559.4 1621.1 1559 1622.3 1558.6 1623.5L1557.5 1623.5C1557.1 1622.3 1556.7 1621.1 1556.2 1620C1555.8 1619 1555.5 1618 1554.8 1617C1554.2 1616.2 1552.9 1615.4 1551.7 1614.6C1550.7 1614 1548.8 1613.4 1548.2 1612.8C1547.8 1612.4 1547.4 1612 1547.4 1611.6C1547.4 1611 1547.9 1610.5 1548.2 1610C1548.9 1609.1 1550.3 1608.2 1551.3 1607.3C1552.5 1606.2 1553.9 1605.1 1554.9 1604C1556 1603 1556.8 1601.9 1557.7 1600.8Z"/>
<path fill="#d0d1e6" d="M1581.6 1580.8C1582.5 1581.5 1583.3 1582.2 1584.3 1582.9C1585.4 1583.7 1586.7 1584.4 1587.9 1585.1C1589 1585.7 1590.4 1586.3 1591 1586.9C1591.4 1587.2 1591.8 1587.6 1591.8 1588C1591.8 1588.3 1591.4 1588.6 1591 1589C1590.5 1589.5 1588.6 1590 1587.6 1590.4C1586.4 1591.1 1585.1 1591.8 1584.5 1592.4C1583.8 1593.3 1583.5 1594.1 1583.1 1594.9C1582.6 1595.9 1582.2 1596.9 1581.8 1597.9L1580.7 1597.9C1580.3 1596.9 1579.9 1595.9 1579.4 1594.9C1579 1594.1 1578.7 1593.3 1578 1592.4C1577.4 1591.8 1576.1 1591.1 1574.9 1590.4C1573.9 1590 1572 1589.5 1571.5 1589C1571.1 1588.6 1570.6 1588.3 1570.6 1588C1570.6 1587.6 1571.1 1587.2 1571.5 1586.9C1572.1 1586.3 1573.5 1585.7 1574.6 1585.1C1575.8 1584.4 1577.1 1583.7 1578.2 1582.9C1579.2 1582.2 1580 1581.5 1580.9 1580.8Z"/>
<path fill="#6a51a3" d="M1604.8 1630.7C1605.7 1632.3 1606.5 1633.9 1607.6 1635.5C1608.6 1637.1 1609.9 1638.7 1611.2 1640.3C1612.2 1641.6 1613.6 1642.9 1614.3 1644.2C1614.6 1645 1615.1 1645.8 1615.1 1646.6C1615.1 1647.5 1614.7 1648.3 1614.3 1649.1C1613.7 1650.4 1611.8 1651.6 1610.8 1652.8C1609.6 1654.5 1608.3 1656.1 1607.7 1657.8C1607 1659.9 1606.7 1661.9 1606.3 1664C1605.8 1666.5 1605.4 1668.9 1605 1671.4L1603.9 1671.4C1603.5 1668.9 1603.1 1666.5 1602.6 1664C1602.2 1661.9 1601.9 1659.9 1601.2 1657.8C1600.7 1656.1 1599.3 1654.5 1598.1 1652.8C1597.2 1651.6 1595.3 1650.4 1594.7 1649.1C1594.3 1648.3 1593.9 1647.5 1593.9 1646.6C1593.9 1645.8 1594.3 1645 1594.7 1644.2C1595.3 1642.9 1596.8 1641.6 1597.8 1640.3C1599 1638.7 1600.3 1637.1 1601.4 1635.5C1602.4 1633.9 1603.2 1632.3 1604.2 1630.7Z"/>
<path fill="#addd8e" d="M1628 1670.6C1629.1 1672.6 1630.2 1674.6 1631.3 1676.6C1632.4 1678.5 1633.9 1680.4 1634.8 1682.3C1635.7 1684.2 1636.6 1686.1 1637.2 1688.1C1637.6 1689.4 1637.9 1690.8 1638.1 1692.1C1638.2 1692.9 1638.3 1693.7 1638.3 1694.5C1638.3 1695.9 1638.1 1697.3 1638 1698.7C1637.8 1700.2 1637.5 1701.8 1637.1 1703.3C1636.3 1706.2 1634.5 1709.1 1633.4 1712C1632.3 1715 1631.2 1717.9 1630.4 1720.8C1629.5 1723.7 1628.9 1726.7 1628.1 1729.6L1627.3 1729.6C1626.5 1726.7 1625.9 1723.7 1625 1720.8C1624.2 1717.9 1623.1 1715 1622 1712C1620.9 1709.1 1619.1 1706.2 1618.3 1703.3C1617.9 1701.8 1617.6 1700.2 1617.4 1698.7C1617.3 1697.3 1617.1 1695.9 1617.1 1694.5C1617.1 1693.7 1617.2 1692.9 1617.3 1692.1C1617.5 1690.8 1617.8 1689.4 1618.2 1688.1C1618.8 1686.1 1619.7 1684.2 1620.6 1682.3C1621.5 1680.4 1623 1678.5 1624.1 1676.6C1625.2 1674.6 1626.3 1672.6 1627.4 1670.6Z"/>
<path fill="#238b45" d="M1651.2 1609.9C1652.2 1610.9 1653 1611.9 1654 1612.9C1655.1 1614 1656.4 1615 1657.6 1616C1658.6 1616.9 1660.1 1617.7 1660.7 1618.6C1661.1 1619.1 1661.5 1619.6 1661.5 1620.1C1661.5 1620.7 1661.1 1621.4 1660.7 1622C1660.1 1622.9 1658.2 1623.9 1657.3 1624.8C1656 1626.1 1654.7 1627.3 1654.2 1628.6C1653.5 1630.2 1653.2 1631.7 1652.8 1633.3C1652.3 1635.2 1651.9 1637.1 1651.5 1638.9L1650.4 1638.9C1650 1637.1 1649.6 1635.2 1649.1 1633.3C1648.7 1631.7 1648.4 1630.2 1647.7 1628.6C1647.1 1627.3 1645.8 1626.1 1644.6 1624.8C1643.6 1623.9 1641.7 1622.9 1641.1 1622C1640.7 1621.4 1640.3 1620.7 1640.3 1620.1C1640.3 1619.6 1640.8 1619.1 1641.1 1618.6C1641.8 1617.7 1643.2 1616.9 1644.2 1616C1645.4 1615 1646.8 1614 1647.8 1612.9C1648.9 1611.9 1649.7 1610.9 1650.6 1609.9Z"/>
<path fill="#d0d1e6" d="M1674.5 1614.1C1675.4 1615.2 1676.2 1616.2 1677.2 1617.2C1678.3 1618.2 1679.6 1619.3 1680.8 1620.3C1681.9 1621.1 1683.3 1622 1683.9 1622.9C1684.3 1623.4 1684.7 1623.9 1684.7 1624.4C1684.7 1625.2 1684.3 1625.9 1683.9 1626.7C1683.4 1627.9 1681.5 1629 1680.5 1630.2C1679.3 1631.7 1678 1633.2 1677.4 1634.8C1676.7 1636.7 1676.4 1638.6 1676 1640.6C1675.5 1642.9 1675.1 1645.2 1674.7 1647.5L1673.6 1647.5C1673.2 1645.2 1672.8 1642.9 1672.3 1640.6C1671.9 1638.6 1671.6 1636.7 1670.9 1634.8C1670.3 1633.2 1669 1631.7 1667.8 1630.2C1666.8 1629 1664.9 1627.9 1664.4 1626.7C1664 1625.9 1663.5 1625.2 1663.5 1624.4C1663.5 1623.9 1664 1623.4 1664.4 1622.9C1665 1622 1666.4 1621.1 1667.5 1620.3C1668.7 1619.3 1670 1618.2 1671.1 1617.2C1672.1 1616.2 1672.9 1615.2 1673.8 1614.1Z"/>
<path fill="#f7fcb9" d="M1697.7 1621.8C1698.6 1623.8 1699.4 1625.8 1700.5 1627.7C1701.5 1629.7 1702.8 1631.7 1704.1 1633.6C1705.1 1635.3 1706.5 1636.9 1707.1 1638.5C1707.5 1639.5 1708 1640.5 1708 1641.5C1708 1642.2 1707.5 1642.8 1707.2 1643.5C1706.6 1644.5 1704.7 1645.4 1703.7 1646.4C1702.5 1647.7 1701.2 1649 1700.6 1650.4C1699.9 1652 1699.6 1653.6 1699.2 1655.3C1698.7 1657.2 1698.3 1659.2 1697.9 1661.2L1696.8 1661.2C1696.4 1659.2 1696 1657.2 1695.5 1655.3C1695.1 1653.6 1694.8 1652 1694.1 1650.4C1693.6 1649 1692.2 1647.7 1691 1646.4C1690.1 1645.4 1688.2 1644.5 1687.6 1643.5C1687.2 1642.8 1686.8 1642.2 1686.8 1641.5C1686.8 1640.5 1687.2 1639.5 1687.6 1638.5C1688.2 1636.9 1689.7 1635.3 1690.7 1633.6C1691.9 1631.7 1693.2 1629.7 1694.3 1627.7C1695.3 1625.8 1696.1 1623.8 1697.1 1621.8Z"/>
<path fill="#ffffff" d="M1720.9 1649.2C1722 1651.3 1723 1653.5 1724.2 1655.6C1725.3 1657.7 1726.8 1659.7 1727.7 1661.8C1728.6 1663.8 1729.5 1665.9 1730.1 1667.9C1730.5 1669.4 1730.8 1670.8 1731 1672.3C1731.1 1673.1 1731.2 1674 1731.2 1674.9C1731.2 1676.2 1731 1677.6 1730.9 1679C1730.7 1680.4 1730.4 1681.9 1730 1683.4C1729.2 1686.3 1727.4 1689.1 1726.3 1692C1725.2 1694.8 1724.1 1697.7 1723.3 1700.5C1722.4 1703.4 1721.8 1706.2 1721 1709.1L1720.2 1709.1C1719.4 1706.2 1718.8 1703.4 1717.9 1700.5C1717.1 1697.7 1716 1694.8 1714.9 1692C1713.8 1689.1 1712 1686.3 1711.2 1683.4C1710.8 1681.9 1710.5 1680.4 1710.3 1679C1710.2 1677.6 1710 1676.2 1710 1674.9C1710 1674 1710.1 1673.1 1710.2 1672.3C1710.4 1670.8 1710.7 1669.4 1711.1 1667.9C1711.7 1665.9 1712.5 1663.8 1713.5 1661.8C1714.4 1659.7 1715.9 1657.7 1717 1655.6C1718.1 1653.5 1719.2 1651.3 1720.3 1649.2Z"/>
<path fill="#ffffff" d="M1744.1 1615.5C1745.1 1616.6 1745.9 1617.6 1746.9 1618.7C1748 1619.7 1749.3 1620.8 1750.5 1621.9C1751.5 1622.7 1753 1623.6 1753.6 1624.5C1754 1625 1754.4 1625.6 1754.4 1626.1C1754.4 1626.8 1754 1627.5 1753.6 1628.2C1753 1629.3 1751.1 1630.4 1750.2 1631.5C1748.9 1632.9 1747.6 1634.3 1747.1 1635.7C1746.4 1637.5 1746.1 1639.3 1745.7 1641.1C1745.2 1643.2 1744.8 1645.3 1744.3 1647.5L1743.3 1647.5C1742.9 1645.3 1742.5 1643.2 1742 1641.1C1741.6 1639.3 1741.3 1637.5 1740.6 1635.7C1740 1634.3 1738.7 1632.9 1737.4 1631.5C1736.5 1630.4 1734.6 1629.3 1734 1628.2C1733.6 1627.5 1733.2 1626.8 1733.2 1626.1C1733.2 1625.6 1733.7 1625 1734 1624.5C1734.7 1623.6 1736.1 1622.7 1737.1 1621.9C1738.3 1620.8 1739.7 1619.7 1740.7 1618.7C1741.8 1617.6 1742.6 1616.6 1743.5 1615.5Z"/>
<path fill="#d0d1e6" d="M1767.4 1612.4C1768.3 1613.6 1769.1 1614.8 1770.1 1616C1771.2 1617.2 1772.5 1618.4 1773.7 1619.6C1774.7 1620.6 1776.2 1621.6 1776.8 1622.6C1777.2 1623.2 1777.6 1623.8 1777.6 1624.4C1777.6 1625 1777.2 1625.6 1776.8 1626.2C1776.3 1627.1 1774.3 1628 1773.4 1628.9C1772.2 1630.1 1770.9 1631.3 1770.3 1632.5C1769.6 1634 1769.3 1635.5 1768.9 1637C1768.4 1638.8 1768 1640.6 1767.6 1642.4L1766.5 1642.4C1766.1 1640.6 1765.7 1638.8 1765.2 1637C1764.8 1635.5 1764.5 1634 1763.8 1632.5C1763.2 1631.3 1761.9 1630.1 1760.7 1628.9C1759.7 1628 1757.8 1627.1 1757.2 1626.2C1756.9 1625.6 1756.4 1625 1756.4 1624.4C1756.4 1623.8 1756.9 1623.2 1757.3 1622.6C1757.9 1621.6 1759.3 1620.6 1760.3 1619.6C1761.6 1618.4 1762.9 1617.2 1763.9 1616C1765 1614.8 1765.8 1613.6 1766.7 1612.4Z"/>
<path fill="#ffffff" d="M1790.6 1624.7C1791.7 1625.9 1792.7 1627 1793.9 1628.1C1795 1629.1 1796.4 1630.2 1797.4 1631.3C1798.3 1632.3 1799.2 1633.4 1799.7 1634.5C1800.1 1635.2 1800.5 1636 1800.7 1636.7C1800.8 1637.2 1800.9 1637.6 1800.9 1638.1C1800.9 1639.1 1800.7 1640.2 1800.6 1641.3C1800.4 1642.4 1800 1643.6 1799.6 1644.7C1798.9 1646.9 1797.1 1649.1 1796 1651.3C1794.9 1653.5 1793.8 1655.8 1792.9 1658C1792.1 1660.2 1791.4 1662.4 1790.7 1664.6L1789.8 1664.6C1789.1 1662.4 1788.5 1660.2 1787.6 1658C1786.7 1655.8 1785.7 1653.5 1784.6 1651.3C1783.4 1649.1 1781.7 1646.9 1780.9 1644.7C1780.5 1643.6 1780.1 1642.4 1780 1641.3C1779.8 1640.2 1779.7 1639.1 1779.7 1638.1C1779.7 1637.6 1779.8 1637.2 1779.9 1636.7C1780 1636 1780.4 1635.2 1780.8 1634.5C1781.3 1633.4 1782.2 1632.3 1783.2 1631.3C1784.1 1630.2 1785.6 1629.1 1786.7 1628.1C1787.8 1627 1788.9 1625.9 1789.9 1624.7Z"/>
<path fill="#238b45" d="M1813.8 1605.6C1814.7 1606.5 1815.5 1607.5 1816.6 1608.4C1817.6 1609.3 1819 1610.3 1820.2 1611.2C1821.2 1612 1822.7 1612.8 1823.3 1613.6C1823.6 1614 1824.1 1614.5 1824.1 1615C1824.1 1615.5 1823.7 1616 1823.3 1616.5C1822.7 1617.3 1820.8 1618.1 1819.9 1618.8C1818.6 1619.9 1817.3 1620.9 1816.7 1621.9C1816 1623.2 1815.7 1624.5 1815.3 1625.8C1814.8 1627.3 1814.5 1628.8 1814 1630.4L1813 1630.4C1812.5 1628.8 1812.1 1627.3 1811.7 1625.8C1811.2 1624.5 1810.9 1623.2 1810.2 1621.9C1809.7 1620.9 1808.4 1619.9 1807.1 1618.8C1806.2 1618.1 1804.3 1617.3 1803.7 1616.5C1803.3 1616 1802.9 1615.5 1802.9 1615C1802.9 1614.5 1803.3 1614 1803.7 1613.6C1804.3 1612.8 1805.8 1612 1806.8 1611.2C1808 1610.3 1809.4 1609.3 1810.4 1608.4C1811.4 1607.5 1812.2 1606.5 1813.2 1605.6Z"/>
<path fill="#ffffff" d="M1837 1615.5C1838 1616.9 1838.8 1618.3 1839.8 1619.7C1840.9 1621.1 1842.2 1622.5 1843.4 1623.9C1844.4 1625.1 1845.9 1626.3 1846.5 1627.4C1846.9 1628.1 1847.3 1628.8 1847.3 1629.5C1847.3 1630.1 1846.9 1630.7 1846.5 1631.3C1845.9 1632.2 1844 1633.1 1843.1 1634C1841.8 1635.2 1840.5 1636.4 1840 1637.6C1839.3 1639.1 1839 1640.6 1838.6 1642.1C1838.1 1643.9 1837.7 1645.7 1837.2 1647.5L1836.2 1647.5C1835.7 1645.7 1835.4 1643.9 1834.9 1642.1C1834.5 1640.6 1834.2 1639.1 1833.5 1637.6C1832.9 1636.4 1831.6 1635.2 1830.3 1634C1829.4 1633.1 1827.5 1632.2 1826.9 1631.3C1826.5 1630.7 1826.1 1630.1 1826.1 1629.5C1826.1 1628.8 1826.6 1628.1 1826.9 1627.4C1827.6 1626.3 1829 1625.1 1830 1623.9C1831.2 1622.5 1832.6 1621.1 1833.6 1619.7C1834.7 1618.3 1835.5 1616.9 1836.4 1615.5Z"/>
<path fill="#ffffff" d="M1860.3 1641.5C1861.4 1643.7 1862.4 1645.9 1863.5 1648.1C1864.7 1650.2 1866.1 1652.4 1867 1654.5C1868 1656.6 1868.9 1658.7 1869.4 1660.9C1869.8 1662.4 1870.2 1663.9 1870.3 1665.4C1870.4 1666.2 1870.5 1667.1 1870.5 1668C1870.5 1669.6 1870.4 1671.2 1870.2 1672.7C1870.1 1674.4 1869.7 1676.1 1869.3 1677.8C1868.6 1681.1 1866.8 1684.4 1865.7 1687.7C1864.5 1691 1863.5 1694.2 1862.6 1697.5C1861.7 1700.8 1861.1 1704.1 1860.4 1707.3L1859.5 1707.3C1858.8 1704.1 1858.1 1700.8 1857.3 1697.5C1856.4 1694.2 1855.3 1691 1854.2 1687.7C1853.1 1684.4 1851.3 1681.1 1850.6 1677.8C1850.2 1676.1 1849.8 1674.4 1849.6 1672.7C1849.5 1671.2 1849.3 1669.6 1849.3 1668C1849.3 1667.1 1849.4 1666.2 1849.5 1665.4C1849.7 1663.9 1850.1 1662.4 1850.5 1660.9C1851 1658.7 1851.9 1656.6 1852.8 1654.5C1853.8 1652.4 1855.2 1650.2 1856.3 1648.1C1857.5 1645.9 1858.5 1643.7 1859.6 1641.5Z"/>
<path fill="#addd8e" d="M1883.5 1608.1C1884.4 1609.2 1885.2 1610.2 1886.3 1611.2C1887.3 1612.3 1888.6 1613.3 1889.9 1614.3C1890.9 1615.2 1892.3 1616 1892.9 1616.9C1893.3 1617.4 1893.8 1617.9 1893.8 1618.4C1893.8 1619 1893.3 1619.6 1893 1620.1C1892.4 1621 1890.5 1621.8 1889.5 1622.7C1888.3 1623.8 1887 1625 1886.4 1626.1C1885.7 1627.5 1885.4 1629 1885 1630.4C1884.5 1632.1 1884.1 1633.8 1883.7 1635.5L1882.6 1635.5C1882.2 1633.8 1881.8 1632.1 1881.3 1630.4C1880.9 1629 1880.6 1627.5 1879.9 1626.1C1879.4 1625 1878 1623.8 1876.8 1622.7C1875.9 1621.8 1873.9 1621 1873.4 1620.1C1873 1619.6 1872.6 1619 1872.6 1618.4C1872.6 1617.9 1873 1617.4 1873.4 1616.9C1874 1616 1875.5 1615.2 1876.5 1614.3C1877.7 1613.3 1879 1612.3 1880.1 1611.2C1881.1 1610.2 1881.9 1609.2 1882.8 1608.1Z"/>
<path fill="#d0d1e6" d="M1906.7 1605.6C1907.6 1606.9 1908.4 1608.1 1909.5 1609.4C1910.5 1610.7 1911.9 1612 1913.1 1613.3C1914.1 1614.3 1915.6 1615.4 1916.2 1616.5C1916.5 1617.1 1917 1617.8 1917 1618.4C1917 1619 1916.6 1619.6 1916.2 1620.1C1915.6 1621 1913.7 1621.8 1912.8 1622.7C1911.5 1623.8 1910.2 1625 1909.6 1626.1C1908.9 1627.5 1908.6 1629 1908.2 1630.4C1907.7 1632.1 1907.4 1633.8 1906.9 1635.5L1905.9 1635.5C1905.4 1633.8 1905 1632.1 1904.5 1630.4C1904.1 1629 1903.8 1627.5 1903.1 1626.1C1902.6 1625 1901.3 1623.8 1900 1622.7C1899.1 1621.8 1897.2 1621 1896.6 1620.1C1896.2 1619.6 1895.8 1619 1895.8 1618.4C1895.8 1617.8 1896.2 1617.1 1896.6 1616.5C1897.2 1615.4 1898.7 1614.3 1899.7 1613.3C1900.9 1612 1902.2 1610.7 1903.3 1609.4C1904.3 1608.1 1905.1 1606.9 1906.1 1605.6Z"/>
<path fill="#6a51a3" d="M1929.9 1617.9C1930.9 1619.1 1931.7 1620.4 1932.7 1621.6C1933.8 1622.9 1935.1 1624.1 1936.3 1625.4C1937.3 1626.4 1938.8 1627.5 1939.4 1628.5C1939.8 1629.1 1940.2 1629.8 1940.2 1630.4C1940.2 1631 1939.8 1631.6 1939.4 1632.3C1938.8 1633.2 1936.9 1634.1 1936 1635.1C1934.7 1636.3 1933.4 1637.6 1932.9 1638.8C1932.2 1640.4 1931.9 1642 1931.5 1643.6C1931 1645.4 1930.6 1647.3 1930.1 1649.2L1929.1 1649.2C1928.6 1647.3 1928.3 1645.4 1927.8 1643.6C1927.4 1642 1927.1 1640.4 1926.4 1638.8C1925.8 1637.6 1924.5 1636.3 1923.2 1635.1C1922.3 1634.1 1920.4 1633.2 1919.8 1632.3C1919.4 1631.6 1919 1631 1919 1630.4C1919 1629.8 1919.5 1629.1 1919.8 1628.5C1920.4 1627.5 1921.9 1626.4 1922.9 1625.4C1924.1 1624.1 1925.5 1622.9 1926.5 1621.6C1927.6 1620.4 1928.4 1619.1 1929.3 1617.9Z"/>
<path fill="#d0d1e6" d="M1953.2 1634.7C1954.3 1636.3 1955.3 1637.9 1956.4 1639.6C1957.6 1641.1 1959 1642.7 1959.9 1644.3C1960.9 1645.9 1961.8 1647.4 1962.3 1649C1962.7 1650.1 1963.1 1651.2 1963.2 1652.4C1963.3 1653 1963.4 1653.7 1963.4 1654.3C1963.4 1655.5 1963.3 1656.7 1963.1 1657.8C1963 1659.1 1962.6 1660.3 1962.2 1661.6C1961.5 1664 1959.7 1666.4 1958.6 1668.9C1957.4 1671.3 1956.4 1673.7 1955.5 1676.1C1954.6 1678.6 1954 1681 1953.3 1683.4L1952.4 1683.4C1951.7 1681 1951 1678.6 1950.2 1676.1C1949.3 1673.7 1948.2 1671.3 1947.1 1668.9C1946 1666.4 1944.2 1664 1943.5 1661.6C1943.1 1660.3 1942.7 1659.1 1942.5 1657.8C1942.4 1656.7 1942.2 1655.5 1942.2 1654.3C1942.2 1653.7 1942.3 1653 1942.4 1652.4C1942.6 1651.2 1943 1650.1 1943.4 1649C1943.9 1647.4 1944.8 1645.9 1945.7 1644.3C1946.7 1642.7 1948.1 1641.1 1949.2 1639.6C1950.4 1637.9 1951.4 1636.3 1952.5 1634.7Z"/>
<path fill="#ffffff" d="M1976.4 1612.4C1977.5 1614.6 1978.5 1616.7 1979.7 1618.8C1980.8 1620.9 1982.2 1622.9 1983.2 1625C1984.1 1627 1985 1629.1 1985.5 1631.2C1985.9 1632.6 1986.3 1634.1 1986.5 1635.5C1986.6 1636.4 1986.7 1637.2 1986.7 1638.1C1986.7 1639.3 1986.5 1640.5 1986.4 1641.7C1986.2 1643 1985.8 1644.3 1985.4 1645.6C1984.7 1648.1 1982.9 1650.6 1981.8 1653C1980.7 1655.5 1979.6 1658 1978.7 1660.5C1977.9 1663 1977.2 1665.5 1976.5 1668L1975.6 1668C1974.9 1665.5 1974.3 1663 1973.4 1660.5C1972.5 1658 1971.5 1655.5 1970.3 1653C1969.2 1650.6 1967.4 1648.1 1966.7 1645.6C1966.3 1644.3 1965.9 1643 1965.8 1641.7C1965.6 1640.5 1965.5 1639.3 1965.5 1638.1C1965.5 1637.2 1965.6 1636.4 1965.7 1635.5C1965.8 1634.1 1966.2 1632.6 1966.6 1631.2C1967.1 1629.1 1968 1627 1969 1625C1969.9 1622.9 1971.3 1620.9 1972.5 1618.8C1973.6 1616.7 1974.6 1614.6 1975.7 1612.4Z"/>
</g>
<path fill="none" stroke="#333" stroke-width="1.05" d="M94.9 191.9V360M118.1 182.5V336.9M141.3 184.2V332M164.6 183.3V321.4M187.8 169.1V364M211 171.7V309.9M234.2 170.5V347.1M257.5 169.1V327.8M280.7 175.6V289.7M303.9 172.7V393.1M327.1 174.4V372.9M350.4 171V363.1M373.6 165.7V325.4M396.8 171.7V374.9M420 169.6V400.3M443.3 180.4V242.5M466.5 163.3V375.1M489.7 172.2V304.6M512.9 166.2V322.3M536.2 166.5V349.7M559.4 169.3V315.9M582.6 171.3V323.1M605.8 169.3V291.7M629.1 167V316.3M652.3 156.2V344.9M675.5 162.2V389.7M698.7 171.3V289.3M722 163.3V317.1M745.2 166.5V299.6M768.4 166.2V324.8M791.6 156.7V324.3M814.9 161V291.1M838.1 158V371.2M861.3 165.3V316.8M884.5 163.6V317.1M907.7 171.7V247.7M931 166.5V260.9M954.2 161.9V266.5M977.4 162.4V296.9M1000.6 169.6V277.3M1023.9 161V286.8M1047.1 166.5V238.7M1070.3 156.4V272.2M1093.5 155.4V285.7M1116.8 158.1V251.4M1140 153.3V287.1M1163.2 147.3V256.2M1186.4 151.1V235.3M1209.7 155.4V255.4M1232.9 149.5V220.2M1256.1 145.6V276.5M1279.3 147.3V299.1M1302.6 146.1V235.7M1325.8 147V220.2M1349 143.9V214.6M1372.2 145.1V251.6M1395.5 143V201.3M1418.7 145.6V209.9M1441.9 141.8V220.7M1465.1 142.7V198.8M1488.4 143V234.8M1511.6 141.8V273.9M1534.8 143.5V223.3M1558 142.2V269.6M1581.2 141.8V280.6M1604.5 142.2V203.6M1627.7 142.2V201.3M1650.9 142.2V327.8M1674.1 142.2V203.1M1697.4 142.2V218.2M1720.6 143.5V200.1M1743.8 142.2V199.6M1767 142.2V217.1M1790.3 142.2V189.3M1813.5 142.2V229.1M1836.7 141.8V220.2M1859.9 142.2V203.4M1883.2 127.1V236.5M1906.4 127.1V227.9M1929.6 127.1V218.2M1952.8 126.7V222.3M1976.1 112.2V230.5M94.9 640.4V765.5M118.1 708.7V765.5M141.3 714.7V765.5M164.6 646.4V765.5M187.8 678.7V765.5M211 696.4V765.5M234.2 709.6V765.5M257.5 671V765.5M280.7 632.4V765.5M303.9 731.9V765.5M327.1 746.1V765.5M350.4 703.6V765.5M373.6 746.4V765.5M396.8 716.4V765.5M420 616.4V765.5M443.3 644V765.5M466.5 683.8V765.5M489.7 649V765.5M512.9 731V765.5M536.2 631.5V765.5M559.4 724.2V765.5M582.6 736.2V765.5M605.8 684.2V765.5M629.1 730.7V765.5M652.3 667.9V765.5M675.5 704.4V765.5M698.7 663.6V765.5M722 715.6V765.5M745.2 741.3V765.5M768.4 629.5V765.5M791.6 688.1V765.5M814.9 739.2V765.5M838.1 701.9V765.5M861.3 601.2V754.2M884.5 647V765.5M907.7 718.7V765.5M931 684.7V765.5M954.2 637V765.5M977.4 749.9V765.5M1000.6 692.6V765.5M1023.9 741.3V765.5M1047.1 720.7V765.5M1070.3 749.9V765.5M1093.5 645.2V765.5M1116.8 644.4V765.5M1140 686.4V765.5M1163.2 586.9V765.5M1186.4 623V765.5M1209.7 723.3V765.5M1232.9 611.8V763.9M1256.1 743V765.5M1279.3 664.1V765.5M1302.6 741.3V765.5M1325.8 694.1V765.5M1349 631.5V765.5M1372.2 746.4V765.5M1395.5 689.8V765.5M1418.7 686.4V765.5M1441.9 734.4V765.5M1465.1 655.5V765.5M1488.4 732.7V765.5M1511.6 737V765.5M1534.8 737V765.5M1558 749V765.5M1581.2 739.6V765.5M1604.5 654.7V765.5M1627.7 660.3V765.5M1650.9 750.7V765.5M1674.1 735.3V765.5M1697.4 726.7V765.5M1720.6 540.3V740.4M1743.8 743V765.5M1767 737V765.5M1790.3 736.2V765.5M1813.5 751.6V765.5M1836.7 650.1V765.5M1859.9 685.6V765.5M1883.2 707V765.5M1906.4 598.1V765.5M1929.6 673.6V765.5M1952.8 621.6V765.5M1976.1 500.7V764.5M466.5 842.2V1123.8M1256.1 842.2V1121.7M1302.6 842.2V1114.9M1372.2 843V1103.2M1395.5 843V1094.3M1418.7 842.2V1097.7M1441.9 843.5V1109.7M1465.1 843.5V1115.7M1488.4 843V1123.8M1511.6 842.2V1116.9M1534.8 842.7V1082.3M1558 842.7V1102.9M1581.2 842.7V1104.2M1604.5 843V1115.7M1650.9 843.5V1106.3M1674.1 842.7V1109.4M1697.4 843V1113.2M1720.6 842.7V1116.6M1743.8 844.2V1102M1767 842.7V1103.7M1790.3 842.7V1119.2M1813.5 843.5V1098.6M1836.7 842.7V1119.5M1859.9 842.7V1099.4M1883.2 842.7V1114.9M1906.4 842.7V1115.7M1929.6 842.7V1107.2M1952.8 842.7V1119.2M1976.1 843.9V1113.7M94.9 1361.6V1479M118.1 1348.5V1478.8M141.3 1367.3V1495.9M164.6 1375.8V1479M187.8 1348.8V1479M211 1372.8V1478.8M234.2 1361.6V1478.8M257.5 1352.6V1478.8M280.7 1352.6V1478.8M303.9 1359.4V1478.8M327.1 1383.4V1495.9M350.4 1371.9V1495.9M373.6 1354.8V1478.8M396.8 1357V1478.8M420 1346.8V1479M443.3 1379.3V1479M466.5 1322.8V1479M489.7 1339.1V1479M512.9 1361.3V1479M536.2 1346.8V1479M559.4 1375.8V1479M582.6 1383.5V1479M605.8 1340.9V1479M629.1 1383.5V1479M652.3 1354.5V1479M675.5 1358.7V1479M698.7 1345.1V1479M722 1352.4V1479M745.2 1383.5V1479M768.4 1348.5V1479M791.6 1336V1479M814.9 1352.4V1479M838.1 1342.2V1479M861.3 1336V1479M884.5 1352.4V1479M907.7 1369V1479M931 1359V1479M954.2 1346.8V1479M977.4 1359.1V1479M1000.6 1363.9V1479M1023.9 1375.2V1479M1047.1 1366.4V1479M1070.3 1375.6V1478.9M1093.5 1349.5V1467M1116.8 1324.7V1450.4M1140 1348.6V1479M1163.2 1340.6V1496M1186.4 1331.2V1467M1209.7 1343.5V1479M1232.9 1298.1V1450.4M1256.1 1345.2V1478.9M1279.3 1354.3V1478.9M1302.6 1345.2V1478.9M1325.8 1339.2V1478.9M1349 1331.2V1496M1372.2 1346.9V1478.9M1395.5 1311V1479M1418.7 1316.5V1479M1441.9 1330.7V1479M1465.1 1295.7V1479M1488.4 1332.8V1479M1511.6 1327.3V1479M1534.8 1331.2V1479M1558 1343.5V1479M1581.2 1307.3V1479M1604.5 1280.3V1450.4M1627.7 1316.2V1450.4M1650.9 1330.2V1479M1674.1 1325.3V1478.9M1697.4 1324.5V1478.9M1720.6 1259.8V1379.5M1743.8 1330.4V1478.9M1767 1321.4V1478.9M1790.3 1334.2V1478.9M1813.5 1328.2V1478.9M1836.7 1276.6V1479M1859.9 1294.9V1479M1883.2 1280.3V1479M1906.4 1258.6V1450.4M1929.6 1274.9V1479M1952.8 1273.1V1479M1976.1 1221.8V1404.8M94.9 1674.3V1753.9M118.1 1650.4V1688.5M141.3 1638.6V1670.6M164.6 1690.6V1773.7M187.8 1661.2V1722.7M211 1676.6V1773.7M234.2 1666.3V1727.9M257.5 1680.8V1773.7M280.7 1686.3V1773.7M303.9 1656V1709.1M327.1 1654.3V1705.6M350.4 1665.8V1762.6M373.6 1618.4V1637.7M396.8 1668.5V1734.7M420 1688.5V1773.7M443.3 1707.3V1774M466.5 1638.6V1698.8M489.7 1681.7V1773.7M512.9 1649.2V1697.1M536.2 1674.3V1753.9M559.4 1672.6V1753.9M582.6 1662.9V1742.2M605.8 1680.3V1773.7M629.1 1661.2V1719.3M652.3 1680.3V1773.7M675.5 1665.4V1717.6M698.7 1682.5V1773.7M722 1652.1V1710.8M745.2 1658.1V1734.4M768.4 1692.5V1773.7M791.6 1658.1V1706.5M814.9 1650.4V1710.4M838.1 1653.5V1710.8M861.3 1700.2V1774M884.5 1690.6V1774M907.7 1669.2V1753.9M931 1695.9V1774M954.2 1669.7V1753.9M977.4 1647.5V1697.9M1000.6 1686.3V1773.7M1023.9 1663.2V1742.2M1047.1 1667.2V1753.9M1070.3 1647.5V1692M1093.5 1670.6V1782.3M1116.8 1678.6V1773.7M1140 1662V1722.7M1163.2 1684.3V1782.3M1186.4 1679.5V1782.3M1209.7 1670.6V1753.9M1232.9 1675.7V1773.7M1256.1 1625.3V1678.3M1279.3 1678.6V1773.7M1302.6 1630.4V1695.4M1325.8 1681.3V1773.7M1349 1677.4V1782.3M1372.2 1622.7V1680M1395.5 1644.1V1729.6M1418.7 1634.3V1685.1M1441.9 1627V1692M1465.1 1642.4V1715.9M1488.4 1627.5V1681.7M1511.6 1619.3V1675.4M1534.8 1620.1V1666.3M1558 1600.8V1638.9M1581.2 1580.8V1615M1604.5 1630.7V1683.4M1627.7 1670.6V1753.9M1650.9 1609.9V1656M1674.1 1614.1V1657.7M1697.4 1621.8V1678.3M1720.6 1649.2V1753.9M1743.8 1615.5V1659.5M1767 1612.4V1661.2M1790.3 1624.7V1680M1813.5 1605.6V1642.4M1836.7 1615.5V1661.2M1859.9 1641.5V1715M1883.2 1608.1V1648.3M1906.4 1605.6V1647.5M1929.6 1617.9V1668M1952.8 1634.7V1695.4M1976.1 1607.8V1676.6"/>
<path fill="#fff" stroke="#333" stroke-width="1.05" d="M93.2 215.9h3.5V243.4h-3.5zM116.4 207.3h3.5V240.8h-3.5zM139.6 203.4h3.5V233.3h-3.5zM162.8 201.7h3.5V226.2h-3.5zM186 198.3h3.5V229.6h-3.5zM209.3 202.5h3.5V231.4h-3.5zM232.5 197.4h3.5V228.3h-3.5zM255.7 196.5h3.5V226.2h-3.5zM278.9 196.2h3.5V219.4h-3.5zM302.2 197.6h3.5V226.2h-3.5zM325.4 196.2h3.5V220.6h-3.5zM348.6 196.2h3.5V225h-3.5zM371.8 195.7h3.5V231.4h-3.5zM395.1 195h3.5V226.6h-3.5zM418.3 194h3.5V220.2h-3.5zM441.5 195.7h3.5V209.4h-3.5zM464.7 194.5h3.5V227.9h-3.5zM488 191.6h3.5V219h-3.5zM511.2 192.4h3.5V227.6h-3.5zM534.4 190.7h3.5V220.7h-3.5zM557.6 191.4h3.5V222.8h-3.5zM580.9 194h3.5V218.8h-3.5zM604.1 189.3h3.5V213h-3.5zM627.3 189.3h3.5V221.6h-3.5zM650.5 192.4h3.5V228.8h-3.5zM673.8 187.6h3.5V211.1h-3.5zM697 188.5h3.5V205.1h-3.5zM720.2 187.6h3.5V210.3h-3.5zM743.4 186.4h3.5V208.2h-3.5zM766.7 185.4h3.5V207.3h-3.5zM789.9 185.4h3.5V213.4h-3.5zM813.1 183.7h3.5V213h-3.5zM836.3 183.9h3.5V216.8h-3.5zM859.5 185.4h3.5V211.3h-3.5zM882.8 183.9h3.5V212.5h-3.5zM906 185.9h3.5V200.1h-3.5zM929.2 182.5h3.5V200.1h-3.5zM952.4 182.1h3.5V203.1h-3.5zM975.7 180.8h3.5V204.8h-3.5zM998.9 181.6h3.5V196.2h-3.5zM1022.1 179.9h3.5V203.6h-3.5zM1045.3 181.6h3.5V195.3h-3.5zM1068.6 179.4h3.5V196.2h-3.5zM1091.8 176.5h3.5V197.4h-3.5zM1115 174.8h3.5V193.1h-3.5zM1138.2 175.3h3.5V200h-3.5zM1161.5 174.4h3.5V200h-3.5zM1184.7 170.8h3.5V183.7h-3.5zM1207.9 170.8h3.5V185.4h-3.5zM1231.1 164.1h3.5V182.1h-3.5zM1254.4 165h3.5V185.9h-3.5zM1277.6 177.3h3.5V199.1h-3.5zM1300.8 160.2h3.5V178.2h-3.5zM1324 159.3h3.5V176.8h-3.5zM1347.3 159.8h3.5V174.2h-3.5zM1370.5 158.5h3.5V176.5h-3.5zM1393.7 160.2h3.5V172.2h-3.5zM1416.9 158.5h3.5V169.6h-3.5zM1440.2 157.3h3.5V174.2h-3.5zM1463.4 157.6h3.5V170.1h-3.5zM1486.6 156.7h3.5V171.3h-3.5zM1509.8 155.4h3.5V173h-3.5zM1533.1 155h3.5V170.5h-3.5zM1556.3 154.5h3.5V170.8h-3.5zM1579.5 153.7h3.5V171.3h-3.5zM1602.7 154.5h3.5V168.8h-3.5zM1625.9 154.5h3.5V169.1h-3.5zM1649.2 153.7h3.5V169.6h-3.5zM1672.4 154.5h3.5V165.7h-3.5zM1695.6 153.3h3.5V166.2h-3.5zM1718.8 153.3h3.5V164.5h-3.5zM1742.1 153.3h3.5V164.5h-3.5zM1765.3 151.9h3.5V164h-3.5zM1788.5 150.4h3.5V161h-3.5zM1811.7 149.9h3.5V161.9h-3.5zM1835 149.5h3.5V161.6h-3.5zM1858.2 148.7h3.5V157.6h-3.5zM1881.4 143.9h3.5V164.8h-3.5zM1904.6 142.7h3.5V161.4h-3.5zM1927.9 139.9h3.5V156.4h-3.5zM1951.1 135.7h3.5V150.2h-3.5zM1974.3 129h3.5V160.2h-3.5zM93.2 695.8h3.5V730.2h-3.5zM116.4 744.2h3.5V759.8h-3.5zM139.6 751.6h3.5V761.9h-3.5zM162.8 705.6h3.5V736.2h-3.5zM186 737.4h3.5V755h-3.5zM209.3 744.2h3.5V761.4h-3.5zM232.5 743.9h3.5V759.3h-3.5zM255.7 724.2h3.5V748.5h-3.5zM278.9 705.6h3.5V743h-3.5zM302.2 752.5h3.5V761.4h-3.5zM325.4 757.6h3.5V763.6h-3.5zM348.6 739.2h3.5V757.6h-3.5zM371.8 760.5h3.5V764.1h-3.5zM395.1 746.4h3.5V761.4h-3.5zM418.3 698.8h3.5V740.4h-3.5zM441.5 724.7h3.5V751.6h-3.5zM464.7 740.4h3.5V758.8h-3.5zM488 714.4h3.5V745.1h-3.5zM511.2 755.5h3.5V763.3h-3.5zM534.4 709.1h3.5V743.4h-3.5zM557.6 749.9h3.5V761.4h-3.5zM580.9 755.9h3.5V763.3h-3.5zM604.1 732.7h3.5V754.5h-3.5zM627.3 753.3h3.5V762.2h-3.5zM650.5 726.4h3.5V753.7h-3.5zM673.8 735.8h3.5V753.7h-3.5zM697 716.8h3.5V739.1h-3.5zM720.2 736.2h3.5V753.3h-3.5zM743.4 758.8h3.5V763.9h-3.5zM766.7 690.7h3.5V724.2h-3.5zM789.9 729.3h3.5V748.2h-3.5zM813.1 757.6h3.5V763.6h-3.5zM836.3 744.7h3.5V760.2h-3.5zM859.5 656.4h3.5V692.8h-3.5zM882.8 708.7h3.5V746.1h-3.5zM906 744.2h3.5V759.3h-3.5zM929.2 726.4h3.5V753.7h-3.5zM952.4 711.8h3.5V745.1h-3.5zM975.7 759.3h3.5V763.9h-3.5zM998.9 731.4h3.5V755h-3.5zM1022.1 755.9h3.5V763.3h-3.5zM1045.3 747.7h3.5V759.8h-3.5zM1068.6 760.2h3.5V764.5h-3.5zM1091.8 703.6h3.5V739.1h-3.5zM1115 689.3h3.5V724.7h-3.5zM1138.2 737.4h3.5V754.2h-3.5zM1161.5 694.1h3.5V736.2h-3.5zM1184.7 685.6h3.5V726.2h-3.5zM1207.9 751.1h3.5V761.9h-3.5zM1231.1 672.7h3.5V708.7h-3.5zM1254.4 758.8h3.5V763.9h-3.5zM1277.6 730.2h3.5V753.7h-3.5zM1300.8 758.8h3.5V763.9h-3.5zM1324 738.7h3.5V758.1h-3.5zM1347.3 709.6h3.5V742.2h-3.5zM1370.5 759.3h3.5V763.9h-3.5zM1393.7 734.4h3.5V756.7h-3.5zM1416.9 735.6h3.5V757.9h-3.5zM1440.2 756.4h3.5V763.3h-3.5zM1463.4 714.4h3.5V742.2h-3.5zM1486.6 756.7h3.5V763.3h-3.5zM1509.8 757.3h3.5V763.3h-3.5zM1533.1 756.7h3.5V763.3h-3.5zM1556.3 760.5h3.5V764.3h-3.5zM1579.5 757.6h3.5V763.6h-3.5zM1602.7 705.6h3.5V737.9h-3.5zM1625.9 714.4h3.5V742.5h-3.5zM1649.2 761.4h3.5V764.6h-3.5zM1672.4 757.3h3.5V763.3h-3.5zM1695.6 755.4h3.5V763.3h-3.5zM1718.8 618.7h3.5V673.6h-3.5zM1742.1 759.3h3.5V763.9h-3.5zM1765.3 757.9h3.5V763.6h-3.5zM1788.5 756.7h3.5V763.3h-3.5zM1811.7 761.4h3.5V764.6h-3.5zM1835 712.5h3.5V744.4h-3.5zM1858.2 727.2h3.5V751.6h-3.5zM1881.4 743.4h3.5V758.8h-3.5zM1904.6 711.3h3.5V746.1h-3.5zM1927.9 733.6h3.5V755.9h-3.5zM1951.1 707.3h3.5V747.7h-3.5zM1974.3 620.4h3.5V683.8h-3.5zM464.7 881.1h3.5V976.5h-3.5zM1254.4 884.5h3.5V970.8h-3.5zM1300.8 882.5h3.5V975.6h-3.5zM1370.5 887.1h3.5V969.9h-3.5zM1393.7 878.5h3.5V966.5h-3.5zM1416.9 883.7h3.5V976.5h-3.5zM1440.2 886.4h3.5V976.5h-3.5zM1463.4 881.3h3.5V973.7h-3.5zM1486.6 882.5h3.5V972h-3.5zM1509.8 880.7h3.5V971.1h-3.5zM1533.1 882.5h3.5V972.5h-3.5zM1556.3 886.4h3.5V972h-3.5zM1579.5 878.5h3.5V967h-3.5zM1602.7 880.7h3.5V971.7h-3.5zM1649.2 879.5h3.5V973.4h-3.5zM1672.4 882.5h3.5V970.3h-3.5zM1695.6 884.5h3.5V975.4h-3.5zM1718.8 887.1h3.5V985.4h-3.5zM1742.1 885.4h3.5V970.8h-3.5zM1765.3 887.3h3.5V970.3h-3.5zM1788.5 883.3h3.5V978.2h-3.5zM1811.7 888.5h3.5V977.1h-3.5zM1835 882.5h3.5V975.6h-3.5zM1858.2 887.1h3.5V972.5h-3.5zM1881.4 881.6h3.5V980.2h-3.5zM1904.6 881.6h3.5V981.9h-3.5zM1927.9 880.7h3.5V967.7h-3.5zM1951.1 887.3h3.5V980.2h-3.5zM1974.3 892.8h3.5V978.2h-3.5zM93.2 1388.1h3.5V1412.5h-3.5zM116.4 1387.6h3.5V1433.1h-3.5zM139.6 1404.4h3.5V1437.9h-3.5zM162.8 1404.4h3.5V1433.1h-3.5zM186 1383.8h3.5V1421h-3.5zM209.3 1412.5h3.5V1450.2h-3.5zM232.5 1404.4h3.5V1437h-3.5zM255.7 1398.4h3.5V1433.1h-3.5zM278.9 1398.4h3.5V1433.1h-3.5zM302.2 1398.4h3.5V1433.1h-3.5zM325.4 1421.6h3.5V1450.2h-3.5zM348.6 1409.6h3.5V1437.9h-3.5zM371.8 1398.4h3.5V1433.1h-3.5zM395.1 1412.5h3.5V1450.2h-3.5zM418.3 1383.5h3.5V1421.6h-3.5zM441.5 1421.6h3.5V1450.2h-3.5zM464.7 1375.8h3.5V1421.6h-3.5zM488 1387.6h3.5V1421.6h-3.5zM511.2 1398.4h3.5V1433.1h-3.5zM534.4 1387.6h3.5V1421.6h-3.5zM557.6 1421.6h3.5V1450.2h-3.5zM580.9 1412.5h3.5V1450.2h-3.5zM604.1 1404.4h3.5V1433.6h-3.5zM627.3 1412.5h3.5V1450.2h-3.5zM650.5 1398.4h3.5V1433.1h-3.5zM673.8 1392.9h3.5V1433.1h-3.5zM697 1387.6h3.5V1421.6h-3.5zM720.2 1383.5h3.5V1421.6h-3.5zM743.4 1421.6h3.5V1450.2h-3.5zM766.7 1387.6h3.5V1421.6h-3.5zM789.9 1372.3h3.5V1404.4h-3.5zM813.1 1392.9h3.5V1433.1h-3.5zM836.3 1392.9h3.5V1433.1h-3.5zM859.5 1366.3h3.5V1404.4h-3.5zM882.8 1398.4h3.5V1433.1h-3.5zM906 1404.4h3.5V1433.1h-3.5zM929.2 1404.4h3.5V1433.1h-3.5zM952.4 1382.5h3.5V1421.6h-3.5zM975.7 1404.4h3.5V1450.2h-3.5zM998.9 1404.4h3.5V1433.1h-3.5zM1022.1 1412.5h3.5V1433.1h-3.5zM1045.3 1404.4h3.5V1433.1h-3.5zM1068.6 1412.5h3.5V1450.2h-3.5zM1091.8 1380.4h3.5V1409.6h-3.5zM1115 1352.4h3.5V1383.8h-3.5zM1138.2 1383.5h3.5V1421.6h-3.5zM1161.5 1389.3h3.5V1438.2h-3.5zM1184.7 1368.4h3.5V1404.4h-3.5zM1207.9 1404.4h3.5V1433.1h-3.5zM1231.1 1342.1h3.5V1369.2h-3.5zM1254.4 1392.9h3.5V1450.2h-3.5zM1277.6 1398.4h3.5V1433.1h-3.5zM1300.8 1392.9h3.5V1433.1h-3.5zM1324 1392.9h3.5V1433.1h-3.5zM1347.3 1369.2h3.5V1414.7h-3.5zM1370.5 1398.4h3.5V1450.2h-3.5zM1393.7 1350.7h3.5V1398.4h-3.5zM1416.9 1354.7h3.5V1404.4h-3.5zM1440.2 1387.6h3.5V1433.1h-3.5zM1463.4 1331.5h3.5V1366.3h-3.5zM1486.6 1379.5h3.5V1433.1h-3.5zM1509.8 1369.2h3.5V1421.6h-3.5zM1533.1 1372.3h3.5V1433.1h-3.5zM1556.3 1383.5h3.5V1433.1h-3.5zM1579.5 1346.9h3.5V1392.9h-3.5zM1602.7 1315.7h3.5V1348.7h-3.5zM1625.9 1354.7h3.5V1387.6h-3.5zM1649.2 1375.8h3.5V1421.6h-3.5zM1672.4 1368.4h3.5V1421.6h-3.5zM1695.6 1369.2h3.5V1433.1h-3.5zM1718.8 1292.9h3.5V1319.2h-3.5zM1742.1 1379.5h3.5V1433.1h-3.5zM1765.3 1375.8h3.5V1433.1h-3.5zM1788.5 1372.3h3.5V1433.1h-3.5zM1811.7 1375.8h3.5V1433.1h-3.5zM1835 1307.2h3.5V1339.2h-3.5zM1858.2 1336.3h3.5V1372.3h-3.5zM1881.4 1322.1h3.5V1366.3h-3.5zM1904.6 1292.4h3.5V1332h-3.5zM1927.9 1316.1h3.5V1364.1h-3.5zM1951.1 1309.2h3.5V1348.7h-3.5zM1974.3 1258.6h3.5V1286.4h-3.5zM93.2 1689.4h3.5V1702.6h-3.5zM116.4 1658.6h3.5V1668.4h-3.5zM139.6 1647.5h3.5V1654.3h-3.5zM162.8 1707.7h3.5V1727.4h-3.5zM186 1674.3h3.5V1686.3h-3.5zM209.3 1700.2h3.5V1718.1h-3.5zM232.5 1681.3h3.5V1694.5h-3.5zM255.7 1697.9h3.5V1713.7h-3.5zM278.9 1706.5h3.5V1727.4h-3.5zM302.2 1671.4h3.5V1682.5h-3.5zM325.4 1666.8h3.5V1676h-3.5zM348.6 1690.6h3.5V1707h-3.5zM371.8 1624.4h3.5V1629.5h-3.5zM395.1 1685.1h3.5V1700.5h-3.5zM418.3 1710.4h3.5V1733.9h-3.5zM441.5 1733.9h3.5V1753.9h-3.5zM464.7 1653.5h3.5V1667.2h-3.5zM488 1704.8h3.5V1727.4h-3.5zM511.2 1662.9h3.5V1673.1h-3.5zM534.4 1695.9h3.5V1714.2h-3.5zM557.6 1689.4h3.5V1704.8h-3.5zM580.9 1679.1h3.5V1690.6h-3.5zM604.1 1700.2h3.5V1722.4h-3.5zM627.3 1676.6h3.5V1687.7h-3.5zM650.5 1710.4h3.5V1733.9h-3.5zM673.8 1676h3.5V1686.3h-3.5zM697 1700.2h3.5V1717.6h-3.5zM720.2 1664.6h3.5V1673.1h-3.5zM743.4 1675.7h3.5V1687.7h-3.5zM766.7 1714.2h3.5V1733.9h-3.5zM789.9 1667.7h3.5V1679.1h-3.5zM813.1 1666.8h3.5V1677.9h-3.5zM836.3 1669.2h3.5V1678.8h-3.5zM859.5 1727.9h3.5V1753.9h-3.5zM882.8 1714.2h3.5V1742.2h-3.5zM906 1685.1h3.5V1697.9h-3.5zM929.2 1717.6h3.5V1742.2h-3.5zM952.4 1684.6h3.5V1697.9h-3.5zM975.7 1661.7h3.5V1671.4h-3.5zM998.9 1704.8h3.5V1722.4h-3.5zM1022.1 1679.1h3.5V1690.6h-3.5zM1045.3 1683.4h3.5V1695.9h-3.5zM1068.6 1656.9h3.5V1664.2h-3.5zM1091.8 1693.3h3.5V1710.4h-3.5zM1115 1692.3h3.5V1707.3h-3.5zM1138.2 1676.6h3.5V1688.9h-3.5zM1161.5 1715.9h3.5V1742.2h-3.5zM1184.7 1704.4h3.5V1722.4h-3.5zM1207.9 1690.6h3.5V1707.3h-3.5zM1231.1 1700.2h3.5V1717.6h-3.5zM1254.4 1640.6h3.5V1652.6h-3.5zM1277.6 1700.2h3.5V1722.4h-3.5zM1300.8 1642.4h3.5V1655.5h-3.5zM1324 1700.2h3.5V1722.4h-3.5zM1347.3 1715.9h3.5V1750.1h-3.5zM1370.5 1634.7h3.5V1646.6h-3.5zM1393.7 1661.2h3.5V1676.6h-3.5zM1416.9 1645.4h3.5V1658.1h-3.5zM1440.2 1643.2h3.5V1658.1h-3.5zM1463.4 1656.9h3.5V1671.8h-3.5zM1486.6 1640.6h3.5V1653.5h-3.5zM1509.8 1629.5h3.5V1640.1h-3.5zM1533.1 1630h3.5V1640.1h-3.5zM1556.3 1610.2h3.5V1617.6h-3.5zM1579.5 1587.3h3.5V1593.6h-3.5zM1602.7 1643.6h3.5V1654.3h-3.5zM1625.9 1689.4h3.5V1704.8h-3.5zM1649.2 1619.3h3.5V1628.7h-3.5zM1672.4 1623.2h3.5V1633.8h-3.5zM1695.6 1637.6h3.5V1648.3h-3.5zM1718.8 1670.6h3.5V1687.7h-3.5zM1742.1 1623.5h3.5V1634.7h-3.5zM1765.3 1622.7h3.5V1632.1h-3.5zM1788.5 1635.5h3.5V1648.7h-3.5zM1811.7 1614.1h3.5V1621.8h-3.5zM1835 1627.3h3.5V1636.4h-3.5zM1858.2 1664.2h3.5V1682.2h-3.5zM1881.4 1616.7h3.5V1625.6h-3.5zM1904.6 1616.7h3.5V1625.3h-3.5zM1927.9 1628.7h3.5V1637.6h-3.5zM1951.1 1649.5h3.5V1664.2h-3.5zM1974.3 1631.8h3.5V1646.1h-3.5z"/>
<path fill="none" stroke="#333" stroke-width="2.0" d="M93.2 227.9h3.5M116.4 221.9h3.5M139.6 214.6h3.5M162.8 212.3h3.5M186 211.6h3.5M209.3 214.2h3.5M232.5 209.1h3.5M255.7 208.7h3.5M278.9 206.8h3.5M302.2 211.6h3.5M325.4 206.8h3.5M348.6 207.3h3.5M371.8 211.1h3.5M395.1 207.3h3.5M418.3 206.1h3.5M441.5 202.7h3.5M464.7 209.1h3.5M488 203.6h3.5M511.2 208.6h3.5M534.4 202.5h3.5M557.6 203.6h3.5M580.9 204.4h3.5M604.1 199.6h3.5M627.3 202.7h3.5M650.5 209.1h3.5M673.8 199.1h3.5M697 195.7h3.5M720.2 197.9h3.5M743.4 195.3h3.5M766.7 196.5h3.5M789.9 197.6h3.5M813.1 196.2h3.5M836.3 197.6h3.5M859.5 195.3h3.5M882.8 194.5h3.5M906 192.8h3.5M929.2 189.3h3.5M952.4 191.9h3.5M975.7 191.9h3.5M998.9 188.1h3.5M1022.1 188.5h3.5M1045.3 188.1h3.5M1068.6 186.8h3.5M1091.8 183.9h3.5M1115 182.8h3.5M1138.2 186.8h3.5M1161.5 185.9h3.5M1184.7 177h3.5M1207.9 177.7h3.5M1231.1 172.5h3.5M1254.4 172.7h3.5M1277.6 185.9h3.5M1300.8 169.1h3.5M1324 165.3h3.5M1347.3 166.5h3.5M1370.5 164.5h3.5M1393.7 165.7h3.5M1416.9 163.6h3.5M1440.2 163.6h3.5M1463.4 163.6h3.5M1486.6 163.6h3.5M1509.8 162.8h3.5M1533.1 161.9h3.5M1556.3 162.2h3.5M1579.5 161h3.5M1602.7 161.4h3.5M1625.9 161h3.5M1649.2 159.3h3.5M1672.4 159.3h3.5M1695.6 159h3.5M1718.8 158.8h3.5M1742.1 158.5h3.5M1765.3 157.1h3.5M1788.5 155.5h3.5M1811.7 155h3.5M1835 154.7h3.5M1858.2 152.5h3.5M1881.4 152.5h3.5M1904.6 151.1h3.5M1927.9 147.3h3.5M1951.1 140.5h3.5M1974.3 142.5h3.5M93.2 711.6h3.5M116.4 753.7h3.5M139.6 758.5h3.5M162.8 721.9h3.5M186 746.4h3.5M209.3 755.9h3.5M232.5 753.3h3.5M255.7 736.7h3.5M278.9 725h3.5M302.2 757.9h3.5M325.4 761h3.5M348.6 747.7h3.5M371.8 762.7h3.5M395.1 754.7h3.5M418.3 721.6h3.5M441.5 738.7h3.5M464.7 750.2h3.5M488 729.3h3.5M511.2 759.8h3.5M534.4 726.7h3.5M557.6 755.9h3.5M580.9 761h3.5M604.1 745.6h3.5M627.3 758.5h3.5M650.5 741.3h3.5M673.8 746.1h3.5M697 727.6h3.5M720.2 744.7h3.5M743.4 761.9h3.5M766.7 708.4h3.5M789.9 739.2h3.5M813.1 760.5h3.5M836.3 753.7h3.5M859.5 673.6h3.5M882.8 729.6h3.5M906 753.3h3.5M929.2 740.8h3.5M952.4 729.8h3.5M975.7 762.2h3.5M998.9 743.9h3.5M1022.1 760.2h3.5M1045.3 754.2h3.5M1068.6 762.7h3.5M1091.8 723h3.5M1115 705.6h3.5M1138.2 746.4h3.5M1161.5 715.6h3.5M1184.7 706.5h3.5M1207.9 756.7h3.5M1231.1 689.3h3.5M1254.4 761.5h3.5M1277.6 741.3h3.5M1300.8 761.5h3.5M1324 749.4h3.5M1347.3 727.9h3.5M1370.5 761.9h3.5M1393.7 746.4h3.5M1416.9 749h3.5M1440.2 760.2h3.5M1463.4 727.6h3.5M1486.6 760.2h3.5M1509.8 760.5h3.5M1533.1 760.5h3.5M1556.3 762.7h3.5M1579.5 761h3.5M1602.7 723h3.5M1625.9 729.6h3.5M1649.2 763.3h3.5M1672.4 760.5h3.5M1695.6 760.2h3.5M1718.8 645.8h3.5M1742.1 761.9h3.5M1765.3 761h3.5M1788.5 760.5h3.5M1811.7 763.3h3.5M1835 729.8h3.5M1858.2 740.8h3.5M1881.4 751.1h3.5M1904.6 729.8h3.5M1927.9 745.6h3.5M1951.1 730.2h3.5M1974.3 653.8h3.5M464.7 927.1h3.5M1254.4 927.1h3.5M1300.8 924.8h3.5M1370.5 925h3.5M1393.7 921.9h3.5M1416.9 929.1h3.5M1440.2 930h3.5M1463.4 925.9h3.5M1486.6 924h3.5M1509.8 925.7h3.5M1533.1 924h3.5M1556.3 926.5h3.5M1579.5 922.4h3.5M1602.7 923.3h3.5M1649.2 918.1h3.5M1672.4 923.1h3.5M1695.6 927.4h3.5M1718.8 934.3h3.5M1742.1 922.8h3.5M1765.3 928.8h3.5M1788.5 931.7h3.5M1811.7 932.5h3.5M1835 925.9h3.5M1858.2 926.5h3.5M1881.4 929.3h3.5M1904.6 923.6h3.5M1927.9 917.6h3.5M1951.1 932.7h3.5M1974.3 931h3.5M93.2 1398.4h3.5M116.4 1404.4h3.5M139.6 1421.6h3.5M162.8 1421.6h3.5M186 1404.4h3.5M209.3 1433.6h3.5M232.5 1421.6h3.5M255.7 1412.5h3.5M278.9 1412.5h3.5M302.2 1421.6h3.5M325.4 1437.9h3.5M348.6 1421.6h3.5M371.8 1421.6h3.5M395.1 1433.1h3.5M418.3 1398.4h3.5M441.5 1433.1h3.5M464.7 1398.4h3.5M488 1404.4h3.5M511.2 1421.6h3.5M534.4 1404.4h3.5M557.6 1433.6h3.5M580.9 1433.6h3.5M604.1 1421.6h3.5M627.3 1433.6h3.5M650.5 1412.5h3.5M673.8 1412.5h3.5M697 1404.4h3.5M720.2 1398.4h3.5M743.4 1433.6h3.5M766.7 1404.4h3.5M789.9 1383.5h3.5M813.1 1421.6h3.5M836.3 1412.5h3.5M859.5 1387.6h3.5M882.8 1412.5h3.5M906 1421.6h3.5M929.2 1421.6h3.5M952.4 1398.4h3.5M975.7 1421.6h3.5M998.9 1421.6h3.5M1022.1 1421.6h3.5M1045.3 1421.6h3.5M1068.6 1433.6h3.5M1091.8 1392.9h3.5M1115 1366.3h3.5M1138.2 1398.4h3.5M1161.5 1409.6h3.5M1184.7 1383.5h3.5M1207.9 1421.6h3.5M1231.1 1354.7h3.5M1254.4 1421.6h3.5M1277.6 1421.6h3.5M1300.8 1412.5h3.5M1324 1412.5h3.5M1347.3 1389.3h3.5M1370.5 1421.6h3.5M1393.7 1372.3h3.5M1416.9 1379.5h3.5M1440.2 1404.4h3.5M1463.4 1346.4h3.5M1486.6 1404.4h3.5M1509.8 1392.9h3.5M1533.1 1398.4h3.5M1556.3 1404.4h3.5M1579.5 1364.1h3.5M1602.7 1326h3.5M1625.9 1369.2h3.5M1649.2 1398.4h3.5M1672.4 1392.9h3.5M1695.6 1398.4h3.5M1718.8 1306.6h3.5M1742.1 1404.4h3.5M1765.3 1398.4h3.5M1788.5 1398.4h3.5M1811.7 1404.4h3.5M1835 1319.8h3.5M1858.2 1350.7h3.5M1881.4 1340.6h3.5M1904.6 1308.7h3.5M1927.9 1336.3h3.5M1951.1 1321.7h3.5M1974.3 1272h3.5M93.2 1695.4h3.5M116.4 1662.9h3.5M139.6 1650.9h3.5M162.8 1717.6h3.5M186 1680.3h3.5M209.3 1707.7h3.5M232.5 1686.8h3.5M255.7 1704.8h3.5M278.9 1717.6h3.5M302.2 1676.6h3.5M325.4 1671.4h3.5M348.6 1698.5h3.5M371.8 1626.6h3.5M395.1 1692h3.5M418.3 1722.7h3.5M441.5 1746.7h3.5M464.7 1658.6h3.5M488 1714.2h3.5M511.2 1667.2h3.5M534.4 1704.8h3.5M557.6 1697.9h3.5M580.9 1684.6h3.5M604.1 1710.4h3.5M627.3 1681.7h3.5M650.5 1722.7h3.5M673.8 1681.3h3.5M697 1710.4h3.5M720.2 1668.5h3.5M743.4 1681.7h3.5M766.7 1722.4h3.5M789.9 1672.8h3.5M813.1 1671.8h3.5M836.3 1674h3.5M859.5 1733.9h3.5M882.8 1727.4h3.5M906 1690.6h3.5M929.2 1727.9h3.5M952.4 1690.6h3.5M975.7 1666.3h3.5M998.9 1713.3h3.5M1022.1 1684.6h3.5M1045.3 1690.6h3.5M1068.6 1660.3h3.5M1091.8 1701.9h3.5M1115 1700.2h3.5M1138.2 1682.5h3.5M1161.5 1730.4h3.5M1184.7 1712.5h3.5M1207.9 1700.2h3.5M1231.1 1707.3h3.5M1254.4 1646.6h3.5M1277.6 1710.4h3.5M1300.8 1647.1h3.5M1324 1710.4h3.5M1347.3 1730.4h3.5M1370.5 1638.9h3.5M1393.7 1667.7h3.5M1416.9 1651.2h3.5M1440.2 1649.2h3.5M1463.4 1662.9h3.5M1486.6 1646.3h3.5M1509.8 1633.8h3.5M1533.1 1634.7h3.5M1556.3 1613.3h3.5M1579.5 1590.2h3.5M1602.7 1648.3h3.5M1625.9 1695.9h3.5M1649.2 1623.5h3.5M1672.4 1627.8h3.5M1695.6 1643.2h3.5M1718.8 1677.9h3.5M1742.1 1628.7h3.5M1765.3 1626.6h3.5M1788.5 1640.6h3.5M1811.7 1617.6h3.5M1835 1631.2h3.5M1858.2 1672.3h3.5M1881.4 1620.1h3.5M1904.6 1620.5h3.5M1927.9 1632.6h3.5M1951.1 1656.9h3.5M1974.3 1638.1h3.5"/>
<path fill="none" stroke="#333" stroke-width="7.8" stroke-linecap="round" d="M94.9 285.4V304.22M94.9 329.1v.01M94.9 338.6v.01M94.9 360v.01M118.1 291.4V297.36M118.1 312.9V321.38M118.1 336.9v.01M141.3 280.3V290.5M141.3 300.8v.01M141.3 304.3v.01M141.3 332v.01M164.6 265.7V271.63M164.6 284.6V300.79M164.6 321.4v.01M187.8 276.9V281.92M187.8 298.3v.01M187.8 355.7v.01M187.8 364v.01M211 274.3V299.08M211 309.9v.01M234.2 277.7V297.36M234.2 307.7v.01M234.2 324v.01M234.2 335.1v.01M234.2 347.1v.01M257.5 270V278.49M257.5 287.1V299.08M257.5 307.7v.01M257.5 321.4v.01M257.5 327.8v.01M280.7 255.4V271.63M280.7 280.3V287.93M303.9 269.1V275.06M303.9 288.9V300.79M303.9 318.5v.01M303.9 331.7v.01M303.9 386.6v.01M303.9 393.1v.01M327.1 259.7V285.35M327.1 302.9v.01M327.1 310.8v.01M327.1 320.2v.01M327.1 341.5v.01M327.1 372.9v.01M350.4 267.4V281.92M350.4 294.5v.01M350.4 313.7v.01M350.4 342v.01M350.4 346.3v.01M350.4 363.1v.01M373.6 283.7V307.65M373.6 325.4v.01M396.8 274.3V283.64M396.8 294v.01M396.8 312.5v.01M396.8 333.1v.01M396.8 374.9v.01M420 260.6V279.35M420 290.5v.01M420 301.7V304.22M420 315.4v.01M420 343.2v.01M420 400.3v.01M443.3 231.4V240.76M466.5 278.6V293.93M466.5 303.9v.01M466.5 323.1v.01M466.5 338.9v.01M466.5 375.1v.01M489.7 261.4V269.92M489.7 276V293.07M489.7 304.6v.01M512.9 283.7V297.36M512.9 322.3v.01M536.2 265.7V293.93M536.2 309.9v.01M536.2 349.7v.01M559.4 270V280.21M559.4 286.3V293.07M559.4 315.9v.01M582.6 256.3V288.79M582.6 299.2V307.65M582.6 315.5V321.38M605.8 248.6V259.63M605.8 266.5v.01M605.8 274.2v.01M605.8 282v.01M605.8 291.7v.01M629.1 268.3V292.22M629.1 300V314.51M652.3 286.3v.01M652.3 298.3v.01M652.3 332.6V336.81M652.3 344.9v.01M675.5 246V278.49M675.5 291.4v.01M675.5 308.9v.01M675.5 336.3v.01M675.5 389.7v.01M698.7 230.5V235.61M698.7 243.4v.01M698.7 251.1v.01M698.7 266.5v.01M698.7 271.7v.01M698.7 289.3v.01M722 244.3V275.06M722 285.1v.01M722 317.1v.01M745.2 241.7V281.92M745.2 299.6v.01M768.4 240.8V256.2M768.4 271.7v.01M768.4 283.7v.01M768.4 324.8v.01M791.6 256.3V278.49M791.6 288.8v.01M791.6 295.7v.01M791.6 302.2v.01M791.6 324.3v.01M814.9 257.1V275.06M814.9 284.5v.01M814.9 291.1v.01M838.1 268.3V292.22M838.1 309.4V311.08M838.1 328.3v.01M838.1 371.2v.01M861.3 252V281.92M861.3 316.8v.01M884.5 257.1V275.06M884.5 286.3V288.79M884.5 299.1v.01M884.5 317.1v.01M907.7 222.8V240.76M907.7 247.7v.01M931 226.3V239.04M931 260.9v.01M954.2 234.8V251.05M954.2 257.1v.01M954.2 266.5v.01M977.4 242.6V259.63M977.4 268.8v.01M977.4 277.7v.01M977.4 296.9v.01M1000.6 222V235.61M1000.6 245.4v.01M1000.6 260.5v.01M1000.6 277.3v.01M1023.9 240.8V254.48M1023.9 263.1v.01M1023.9 286.8v.01M1047.1 216.8V221.03M1047.1 231v.01M1047.1 238.7v.01M1070.3 222.8V234.75M1070.3 272.2v.01M1093.5 228.8V263.06M1093.5 285.7v.01M1116.8 222V232.18M1116.8 251.4v.01M1140 237.4V251.05M1140 259.7V266.49M1140 287.1v.01M1163.2 256.2v.01M1186.4 151.1v.01M1186.4 203.1V228.75M1186.4 235.3v.01M1209.7 206.5V225.32M1209.7 255.4v.01M1232.9 210.8v.01M1232.9 220.2v.01M1256.1 218.5V230.47M1256.1 236.2v.01M1256.1 242.6V256.2M1256.1 276.5v.01M1279.3 232.3V264.77M1279.3 274.2v.01M1279.3 281.6v.01M1279.3 293.2V297.36M1302.6 207.7v.01M1302.6 224.5V233.9M1325.8 203.1V218.46M1349 194.5V204.74M1349 214.6v.01M1372.2 203.1V211.6M1372.2 221.1V225.32M1372.2 233.9v.01M1372.2 251.6v.01M1395.5 191.1V199.59M1418.7 187.7V208.17M1441.9 199.7V213.31M1441.9 220.7v.01M1465.1 187.7V191.02M1465.1 198.8v.01M1488.4 193.7V213.31M1488.4 234.8v.01M1511.6 198.8V228.75M1511.6 251.1V251.91M1511.6 273.9v.01M1534.8 194.5V209.88M1534.8 223.3v.01M1558 196.2V215.03M1558 269.6v.01M1581.2 204V245.9M1581.2 252.8v.01M1581.2 264v.01M1581.2 280.6v.01M1604.5 192V194.45M1604.5 203.6v.01M1627.7 191.1V199.59M1650.9 194.5V230.47M1650.9 236.5v.01M1650.9 285.1v.01M1650.9 327.8v.01M1674.1 184.2V201.31M1697.4 185.9V201.31M1697.4 218.2v.01M1720.6 182.5V189.3M1720.6 200.1v.01M1743.8 182.5V189.3M1743.8 199.6v.01M1767 181.7V193.59M1767 209.1v.01M1767 217.1v.01M1790.3 177.4V187.58M1813.5 180.8V197.02M1813.5 209.6v.01M1813.5 229.1v.01M1836.7 179.9V191.02M1836.7 196.2v.01M1836.7 220.2v.01M1859.9 171.4V181.58M1859.9 203.4v.01M1883.2 197.1V211.6M1883.2 222.8v.01M1883.2 236.5v.01M1906.4 192.8V197.88M1906.4 206.5V220.17M1906.4 227.9v.01M1929.6 184.2V191.02M1929.6 203.1V206.45M1929.6 218.2v.01M1952.8 173.1V194.45M1952.8 222.3v.01M1976.1 208.2V228.75M94.9 640.4v.01M118.1 710.5V717.25M141.3 716.5V734.4M164.6 646.4v.01M164.6 655.5v.01M187.8 678.7v.01M187.8 687.8v.01M187.8 700.2V708.67M211 696.4v.01M211 705.3V718.97M234.2 709.6v.01M234.2 718.7v.01M257.5 671v.01M257.5 677v.01M280.7 632.4v.01M303.9 733.6V737.83M327.1 746.1v.01M350.4 705.3V706.1M373.6 748.2V753.27M396.8 718.2V722.4M420 616.4v.01M420 627.2v.01M443.3 644v.01M443.3 657.3V664.08M443.3 676.2V682.94M466.5 683.8v.01M466.5 690.7v.01M466.5 705.3V710.39M489.7 649v.01M512.9 732.8V742.98M536.2 633.3V634.92M536.2 650.4V652.93M559.4 725.9V730.97M582.6 737.9V741.26M605.8 685.9V698.38M629.1 732.4V736.12M652.3 667.9v.01M652.3 674.4v.01M652.3 683v.01M675.5 706.1V706.15M698.7 663.6v.01M698.7 672.7v.01M698.7 680.1v.01M745.2 743.1V749.84M768.4 629.5v.01M791.6 689.9V697.52M814.9 739.2v.01M814.9 748.2v.01M838.1 703.6V706.96M838.1 715.6V718.97M861.3 601.2v.01M861.3 748.2v.01M861.3 754.2v.01M884.5 647v.01M907.7 718.7v.01M931 684.7v.01M954.2 637v.01M954.2 647V658.93M977.4 751.6V751.61M1000.6 692.6v.01M1023.9 743.1V744.69M1047.1 722.5V725.83M1070.3 751.6V754.13M1093.5 647V648.64M1140 686.4v.01M1140 705.3V710.39M1163.2 586.9v.01M1163.2 614.4V616.05M1163.2 626.4V628.06M1209.7 725V727.54M1232.9 613.6V616.05M1232.9 763.9v.01M1256.1 744.8V749.84M1279.3 664.1v.01M1279.3 680.4v.01M1279.3 690.7V693.24M1302.6 743.1V748.12M1325.8 695.9V708.67M1349 633.3V634.92M1349 650.4V653.79M1372.2 748.2V753.27M1395.5 689.8v.01M1395.5 698.8v.01M1418.7 688.2V700.1M1441.9 736.2V746.41M1465.1 657.3V658.93M1465.1 668.7v.01M1488.4 734.5V744.69M1511.6 738.8V746.41M1534.8 738.8V744.69M1558 750.8V753.27M1581.2 741.3V746.41M1627.7 660.3v.01M1650.9 752.5V754.99M1674.1 737.1V744.69M1697.4 728.5V741.26M1743.8 744.8V751.56M1767 738.8V748.12M1790.3 737.9V746.41M1813.5 753.4V755.84M1836.7 650.1v.01M1836.7 657.3V658.93M1859.9 687.3V688.95M1883.2 708.8V718.11M1906.4 598.1v.01M1906.4 653.9V654.64M1929.6 673.6v.01M1929.6 682.1v.01M1929.6 691.9v.01M1952.8 621.6v.01M1952.8 635V645.21M1976.1 500.7v.01M1976.1 507.2v.01M1976.1 522.1v.01M466.5 1123.8v.01M1256.1 1101.7v.01M1256.1 1106.8v.01M1256.1 1121.7v.01M1372.2 1095.2v.01M1372.2 1103.2v.01M1465.1 1115.7v.01M1488.4 1109.4v.01M1488.4 1123.8v.01M1511.6 1108.4v.01M1511.6 1116.9v.01M1558 1102.9v.01M1581.2 1104.2v.01M1604.5 1115.7v.01M1674.1 1109.4v.01M1697.4 1113.2v.01M1743.8 1102v.01M1767 1099.5V1101.98M1836.7 1119.5v.01M1929.6 1107.2v.01M1952.8 1119.2v.01M1976.1 1106.3v.01M1976.1 1113.7v.01M94.9 1450.2v.01M94.9 1479v.01M141.3 1495.3v.01M164.6 1479v.01M187.8 1479v.01M327.1 1495.3v.01M350.4 1495.3v.01M420 1479v.01M489.7 1479v.01M536.2 1479v.01M559.4 1375.8v.01M605.8 1342.7V1359.77M605.8 1479v.01M698.7 1479v.01M722 1479v.01M768.4 1479v.01M791.6 1479v.01M861.3 1479v.01M907.7 1479v.01M931 1359v.01M931 1479v.01M1000.6 1479v.01M1023.9 1375.2v.01M1023.9 1379.5v.01M1023.9 1479v.01M1047.1 1479v.01M1093.5 1467v.01M1116.8 1433.2v.01M1116.8 1450.4v.01M1140 1479v.01M1186.4 1467v.01M1209.7 1345.3V1361.49M1209.7 1479v.01M1232.9 1298.1v.01M1232.9 1412.5v.01M1232.9 1421.6v.01M1232.9 1433.6v.01M1232.9 1450.4v.01M1349 1495.3v.01M1395.5 1479v.01M1465.1 1421.6v.01M1465.1 1433.2v.01M1465.1 1450.4v.01M1465.1 1479v.01M1581.2 1479v.01M1604.5 1404.4v.01M1604.5 1412.5v.01M1604.5 1421.6v.01M1604.5 1433.2v.01M1604.5 1450.4v.01M1627.7 1450.4v.01M1720.6 1358.1V1366.63M1720.6 1379.5v.01M1836.7 1385.6V1411.23M1836.7 1421.6v.01M1836.7 1433.2v.01M1836.7 1450.4v.01M1836.7 1479v.01M1859.9 1433.2v.01M1859.9 1450.4v.01M1859.9 1479v.01M1883.2 1433.2v.01M1883.2 1450.4v.01M1883.2 1479v.01M1906.4 1392.9v.01M1906.4 1398.4v.01M1906.4 1421.6v.01M1906.4 1433.2v.01M1906.4 1450.4v.01M1929.6 1450.4v.01M1929.6 1479v.01M1952.8 1412.5v.01M1952.8 1421.6v.01M1952.8 1433.2v.01M1952.8 1450.4v.01M1952.8 1479v.01M1976.1 1329V1344.33M1976.1 1357.2v.01M1976.1 1366.3v.01M1976.1 1387.6v.01M1976.1 1404.4v.01M94.9 1722.8V1732.96M94.9 1743.3v.01M94.9 1753.9v.01M118.1 1683.4V1686.78M141.3 1668.1V1668.82M164.6 1773.7v.01M187.8 1705.7V1710.72M187.8 1719.3v.01M187.8 1722.7v.01M211 1753.9v.01M211 1773.7v.01M234.2 1714.2V1717.56M234.2 1727.9v.01M257.5 1742.2v.01M257.5 1753.9v.01M257.5 1773.7v.01M280.7 1773.7v.01M303.9 1698.8V1707.3M327.1 1690.3V1703.88M350.4 1665.8v.01M350.4 1735.6v.01M350.4 1742.2v.01M350.4 1762.6v.01M373.6 1637.7v.01M396.8 1727.9V1732.96M420 1773.7v.01M466.5 1686.9V1697.04M489.7 1773.7v.01M512.9 1688.9v.01M512.9 1697.1v.01M536.2 1742.2v.01M536.2 1753.9v.01M559.4 1733.9v.01M559.4 1742.2v.01M559.4 1753.9v.01M582.6 1709.1V1717.56M582.6 1733.9v.01M582.6 1742.2v.01M605.8 1773.7v.01M629.1 1704V1717.56M652.3 1773.7v.01M675.5 1704V1709.01M675.5 1717.6v.01M698.7 1753.9v.01M698.7 1773.7v.01M722 1688.2v.01M722 1710.8v.01M745.2 1706.5V1715M745.2 1734.4v.01M768.4 1773.7v.01M791.6 1700.5V1704.74M814.9 1695.4V1700.46M814.9 1710.4v.01M838.1 1653.5v.01M838.1 1693.7V1702.17M838.1 1710.8v.01M907.7 1715.9V1732.96M907.7 1742.2v.01M907.7 1753.9v.01M954.2 1715.9V1729.53M954.2 1742.2v.01M954.2 1753.9v.01M977.4 1685.2V1690.2M977.4 1697.9v.01M1000.6 1753.9v.01M1000.6 1773.7v.01M1023.9 1712.5V1732.96M1023.9 1742.2v.01M1047.1 1715.9V1727.82M1047.1 1742.2v.01M1047.1 1753.9v.01M1070.3 1676.6V1681.65M1070.3 1692v.01M1093.5 1742.2v.01M1093.5 1762.6v.01M1093.5 1782.3v.01M1116.8 1733.9v.01M1116.8 1742.2v.01M1116.8 1753.9v.01M1116.8 1773.7v.01M1140 1706.5V1720.98M1163.2 1782.3v.01M1186.4 1750.1v.01M1186.4 1762.6v.01M1186.4 1782.3v.01M1209.7 1733.9v.01M1209.7 1742.2v.01M1209.7 1753.9v.01M1232.9 1753.9v.01M1232.9 1773.7v.01M1256.1 1669.8V1676.52M1279.3 1773.7v.01M1302.6 1676.6V1683.36M1302.6 1690.3V1693.62M1325.8 1773.7v.01M1372.2 1668.1V1678.23M1395.5 1702.3V1727.82M1418.7 1677.5V1683.36M1441.9 1680V1690.2M1465.1 1693.7V1702.17M1465.1 1709.1V1714.14M1488.4 1673.2V1679.94M1511.6 1656.1V1662.83M1511.6 1675.4v.01M1534.8 1654.4V1664.54M1558 1627.9V1637.18M1581.2 1602.2V1613.24M1604.5 1675.8V1681.65M1627.7 1733.9v.01M1627.7 1742.2v.01M1627.7 1753.9v.01M1650.9 1642.4V1654.28M1674.1 1651V1655.99M1697.4 1664.6V1676.52M1720.6 1714.2V1732.96M1720.6 1742.2v.01M1720.6 1753.9v.01M1743.8 1651V1657.7M1767 1645.8V1659.41M1790.3 1669.8V1678.23M1813.5 1635.6V1640.6M1836.7 1651V1659.41M1859.9 1711.7V1713.29M1883.2 1640.7V1646.59M1906.4 1639.8V1645.73M1929.6 1652.7V1666.25M1952.8 1687.7V1693.62M1976.1 1607.8v.01M1976.1 1671.5V1674.81"/>
<path fill="none" stroke="#d7261e" stroke-opacity=".92" stroke-width="4.8" d="M317.3 1450.4h19.7M363.7 1450.4h19.7M1014 1450.4h19.7M1060.5 1450.4h19.7M1130.1 1450.4h19.7M1478.5 1404.8h19.7M1734 1450.4h19.7"/>
<path fill="none" stroke="#d7261e" stroke-opacity=".92" stroke-width="3.4" d="M294.1 1742.2h19.7M317.3 1742.2h19.7M340.5 1742.2h19.7M363.7 1742.2h19.7M712.1 1742.2h19.7M781.8 1742.2h19.7M944.3 1742.2h19.7M1083.7 1742.2h19.7M1223 1742.2h19.7M1803.6 1742.2h19.7"/>
<path fill="none" stroke="#f1a340" stroke-opacity=".92" stroke-width="3.4" d="M85.1 1742.2h19.7M108.3 1673.1h19.7M131.5 1676h19.7M154.7 1710.8h19.7M201.2 1742.2h19.7M224.4 1656h19.7M247.6 1682.5h19.7M270.8 1710.8h19.7M294.1 1658.9h19.7M317.3 1710.8h19.7M340.5 1676h19.7M363.7 1648.3h19.7M387 1710.8h19.7M410.2 1690.8h19.7M456.6 1676h19.7M479.9 1662.4h19.7M503.1 1702.2h19.7M526.3 1690.8h19.7M549.5 1668.4h19.7M572.8 1722.4h19.7M596 1660.8h19.7M619.2 1682.2h19.7M642.4 1670.7h19.7M665.7 1690.8h19.7M688.9 1690.8h19.7M712.1 1657.4h19.7M735.3 1742.2h19.7M758.6 1662.4h19.7M781.8 1672.8h19.7M805 1666.3h19.7M828.2 1710.8h19.7M851.4 1690.8h19.7M874.7 1742.2h19.7M897.9 1662.4h19.7M944.3 1664.2h19.7M967.6 1678.8h19.7M990.8 1742.2h19.7M1014 1676h19.7M1037.2 1742.2h19.7M1060.5 1654.3h19.7M1083.7 1682.2h19.7M1106.9 1722.4h19.7M1130.1 1654.3h19.7M1153.4 1695.9h19.7M1176.6 1695.9h19.7M1199.8 1678.8h19.7M1223 1695.9h19.7M1246.3 1690.8h19.7M1269.5 1690.8h19.7M1292.7 1690.8h19.7M1315.9 1654.3h19.7M1339.2 1722.4h19.7M1362.4 1690.8h19.7M1385.6 1686.3h19.7M1408.8 1682.5h19.7M1432.1 1690.8h19.7M1455.3 1690.8h19.7M1478.5 1690.8h19.7M1501.7 1666.3h19.7M1525 1666.3h19.7M1548.2 1710.8h19.7M1571.4 1648.3h19.7M1594.6 1656h19.7M1617.8 1710.8h19.7M1641.1 1662.4h19.7M1664.3 1662.4h19.7M1687.5 1682.2h19.7M1710.7 1690.8h19.7M1734 1670.7h19.7M1757.2 1666.3h19.7M1780.4 1676h19.7M1803.6 1664.2h19.7M1826.9 1668.4h19.7M1850.1 1676h19.7M1873.3 1702.2h19.7M1896.5 1664.2h19.7M1919.8 1656h19.7M1943 1670.7h19.7M1966.2 1666.3h19.7"/>
<g font-size="16.0" text-anchor="middle" fill="#000">
<text x="94.9" y="1207.8">1</text>
<text x="118.1" y="1207.8">1</text>
<text x="141.3" y="1207.8">2</text>
<text x="187.8" y="1207.8">1</text>
<text x="211" y="1207.8">1</text>
<text x="234.2" y="1207.8">4</text>
<text x="257.5" y="1207.8">1</text>
<text x="280.7" y="1207.8">2</text>
<text x="303.9" y="1207.8">1</text>
<text x="327.1" y="1207.8">3</text>
<text x="350.4" y="1207.8">1</text>
<text x="420" y="1207.8">1</text>
<text x="443.3" y="1207.8">1</text>
<text x="512.9" y="1207.8">2</text>
<text x="582.6" y="1207.8">1</text>
<text x="745.2" y="1207.8">2</text>
<text x="791.6" y="1207.8">2</text>
<text x="814.9" y="1207.8">4</text>
<text x="838.1" y="1207.8">1</text>
<text x="861.3" y="1207.8">1</text>
<text x="884.5" y="1207.8">1</text>
<text x="931" y="1207.8">3</text>
<text x="954.2" y="1207.8">1</text>
<text x="977.4" y="1207.8">1</text>
<text x="1023.9" y="1207.8">2</text>
<text x="1047.1" y="1207.8">2</text>
<text x="1070.3" y="1207.8">1</text>
<text x="1116.8" y="1207.8">2</text>
<text x="1140" y="1207.8">2</text>
<text x="1256.1" y="1207.8">5</text>
<text x="1302.6" y="1207.8">5</text>
<text x="1325.8" y="1207.8">1</text>
<text x="1372.2" y="1207.8">5</text>
<text x="1418.7" y="1207.8">1</text>
<text x="1441.9" y="1207.8">5</text>
<text x="1465.1" y="1207.8">3</text>
<text x="1488.4" y="1207.8">5</text>
<text x="1534.8" y="1207.8">6</text>
<text x="1581.2" y="1207.8">1</text>
<text x="1627.7" y="1207.8">1</text>
<text x="1650.9" y="1207.8">7</text>
<text x="1674.1" y="1207.8">2</text>
<text x="1697.4" y="1207.8">5</text>
<text x="1743.8" y="1207.8">4</text>
<text x="1767" y="1207.8">1</text>
<text x="1790.3" y="1207.8">2</text>
<text x="1813.5" y="1207.8">12</text>
<text x="1859.9" y="1207.8">1</text>
<text x="1883.2" y="1207.8">8</text>
<text x="1906.4" y="1207.8">4</text>
<text x="1929.6" y="1207.8">8</text>
<text x="1952.8" y="1207.8">1</text>
<text x="1976.1" y="1207.8">11</text>
<text x="94.9" y="1568.9">1</text>
<text x="118.1" y="1568.9">1</text>
<text x="141.3" y="1568.9">2</text>
<text x="187.8" y="1568.9">1</text>
<text x="211" y="1568.9">1</text>
<text x="234.2" y="1568.9">4</text>
<text x="257.5" y="1568.9">1</text>
<text x="280.7" y="1568.9">2</text>
<text x="303.9" y="1568.9">1</text>
<text x="327.1" y="1568.9">3</text>
<text x="350.4" y="1568.9">1</text>
<text x="420" y="1568.9">1</text>
<text x="443.3" y="1568.9">1</text>
<text x="512.9" y="1568.9">2</text>
<text x="582.6" y="1568.9">1</text>
<text x="745.2" y="1568.9">2</text>
<text x="791.6" y="1568.9">2</text>
<text x="814.9" y="1568.9">4</text>
<text x="838.1" y="1568.9">1</text>
<text x="861.3" y="1568.9">1</text>
<text x="884.5" y="1568.9">1</text>
<text x="931" y="1568.9">3</text>
<text x="954.2" y="1568.9">1</text>
<text x="977.4" y="1568.9">1</text>
<text x="1023.9" y="1568.9">2</text>
<text x="1047.1" y="1568.9">2</text>
<text x="1070.3" y="1568.9">1</text>
<text x="1116.8" y="1568.9">2</text>
<text x="1140" y="1568.9">2</text>
<text x="1256.1" y="1568.9">5</text>
<text x="1302.6" y="1568.9">5</text>
<text x="1325.8" y="1568.9">1</text>
<text x="1372.2" y="1568.9">5</text>
<text x="1418.7" y="1568.9">1</text>
<text x="1441.9" y="1568.9">5</text>
<text x="1465.1" y="1568.9">3</text>
<text x="1488.4" y="1568.9">5</text>
<text x="1534.8" y="1568.9">6</text>
<text x="1581.2" y="1568.9">1</text>
<text x="1627.7" y="1568.9">1</text>
<text x="1650.9" y="1568.9">7</text>
<text x="1674.1" y="1568.9">2</text>
<text x="1697.4" y="1568.9">5</text>
<text x="1743.8" y="1568.9">4</text>
<text x="1767" y="1568.9">1</text>
<text x="1790.3" y="1568.9">2</text>
<text x="1813.5" y="1568.9">12</text>
<text x="1859.9" y="1568.9">1</text>
<text x="1883.2" y="1568.9">8</text>
<text x="1906.4" y="1568.9">4</text>
<text x="1929.6" y="1568.9">8</text>
<text x="1952.8" y="1568.9">1</text>
<text x="1976.1" y="1568.9">11</text>
</g>
<path fill="none" stroke="#000" stroke-width="4.4" d="M80.93 97.85V414.7M80.93 414.7H1990M80.93 463.2V780.1M80.93 780.1H1990M80.93 828.3V1145.2M80.93 1145.2H1990M80.93 1193.5V1510.3M80.93 1510.3H1990M80.93 1558.4V1793.1M80.93 1793.1H1990"/>
<path fill="none" stroke="#333" stroke-width="2.1" d="M94.9 414.7v5M118.12 414.7v5M141.35 414.7v5M164.57 414.7v5M187.8 414.7v5M211.02 414.7v5M234.25 414.7v5M257.47 414.7v5M280.69 414.7v5M303.92 414.7v5M327.14 414.7v5M350.37 414.7v5M373.59 414.7v5M396.81 414.7v5M420.04 414.7v5M443.26 414.7v5M466.49 414.7v5M489.71 414.7v5M512.94 414.7v5M536.16 414.7v5M559.38 414.7v5M582.61 414.7v5M605.83 414.7v5M629.06 414.7v5M652.28 414.7v5M675.5 414.7v5M698.73 414.7v5M721.95 414.7v5M745.18 414.7v5M768.4 414.7v5M791.63 414.7v5M814.85 414.7v5M838.07 414.7v5M861.3 414.7v5M884.52 414.7v5M907.75 414.7v5M930.97 414.7v5M954.2 414.7v5M977.42 414.7v5M1000.64 414.7v5M1023.87 414.7v5M1047.09 414.7v5M1070.32 414.7v5M1093.54 414.7v5M1116.76 414.7v5M1139.99 414.7v5M1163.21 414.7v5M1186.44 414.7v5M1209.66 414.7v5M1232.89 414.7v5M1256.11 414.7v5M1279.33 414.7v5M1302.56 414.7v5M1325.78 414.7v5M1349.01 414.7v5M1372.23 414.7v5M1395.46 414.7v5M1418.68 414.7v5M1441.9 414.7v5M1465.13 414.7v5M1488.35 414.7v5M1511.58 414.7v5M1534.8 414.7v5M1558.02 414.7v5M1581.25 414.7v5M1604.47 414.7v5M1627.7 414.7v5M1650.92 414.7v5M1674.15 414.7v5M1697.37 414.7v5M1720.59 414.7v5M1743.82 414.7v5M1767.04 414.7v5M1790.27 414.7v5M1813.49 414.7v5M1836.72 414.7v5M1859.94 414.7v5M1883.16 414.7v5M1906.39 414.7v5M1929.61 414.7v5M1952.84 414.7v5M1976.06 414.7v5M80.93 127h-5M80.93 227.1h-5M80.93 327.2h-5M94.9 780.1v5M118.12 780.1v5M141.35 780.1v5M164.57 780.1v5M187.8 780.1v5M211.02 780.1v5M234.25 780.1v5M257.47 780.1v5M280.69 780.1v5M303.92 780.1v5M327.14 780.1v5M350.37 780.1v5M373.59 780.1v5M396.81 780.1v5M420.04 780.1v5M443.26 780.1v5M466.49 780.1v5M489.71 780.1v5M512.94 780.1v5M536.16 780.1v5M559.38 780.1v5M582.61 780.1v5M605.83 780.1v5M629.06 780.1v5M652.28 780.1v5M675.5 780.1v5M698.73 780.1v5M721.95 780.1v5M745.18 780.1v5M768.4 780.1v5M791.63 780.1v5M814.85 780.1v5M838.07 780.1v5M861.3 780.1v5M884.52 780.1v5M907.75 780.1v5M930.97 780.1v5M954.2 780.1v5M977.42 780.1v5M1000.64 780.1v5M1023.87 780.1v5M1047.09 780.1v5M1070.32 780.1v5M1093.54 780.1v5M1116.76 780.1v5M1139.99 780.1v5M1163.21 780.1v5M1186.44 780.1v5M1209.66 780.1v5M1232.89 780.1v5M1256.11 780.1v5M1279.33 780.1v5M1302.56 780.1v5M1325.78 780.1v5M1349.01 780.1v5M1372.23 780.1v5M1395.46 780.1v5M1418.68 780.1v5M1441.9 780.1v5M1465.13 780.1v5M1488.35 780.1v5M1511.58 780.1v5M1534.8 780.1v5M1558.02 780.1v5M1581.25 780.1v5M1604.47 780.1v5M1627.7 780.1v5M1650.92 780.1v5M1674.15 780.1v5M1697.37 780.1v5M1720.59 780.1v5M1743.82 780.1v5M1767.04 780.1v5M1790.27 780.1v5M1813.49 780.1v5M1836.72 780.1v5M1859.94 780.1v5M1883.16 780.1v5M1906.39 780.1v5M1929.61 780.1v5M1952.84 780.1v5M1976.06 780.1v5M80.93 477.3h-5M80.93 549.4h-5M80.93 621.5h-5M80.93 693.6h-5M80.93 765.7h-5M94.9 1145.2v5M118.12 1145.2v5M141.35 1145.2v5M164.57 1145.2v5M187.8 1145.2v5M211.02 1145.2v5M234.25 1145.2v5M257.47 1145.2v5M280.69 1145.2v5M303.92 1145.2v5M327.14 1145.2v5M350.37 1145.2v5M373.59 1145.2v5M396.81 1145.2v5M420.04 1145.2v5M443.26 1145.2v5M466.49 1145.2v5M489.71 1145.2v5M512.94 1145.2v5M536.16 1145.2v5M559.38 1145.2v5M582.61 1145.2v5M605.83 1145.2v5M629.06 1145.2v5M652.28 1145.2v5M675.5 1145.2v5M698.73 1145.2v5M721.95 1145.2v5M745.18 1145.2v5M768.4 1145.2v5M791.63 1145.2v5M814.85 1145.2v5M838.07 1145.2v5M861.3 1145.2v5M884.52 1145.2v5M907.75 1145.2v5M930.97 1145.2v5M954.2 1145.2v5M977.42 1145.2v5M1000.64 1145.2v5M1023.87 1145.2v5M1047.09 1145.2v5M1070.32 1145.2v5M1093.54 1145.2v5M1116.76 1145.2v5M1139.99 1145.2v5M1163.21 1145.2v5M1186.44 1145.2v5M1209.66 1145.2v5M1232.89 1145.2v5M1256.11 1145.2v5M1279.33 1145.2v5M1302.56 1145.2v5M1325.78 1145.2v5M1349.01 1145.2v5M1372.23 1145.2v5M1395.46 1145.2v5M1418.68 1145.2v5M1441.9 1145.2v5M1465.13 1145.2v5M1488.35 1145.2v5M1511.58 1145.2v5M1534.8 1145.2v5M1558.02 1145.2v5M1581.25 1145.2v5M1604.47 1145.2v5M1627.7 1145.2v5M1650.92 1145.2v5M1674.15 1145.2v5M1697.37 1145.2v5M1720.59 1145.2v5M1743.82 1145.2v5M1767.04 1145.2v5M1790.27 1145.2v5M1813.49 1145.2v5M1836.72 1145.2v5M1859.94 1145.2v5M1883.16 1145.2v5M1906.39 1145.2v5M1929.61 1145.2v5M1952.84 1145.2v5M1976.06 1145.2v5M80.93 842.1h-5M80.93 914.3h-5M80.93 986.5h-5M80.93 1058.7h-5M80.93 1130.9h-5M94.9 1510.3v5M118.12 1510.3v5M141.35 1510.3v5M164.57 1510.3v5M187.8 1510.3v5M211.02 1510.3v5M234.25 1510.3v5M257.47 1510.3v5M280.69 1510.3v5M303.92 1510.3v5M327.14 1510.3v5M350.37 1510.3v5M373.59 1510.3v5M396.81 1510.3v5M420.04 1510.3v5M443.26 1510.3v5M466.49 1510.3v5M489.71 1510.3v5M512.94 1510.3v5M536.16 1510.3v5M559.38 1510.3v5M582.61 1510.3v5M605.83 1510.3v5M629.06 1510.3v5M652.28 1510.3v5M675.5 1510.3v5M698.73 1510.3v5M721.95 1510.3v5M745.18 1510.3v5M768.4 1510.3v5M791.63 1510.3v5M814.85 1510.3v5M838.07 1510.3v5M861.3 1510.3v5M884.52 1510.3v5M907.75 1510.3v5M930.97 1510.3v5M954.2 1510.3v5M977.42 1510.3v5M1000.64 1510.3v5M1023.87 1510.3v5M1047.09 1510.3v5M1070.32 1510.3v5M1093.54 1510.3v5M1116.76 1510.3v5M1139.99 1510.3v5M1163.21 1510.3v5M1186.44 1510.3v5M1209.66 1510.3v5M1232.89 1510.3v5M1256.11 1510.3v5M1279.33 1510.3v5M1302.56 1510.3v5M1325.78 1510.3v5M1349.01 1510.3v5M1372.23 1510.3v5M1395.46 1510.3v5M1418.68 1510.3v5M1441.9 1510.3v5M1465.13 1510.3v5M1488.35 1510.3v5M1511.58 1510.3v5M1534.8 1510.3v5M1558.02 1510.3v5M1581.25 1510.3v5M1604.47 1510.3v5M1627.7 1510.3v5M1650.92 1510.3v5M1674.15 1510.3v5M1697.37 1510.3v5M1720.59 1510.3v5M1743.82 1510.3v5M1767.04 1510.3v5M1790.27 1510.3v5M1813.49 1510.3v5M1836.72 1510.3v5M1859.94 1510.3v5M1883.16 1510.3v5M1906.39 1510.3v5M1929.61 1510.3v5M1952.84 1510.3v5M1976.06 1510.3v5M80.93 1259.4h-5M80.93 1354.8h-5M80.93 1450.2h-5M94.9 1793.1v5M118.12 1793.1v5M141.35 1793.1v5M164.57 1793.1v5M187.8 1793.1v5M211.02 1793.1v5M234.25 1793.1v5M257.47 1793.1v5M280.69 1793.1v5M303.92 1793.1v5M327.14 1793.1v5M350.37 1793.1v5M373.59 1793.1v5M396.81 1793.1v5M420.04 1793.1v5M443.26 1793.1v5M466.49 1793.1v5M489.71 1793.1v5M512.94 1793.1v5M536.16 1793.1v5M559.38 1793.1v5M582.61 1793.1v5M605.83 1793.1v5M629.06 1793.1v5M652.28 1793.1v5M675.5 1793.1v5M698.73 1793.1v5M721.95 1793.1v5M745.18 1793.1v5M768.4 1793.1v5M791.63 1793.1v5M814.85 1793.1v5M838.07 1793.1v5M861.3 1793.1v5M884.52 1793.1v5M907.75 1793.1v5M930.97 1793.1v5M954.2 1793.1v5M977.42 1793.1v5M1000.64 1793.1v5M1023.87 1793.1v5M1047.09 1793.1v5M1070.32 1793.1v5M1093.54 1793.1v5M1116.76 1793.1v5M1139.99 1793.1v5M1163.21 1793.1v5M1186.44 1793.1v5M1209.66 1793.1v5M1232.89 1793.1v5M1256.11 1793.1v5M1279.33 1793.1v5M1302.56 1793.1v5M1325.78 1793.1v5M1349.01 1793.1v5M1372.23 1793.1v5M1395.46 1793.1v5M1418.68 1793.1v5M1441.9 1793.1v5M1465.13 1793.1v5M1488.35 1793.1v5M1511.58 1793.1v5M1534.8 1793.1v5M1558.02 1793.1v5M1581.25 1793.1v5M1604.47 1793.1v5M1627.7 1793.1v5M1650.92 1793.1v5M1674.15 1793.1v5M1697.37 1793.1v5M1720.59 1793.1v5M1743.82 1793.1v5M1767.04 1793.1v5M1790.27 1793.1v5M1813.49 1793.1v5M1836.72 1793.1v5M1859.94 1793.1v5M1883.16 1793.1v5M1906.39 1793.1v5M1929.61 1793.1v5M1952.84 1793.1v5M1976.06 1793.1v5M80.93 1609.6h-5M80.93 1675.95h-5M80.93 1742.3h-5"/>
<g font-size="20.0" text-anchor="end" fill="#000">
<text x="72.1" y="134.4">2</text>
<text x="72.1" y="234.5">0</text>
<text x="72.1" y="334.6">−2</text>
<text x="72.1" y="484.8">1.00</text>
<text x="72.1" y="556.9">0.75</text>
<text x="72.1" y="629">0.50</text>
<text x="72.1" y="701.1">0.25</text>
<text x="72.1" y="773.2">0.00</text>
<text x="72.1" y="849.6">1.00</text>
<text x="72.1" y="921.8">0.75</text>
<text x="72.1" y="994">0.50</text>
<text x="72.1" y="1066.2">0.25</text>
<text x="72.1" y="1138.4">0.00</text>
<text x="72.1" y="1266.9">2</text>
<text x="72.1" y="1362.2">1</text>
<text x="72.1" y="1457.7">0</text>
<text x="72.1" y="1617">2</text>
<text x="72.1" y="1683.4">1</text>
<text x="72.1" y="1749.8">0</text>
</g>
<g font-size="20.0" text-anchor="middle" fill="#000">
<text transform="translate(24 256.3) rotate(-90)">log10(DSB rate per cycle)</text>
<text transform="translate(24 621.6) rotate(-90)">%unrepaired DSBs per cycle</text>
<text transform="translate(24 986.8) rotate(-90)">probability of WGD per cell</text>
<text transform="translate(24 1351.9) rotate(-90)">log10(mean #fusions per cycle)</text>
<text transform="translate(24 1675.8) rotate(-90)">log10(mean #ecDNAs per cell)</text>
</g>
<g font-size="20.0" text-anchor="end">
<text fill="#a8a8a8" transform="translate(105.7 1812.1) rotate(-45)">SA517371</text>
<text fill="#a8a8a8" transform="translate(128.9 1812.1) rotate(-45)">SA533709</text>
<text fill="#a8a8a8" transform="translate(152.1 1812.1) rotate(-45)">SA533681</text>
<text fill="#a8a8a8" transform="translate(175.4 1812.1) rotate(-45)">SA530438</text>
<text fill="#a8a8a8" transform="translate(198.6 1812.1) rotate(-45)">SA517374</text>
<text fill="#a8a8a8" transform="translate(221.8 1812.1) rotate(-45)">SA530551</text>
<text fill="#a8a8a8" transform="translate(245 1812.1) rotate(-45)">SA529759</text>
<text fill="#a8a8a8" transform="translate(268.3 1812.1) rotate(-45)">SA411713</text>
<text fill="#a8a8a8" transform="translate(291.5 1812.1) rotate(-45)">SA544136</text>
<text fill="#a8a8a8" transform="translate(314.7 1812.1) rotate(-45)">SA501481</text>
<text fill="#a8a8a8" transform="translate(337.9 1812.1) rotate(-45)">SA541926</text>
<text fill="#a8a8a8" transform="translate(361.2 1812.1) rotate(-45)">SA533666</text>
<text fill="#a8a8a8" transform="translate(384.4 1812.1) rotate(-45)">SA501515</text>
<text fill="#a8a8a8" transform="translate(407.6 1812.1) rotate(-45)">SA530442</text>
<text fill="#a8a8a8" transform="translate(430.8 1812.1) rotate(-45)">SA558649</text>
<text fill="#a8a8a8" transform="translate(454.1 1812.1) rotate(-45)">SA530582</text>
<text fill="#000" transform="translate(477.3 1812.1) rotate(-45)">SA533682</text>
<text fill="#a8a8a8" transform="translate(500.5 1812.1) rotate(-45)">SA515360</text>
<text fill="#a8a8a8" transform="translate(523.7 1812.1) rotate(-45)">SA530532</text>
<text fill="#a8a8a8" transform="translate(547 1812.1) rotate(-45)">SA410223</text>
<text fill="#a8a8a8" transform="translate(570.2 1812.1) rotate(-45)">SA501590</text>
<text fill="#a8a8a8" transform="translate(593.4 1812.1) rotate(-45)">SA530444</text>
<text fill="#a8a8a8" transform="translate(616.6 1812.1) rotate(-45)">SA501622</text>
<text fill="#a8a8a8" transform="translate(639.9 1812.1) rotate(-45)">SA533702</text>
<text fill="#a8a8a8" transform="translate(663.1 1812.1) rotate(-45)">SA411401</text>
<text fill="#a8a8a8" transform="translate(686.3 1812.1) rotate(-45)">SA518664</text>
<text fill="#a8a8a8" transform="translate(709.5 1812.1) rotate(-45)">SA533743</text>
<text fill="#a8a8a8" transform="translate(732.8 1812.1) rotate(-45)">SA505750</text>
<text fill="#a8a8a8" transform="translate(756 1812.1) rotate(-45)">SA543426</text>
<text fill="#a8a8a8" transform="translate(779.2 1812.1) rotate(-45)">SA501627</text>
<text fill="#a8a8a8" transform="translate(802.4 1812.1) rotate(-45)">SA505328</text>
<text fill="#a8a8a8" transform="translate(825.7 1812.1) rotate(-45)">SA533718</text>
<text fill="#a8a8a8" transform="translate(848.9 1812.1) rotate(-45)">SA538869</text>
<text fill="#a8a8a8" transform="translate(872.1 1812.1) rotate(-45)">SA409327</text>
<text fill="#a8a8a8" transform="translate(895.3 1812.1) rotate(-45)">SA507306</text>
<text fill="#a8a8a8" transform="translate(918.5 1812.1) rotate(-45)">SA501523</text>
<text fill="#a8a8a8" transform="translate(941.8 1812.1) rotate(-45)">SA541782</text>
<text fill="#a8a8a8" transform="translate(965 1812.1) rotate(-45)">SA529841</text>
<text fill="#a8a8a8" transform="translate(988.2 1812.1) rotate(-45)">SA542427</text>
<text fill="#a8a8a8" transform="translate(1011.4 1812.1) rotate(-45)">SA517269</text>
<text fill="#a8a8a8" transform="translate(1034.7 1812.1) rotate(-45)">SA542718</text>
<text fill="#a8a8a8" transform="translate(1057.9 1812.1) rotate(-45)">SA530583</text>
<text fill="#a8a8a8" transform="translate(1081.1 1812.1) rotate(-45)">SA501393</text>
<text fill="#a8a8a8" transform="translate(1104.3 1812.1) rotate(-45)">SA533736</text>
<text fill="#a8a8a8" transform="translate(1127.6 1812.1) rotate(-45)">SA541948</text>
<text fill="#a8a8a8" transform="translate(1150.8 1812.1) rotate(-45)">SA515347</text>
<text fill="#a8a8a8" transform="translate(1174 1812.1) rotate(-45)">SA570881</text>
<text fill="#a8a8a8" transform="translate(1197.2 1812.1) rotate(-45)">SA506702</text>
<text fill="#a8a8a8" transform="translate(1220.5 1812.1) rotate(-45)">SA518622</text>
<text fill="#a8a8a8" transform="translate(1243.7 1812.1) rotate(-45)">SA410892</text>
<text fill="#000" transform="translate(1266.9 1812.1) rotate(-45)">SA538881</text>
<text fill="#a8a8a8" transform="translate(1290.1 1812.1) rotate(-45)">SA533770</text>
<text fill="#000" transform="translate(1313.4 1812.1) rotate(-45)">SA538889</text>
<text fill="#a8a8a8" transform="translate(1336.6 1812.1) rotate(-45)">SA515463</text>
<text fill="#a8a8a8" transform="translate(1359.8 1812.1) rotate(-45)">SA570837</text>
<text fill="#000" transform="translate(1383 1812.1) rotate(-45)">SA538884</text>
<text fill="#000" transform="translate(1406.3 1812.1) rotate(-45)">SA520182</text>
<text fill="#000" transform="translate(1429.5 1812.1) rotate(-45)">SA520201</text>
<text fill="#000" transform="translate(1452.7 1812.1) rotate(-45)">SA538878</text>
<text fill="#000" transform="translate(1475.9 1812.1) rotate(-45)">SA505889</text>
<text fill="#000" transform="translate(1499.2 1812.1) rotate(-45)">SA538893</text>
<text fill="#000" transform="translate(1522.4 1812.1) rotate(-45)">SA528899</text>
<text fill="#000" transform="translate(1545.6 1812.1) rotate(-45)">SA533741</text>
<text fill="#000" transform="translate(1568.8 1812.1) rotate(-45)">SA541870</text>
<text fill="#000" transform="translate(1592 1812.1) rotate(-45)">SA505950</text>
<text fill="#000" transform="translate(1615.3 1812.1) rotate(-45)">SA528999</text>
<text fill="#a8a8a8" transform="translate(1638.5 1812.1) rotate(-45)">SA541928</text>
<text fill="#000" transform="translate(1661.7 1812.1) rotate(-45)">SA557315</text>
<text fill="#000" transform="translate(1684.9 1812.1) rotate(-45)">SA505529</text>
<text fill="#000" transform="translate(1708.2 1812.1) rotate(-45)">SA538873</text>
<text fill="#000" transform="translate(1731.4 1812.1) rotate(-45)">SA412291</text>
<text fill="#000" transform="translate(1754.6 1812.1) rotate(-45)">SA411297</text>
<text fill="#000" transform="translate(1777.8 1812.1) rotate(-45)">SA505389</text>
<text fill="#000" transform="translate(1801.1 1812.1) rotate(-45)">SA410670</text>
<text fill="#000" transform="translate(1824.3 1812.1) rotate(-45)">SA557416</text>
<text fill="#000" transform="translate(1847.5 1812.1) rotate(-45)">SA411002</text>
<text fill="#000" transform="translate(1870.7 1812.1) rotate(-45)">SA518611</text>
<text fill="#000" transform="translate(1894 1812.1) rotate(-45)">SA541924</text>
<text fill="#000" transform="translate(1917.2 1812.1) rotate(-45)">SA505633</text>
<text fill="#000" transform="translate(1940.4 1812.1) rotate(-45)">SA528890</text>
<text fill="#000" transform="translate(1963.6 1812.1) rotate(-45)">SA505540</text>
<text fill="#000" transform="translate(1986.9 1812.1) rotate(-45)">SA533615</text>
</g>
</svg>
</body></html>
